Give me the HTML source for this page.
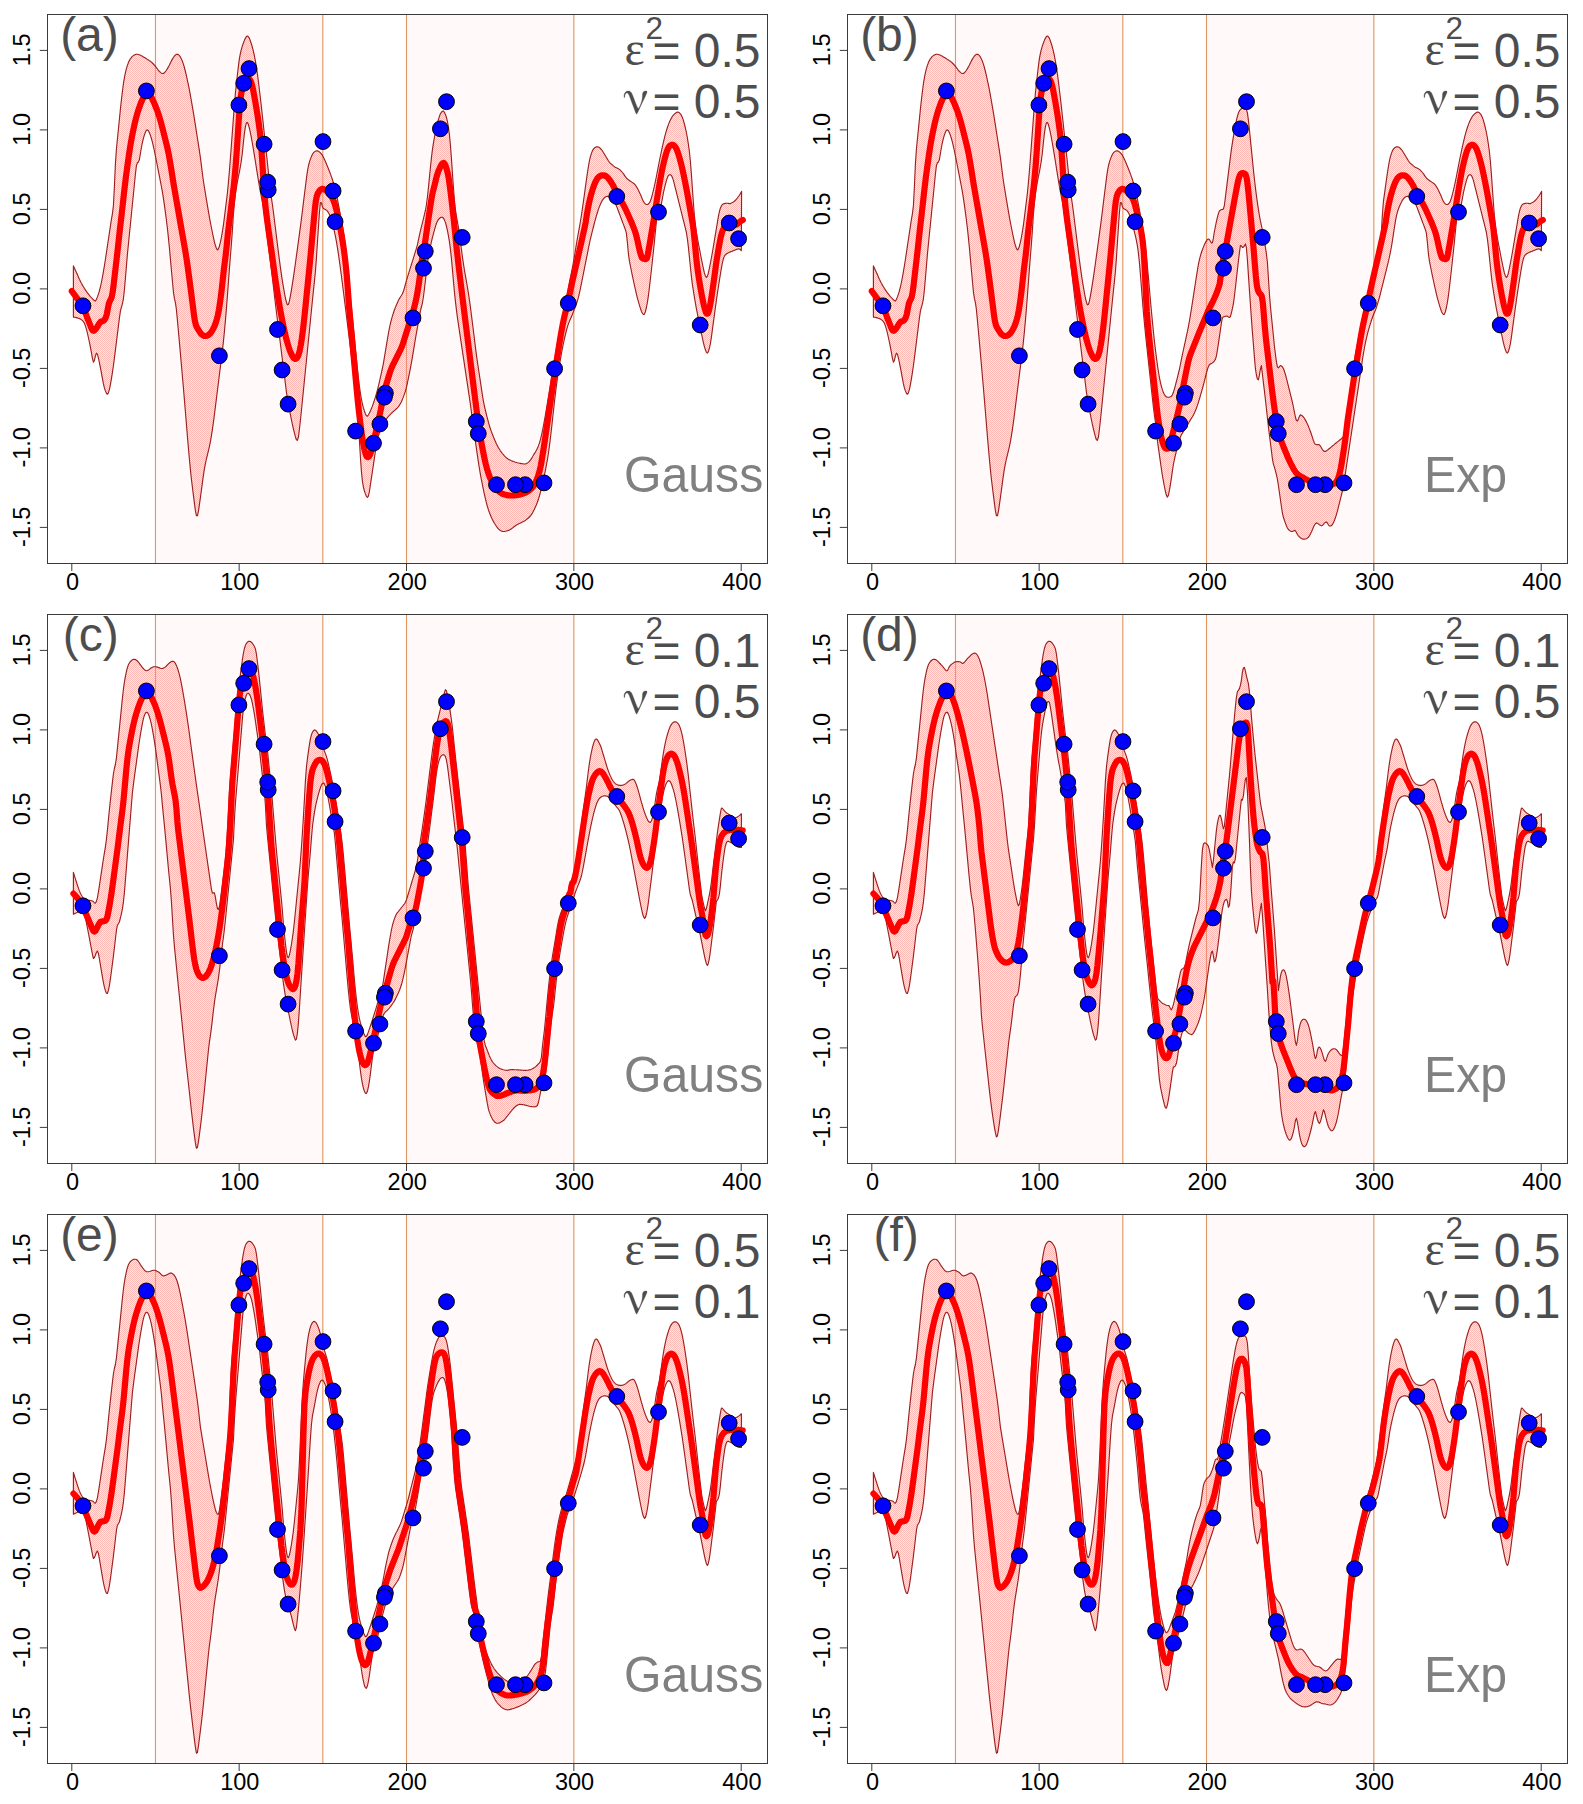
<!DOCTYPE html>
<html><head><meta charset="utf-8"><title>GP panels</title>
<style>
html,body{margin:0;padding:0;background:#fff;}
svg{display:block;}
text{font-family:"Liberation Sans",sans-serif;}
.ax{font-size:23.5px;fill:#000;}
.big{font-size:48px;}
.sup{font-size:31.5px;}
.gk{font-size:48.2px;}
.sym{font-family:"Liberation Serif",serif;font-size:48px;}
</style></head><body>
<svg width="1583" height="1804" viewBox="0 0 1583 1804">
<defs>
<path id="hl" d="M-501.75 563l549-549M-499.75 563l549-549M-497.75 563l549-549M-495.75 563l549-549M-493.75 563l549-549M-491.75 563l549-549M-489.75 563l549-549M-487.75 563l549-549M-485.75 563l549-549M-483.75 563l549-549M-481.75 563l549-549M-479.75 563l549-549M-477.75 563l549-549M-475.75 563l549-549M-473.75 563l549-549M-471.75 563l549-549M-469.75 563l549-549M-467.75 563l549-549M-465.75 563l549-549M-463.75 563l549-549M-461.75 563l549-549M-459.75 563l549-549M-457.75 563l549-549M-455.75 563l549-549M-453.75 563l549-549M-451.75 563l549-549M-449.75 563l549-549M-447.75 563l549-549M-445.75 563l549-549M-443.75 563l549-549M-441.75 563l549-549M-439.75 563l549-549M-437.75 563l549-549M-435.75 563l549-549M-433.75 563l549-549M-431.75 563l549-549M-429.75 563l549-549M-427.75 563l549-549M-425.75 563l549-549M-423.75 563l549-549M-421.75 563l549-549M-419.75 563l549-549M-417.75 563l549-549M-415.75 563l549-549M-413.75 563l549-549M-411.75 563l549-549M-409.75 563l549-549M-407.75 563l549-549M-405.75 563l549-549M-403.75 563l549-549M-401.75 563l549-549M-399.75 563l549-549M-397.75 563l549-549M-395.75 563l549-549M-393.75 563l549-549M-391.75 563l549-549M-389.75 563l549-549M-387.75 563l549-549M-385.75 563l549-549M-383.75 563l549-549M-381.75 563l549-549M-379.75 563l549-549M-377.75 563l549-549M-375.75 563l549-549M-373.75 563l549-549M-371.75 563l549-549M-369.75 563l549-549M-367.75 563l549-549M-365.75 563l549-549M-363.75 563l549-549M-361.75 563l549-549M-359.75 563l549-549M-357.75 563l549-549M-355.75 563l549-549M-353.75 563l549-549M-351.75 563l549-549M-349.75 563l549-549M-347.75 563l549-549M-345.75 563l549-549M-343.75 563l549-549M-341.75 563l549-549M-339.75 563l549-549M-337.75 563l549-549M-335.75 563l549-549M-333.75 563l549-549M-331.75 563l549-549M-329.75 563l549-549M-327.75 563l549-549M-325.75 563l549-549M-323.75 563l549-549M-321.75 563l549-549M-319.75 563l549-549M-317.75 563l549-549M-315.75 563l549-549M-313.75 563l549-549M-311.75 563l549-549M-309.75 563l549-549M-307.75 563l549-549M-305.75 563l549-549M-303.75 563l549-549M-301.75 563l549-549M-299.75 563l549-549M-297.75 563l549-549M-295.75 563l549-549M-293.75 563l549-549M-291.75 563l549-549M-289.75 563l549-549M-287.75 563l549-549M-285.75 563l549-549M-283.75 563l549-549M-281.75 563l549-549M-279.75 563l549-549M-277.75 563l549-549M-275.75 563l549-549M-273.75 563l549-549M-271.75 563l549-549M-269.75 563l549-549M-267.75 563l549-549M-265.75 563l549-549M-263.75 563l549-549M-261.75 563l549-549M-259.75 563l549-549M-257.75 563l549-549M-255.75 563l549-549M-253.75 563l549-549M-251.75 563l549-549M-249.75 563l549-549M-247.75 563l549-549M-245.75 563l549-549M-243.75 563l549-549M-241.75 563l549-549M-239.75 563l549-549M-237.75 563l549-549M-235.75 563l549-549M-233.75 563l549-549M-231.75 563l549-549M-229.75 563l549-549M-227.75 563l549-549M-225.75 563l549-549M-223.75 563l549-549M-221.75 563l549-549M-219.75 563l549-549M-217.75 563l549-549M-215.75 563l549-549M-213.75 563l549-549M-211.75 563l549-549M-209.75 563l549-549M-207.75 563l549-549M-205.75 563l549-549M-203.75 563l549-549M-201.75 563l549-549M-199.75 563l549-549M-197.75 563l549-549M-195.75 563l549-549M-193.75 563l549-549M-191.75 563l549-549M-189.75 563l549-549M-187.75 563l549-549M-185.75 563l549-549M-183.75 563l549-549M-181.75 563l549-549M-179.75 563l549-549M-177.75 563l549-549M-175.75 563l549-549M-173.75 563l549-549M-171.75 563l549-549M-169.75 563l549-549M-167.75 563l549-549M-165.75 563l549-549M-163.75 563l549-549M-161.75 563l549-549M-159.75 563l549-549M-157.75 563l549-549M-155.75 563l549-549M-153.75 563l549-549M-151.75 563l549-549M-149.75 563l549-549M-147.75 563l549-549M-145.75 563l549-549M-143.75 563l549-549M-141.75 563l549-549M-139.75 563l549-549M-137.75 563l549-549M-135.75 563l549-549M-133.75 563l549-549M-131.75 563l549-549M-129.75 563l549-549M-127.75 563l549-549M-125.75 563l549-549M-123.75 563l549-549M-121.75 563l549-549M-119.75 563l549-549M-117.75 563l549-549M-115.75 563l549-549M-113.75 563l549-549M-111.75 563l549-549M-109.75 563l549-549M-107.75 563l549-549M-105.75 563l549-549M-103.75 563l549-549M-101.75 563l549-549M-99.75 563l549-549M-97.75 563l549-549M-95.75 563l549-549M-93.75 563l549-549M-91.75 563l549-549M-89.75 563l549-549M-87.75 563l549-549M-85.75 563l549-549M-83.75 563l549-549M-81.75 563l549-549M-79.75 563l549-549M-77.75 563l549-549M-75.75 563l549-549M-73.75 563l549-549M-71.75 563l549-549M-69.75 563l549-549M-67.75 563l549-549M-65.75 563l549-549M-63.75 563l549-549M-61.75 563l549-549M-59.75 563l549-549M-57.75 563l549-549M-55.75 563l549-549M-53.75 563l549-549M-51.75 563l549-549M-49.75 563l549-549M-47.75 563l549-549M-45.75 563l549-549M-43.75 563l549-549M-41.75 563l549-549M-39.75 563l549-549M-37.75 563l549-549M-35.75 563l549-549M-33.75 563l549-549M-31.75 563l549-549M-29.75 563l549-549M-27.75 563l549-549M-25.75 563l549-549M-23.75 563l549-549M-21.75 563l549-549M-19.75 563l549-549M-17.75 563l549-549M-15.75 563l549-549M-13.75 563l549-549M-11.75 563l549-549M-9.75 563l549-549M-7.75 563l549-549M-5.75 563l549-549M-3.75 563l549-549M-1.75 563l549-549M0.25 563l549-549M2.25 563l549-549M4.25 563l549-549M6.25 563l549-549M8.25 563l549-549M10.25 563l549-549M12.25 563l549-549M14.25 563l549-549M16.25 563l549-549M18.25 563l549-549M20.25 563l549-549M22.25 563l549-549M24.25 563l549-549M26.25 563l549-549M28.25 563l549-549M30.25 563l549-549M32.25 563l549-549M34.25 563l549-549M36.25 563l549-549M38.25 563l549-549M40.25 563l549-549M42.25 563l549-549M44.25 563l549-549M46.25 563l549-549M48.25 563l549-549M50.25 563l549-549M52.25 563l549-549M54.25 563l549-549M56.25 563l549-549M58.25 563l549-549M60.25 563l549-549M62.25 563l549-549M64.25 563l549-549M66.25 563l549-549M68.25 563l549-549M70.25 563l549-549M72.25 563l549-549M74.25 563l549-549M76.25 563l549-549M78.25 563l549-549M80.25 563l549-549M82.25 563l549-549M84.25 563l549-549M86.25 563l549-549M88.25 563l549-549M90.25 563l549-549M92.25 563l549-549M94.25 563l549-549M96.25 563l549-549M98.25 563l549-549M100.25 563l549-549M102.25 563l549-549M104.25 563l549-549M106.25 563l549-549M108.25 563l549-549M110.25 563l549-549M112.25 563l549-549M114.25 563l549-549M116.25 563l549-549M118.25 563l549-549M120.25 563l549-549M122.25 563l549-549M124.25 563l549-549M126.25 563l549-549M128.25 563l549-549M130.25 563l549-549M132.25 563l549-549M134.25 563l549-549M136.25 563l549-549M138.25 563l549-549M140.25 563l549-549M142.25 563l549-549M144.25 563l549-549M146.25 563l549-549M148.25 563l549-549M150.25 563l549-549M152.25 563l549-549M154.25 563l549-549M156.25 563l549-549M158.25 563l549-549M160.25 563l549-549M162.25 563l549-549M164.25 563l549-549M166.25 563l549-549M168.25 563l549-549M170.25 563l549-549M172.25 563l549-549M174.25 563l549-549M176.25 563l549-549M178.25 563l549-549M180.25 563l549-549M182.25 563l549-549M184.25 563l549-549M186.25 563l549-549M188.25 563l549-549M190.25 563l549-549M192.25 563l549-549M194.25 563l549-549M196.25 563l549-549M198.25 563l549-549M200.25 563l549-549M202.25 563l549-549M204.25 563l549-549M206.25 563l549-549M208.25 563l549-549M210.25 563l549-549M212.25 563l549-549M214.25 563l549-549M216.25 563l549-549M218.25 563l549-549M220.25 563l549-549M222.25 563l549-549M224.25 563l549-549M226.25 563l549-549M228.25 563l549-549M230.25 563l549-549M232.25 563l549-549M234.25 563l549-549M236.25 563l549-549M238.25 563l549-549M240.25 563l549-549M242.25 563l549-549M244.25 563l549-549M246.25 563l549-549M248.25 563l549-549M250.25 563l549-549M252.25 563l549-549M254.25 563l549-549M256.25 563l549-549M258.25 563l549-549M260.25 563l549-549M262.25 563l549-549M264.25 563l549-549M266.25 563l549-549M268.25 563l549-549M270.25 563l549-549M272.25 563l549-549M274.25 563l549-549M276.25 563l549-549M278.25 563l549-549M280.25 563l549-549M282.25 563l549-549M284.25 563l549-549M286.25 563l549-549M288.25 563l549-549M290.25 563l549-549M292.25 563l549-549M294.25 563l549-549M296.25 563l549-549M298.25 563l549-549M300.25 563l549-549M302.25 563l549-549M304.25 563l549-549M306.25 563l549-549M308.25 563l549-549M310.25 563l549-549M312.25 563l549-549M314.25 563l549-549M316.25 563l549-549M318.25 563l549-549M320.25 563l549-549M322.25 563l549-549M324.25 563l549-549M326.25 563l549-549M328.25 563l549-549M330.25 563l549-549M332.25 563l549-549M334.25 563l549-549M336.25 563l549-549M338.25 563l549-549M340.25 563l549-549M342.25 563l549-549M344.25 563l549-549M346.25 563l549-549M348.25 563l549-549M350.25 563l549-549M352.25 563l549-549M354.25 563l549-549M356.25 563l549-549M358.25 563l549-549M360.25 563l549-549M362.25 563l549-549M364.25 563l549-549M366.25 563l549-549M368.25 563l549-549M370.25 563l549-549M372.25 563l549-549M374.25 563l549-549M376.25 563l549-549M378.25 563l549-549M380.25 563l549-549M382.25 563l549-549M384.25 563l549-549M386.25 563l549-549M388.25 563l549-549M390.25 563l549-549M392.25 563l549-549M394.25 563l549-549M396.25 563l549-549M398.25 563l549-549M400.25 563l549-549M402.25 563l549-549M404.25 563l549-549M406.25 563l549-549M408.25 563l549-549M410.25 563l549-549M412.25 563l549-549M414.25 563l549-549M416.25 563l549-549M418.25 563l549-549M420.25 563l549-549M422.25 563l549-549M424.25 563l549-549M426.25 563l549-549M428.25 563l549-549M430.25 563l549-549M432.25 563l549-549M434.25 563l549-549M436.25 563l549-549M438.25 563l549-549M440.25 563l549-549M442.25 563l549-549M444.25 563l549-549M446.25 563l549-549M448.25 563l549-549M450.25 563l549-549M452.25 563l549-549M454.25 563l549-549M456.25 563l549-549M458.25 563l549-549M460.25 563l549-549M462.25 563l549-549M464.25 563l549-549M466.25 563l549-549M468.25 563l549-549M470.25 563l549-549M472.25 563l549-549M474.25 563l549-549M476.25 563l549-549M478.25 563l549-549M480.25 563l549-549M482.25 563l549-549M484.25 563l549-549M486.25 563l549-549M488.25 563l549-549M490.25 563l549-549M492.25 563l549-549M494.25 563l549-549M496.25 563l549-549M498.25 563l549-549M500.25 563l549-549M502.25 563l549-549M504.25 563l549-549M506.25 563l549-549M508.25 563l549-549M510.25 563l549-549M512.25 563l549-549M514.25 563l549-549M516.25 563l549-549M518.25 563l549-549M520.25 563l549-549M522.25 563l549-549M524.25 563l549-549M526.25 563l549-549M528.25 563l549-549M530.25 563l549-549M532.25 563l549-549M534.25 563l549-549M536.25 563l549-549M538.25 563l549-549M540.25 563l549-549M542.25 563l549-549M544.25 563l549-549M546.25 563l549-549M548.25 563l549-549M550.25 563l549-549M552.25 563l549-549M554.25 563l549-549M556.25 563l549-549M558.25 563l549-549M560.25 563l549-549M562.25 563l549-549M564.25 563l549-549M566.25 563l549-549M568.25 563l549-549M570.25 563l549-549M572.25 563l549-549M574.25 563l549-549M576.25 563l549-549M578.25 563l549-549M580.25 563l549-549M582.25 563l549-549M584.25 563l549-549M586.25 563l549-549M588.25 563l549-549M590.25 563l549-549M592.25 563l549-549M594.25 563l549-549M596.25 563l549-549M598.25 563l549-549M600.25 563l549-549M602.25 563l549-549M604.25 563l549-549M606.25 563l549-549M608.25 563l549-549M610.25 563l549-549M612.25 563l549-549M614.25 563l549-549M616.25 563l549-549M618.25 563l549-549M620.25 563l549-549M622.25 563l549-549M624.25 563l549-549M626.25 563l549-549M628.25 563l549-549M630.25 563l549-549M632.25 563l549-549M634.25 563l549-549M636.25 563l549-549M638.25 563l549-549M640.25 563l549-549M642.25 563l549-549M644.25 563l549-549M646.25 563l549-549M648.25 563l549-549M650.25 563l549-549M652.25 563l549-549M654.25 563l549-549M656.25 563l549-549M658.25 563l549-549M660.25 563l549-549M662.25 563l549-549M664.25 563l549-549M666.25 563l549-549M668.25 563l549-549M670.25 563l549-549M672.25 563l549-549M674.25 563l549-549M676.25 563l549-549M678.25 563l549-549M680.25 563l549-549M682.25 563l549-549M684.25 563l549-549M686.25 563l549-549M688.25 563l549-549M690.25 563l549-549M692.25 563l549-549M694.25 563l549-549M696.25 563l549-549M698.25 563l549-549M700.25 563l549-549M702.25 563l549-549M704.25 563l549-549M706.25 563l549-549M708.25 563l549-549M710.25 563l549-549M712.25 563l549-549M714.25 563l549-549M716.25 563l549-549M718.25 563l549-549M720.25 563l549-549M722.25 563l549-549M724.25 563l549-549M726.25 563l549-549M728.25 563l549-549M730.25 563l549-549M732.25 563l549-549M734.25 563l549-549M736.25 563l549-549M738.25 563l549-549M740.25 563l549-549M742.25 563l549-549M744.25 563l549-549M746.25 563l549-549M748.25 563l549-549M750.25 563l549-549M752.25 563l549-549M754.25 563l549-549M756.25 563l549-549M758.25 563l549-549M760.25 563l549-549M762.25 563l549-549M764.25 563l549-549M766.25 563l549-549" fill="none" stroke="#ff8c85" stroke-width="0.8"/>
</defs>
<rect width="1583" height="1804" fill="#fff"/>
<g transform="translate(0,0)">
<rect x="155.47" y="14.5" width="167.35" height="549" fill="#fffaf9"/>
<rect x="406.50" y="14.5" width="167.35" height="549" fill="#fffaf9"/>
<line x1="155.47" y1="14.5" x2="155.47" y2="563.5" stroke="#e09862" stroke-width="1.15"/>
<line x1="322.82" y1="14.5" x2="322.82" y2="563.5" stroke="#e09862" stroke-width="1.15"/>
<line x1="406.50" y1="14.5" x2="406.50" y2="563.5" stroke="#e09862" stroke-width="1.15"/>
<line x1="573.85" y1="14.5" x2="573.85" y2="563.5" stroke="#e09862" stroke-width="1.15"/>
<clipPath id="cp0"><path d="M73.4 265.9L74.4 268.0L75.4 270.2L76.4 272.4L77.4 274.6L78.4 276.9L79.4 279.2L80.4 281.3L81.4 283.3L82.4 285.1L83.4 286.8L84.4 288.4L85.4 289.9L86.4 291.4L87.4 292.8L88.4 294.1L89.4 295.4L90.4 296.6L91.4 297.7L92.4 298.7L93.4 299.8L94.4 300.6L95.4 301.0L96.4 299.5L97.4 296.9L98.4 294.1L99.4 290.8L100.4 287.0L101.4 282.5L102.4 277.4L103.4 271.7L104.4 265.8L105.4 259.5L106.4 252.8L107.4 246.1L108.4 239.5L109.4 232.8L110.4 226.1L111.4 219.5L112.4 213.8L113.4 205.9L114.4 186.7L115.4 164.1L116.4 149.2L117.4 139.2L118.4 129.2L119.4 119.2L120.4 109.3L121.4 100.0L122.4 91.5L123.4 83.9L124.4 77.8L125.4 72.7L126.4 68.6L127.4 65.4L128.4 62.6L129.4 60.4L130.4 58.8L131.4 57.5L132.4 56.4L133.4 55.6L134.4 55.0L135.4 54.5L136.4 54.2L137.4 54.3L138.4 54.5L139.4 54.8L140.4 55.2L141.4 55.8L142.4 56.3L143.4 56.9L144.4 57.5L145.4 58.1L146.4 58.7L147.4 59.4L148.4 60.0L149.4 60.7L150.4 61.3L151.4 62.1L152.4 63.0L153.4 64.0L154.4 65.1L155.4 66.4L156.4 67.7L157.4 69.0L158.4 70.4L159.4 71.5L160.4 72.4L161.4 73.2L162.4 73.5L163.4 73.4L164.4 72.8L165.4 71.7L166.4 70.2L167.4 68.6L168.4 66.9L169.4 65.0L170.4 62.9L171.4 60.9L172.4 59.1L173.4 57.5L174.4 56.1L175.4 55.0L176.4 54.4L177.4 54.2L178.4 54.6L179.4 55.6L180.4 57.0L181.4 58.9L182.4 61.3L183.4 64.1L184.4 67.5L185.4 71.5L186.4 75.7L187.4 80.3L188.4 84.9L189.4 89.9L190.4 95.3L191.4 101.0L192.4 106.8L193.4 112.7L194.4 118.8L195.4 125.2L196.4 131.6L197.4 138.0L198.4 144.4L199.4 150.8L200.4 157.6L201.4 165.4L202.4 173.5L203.4 181.0L204.4 187.3L205.4 193.3L206.4 199.3L207.4 205.3L208.4 211.3L209.4 217.2L210.4 222.5L211.4 227.5L212.4 232.5L213.4 237.3L214.4 241.8L215.4 245.5L216.4 248.4L217.4 249.9L218.4 249.0L219.4 246.1L220.4 242.2L221.4 237.4L222.4 231.7L223.4 225.2L224.4 217.4L225.4 209.4L226.4 201.4L227.4 193.0L228.4 182.7L229.4 171.0L230.4 158.2L231.4 144.9L232.4 131.6L233.4 118.2L234.4 105.0L235.4 93.3L236.4 83.7L237.4 74.8L238.4 66.1L239.4 58.7L240.4 53.3L241.4 49.2L242.4 45.9L243.4 43.0L244.4 40.4L245.4 38.1L246.4 36.6L247.4 36.0L248.4 36.7L249.4 38.4L250.4 41.0L251.4 44.0L252.4 47.3L253.4 51.2L254.4 55.8L255.4 61.2L256.4 67.2L257.4 73.9L258.4 81.5L259.4 89.8L260.4 98.2L261.4 106.9L262.4 116.1L263.4 125.4L264.4 134.7L265.4 144.1L266.4 153.4L267.4 162.7L268.4 172.1L269.4 181.4L270.4 190.5L271.4 197.8L272.4 204.5L273.4 212.0L274.4 220.0L275.4 228.0L276.4 236.0L277.4 244.0L278.4 252.0L279.4 259.9L280.4 267.3L281.4 274.4L282.4 281.1L283.4 287.1L284.4 292.7L285.4 298.0L286.4 302.2L287.4 304.8L288.4 304.5L289.4 301.2L290.4 295.9L291.4 290.2L292.4 283.8L293.4 277.4L294.4 270.7L295.4 263.5L296.4 256.2L297.4 248.8L298.4 241.5L299.4 234.2L300.4 226.8L301.4 219.2L302.4 211.0L303.4 202.9L304.4 194.8L305.4 186.7L306.4 178.6L307.4 171.3L308.4 166.0L309.4 162.1L310.4 159.1L311.4 156.6L312.4 154.5L313.4 152.9L314.4 151.9L315.4 151.2L316.4 150.8L317.4 150.8L318.4 151.2L319.4 151.9L320.4 152.8L321.4 153.9L322.4 155.4L323.4 157.2L324.4 159.3L325.4 161.5L326.4 163.8L327.4 166.2L328.4 168.7L329.4 171.2L330.4 173.9L331.4 176.6L332.4 179.5L333.4 182.6L334.4 186.1L335.4 190.1L336.4 194.4L337.4 199.2L338.4 204.3L339.4 209.7L340.4 215.3L341.4 220.8L342.4 226.3L343.4 232.2L344.4 238.8L345.4 246.8L346.4 256.0L347.4 265.8L348.4 276.1L349.4 286.5L350.4 296.9L351.4 307.3L352.4 317.8L353.4 328.2L354.4 338.6L355.4 348.8L356.4 358.8L357.4 368.6L358.4 378.1L359.4 386.3L360.4 393.3L361.4 399.1L362.4 404.0L363.4 407.8L364.4 411.0L365.4 413.7L366.4 415.8L367.4 416.2L368.4 415.0L369.4 413.1L370.4 410.9L371.4 408.6L372.4 406.1L373.4 403.3L374.4 400.3L375.4 397.1L376.4 393.7L377.4 390.1L378.4 386.1L379.4 381.9L380.4 377.4L381.4 372.9L382.4 368.5L383.4 363.3L384.4 357.3L385.4 351.3L386.4 345.3L387.4 339.3L388.4 333.5L389.4 328.2L390.4 323.5L391.4 319.6L392.4 316.2L393.4 313.0L394.4 310.0L395.4 307.4L396.4 305.0L397.4 302.8L398.4 300.6L399.4 298.6L400.4 297.0L401.4 295.5L402.4 293.7L403.4 291.3L404.4 288.0L405.4 284.4L406.4 280.7L407.4 277.3L408.4 274.1L409.4 270.9L410.4 267.7L411.4 264.5L412.4 261.3L413.4 258.1L414.4 254.9L415.4 251.7L416.4 248.5L417.4 244.9L418.4 240.2L419.4 235.3L420.4 230.8L421.4 226.8L422.4 222.8L423.4 218.8L424.4 214.7L425.4 210.5L426.4 205.0L427.4 197.3L428.4 188.0L429.4 177.9L430.4 167.7L431.4 158.1L432.4 149.8L433.4 143.3L434.4 137.5L435.4 132.2L436.4 127.5L437.4 123.3L438.4 119.6L439.4 116.4L440.4 113.8L441.4 112.2L442.4 111.3L443.4 111.1L444.4 112.3L445.4 114.4L446.4 117.2L447.4 121.4L448.4 127.1L449.4 134.5L450.4 144.8L451.4 158.1L452.4 172.8L453.4 187.3L454.4 200.1L455.4 209.7L456.4 216.1L457.4 221.6L458.4 227.3L459.4 233.9L460.4 241.5L461.4 249.2L462.4 256.8L463.4 263.6L464.4 269.9L465.4 275.6L466.4 281.3L467.4 287.0L468.4 293.1L469.4 299.9L470.4 307.1L471.4 314.8L472.4 322.8L473.4 330.8L474.4 338.9L475.4 347.1L476.4 354.9L477.4 361.9L478.4 368.5L479.4 375.0L480.4 381.6L481.4 388.3L482.4 395.0L483.4 401.1L484.4 406.0L485.4 410.4L486.4 414.5L487.4 418.4L488.4 422.1L489.4 425.6L490.4 428.7L491.4 431.6L492.4 434.2L493.4 436.8L494.4 439.2L495.4 441.5L496.4 443.7L497.4 445.7L498.4 447.6L499.4 449.3L500.4 450.8L501.4 452.2L502.4 453.5L503.4 454.7L504.4 455.9L505.4 456.9L506.4 457.8L507.4 458.6L508.4 459.2L509.4 459.7L510.4 460.2L511.4 460.7L512.4 461.1L513.4 461.5L514.4 461.8L515.4 462.2L516.4 462.5L517.4 462.8L518.4 463.0L519.4 463.2L520.4 463.4L521.4 463.6L522.4 463.8L523.4 463.9L524.4 464.0L525.4 463.9L526.4 463.6L527.4 463.1L528.4 462.4L529.4 461.4L530.4 460.1L531.4 458.6L532.4 457.0L533.4 455.3L534.4 453.6L535.4 452.0L536.4 450.2L537.4 448.2L538.4 445.9L539.4 443.1L540.4 439.7L541.4 435.7L542.4 431.1L543.4 426.1L544.4 420.7L545.4 415.0L546.4 409.1L547.4 403.1L548.4 397.1L549.4 391.1L550.4 385.1L551.4 379.1L552.4 373.1L553.4 367.1L554.4 361.1L555.4 355.1L556.4 349.1L557.4 343.6L558.4 338.5L559.4 333.5L560.4 328.6L561.4 323.7L562.4 319.0L563.4 314.3L564.4 309.5L565.4 304.6L566.4 299.2L567.4 293.6L568.4 288.0L569.4 282.6L570.4 277.7L571.4 272.9L572.4 267.9L573.4 262.4L574.4 256.4L575.4 250.3L576.4 244.2L577.4 238.4L578.4 232.9L579.4 227.3L580.4 221.5L581.4 215.3L582.4 208.6L583.4 201.6L584.4 194.5L585.4 187.2L586.4 180.1L587.4 173.2L588.4 166.5L589.4 160.8L590.4 156.6L591.4 153.4L592.4 150.9L593.4 149.1L594.4 148.0L595.4 147.2L596.4 146.8L597.4 146.8L598.4 147.0L599.4 147.6L600.4 148.5L601.4 149.5L602.4 150.8L603.4 152.5L604.4 154.1L605.4 155.8L606.4 157.5L607.4 159.1L608.4 160.8L609.4 162.3L610.4 163.3L611.4 164.1L612.4 165.0L613.4 165.9L614.4 166.7L615.4 167.4L616.4 167.8L617.4 168.2L618.4 168.7L619.4 169.4L620.4 170.3L621.4 171.3L622.4 172.5L623.4 173.7L624.4 175.1L625.4 176.7L626.4 178.0L627.4 179.0L628.4 179.8L629.4 180.5L630.4 181.2L631.4 181.9L632.4 182.6L633.4 183.2L634.4 184.0L635.4 185.1L636.4 186.6L637.4 188.3L638.4 190.2L639.4 192.3L640.4 194.4L641.4 196.8L642.4 199.2L643.4 201.4L644.4 202.9L645.4 203.9L646.4 204.5L647.4 204.5L648.4 204.0L649.4 202.9L650.4 200.9L651.4 198.0L652.4 194.4L653.4 190.4L654.4 186.1L655.4 181.4L656.4 176.5L657.4 171.4L658.4 166.1L659.4 161.0L660.4 156.1L661.4 151.4L662.4 146.7L663.4 142.3L664.4 138.1L665.4 134.2L666.4 130.7L667.4 127.5L668.4 124.6L669.4 122.1L670.4 119.9L671.4 118.0L672.4 116.4L673.4 115.1L674.4 114.1L675.4 113.2L676.4 112.5L677.4 112.1L678.4 112.2L679.4 112.8L680.4 113.9L681.4 115.4L682.4 117.5L683.4 120.4L684.4 124.0L685.4 128.0L686.4 132.5L687.4 138.0L688.4 144.4L689.4 151.7L690.4 161.6L691.4 174.4L692.4 188.7L693.4 203.0L694.4 215.9L695.4 225.9L696.4 232.4L697.4 238.1L698.4 243.5L699.4 248.7L700.4 253.8L701.4 258.9L702.4 263.8L703.4 268.6L704.4 272.9L705.4 276.0L706.4 277.3L707.4 276.1L708.4 272.8L709.4 268.2L710.4 263.1L711.4 257.9L712.4 252.3L713.4 246.3L714.4 240.3L715.4 234.3L716.4 228.3L717.4 222.3L718.4 216.3L719.4 211.5L720.4 208.1L721.4 205.9L722.4 204.5L723.4 203.9L724.4 203.6L725.4 203.4L726.4 203.2L727.4 203.3L728.4 203.4L729.4 203.6L730.4 203.6L731.4 203.1L732.4 202.5L733.4 201.9L734.4 201.2L735.4 200.3L736.4 199.2L737.4 198.0L738.4 196.7L739.4 195.2L740.4 193.6L741.4 191.9L741.6 191.4L741.3 250.7L740.4 249.8L739.4 249.0L738.4 248.8L737.4 249.1L736.4 249.5L735.4 249.9L734.4 250.3L733.4 250.7L732.4 251.1L731.4 251.5L730.4 251.9L729.4 252.3L728.4 252.7L727.4 253.3L726.4 254.0L725.4 254.9L724.4 256.1L723.4 258.7L722.4 262.8L721.4 268.2L720.4 274.1L719.4 280.3L718.4 286.8L717.4 293.3L716.4 300.2L715.4 307.5L714.4 314.8L713.4 322.2L712.4 329.7L711.4 337.2L710.4 343.7L709.4 348.1L708.4 351.5L707.4 353.1L706.4 352.4L705.4 349.8L704.4 346.6L703.4 342.6L702.4 338.0L701.4 333.3L700.4 328.5L699.4 323.7L698.4 318.7L697.4 313.7L696.4 308.6L695.4 303.1L694.4 297.2L693.4 290.9L692.4 284.4L691.4 276.5L690.4 267.0L689.4 257.0L688.4 247.3L687.4 238.9L686.4 232.5L685.4 228.4L684.4 224.4L683.4 220.4L682.4 216.4L681.4 212.4L680.4 208.4L679.4 204.4L678.4 200.4L677.4 196.4L676.4 192.4L675.4 188.4L674.4 184.4L673.4 180.4L672.4 177.4L671.4 175.5L670.4 174.7L669.4 174.7L668.4 175.6L667.4 177.6L666.4 180.6L665.4 184.3L664.4 188.4L663.4 192.9L662.4 198.3L661.4 203.6L660.4 206.2L659.4 206.3L658.4 207.8L657.4 213.6L656.4 221.8L655.4 231.4L654.4 241.6L653.4 251.5L652.4 260.8L651.4 270.0L650.4 279.0L649.4 287.5L648.4 295.7L647.4 302.4L646.4 307.5L645.4 311.6L644.4 314.2L643.4 314.5L642.4 313.3L641.4 311.2L640.4 308.3L639.4 305.1L638.4 301.7L637.4 298.1L636.4 294.0L635.4 289.6L634.4 285.1L633.4 280.5L632.4 275.9L631.4 271.0L630.4 266.0L629.4 260.8L628.4 253.7L627.4 242.6L626.4 233.3L625.4 229.7L624.4 227.0L623.4 224.4L622.4 221.7L621.4 219.0L620.4 216.4L619.4 213.7L618.4 211.0L617.4 208.4L616.4 205.8L615.4 203.9L614.4 202.6L613.4 201.5L612.4 200.3L611.4 199.2L610.4 198.2L609.4 197.3L608.4 196.6L607.4 196.4L606.4 196.5L605.4 197.0L604.4 197.8L603.4 198.9L602.4 200.3L601.4 202.1L600.4 204.2L599.4 206.6L598.4 209.4L597.4 212.5L596.4 215.9L595.4 219.4L594.4 223.1L593.4 227.0L592.4 230.8L591.4 234.8L590.4 239.0L589.4 243.7L588.4 248.7L587.4 253.7L586.4 258.7L585.4 263.7L584.4 268.7L583.4 273.7L582.4 278.7L581.4 283.7L580.4 288.6L579.4 293.2L578.4 297.4L577.4 300.9L576.4 304.0L575.4 306.7L574.4 309.3L573.4 311.8L572.4 314.4L571.4 316.7L570.4 319.0L569.4 321.4L568.4 323.9L567.4 326.9L566.4 330.5L565.4 334.5L564.4 338.9L563.4 343.5L562.4 348.4L561.4 353.6L560.4 359.3L559.4 365.4L558.4 371.8L557.4 378.5L556.4 385.6L555.4 393.6L554.4 402.3L553.4 411.3L552.4 420.5L551.4 429.6L550.4 438.3L549.4 446.3L548.4 453.5L547.4 459.6L546.4 465.2L545.4 470.3L544.4 475.1L543.4 479.6L542.4 483.9L541.4 488.2L540.4 492.3L539.4 496.0L538.4 499.3L537.4 502.2L536.4 504.8L535.4 507.1L534.4 509.2L533.4 511.2L532.4 513.1L531.4 514.7L530.4 516.0L529.4 517.0L528.4 518.0L527.4 518.8L526.4 519.6L525.4 520.4L524.4 521.0L523.4 521.6L522.4 522.1L521.4 522.6L520.4 523.0L519.4 523.5L518.4 523.9L517.4 524.5L516.4 525.0L515.4 525.7L514.4 526.5L513.4 527.3L512.4 528.1L511.4 528.8L510.4 529.4L509.4 529.9L508.4 530.4L507.4 530.7L506.4 531.0L505.4 531.3L504.4 531.5L503.4 531.5L502.4 531.4L501.4 531.0L500.4 530.5L499.4 529.8L498.4 528.9L497.4 527.7L496.4 526.3L495.4 524.8L494.4 523.2L493.4 521.4L492.4 519.5L491.4 517.4L490.4 515.1L489.4 512.5L488.4 509.7L487.4 506.5L486.4 502.8L485.4 498.7L484.4 494.3L483.4 489.6L482.4 484.7L481.4 479.7L480.4 474.3L479.4 468.5L478.4 462.1L477.4 455.3L476.4 448.3L475.4 441.3L474.4 434.1L473.4 426.9L472.4 419.6L471.4 411.9L470.4 404.4L469.4 397.6L468.4 390.9L467.4 384.2L466.4 377.6L465.4 370.9L464.4 364.2L463.4 357.6L462.4 350.9L461.4 344.2L460.4 337.6L459.4 330.9L458.4 324.2L457.4 317.5L456.4 309.6L455.4 301.1L454.4 291.6L453.4 280.6L452.4 269.1L451.4 258.2L450.4 249.1L449.4 241.7L448.4 235.6L447.4 230.4L446.4 226.0L445.4 222.4L444.4 219.9L443.4 218.2L442.4 217.3L441.4 217.2L440.4 217.6L439.4 218.5L438.4 219.6L437.4 221.2L436.4 223.5L435.4 226.6L434.4 230.1L433.4 233.8L432.4 237.7L431.4 241.9L430.4 246.3L429.4 251.1L428.4 256.5L427.4 263.6L426.4 271.9L425.4 280.7L424.4 289.3L423.4 297.0L422.4 303.1L421.4 307.0L420.4 311.1L419.4 316.6L418.4 322.1L417.4 327.6L416.4 333.1L415.4 339.0L414.4 345.1L413.4 351.1L412.4 357.1L411.4 362.8L410.4 368.2L409.4 373.3L408.4 378.2L407.4 383.0L406.4 387.3L405.4 391.1L404.4 394.1L403.4 396.9L402.4 399.4L401.4 401.7L400.4 403.6L399.4 405.3L398.4 406.7L397.4 407.9L396.4 408.8L395.4 409.7L394.4 410.6L393.4 411.5L392.4 412.4L391.4 413.3L390.4 414.3L389.4 415.4L388.4 416.4L387.4 417.6L386.4 419.0L385.4 420.5L384.4 422.3L383.4 424.2L382.4 426.2L381.4 428.3L380.4 430.5L379.4 432.8L378.4 435.7L377.4 439.6L376.4 445.0L375.4 451.5L374.4 458.2L373.4 464.9L372.4 471.5L371.4 478.2L370.4 484.9L369.4 491.5L368.4 496.2L367.4 497.3L366.4 496.3L365.4 493.9L364.4 491.0L363.4 487.1L362.4 481.0L361.4 471.1L360.4 456.7L359.4 440.0L358.4 423.3L357.4 408.9L356.4 398.3L355.4 388.6L354.4 379.6L353.4 371.5L352.4 363.5L351.4 355.5L350.4 347.5L349.4 339.5L348.4 331.5L347.4 323.5L346.4 315.5L345.4 307.5L344.4 299.5L343.4 291.5L342.4 283.5L341.4 275.8L340.4 268.4L339.4 261.0L338.4 253.9L337.4 247.3L336.4 241.4L335.4 236.1L334.4 231.3L333.4 226.9L332.4 223.1L331.4 219.7L330.4 216.9L329.4 214.5L328.4 212.6L327.4 211.2L326.4 210.2L325.4 209.6L324.4 209.0L323.4 208.5L322.4 206.8L321.4 202.7L320.4 202.5L319.4 212.7L318.4 227.7L317.4 242.8L316.4 258.4L315.4 271.5L314.4 281.6L313.4 290.9L312.4 300.7L311.4 310.7L310.4 320.7L309.4 330.7L308.4 340.7L307.4 350.7L306.4 360.7L305.4 370.7L304.4 380.7L303.4 390.7L302.4 400.7L301.4 410.7L300.4 420.5L299.4 429.5L298.4 437.2L297.4 440.4L296.4 439.7L295.4 436.7L294.4 432.9L293.4 428.8L292.4 424.5L291.4 419.7L290.4 414.7L289.4 409.9L288.4 404.9L287.4 399.0L286.4 391.8L285.4 383.8L284.4 375.8L283.4 367.8L282.4 359.8L281.4 351.8L280.4 343.8L279.4 335.8L278.4 327.8L277.4 319.8L276.4 311.8L275.4 303.4L274.4 294.9L273.4 286.4L272.4 278.0L271.4 269.8L270.4 261.7L269.4 253.8L268.4 245.8L267.4 237.9L266.4 230.1L265.4 222.4L264.4 215.0L263.4 208.2L262.4 202.3L261.4 196.9L260.4 191.8L259.4 186.4L258.4 180.5L257.4 174.2L256.4 167.8L255.4 161.5L254.4 155.4L253.4 149.4L252.4 143.5L251.4 137.9L250.4 132.6L249.4 128.3L248.4 124.5L247.4 122.5L246.4 122.9L245.4 126.8L244.4 133.3L243.4 142.5L242.4 152.5L241.4 160.3L240.4 166.5L239.4 171.8L238.4 176.7L237.4 181.7L236.4 187.3L235.4 194.2L234.4 202.9L233.4 214.2L232.4 230.1L231.4 243.9L230.4 256.3L229.4 268.9L228.4 282.3L227.4 295.9L226.4 308.7L225.4 320.6L224.4 331.6L223.4 341.6L222.4 350.6L221.4 358.7L220.4 366.7L219.4 374.7L218.4 382.7L217.4 390.7L216.4 398.7L215.4 406.7L214.4 414.7L213.4 422.3L212.4 429.3L211.4 435.9L210.4 441.7L209.4 446.6L208.4 450.8L207.4 454.9L206.4 459.0L205.4 463.6L204.4 468.9L203.4 475.3L202.4 482.6L201.4 490.2L200.4 497.7L199.4 504.7L198.4 511.4L197.4 515.8L196.4 515.6L195.4 510.7L194.4 503.2L193.4 495.1L192.4 487.3L191.4 479.0L190.4 469.6L189.4 459.0L188.4 447.8L187.4 436.2L186.4 424.0L185.4 411.7L184.4 399.6L183.4 387.8L182.4 376.3L181.4 364.9L180.4 353.4L179.4 342.1L178.4 331.0L177.4 320.1L176.4 309.5L175.4 302.6L174.4 298.4L173.4 291.8L172.4 281.0L171.4 270.0L170.4 258.9L169.4 247.8L168.4 237.6L167.4 228.3L166.4 220.0L165.4 212.4L164.4 205.1L163.4 198.1L162.4 191.9L161.4 186.5L160.4 181.3L159.4 176.2L158.4 171.1L157.4 166.0L156.4 160.9L155.4 155.9L154.4 151.0L153.4 146.4L152.4 142.2L151.4 138.5L150.4 135.4L149.4 132.7L148.4 130.7L147.4 129.9L146.4 130.3L145.4 132.2L144.4 134.9L143.4 138.3L142.4 142.6L141.4 147.5L140.4 153.5L139.4 159.5L138.4 162.1L137.4 162.7L136.4 165.6L135.4 174.2L134.4 184.2L133.4 194.2L132.4 204.2L131.4 214.2L130.4 224.2L129.4 234.2L128.4 244.2L127.4 254.4L126.4 266.4L125.4 278.3L124.4 290.0L123.4 298.8L122.4 303.8L121.4 307.2L120.4 311.2L119.4 318.1L118.4 326.1L117.4 334.1L116.4 342.1L115.4 350.1L114.4 358.1L113.4 365.8L112.4 372.6L111.4 378.8L110.4 384.6L109.4 389.3L108.4 392.8L107.4 394.2L106.4 393.3L105.4 390.9L104.4 387.9L103.4 383.7L102.4 378.3L101.4 372.8L100.4 367.7L99.4 362.7L98.4 357.8L97.4 354.1L96.4 353.2L95.4 355.9L94.4 360.5L93.4 362.2L92.4 358.1L91.4 352.6L90.4 347.1L89.4 342.2L88.4 337.5L87.4 333.1L86.4 329.1L85.4 325.8L84.4 323.3L83.4 321.6L82.4 320.4L81.4 319.7L80.4 319.1L79.4 318.6L78.4 318.2L77.4 317.9L76.4 317.6L75.4 317.4L74.4 317.2L73.4 317.1Z"/></clipPath>
<use href="#hl" clip-path="url(#cp0)"/>
<path d="M73.4 265.9L74.4 268.0L75.4 270.2L76.4 272.4L77.4 274.6L78.4 276.9L79.4 279.2L80.4 281.3L81.4 283.3L82.4 285.1L83.4 286.8L84.4 288.4L85.4 289.9L86.4 291.4L87.4 292.8L88.4 294.1L89.4 295.4L90.4 296.6L91.4 297.7L92.4 298.7L93.4 299.8L94.4 300.6L95.4 301.0L96.4 299.5L97.4 296.9L98.4 294.1L99.4 290.8L100.4 287.0L101.4 282.5L102.4 277.4L103.4 271.7L104.4 265.8L105.4 259.5L106.4 252.8L107.4 246.1L108.4 239.5L109.4 232.8L110.4 226.1L111.4 219.5L112.4 213.8L113.4 205.9L114.4 186.7L115.4 164.1L116.4 149.2L117.4 139.2L118.4 129.2L119.4 119.2L120.4 109.3L121.4 100.0L122.4 91.5L123.4 83.9L124.4 77.8L125.4 72.7L126.4 68.6L127.4 65.4L128.4 62.6L129.4 60.4L130.4 58.8L131.4 57.5L132.4 56.4L133.4 55.6L134.4 55.0L135.4 54.5L136.4 54.2L137.4 54.3L138.4 54.5L139.4 54.8L140.4 55.2L141.4 55.8L142.4 56.3L143.4 56.9L144.4 57.5L145.4 58.1L146.4 58.7L147.4 59.4L148.4 60.0L149.4 60.7L150.4 61.3L151.4 62.1L152.4 63.0L153.4 64.0L154.4 65.1L155.4 66.4L156.4 67.7L157.4 69.0L158.4 70.4L159.4 71.5L160.4 72.4L161.4 73.2L162.4 73.5L163.4 73.4L164.4 72.8L165.4 71.7L166.4 70.2L167.4 68.6L168.4 66.9L169.4 65.0L170.4 62.9L171.4 60.9L172.4 59.1L173.4 57.5L174.4 56.1L175.4 55.0L176.4 54.4L177.4 54.2L178.4 54.6L179.4 55.6L180.4 57.0L181.4 58.9L182.4 61.3L183.4 64.1L184.4 67.5L185.4 71.5L186.4 75.7L187.4 80.3L188.4 84.9L189.4 89.9L190.4 95.3L191.4 101.0L192.4 106.8L193.4 112.7L194.4 118.8L195.4 125.2L196.4 131.6L197.4 138.0L198.4 144.4L199.4 150.8L200.4 157.6L201.4 165.4L202.4 173.5L203.4 181.0L204.4 187.3L205.4 193.3L206.4 199.3L207.4 205.3L208.4 211.3L209.4 217.2L210.4 222.5L211.4 227.5L212.4 232.5L213.4 237.3L214.4 241.8L215.4 245.5L216.4 248.4L217.4 249.9L218.4 249.0L219.4 246.1L220.4 242.2L221.4 237.4L222.4 231.7L223.4 225.2L224.4 217.4L225.4 209.4L226.4 201.4L227.4 193.0L228.4 182.7L229.4 171.0L230.4 158.2L231.4 144.9L232.4 131.6L233.4 118.2L234.4 105.0L235.4 93.3L236.4 83.7L237.4 74.8L238.4 66.1L239.4 58.7L240.4 53.3L241.4 49.2L242.4 45.9L243.4 43.0L244.4 40.4L245.4 38.1L246.4 36.6L247.4 36.0L248.4 36.7L249.4 38.4L250.4 41.0L251.4 44.0L252.4 47.3L253.4 51.2L254.4 55.8L255.4 61.2L256.4 67.2L257.4 73.9L258.4 81.5L259.4 89.8L260.4 98.2L261.4 106.9L262.4 116.1L263.4 125.4L264.4 134.7L265.4 144.1L266.4 153.4L267.4 162.7L268.4 172.1L269.4 181.4L270.4 190.5L271.4 197.8L272.4 204.5L273.4 212.0L274.4 220.0L275.4 228.0L276.4 236.0L277.4 244.0L278.4 252.0L279.4 259.9L280.4 267.3L281.4 274.4L282.4 281.1L283.4 287.1L284.4 292.7L285.4 298.0L286.4 302.2L287.4 304.8L288.4 304.5L289.4 301.2L290.4 295.9L291.4 290.2L292.4 283.8L293.4 277.4L294.4 270.7L295.4 263.5L296.4 256.2L297.4 248.8L298.4 241.5L299.4 234.2L300.4 226.8L301.4 219.2L302.4 211.0L303.4 202.9L304.4 194.8L305.4 186.7L306.4 178.6L307.4 171.3L308.4 166.0L309.4 162.1L310.4 159.1L311.4 156.6L312.4 154.5L313.4 152.9L314.4 151.9L315.4 151.2L316.4 150.8L317.4 150.8L318.4 151.2L319.4 151.9L320.4 152.8L321.4 153.9L322.4 155.4L323.4 157.2L324.4 159.3L325.4 161.5L326.4 163.8L327.4 166.2L328.4 168.7L329.4 171.2L330.4 173.9L331.4 176.6L332.4 179.5L333.4 182.6L334.4 186.1L335.4 190.1L336.4 194.4L337.4 199.2L338.4 204.3L339.4 209.7L340.4 215.3L341.4 220.8L342.4 226.3L343.4 232.2L344.4 238.8L345.4 246.8L346.4 256.0L347.4 265.8L348.4 276.1L349.4 286.5L350.4 296.9L351.4 307.3L352.4 317.8L353.4 328.2L354.4 338.6L355.4 348.8L356.4 358.8L357.4 368.6L358.4 378.1L359.4 386.3L360.4 393.3L361.4 399.1L362.4 404.0L363.4 407.8L364.4 411.0L365.4 413.7L366.4 415.8L367.4 416.2L368.4 415.0L369.4 413.1L370.4 410.9L371.4 408.6L372.4 406.1L373.4 403.3L374.4 400.3L375.4 397.1L376.4 393.7L377.4 390.1L378.4 386.1L379.4 381.9L380.4 377.4L381.4 372.9L382.4 368.5L383.4 363.3L384.4 357.3L385.4 351.3L386.4 345.3L387.4 339.3L388.4 333.5L389.4 328.2L390.4 323.5L391.4 319.6L392.4 316.2L393.4 313.0L394.4 310.0L395.4 307.4L396.4 305.0L397.4 302.8L398.4 300.6L399.4 298.6L400.4 297.0L401.4 295.5L402.4 293.7L403.4 291.3L404.4 288.0L405.4 284.4L406.4 280.7L407.4 277.3L408.4 274.1L409.4 270.9L410.4 267.7L411.4 264.5L412.4 261.3L413.4 258.1L414.4 254.9L415.4 251.7L416.4 248.5L417.4 244.9L418.4 240.2L419.4 235.3L420.4 230.8L421.4 226.8L422.4 222.8L423.4 218.8L424.4 214.7L425.4 210.5L426.4 205.0L427.4 197.3L428.4 188.0L429.4 177.9L430.4 167.7L431.4 158.1L432.4 149.8L433.4 143.3L434.4 137.5L435.4 132.2L436.4 127.5L437.4 123.3L438.4 119.6L439.4 116.4L440.4 113.8L441.4 112.2L442.4 111.3L443.4 111.1L444.4 112.3L445.4 114.4L446.4 117.2L447.4 121.4L448.4 127.1L449.4 134.5L450.4 144.8L451.4 158.1L452.4 172.8L453.4 187.3L454.4 200.1L455.4 209.7L456.4 216.1L457.4 221.6L458.4 227.3L459.4 233.9L460.4 241.5L461.4 249.2L462.4 256.8L463.4 263.6L464.4 269.9L465.4 275.6L466.4 281.3L467.4 287.0L468.4 293.1L469.4 299.9L470.4 307.1L471.4 314.8L472.4 322.8L473.4 330.8L474.4 338.9L475.4 347.1L476.4 354.9L477.4 361.9L478.4 368.5L479.4 375.0L480.4 381.6L481.4 388.3L482.4 395.0L483.4 401.1L484.4 406.0L485.4 410.4L486.4 414.5L487.4 418.4L488.4 422.1L489.4 425.6L490.4 428.7L491.4 431.6L492.4 434.2L493.4 436.8L494.4 439.2L495.4 441.5L496.4 443.7L497.4 445.7L498.4 447.6L499.4 449.3L500.4 450.8L501.4 452.2L502.4 453.5L503.4 454.7L504.4 455.9L505.4 456.9L506.4 457.8L507.4 458.6L508.4 459.2L509.4 459.7L510.4 460.2L511.4 460.7L512.4 461.1L513.4 461.5L514.4 461.8L515.4 462.2L516.4 462.5L517.4 462.8L518.4 463.0L519.4 463.2L520.4 463.4L521.4 463.6L522.4 463.8L523.4 463.9L524.4 464.0L525.4 463.9L526.4 463.6L527.4 463.1L528.4 462.4L529.4 461.4L530.4 460.1L531.4 458.6L532.4 457.0L533.4 455.3L534.4 453.6L535.4 452.0L536.4 450.2L537.4 448.2L538.4 445.9L539.4 443.1L540.4 439.7L541.4 435.7L542.4 431.1L543.4 426.1L544.4 420.7L545.4 415.0L546.4 409.1L547.4 403.1L548.4 397.1L549.4 391.1L550.4 385.1L551.4 379.1L552.4 373.1L553.4 367.1L554.4 361.1L555.4 355.1L556.4 349.1L557.4 343.6L558.4 338.5L559.4 333.5L560.4 328.6L561.4 323.7L562.4 319.0L563.4 314.3L564.4 309.5L565.4 304.6L566.4 299.2L567.4 293.6L568.4 288.0L569.4 282.6L570.4 277.7L571.4 272.9L572.4 267.9L573.4 262.4L574.4 256.4L575.4 250.3L576.4 244.2L577.4 238.4L578.4 232.9L579.4 227.3L580.4 221.5L581.4 215.3L582.4 208.6L583.4 201.6L584.4 194.5L585.4 187.2L586.4 180.1L587.4 173.2L588.4 166.5L589.4 160.8L590.4 156.6L591.4 153.4L592.4 150.9L593.4 149.1L594.4 148.0L595.4 147.2L596.4 146.8L597.4 146.8L598.4 147.0L599.4 147.6L600.4 148.5L601.4 149.5L602.4 150.8L603.4 152.5L604.4 154.1L605.4 155.8L606.4 157.5L607.4 159.1L608.4 160.8L609.4 162.3L610.4 163.3L611.4 164.1L612.4 165.0L613.4 165.9L614.4 166.7L615.4 167.4L616.4 167.8L617.4 168.2L618.4 168.7L619.4 169.4L620.4 170.3L621.4 171.3L622.4 172.5L623.4 173.7L624.4 175.1L625.4 176.7L626.4 178.0L627.4 179.0L628.4 179.8L629.4 180.5L630.4 181.2L631.4 181.9L632.4 182.6L633.4 183.2L634.4 184.0L635.4 185.1L636.4 186.6L637.4 188.3L638.4 190.2L639.4 192.3L640.4 194.4L641.4 196.8L642.4 199.2L643.4 201.4L644.4 202.9L645.4 203.9L646.4 204.5L647.4 204.5L648.4 204.0L649.4 202.9L650.4 200.9L651.4 198.0L652.4 194.4L653.4 190.4L654.4 186.1L655.4 181.4L656.4 176.5L657.4 171.4L658.4 166.1L659.4 161.0L660.4 156.1L661.4 151.4L662.4 146.7L663.4 142.3L664.4 138.1L665.4 134.2L666.4 130.7L667.4 127.5L668.4 124.6L669.4 122.1L670.4 119.9L671.4 118.0L672.4 116.4L673.4 115.1L674.4 114.1L675.4 113.2L676.4 112.5L677.4 112.1L678.4 112.2L679.4 112.8L680.4 113.9L681.4 115.4L682.4 117.5L683.4 120.4L684.4 124.0L685.4 128.0L686.4 132.5L687.4 138.0L688.4 144.4L689.4 151.7L690.4 161.6L691.4 174.4L692.4 188.7L693.4 203.0L694.4 215.9L695.4 225.9L696.4 232.4L697.4 238.1L698.4 243.5L699.4 248.7L700.4 253.8L701.4 258.9L702.4 263.8L703.4 268.6L704.4 272.9L705.4 276.0L706.4 277.3L707.4 276.1L708.4 272.8L709.4 268.2L710.4 263.1L711.4 257.9L712.4 252.3L713.4 246.3L714.4 240.3L715.4 234.3L716.4 228.3L717.4 222.3L718.4 216.3L719.4 211.5L720.4 208.1L721.4 205.9L722.4 204.5L723.4 203.9L724.4 203.6L725.4 203.4L726.4 203.2L727.4 203.3L728.4 203.4L729.4 203.6L730.4 203.6L731.4 203.1L732.4 202.5L733.4 201.9L734.4 201.2L735.4 200.3L736.4 199.2L737.4 198.0L738.4 196.7L739.4 195.2L740.4 193.6L741.4 191.9L741.6 191.4L741.3 250.7L740.4 249.8L739.4 249.0L738.4 248.8L737.4 249.1L736.4 249.5L735.4 249.9L734.4 250.3L733.4 250.7L732.4 251.1L731.4 251.5L730.4 251.9L729.4 252.3L728.4 252.7L727.4 253.3L726.4 254.0L725.4 254.9L724.4 256.1L723.4 258.7L722.4 262.8L721.4 268.2L720.4 274.1L719.4 280.3L718.4 286.8L717.4 293.3L716.4 300.2L715.4 307.5L714.4 314.8L713.4 322.2L712.4 329.7L711.4 337.2L710.4 343.7L709.4 348.1L708.4 351.5L707.4 353.1L706.4 352.4L705.4 349.8L704.4 346.6L703.4 342.6L702.4 338.0L701.4 333.3L700.4 328.5L699.4 323.7L698.4 318.7L697.4 313.7L696.4 308.6L695.4 303.1L694.4 297.2L693.4 290.9L692.4 284.4L691.4 276.5L690.4 267.0L689.4 257.0L688.4 247.3L687.4 238.9L686.4 232.5L685.4 228.4L684.4 224.4L683.4 220.4L682.4 216.4L681.4 212.4L680.4 208.4L679.4 204.4L678.4 200.4L677.4 196.4L676.4 192.4L675.4 188.4L674.4 184.4L673.4 180.4L672.4 177.4L671.4 175.5L670.4 174.7L669.4 174.7L668.4 175.6L667.4 177.6L666.4 180.6L665.4 184.3L664.4 188.4L663.4 192.9L662.4 198.3L661.4 203.6L660.4 206.2L659.4 206.3L658.4 207.8L657.4 213.6L656.4 221.8L655.4 231.4L654.4 241.6L653.4 251.5L652.4 260.8L651.4 270.0L650.4 279.0L649.4 287.5L648.4 295.7L647.4 302.4L646.4 307.5L645.4 311.6L644.4 314.2L643.4 314.5L642.4 313.3L641.4 311.2L640.4 308.3L639.4 305.1L638.4 301.7L637.4 298.1L636.4 294.0L635.4 289.6L634.4 285.1L633.4 280.5L632.4 275.9L631.4 271.0L630.4 266.0L629.4 260.8L628.4 253.7L627.4 242.6L626.4 233.3L625.4 229.7L624.4 227.0L623.4 224.4L622.4 221.7L621.4 219.0L620.4 216.4L619.4 213.7L618.4 211.0L617.4 208.4L616.4 205.8L615.4 203.9L614.4 202.6L613.4 201.5L612.4 200.3L611.4 199.2L610.4 198.2L609.4 197.3L608.4 196.6L607.4 196.4L606.4 196.5L605.4 197.0L604.4 197.8L603.4 198.9L602.4 200.3L601.4 202.1L600.4 204.2L599.4 206.6L598.4 209.4L597.4 212.5L596.4 215.9L595.4 219.4L594.4 223.1L593.4 227.0L592.4 230.8L591.4 234.8L590.4 239.0L589.4 243.7L588.4 248.7L587.4 253.7L586.4 258.7L585.4 263.7L584.4 268.7L583.4 273.7L582.4 278.7L581.4 283.7L580.4 288.6L579.4 293.2L578.4 297.4L577.4 300.9L576.4 304.0L575.4 306.7L574.4 309.3L573.4 311.8L572.4 314.4L571.4 316.7L570.4 319.0L569.4 321.4L568.4 323.9L567.4 326.9L566.4 330.5L565.4 334.5L564.4 338.9L563.4 343.5L562.4 348.4L561.4 353.6L560.4 359.3L559.4 365.4L558.4 371.8L557.4 378.5L556.4 385.6L555.4 393.6L554.4 402.3L553.4 411.3L552.4 420.5L551.4 429.6L550.4 438.3L549.4 446.3L548.4 453.5L547.4 459.6L546.4 465.2L545.4 470.3L544.4 475.1L543.4 479.6L542.4 483.9L541.4 488.2L540.4 492.3L539.4 496.0L538.4 499.3L537.4 502.2L536.4 504.8L535.4 507.1L534.4 509.2L533.4 511.2L532.4 513.1L531.4 514.7L530.4 516.0L529.4 517.0L528.4 518.0L527.4 518.8L526.4 519.6L525.4 520.4L524.4 521.0L523.4 521.6L522.4 522.1L521.4 522.6L520.4 523.0L519.4 523.5L518.4 523.9L517.4 524.5L516.4 525.0L515.4 525.7L514.4 526.5L513.4 527.3L512.4 528.1L511.4 528.8L510.4 529.4L509.4 529.9L508.4 530.4L507.4 530.7L506.4 531.0L505.4 531.3L504.4 531.5L503.4 531.5L502.4 531.4L501.4 531.0L500.4 530.5L499.4 529.8L498.4 528.9L497.4 527.7L496.4 526.3L495.4 524.8L494.4 523.2L493.4 521.4L492.4 519.5L491.4 517.4L490.4 515.1L489.4 512.5L488.4 509.7L487.4 506.5L486.4 502.8L485.4 498.7L484.4 494.3L483.4 489.6L482.4 484.7L481.4 479.7L480.4 474.3L479.4 468.5L478.4 462.1L477.4 455.3L476.4 448.3L475.4 441.3L474.4 434.1L473.4 426.9L472.4 419.6L471.4 411.9L470.4 404.4L469.4 397.6L468.4 390.9L467.4 384.2L466.4 377.6L465.4 370.9L464.4 364.2L463.4 357.6L462.4 350.9L461.4 344.2L460.4 337.6L459.4 330.9L458.4 324.2L457.4 317.5L456.4 309.6L455.4 301.1L454.4 291.6L453.4 280.6L452.4 269.1L451.4 258.2L450.4 249.1L449.4 241.7L448.4 235.6L447.4 230.4L446.4 226.0L445.4 222.4L444.4 219.9L443.4 218.2L442.4 217.3L441.4 217.2L440.4 217.6L439.4 218.5L438.4 219.6L437.4 221.2L436.4 223.5L435.4 226.6L434.4 230.1L433.4 233.8L432.4 237.7L431.4 241.9L430.4 246.3L429.4 251.1L428.4 256.5L427.4 263.6L426.4 271.9L425.4 280.7L424.4 289.3L423.4 297.0L422.4 303.1L421.4 307.0L420.4 311.1L419.4 316.6L418.4 322.1L417.4 327.6L416.4 333.1L415.4 339.0L414.4 345.1L413.4 351.1L412.4 357.1L411.4 362.8L410.4 368.2L409.4 373.3L408.4 378.2L407.4 383.0L406.4 387.3L405.4 391.1L404.4 394.1L403.4 396.9L402.4 399.4L401.4 401.7L400.4 403.6L399.4 405.3L398.4 406.7L397.4 407.9L396.4 408.8L395.4 409.7L394.4 410.6L393.4 411.5L392.4 412.4L391.4 413.3L390.4 414.3L389.4 415.4L388.4 416.4L387.4 417.6L386.4 419.0L385.4 420.5L384.4 422.3L383.4 424.2L382.4 426.2L381.4 428.3L380.4 430.5L379.4 432.8L378.4 435.7L377.4 439.6L376.4 445.0L375.4 451.5L374.4 458.2L373.4 464.9L372.4 471.5L371.4 478.2L370.4 484.9L369.4 491.5L368.4 496.2L367.4 497.3L366.4 496.3L365.4 493.9L364.4 491.0L363.4 487.1L362.4 481.0L361.4 471.1L360.4 456.7L359.4 440.0L358.4 423.3L357.4 408.9L356.4 398.3L355.4 388.6L354.4 379.6L353.4 371.5L352.4 363.5L351.4 355.5L350.4 347.5L349.4 339.5L348.4 331.5L347.4 323.5L346.4 315.5L345.4 307.5L344.4 299.5L343.4 291.5L342.4 283.5L341.4 275.8L340.4 268.4L339.4 261.0L338.4 253.9L337.4 247.3L336.4 241.4L335.4 236.1L334.4 231.3L333.4 226.9L332.4 223.1L331.4 219.7L330.4 216.9L329.4 214.5L328.4 212.6L327.4 211.2L326.4 210.2L325.4 209.6L324.4 209.0L323.4 208.5L322.4 206.8L321.4 202.7L320.4 202.5L319.4 212.7L318.4 227.7L317.4 242.8L316.4 258.4L315.4 271.5L314.4 281.6L313.4 290.9L312.4 300.7L311.4 310.7L310.4 320.7L309.4 330.7L308.4 340.7L307.4 350.7L306.4 360.7L305.4 370.7L304.4 380.7L303.4 390.7L302.4 400.7L301.4 410.7L300.4 420.5L299.4 429.5L298.4 437.2L297.4 440.4L296.4 439.7L295.4 436.7L294.4 432.9L293.4 428.8L292.4 424.5L291.4 419.7L290.4 414.7L289.4 409.9L288.4 404.9L287.4 399.0L286.4 391.8L285.4 383.8L284.4 375.8L283.4 367.8L282.4 359.8L281.4 351.8L280.4 343.8L279.4 335.8L278.4 327.8L277.4 319.8L276.4 311.8L275.4 303.4L274.4 294.9L273.4 286.4L272.4 278.0L271.4 269.8L270.4 261.7L269.4 253.8L268.4 245.8L267.4 237.9L266.4 230.1L265.4 222.4L264.4 215.0L263.4 208.2L262.4 202.3L261.4 196.9L260.4 191.8L259.4 186.4L258.4 180.5L257.4 174.2L256.4 167.8L255.4 161.5L254.4 155.4L253.4 149.4L252.4 143.5L251.4 137.9L250.4 132.6L249.4 128.3L248.4 124.5L247.4 122.5L246.4 122.9L245.4 126.8L244.4 133.3L243.4 142.5L242.4 152.5L241.4 160.3L240.4 166.5L239.4 171.8L238.4 176.7L237.4 181.7L236.4 187.3L235.4 194.2L234.4 202.9L233.4 214.2L232.4 230.1L231.4 243.9L230.4 256.3L229.4 268.9L228.4 282.3L227.4 295.9L226.4 308.7L225.4 320.6L224.4 331.6L223.4 341.6L222.4 350.6L221.4 358.7L220.4 366.7L219.4 374.7L218.4 382.7L217.4 390.7L216.4 398.7L215.4 406.7L214.4 414.7L213.4 422.3L212.4 429.3L211.4 435.9L210.4 441.7L209.4 446.6L208.4 450.8L207.4 454.9L206.4 459.0L205.4 463.6L204.4 468.9L203.4 475.3L202.4 482.6L201.4 490.2L200.4 497.7L199.4 504.7L198.4 511.4L197.4 515.8L196.4 515.6L195.4 510.7L194.4 503.2L193.4 495.1L192.4 487.3L191.4 479.0L190.4 469.6L189.4 459.0L188.4 447.8L187.4 436.2L186.4 424.0L185.4 411.7L184.4 399.6L183.4 387.8L182.4 376.3L181.4 364.9L180.4 353.4L179.4 342.1L178.4 331.0L177.4 320.1L176.4 309.5L175.4 302.6L174.4 298.4L173.4 291.8L172.4 281.0L171.4 270.0L170.4 258.9L169.4 247.8L168.4 237.6L167.4 228.3L166.4 220.0L165.4 212.4L164.4 205.1L163.4 198.1L162.4 191.9L161.4 186.5L160.4 181.3L159.4 176.2L158.4 171.1L157.4 166.0L156.4 160.9L155.4 155.9L154.4 151.0L153.4 146.4L152.4 142.2L151.4 138.5L150.4 135.4L149.4 132.7L148.4 130.7L147.4 129.9L146.4 130.3L145.4 132.2L144.4 134.9L143.4 138.3L142.4 142.6L141.4 147.5L140.4 153.5L139.4 159.5L138.4 162.1L137.4 162.7L136.4 165.6L135.4 174.2L134.4 184.2L133.4 194.2L132.4 204.2L131.4 214.2L130.4 224.2L129.4 234.2L128.4 244.2L127.4 254.4L126.4 266.4L125.4 278.3L124.4 290.0L123.4 298.8L122.4 303.8L121.4 307.2L120.4 311.2L119.4 318.1L118.4 326.1L117.4 334.1L116.4 342.1L115.4 350.1L114.4 358.1L113.4 365.8L112.4 372.6L111.4 378.8L110.4 384.6L109.4 389.3L108.4 392.8L107.4 394.2L106.4 393.3L105.4 390.9L104.4 387.9L103.4 383.7L102.4 378.3L101.4 372.8L100.4 367.7L99.4 362.7L98.4 357.8L97.4 354.1L96.4 353.2L95.4 355.9L94.4 360.5L93.4 362.2L92.4 358.1L91.4 352.6L90.4 347.1L89.4 342.2L88.4 337.5L87.4 333.1L86.4 329.1L85.4 325.8L84.4 323.3L83.4 321.6L82.4 320.4L81.4 319.7L80.4 319.1L79.4 318.6L78.4 318.2L77.4 317.9L76.4 317.6L75.4 317.4L74.4 317.2L73.4 317.1Z" fill="none" stroke="#9c2020" stroke-width="1.15" stroke-linejoin="round"/>
<path d="M71.8 291.1L72.8 292.5L73.8 293.9L74.8 295.2L75.8 296.6L76.8 298.0L77.8 299.3L78.8 300.5L79.8 301.7L80.8 303.0L81.8 304.4L82.8 306.1L83.8 308.2L84.8 310.9L85.8 313.7L86.8 316.6L87.8 319.2L88.8 321.7L89.8 324.2L90.8 326.7L91.8 329.0L92.8 330.5L93.8 330.8L94.8 330.1L95.8 328.9L96.8 327.5L97.8 326.0L98.8 324.3L99.8 322.8L100.8 321.7L101.8 321.3L102.8 321.2L103.8 320.6L104.8 319.4L105.8 317.5L106.8 314.1L107.8 308.7L108.8 303.8L109.8 301.1L110.8 299.3L111.8 296.7L112.8 291.4L113.8 283.3L114.8 274.7L115.8 266.0L116.8 257.4L117.8 248.6L118.8 239.4L119.8 230.3L120.8 221.6L121.8 213.0L122.8 204.0L123.8 194.8L124.8 186.1L125.8 177.9L126.8 170.3L127.8 163.0L128.8 155.9L129.8 149.1L130.8 142.9L131.8 137.4L132.8 132.3L133.8 127.6L134.8 123.0L135.8 118.9L136.8 115.2L137.8 111.9L138.8 108.8L139.8 105.9L140.8 103.2L141.8 100.8L142.8 98.7L143.8 96.9L144.8 95.2L145.8 93.7L146.8 92.7L147.8 92.7L148.8 93.6L149.8 94.9L150.8 96.4L151.8 98.1L152.8 100.1L153.8 102.3L154.8 104.5L155.8 107.0L156.8 109.5L157.8 112.2L158.8 115.2L159.8 118.4L160.8 121.9L161.8 125.7L162.8 129.5L163.8 133.5L164.8 137.5L165.8 141.5L166.8 145.6L167.8 149.8L168.8 154.7L169.8 160.2L170.8 166.3L171.8 172.6L172.8 179.0L173.8 185.2L174.8 191.1L175.8 196.8L176.8 202.5L177.8 208.2L178.8 213.9L179.8 219.6L180.8 225.4L181.8 231.1L182.8 236.8L183.8 242.5L184.8 248.2L185.8 254.1L186.8 260.5L187.8 267.5L188.8 274.8L189.8 282.3L190.8 289.8L191.8 297.6L192.8 305.7L193.8 313.5L194.8 320.5L195.8 324.8L196.8 327.2L197.8 328.8L198.8 330.4L199.8 332.0L200.8 333.5L201.8 334.5L202.8 335.2L203.8 335.7L204.8 336.0L205.8 336.0L206.8 335.8L207.8 335.4L208.8 334.8L209.8 333.9L210.8 332.7L211.8 331.2L212.8 329.5L213.8 327.6L214.8 325.4L215.8 322.6L216.8 319.3L217.8 315.4L218.8 310.3L219.8 304.1L220.8 296.8L221.8 288.7L222.8 279.2L223.8 270.0L224.8 262.1L225.8 254.2L226.8 244.9L227.8 234.4L228.8 226.0L229.8 218.0L230.8 210.0L231.8 202.0L232.8 194.0L233.8 185.6L234.8 175.3L235.8 164.1L236.8 150.2L237.8 134.7L238.8 119.4L239.8 106.0L240.8 96.2L241.8 90.5L242.8 87.0L243.8 84.8L244.8 83.0L245.8 81.2L246.8 79.7L247.8 78.8L248.8 78.7L249.8 79.5L250.8 81.2L251.8 84.2L252.8 88.4L253.8 93.5L254.8 99.0L255.8 104.8L256.8 110.7L257.8 117.0L258.8 123.8L259.8 131.3L260.8 141.4L261.8 154.9L262.8 170.0L263.8 185.2L264.8 198.9L265.8 209.5L266.8 217.5L267.8 225.2L268.8 232.3L269.8 239.3L270.8 246.4L271.8 253.5L272.8 260.7L273.8 268.0L274.8 275.2L275.8 282.2L276.8 288.8L277.8 295.1L278.8 301.3L279.8 307.2L280.8 312.7L281.8 318.0L282.8 323.1L283.8 328.0L284.8 332.5L285.8 336.7L286.8 340.7L287.8 344.2L288.8 347.4L289.8 350.3L290.8 352.9L291.8 355.0L292.8 356.8L293.8 358.1L294.8 358.8L295.8 358.8L296.8 358.1L297.8 356.5L298.8 354.0L299.8 350.2L300.8 345.0L301.8 338.7L302.8 331.2L303.8 322.4L304.8 313.2L305.8 303.4L306.8 293.4L307.8 283.4L308.8 273.4L309.8 263.4L310.8 253.0L311.8 242.1L312.8 231.2L313.8 220.3L314.8 209.5L315.8 201.1L316.8 196.1L317.8 193.4L318.8 191.7L319.8 190.4L320.8 189.4L321.8 188.9L322.8 188.8L323.8 189.2L324.8 189.7L325.8 190.2L326.8 190.9L327.8 191.7L328.8 192.7L329.8 194.0L330.8 195.4L331.8 197.0L332.8 198.9L333.8 201.2L334.8 204.2L335.8 207.7L336.8 211.6L337.8 215.8L338.8 220.2L339.8 225.1L340.8 230.6L341.8 236.4L342.8 242.6L343.8 249.1L344.8 256.8L345.8 265.7L346.8 275.9L347.8 289.1L348.8 303.7L349.8 314.9L350.8 325.5L351.8 336.3L352.8 347.2L353.8 358.1L354.8 369.0L355.8 379.9L356.8 390.7L357.8 401.1L358.8 410.3L359.8 418.9L360.8 427.0L361.8 434.3L362.8 440.7L363.8 446.5L364.8 451.1L365.8 454.5L366.8 456.5L367.8 457.1L368.8 456.7L369.8 455.3L370.8 452.5L371.8 448.7L372.8 444.8L373.8 440.8L374.8 436.5L375.8 432.2L376.8 427.8L377.8 423.3L378.8 418.8L379.8 414.3L380.8 409.6L381.8 404.1L382.8 398.1L383.8 393.5L384.8 389.7L385.8 386.1L386.8 382.7L387.8 379.3L388.8 376.0L389.8 372.8L390.8 370.0L391.8 367.4L392.8 365.1L393.8 363.1L394.8 361.1L395.8 359.1L396.8 357.1L397.8 355.1L398.8 353.1L399.8 351.1L400.8 349.1L401.8 346.8L402.8 344.0L403.8 340.9L404.8 337.7L405.8 334.5L406.8 331.3L407.8 328.1L408.8 324.9L409.8 321.7L410.8 318.5L411.8 315.3L412.8 312.1L413.8 308.9L414.8 305.1L415.8 300.8L416.8 296.0L417.8 290.4L418.8 284.1L419.8 276.5L420.8 267.5L421.8 260.5L422.8 255.1L423.8 249.9L424.8 243.9L425.8 237.1L426.8 230.2L427.8 223.2L428.8 216.4L429.8 209.8L430.8 203.2L431.8 197.1L432.8 192.0L433.8 188.2L434.8 184.2L435.8 180.0L436.8 176.0L437.8 172.8L438.8 170.2L439.8 168.0L440.8 165.8L441.8 164.2L442.8 163.2L443.8 162.9L444.8 164.0L445.8 166.3L446.8 169.5L447.8 173.5L448.8 178.9L449.8 186.0L450.8 193.9L451.8 202.4L452.8 211.2L453.8 220.2L454.8 229.8L455.8 240.2L456.8 249.9L457.8 258.7L458.8 267.3L459.8 275.7L460.8 284.0L461.8 292.2L462.8 300.3L463.8 308.3L464.8 316.3L465.8 324.3L466.8 332.3L467.8 340.3L468.8 348.3L469.8 356.3L470.8 364.3L471.8 372.3L472.8 380.3L473.8 388.3L474.8 396.3L475.8 404.2L476.8 411.8L477.8 419.1L478.8 426.1L479.8 432.7L480.8 438.9L481.8 444.7L482.8 450.1L483.8 455.2L484.8 459.8L485.8 464.2L486.8 468.1L487.8 471.5L488.8 474.6L489.8 477.2L490.8 479.4L491.8 481.3L492.8 483.2L493.8 485.0L494.8 486.6L495.8 488.0L496.8 489.3L497.8 490.3L498.8 491.2L499.8 492.1L500.8 492.8L501.8 493.5L502.8 494.0L503.8 494.3L504.8 494.6L505.8 494.9L506.8 495.1L507.8 495.3L508.8 495.4L509.8 495.5L510.8 495.5L511.8 495.5L512.8 495.5L513.8 495.4L514.8 495.3L515.8 495.2L516.8 495.1L517.8 494.9L518.8 494.8L519.8 494.6L520.8 494.3L521.8 494.0L522.8 493.6L523.8 493.3L524.8 492.9L525.8 492.5L526.8 492.0L527.8 491.5L528.8 490.8L529.8 489.9L530.8 489.0L531.8 488.0L532.8 487.0L533.8 485.7L534.8 483.9L535.8 481.8L536.8 479.4L537.8 476.8L538.8 473.8L539.8 470.2L540.8 465.6L541.8 459.9L542.8 453.7L543.8 447.3L544.8 440.7L545.8 433.9L546.8 427.1L547.8 420.2L548.8 413.3L549.8 406.5L550.8 399.7L551.8 392.9L552.8 386.1L553.8 379.3L554.8 372.6L555.8 366.0L556.8 359.7L557.8 353.4L558.8 347.2L559.8 341.0L560.8 335.0L561.8 329.4L562.8 324.1L563.8 319.2L564.8 314.8L565.8 310.7L566.8 306.7L567.8 302.5L568.8 298.0L569.8 293.3L570.8 288.6L571.8 284.1L572.8 279.6L573.8 275.3L574.8 271.0L575.8 266.6L576.8 262.2L577.8 257.8L578.8 253.3L579.8 248.9L580.8 244.5L581.8 240.1L582.8 235.7L583.8 231.2L584.8 226.8L585.8 221.5L586.8 214.9L587.8 209.2L588.8 204.2L589.8 199.6L590.8 195.7L591.8 192.1L592.8 188.9L593.8 185.9L594.8 183.3L595.8 181.2L596.8 179.3L597.8 177.9L598.8 176.9L599.8 176.2L600.8 175.6L601.8 175.4L602.8 175.3L603.8 175.4L604.8 175.6L605.8 176.1L606.8 176.8L607.8 177.7L608.8 178.9L609.8 180.3L610.8 181.8L611.8 183.3L612.8 185.0L613.8 186.8L614.8 188.8L615.8 190.8L616.8 192.8L617.8 194.8L618.8 196.8L619.8 198.8L620.8 200.6L621.8 202.1L622.8 203.8L623.8 205.7L624.8 207.7L625.8 209.7L626.8 211.8L627.8 214.0L628.8 216.2L629.8 218.5L630.8 220.8L631.8 223.1L632.8 225.6L633.8 228.1L634.8 230.7L635.8 233.7L636.8 237.7L637.8 242.2L638.8 246.8L639.8 251.1L640.8 254.8L641.8 257.4L642.8 258.6L643.8 258.9L644.8 258.9L645.8 259.2L646.8 258.4L647.8 254.4L648.8 248.9L649.8 243.2L650.8 237.3L651.8 231.3L652.8 225.3L653.8 219.3L654.8 213.1L655.8 206.6L656.8 200.3L657.8 194.2L658.8 188.2L659.8 182.4L660.8 176.7L661.8 171.3L662.8 166.6L663.8 162.4L664.8 158.4L665.8 154.6L666.8 151.4L667.8 148.8L668.8 147.0L669.8 145.8L670.8 145.1L671.8 144.8L672.8 144.8L673.8 145.3L674.8 146.2L675.8 147.6L676.8 149.7L677.8 152.4L678.8 155.5L679.8 158.9L680.8 162.6L681.8 166.6L682.8 171.0L683.8 175.7L684.8 180.6L685.8 185.7L686.8 190.8L687.8 196.3L688.8 201.9L689.8 207.5L690.8 213.1L691.8 218.7L692.8 224.4L693.8 232.4L694.8 242.6L695.8 253.4L696.8 263.2L697.8 270.8L698.8 277.7L699.8 284.0L700.8 289.7L701.8 295.2L702.8 300.3L703.8 304.9L704.8 308.9L705.8 312.2L706.8 313.7L707.8 313.5L708.8 311.1L709.8 306.7L710.8 301.4L711.8 295.0L712.8 288.1L713.8 281.1L714.8 273.6L715.8 266.0L716.8 259.1L717.8 253.0L718.8 247.4L719.8 241.9L720.8 237.0L721.8 233.1L722.8 230.2L723.8 228.2L724.8 226.9L725.8 226.0L726.8 225.4L727.8 224.8L728.8 224.3L729.8 224.0L730.8 223.7L731.8 223.7L732.8 224.0L733.8 224.5L734.8 224.9L735.8 224.9L736.8 224.3L737.8 223.5L738.8 222.7L739.8 221.9L740.8 221.1L741.8 220.4L742.8 219.9" fill="none" stroke="#ff0000" stroke-width="6.2" stroke-linecap="round" stroke-linejoin="round"/>
<circle cx="146.4" cy="90.9" r="7.9" fill="#0000ff" stroke="#000" stroke-width="1"/>
<circle cx="238.9" cy="105.0" r="7.9" fill="#0000ff" stroke="#000" stroke-width="1"/>
<circle cx="249.0" cy="68.6" r="7.9" fill="#0000ff" stroke="#000" stroke-width="1"/>
<circle cx="243.7" cy="83.3" r="7.9" fill="#0000ff" stroke="#000" stroke-width="1"/>
<circle cx="264.1" cy="144.2" r="7.9" fill="#0000ff" stroke="#000" stroke-width="1"/>
<circle cx="268.2" cy="189.9" r="7.9" fill="#0000ff" stroke="#000" stroke-width="1"/>
<circle cx="267.7" cy="182.1" r="7.9" fill="#0000ff" stroke="#000" stroke-width="1"/>
<circle cx="323.0" cy="141.6" r="7.9" fill="#0000ff" stroke="#000" stroke-width="1"/>
<circle cx="333.1" cy="190.9" r="7.9" fill="#0000ff" stroke="#000" stroke-width="1"/>
<circle cx="335.1" cy="221.7" r="7.9" fill="#0000ff" stroke="#000" stroke-width="1"/>
<circle cx="83.0" cy="305.8" r="7.9" fill="#0000ff" stroke="#000" stroke-width="1"/>
<circle cx="219.4" cy="355.8" r="7.9" fill="#0000ff" stroke="#000" stroke-width="1"/>
<circle cx="277.5" cy="329.5" r="7.9" fill="#0000ff" stroke="#000" stroke-width="1"/>
<circle cx="282.1" cy="370.0" r="7.9" fill="#0000ff" stroke="#000" stroke-width="1"/>
<circle cx="288.1" cy="404.1" r="7.9" fill="#0000ff" stroke="#000" stroke-width="1"/>
<circle cx="355.6" cy="431.1" r="7.9" fill="#0000ff" stroke="#000" stroke-width="1"/>
<circle cx="373.5" cy="443.2" r="7.9" fill="#0000ff" stroke="#000" stroke-width="1"/>
<circle cx="379.9" cy="424.0" r="7.9" fill="#0000ff" stroke="#000" stroke-width="1"/>
<circle cx="385.4" cy="393.2" r="7.9" fill="#0000ff" stroke="#000" stroke-width="1"/>
<circle cx="384.4" cy="397.2" r="7.9" fill="#0000ff" stroke="#000" stroke-width="1"/>
<circle cx="413.0" cy="317.9" r="7.9" fill="#0000ff" stroke="#000" stroke-width="1"/>
<circle cx="423.5" cy="268.2" r="7.9" fill="#0000ff" stroke="#000" stroke-width="1"/>
<circle cx="425.3" cy="251.3" r="7.9" fill="#0000ff" stroke="#000" stroke-width="1"/>
<circle cx="440.4" cy="128.8" r="7.9" fill="#0000ff" stroke="#000" stroke-width="1"/>
<circle cx="446.5" cy="101.7" r="7.9" fill="#0000ff" stroke="#000" stroke-width="1"/>
<circle cx="462.2" cy="237.4" r="7.9" fill="#0000ff" stroke="#000" stroke-width="1"/>
<circle cx="616.8" cy="196.5" r="7.9" fill="#0000ff" stroke="#000" stroke-width="1"/>
<circle cx="658.5" cy="212.1" r="7.9" fill="#0000ff" stroke="#000" stroke-width="1"/>
<circle cx="738.6" cy="238.7" r="7.9" fill="#0000ff" stroke="#000" stroke-width="1"/>
<circle cx="729.2" cy="223.0" r="7.9" fill="#0000ff" stroke="#000" stroke-width="1"/>
<circle cx="476.3" cy="421.5" r="7.9" fill="#0000ff" stroke="#000" stroke-width="1"/>
<circle cx="478.3" cy="433.6" r="7.9" fill="#0000ff" stroke="#000" stroke-width="1"/>
<circle cx="496.5" cy="484.7" r="7.9" fill="#0000ff" stroke="#000" stroke-width="1"/>
<circle cx="525.1" cy="484.7" r="7.9" fill="#0000ff" stroke="#000" stroke-width="1"/>
<circle cx="515.5" cy="484.7" r="7.9" fill="#0000ff" stroke="#000" stroke-width="1"/>
<circle cx="544.0" cy="482.9" r="7.9" fill="#0000ff" stroke="#000" stroke-width="1"/>
<circle cx="554.6" cy="368.7" r="7.9" fill="#0000ff" stroke="#000" stroke-width="1"/>
<circle cx="568.3" cy="303.2" r="7.9" fill="#0000ff" stroke="#000" stroke-width="1"/>
<circle cx="700.2" cy="325.0" r="7.9" fill="#0000ff" stroke="#000" stroke-width="1"/>
<rect x="47.5" y="14.5" width="720" height="549" fill="none" stroke="#3a3a3a" stroke-width="1"/>
<line x1="71.80" y1="563.5" x2="71.80" y2="571" stroke="#3a3a3a" stroke-width="1"/>
<text x="72.50" y="590.1" class="ax" text-anchor="middle">0</text>
<line x1="239.15" y1="563.5" x2="239.15" y2="571" stroke="#3a3a3a" stroke-width="1"/>
<text x="239.85" y="590.1" class="ax" text-anchor="middle">100</text>
<line x1="406.50" y1="563.5" x2="406.50" y2="571" stroke="#3a3a3a" stroke-width="1"/>
<text x="407.20" y="590.1" class="ax" text-anchor="middle">200</text>
<line x1="573.85" y1="563.5" x2="573.85" y2="571" stroke="#3a3a3a" stroke-width="1"/>
<text x="574.55" y="590.1" class="ax" text-anchor="middle">300</text>
<line x1="741.20" y1="563.5" x2="741.20" y2="571" stroke="#3a3a3a" stroke-width="1"/>
<text x="741.90" y="590.1" class="ax" text-anchor="middle">400</text>
<line x1="39.8" y1="527.40" x2="47.5" y2="527.40" stroke="#3a3a3a" stroke-width="1"/>
<text transform="translate(30.3,526.80) rotate(-90)" class="ax" text-anchor="middle">-1.5</text>
<line x1="39.8" y1="447.90" x2="47.5" y2="447.90" stroke="#3a3a3a" stroke-width="1"/>
<text transform="translate(30.3,447.30) rotate(-90)" class="ax" text-anchor="middle">-1.0</text>
<line x1="39.8" y1="368.40" x2="47.5" y2="368.40" stroke="#3a3a3a" stroke-width="1"/>
<text transform="translate(30.3,367.80) rotate(-90)" class="ax" text-anchor="middle">-0.5</text>
<line x1="39.8" y1="288.90" x2="47.5" y2="288.90" stroke="#3a3a3a" stroke-width="1"/>
<text transform="translate(30.3,288.30) rotate(-90)" class="ax" text-anchor="middle">0.0</text>
<line x1="39.8" y1="209.40" x2="47.5" y2="209.40" stroke="#3a3a3a" stroke-width="1"/>
<text transform="translate(30.3,208.80) rotate(-90)" class="ax" text-anchor="middle">0.5</text>
<line x1="39.8" y1="129.90" x2="47.5" y2="129.90" stroke="#3a3a3a" stroke-width="1"/>
<text transform="translate(30.3,129.30) rotate(-90)" class="ax" text-anchor="middle">1.0</text>
<line x1="39.8" y1="50.40" x2="47.5" y2="50.40" stroke="#3a3a3a" stroke-width="1"/>
<text transform="translate(30.3,49.80) rotate(-90)" class="ax" text-anchor="middle">1.5</text>
<text x="118.8" y="50.5" class="big" text-anchor="end" fill="#4d4d4d">(a)</text>
<text x="760.5" y="67.3" class="big" text-anchor="end" fill="#4d4d4d">= 0.5</text>
<text x="760.5" y="118.3" class="big" text-anchor="end" fill="#4d4d4d">= 0.5</text>
<text x="624.5" y="64.6" class="sym" fill="#4d4d4d">ε</text>
<path d="M624.22 97.85 L623.94 95.79 L624.48 93.42 L625.74 91.75 L627.63 90.99 L629.37 91.12 L630.79 92.00 L631.90 93.58 L632.85 95.79 L634.27 99.58 L635.85 103.69 L637.43 107.48 L638.37 108.43 L639.32 107.16 L640.74 104.01 L641.85 100.53 L642.32 97.69 L642.42 95.16 L642.64 93.27 L643.43 91.84 L644.69 91.05 L646.11 90.90 L646.90 91.37 L647.06 92.32 L646.27 94.21 L644.69 97.69 L642.80 101.48 L640.90 105.58 L639.01 109.69 L637.58 112.85 L636.48 114.27 L635.53 112.53 L634.27 109.06 L632.85 105.27 L631.42 101.48 L630.16 98.00 L629.21 95.48 L628.42 93.90 L627.63 93.11 L626.53 93.01 L625.42 93.90 L624.85 95.48 L624.79 97.06Z" fill="#4d4d4d" stroke="#4d4d4d" stroke-width="0.3" stroke-linejoin="round"/>
<text x="645.6" y="39.4" class="sup" fill="#4d4d4d">2</text>
<text transform="translate(624,491.9) scale(1,1.045)" class="gk" fill="#808080">Gauss</text>
</g>
<g transform="translate(800,0)">
<rect x="155.47" y="14.5" width="167.35" height="549" fill="#fffaf9"/>
<rect x="406.50" y="14.5" width="167.35" height="549" fill="#fffaf9"/>
<line x1="155.47" y1="14.5" x2="155.47" y2="563.5" stroke="#e09862" stroke-width="1.15"/>
<line x1="322.82" y1="14.5" x2="322.82" y2="563.5" stroke="#e09862" stroke-width="1.15"/>
<line x1="406.50" y1="14.5" x2="406.50" y2="563.5" stroke="#e09862" stroke-width="1.15"/>
<line x1="573.85" y1="14.5" x2="573.85" y2="563.5" stroke="#e09862" stroke-width="1.15"/>
<clipPath id="cp1"><path d="M73.4 265.9L74.4 268.0L75.4 270.2L76.4 272.4L77.4 274.6L78.4 276.9L79.4 279.2L80.4 281.3L81.4 283.3L82.4 285.1L83.4 286.8L84.4 288.4L85.4 289.9L86.4 291.4L87.4 292.8L88.4 294.1L89.4 295.4L90.4 296.6L91.4 297.7L92.4 298.7L93.4 299.8L94.4 300.6L95.4 301.0L96.4 299.5L97.4 296.9L98.4 294.1L99.4 290.8L100.4 287.0L101.4 282.5L102.4 277.4L103.4 271.7L104.4 265.8L105.4 259.5L106.4 252.8L107.4 246.1L108.4 239.5L109.4 232.8L110.4 226.1L111.4 219.5L112.4 213.8L113.4 205.9L114.4 186.7L115.4 164.1L116.4 149.2L117.4 139.2L118.4 129.2L119.4 119.2L120.4 109.3L121.4 100.0L122.4 91.5L123.4 83.9L124.4 77.8L125.4 72.7L126.4 68.6L127.4 65.4L128.4 62.6L129.4 60.4L130.4 58.8L131.4 57.5L132.4 56.4L133.4 55.6L134.4 55.0L135.4 54.5L136.4 54.2L137.4 54.3L138.4 54.5L139.4 54.8L140.4 55.2L141.4 55.8L142.4 56.3L143.4 56.9L144.4 57.5L145.4 58.1L146.4 58.7L147.4 59.4L148.4 60.0L149.4 60.7L150.4 61.3L151.4 62.1L152.4 63.0L153.4 64.0L154.4 65.1L155.4 66.4L156.4 67.7L157.4 69.0L158.4 70.4L159.4 71.5L160.4 72.4L161.4 73.2L162.4 73.5L163.4 73.4L164.4 72.8L165.4 71.7L166.4 70.2L167.4 68.6L168.4 66.9L169.4 65.0L170.4 62.9L171.4 60.9L172.4 59.1L173.4 57.5L174.4 56.1L175.4 55.0L176.4 54.4L177.4 54.2L178.4 54.6L179.4 55.6L180.4 57.0L181.4 58.9L182.4 61.3L183.4 64.1L184.4 67.5L185.4 71.5L186.4 75.7L187.4 80.3L188.4 84.9L189.4 89.9L190.4 95.3L191.4 101.0L192.4 106.8L193.4 112.7L194.4 118.8L195.4 125.2L196.4 131.6L197.4 138.0L198.4 144.4L199.4 150.8L200.4 157.6L201.4 165.4L202.4 173.5L203.4 181.0L204.4 187.3L205.4 193.3L206.4 199.3L207.4 205.3L208.4 211.3L209.4 217.2L210.4 222.5L211.4 227.5L212.4 232.5L213.4 237.3L214.4 241.8L215.4 245.5L216.4 248.4L217.4 249.9L218.4 249.0L219.4 246.1L220.4 242.2L221.4 237.4L222.4 231.7L223.4 225.2L224.4 217.4L225.4 209.4L226.4 201.4L227.4 193.0L228.4 182.7L229.4 171.0L230.4 158.2L231.4 144.9L232.4 131.6L233.4 118.2L234.4 105.0L235.4 93.3L236.4 83.7L237.4 74.8L238.4 66.1L239.4 58.7L240.4 53.3L241.4 49.2L242.4 45.9L243.4 43.0L244.4 40.4L245.4 38.1L246.4 36.6L247.4 36.0L248.4 36.7L249.4 38.4L250.4 41.0L251.4 44.0L252.4 47.3L253.4 51.2L254.4 55.8L255.4 61.2L256.4 67.2L257.4 73.9L258.4 81.5L259.4 89.8L260.4 98.2L261.4 106.9L262.4 116.1L263.4 125.4L264.4 134.7L265.4 144.1L266.4 153.4L267.4 162.7L268.4 172.1L269.4 181.4L270.4 190.5L271.4 197.8L272.4 204.5L273.4 212.0L274.4 220.0L275.4 228.0L276.4 236.0L277.4 244.0L278.4 252.0L279.4 259.9L280.4 267.3L281.4 274.4L282.4 281.1L283.4 287.1L284.4 292.7L285.4 298.0L286.4 302.2L287.4 304.8L288.4 304.5L289.4 301.2L290.4 295.9L291.4 290.2L292.4 283.8L293.4 277.4L294.4 270.7L295.4 263.5L296.4 256.2L297.4 248.8L298.4 241.5L299.4 234.2L300.4 226.8L301.4 219.2L302.4 211.0L303.4 202.9L304.4 194.8L305.4 186.7L306.4 178.6L307.4 171.3L308.4 166.0L309.4 162.1L310.4 159.1L311.4 156.6L312.4 154.5L313.4 152.9L314.4 151.9L315.4 151.2L316.4 150.8L317.4 150.8L318.4 151.2L319.4 151.9L320.4 152.8L321.4 153.9L322.4 155.4L323.4 157.2L324.4 159.3L325.4 161.5L326.4 163.8L327.4 166.2L328.4 168.7L329.4 171.2L330.4 173.9L331.4 176.6L332.4 179.5L333.4 182.6L334.4 186.1L335.4 190.1L336.4 194.4L337.4 199.2L338.4 204.3L339.4 209.7L340.4 215.3L341.4 220.8L342.4 226.3L343.4 232.1L344.4 238.8L345.4 246.8L346.4 256.2L347.4 266.5L348.4 277.4L349.4 288.7L350.4 300.0L351.4 311.0L352.4 321.4L353.4 331.5L354.4 341.1L355.4 349.5L356.4 357.4L357.4 364.8L358.4 371.5L359.4 377.3L360.4 382.3L361.4 386.3L362.4 389.7L363.4 392.6L364.4 394.6L365.4 396.0L366.4 396.9L367.4 397.2L368.4 397.3L369.4 397.1L370.4 396.8L371.4 396.2L372.4 394.8L373.4 392.3L374.4 389.0L375.4 385.3L376.4 381.5L377.4 377.6L378.4 373.5L379.4 369.3L380.4 364.5L381.4 359.4L382.4 354.6L383.4 350.0L384.4 345.4L385.4 340.8L386.4 336.2L387.4 331.5L388.4 326.6L389.4 321.1L390.4 315.1L391.4 309.0L392.4 302.7L393.4 296.2L394.4 289.6L395.4 283.0L396.4 276.6L397.4 270.4L398.4 264.6L399.4 259.7L400.4 255.8L401.4 252.5L402.4 249.7L403.4 247.1L404.4 244.7L405.4 242.6L406.4 240.9L407.4 239.6L408.4 239.0L409.4 239.5L410.4 241.3L411.4 242.9L412.4 242.8L413.4 238.0L414.4 231.5L415.4 226.5L416.4 221.7L417.4 217.4L418.4 213.6L419.4 211.0L420.4 210.2L421.4 209.6L422.4 209.5L423.4 209.0L424.4 205.3L425.4 197.3L426.4 189.1L427.4 181.1L428.4 173.1L429.4 165.1L430.4 157.1L431.4 149.4L432.4 142.8L433.4 136.6L434.4 130.7L435.4 125.4L436.4 120.5L437.4 116.3L438.4 113.0L439.4 110.9L440.4 109.5L441.4 108.7L442.4 108.2L443.4 108.0L444.4 108.2L445.4 108.5L446.4 109.4L447.4 112.8L448.4 120.1L449.4 129.6L450.4 139.6L451.4 149.6L452.4 159.6L453.4 169.6L454.4 179.0L455.4 187.6L456.4 195.5L457.4 202.7L458.4 209.3L459.4 215.5L460.4 220.9L461.4 225.5L462.4 230.0L463.4 235.1L464.4 241.1L465.4 247.3L466.4 253.8L467.4 262.2L468.4 277.7L469.4 293.7L470.4 306.0L471.4 316.0L472.4 326.0L473.4 336.0L474.4 346.0L475.4 354.3L476.4 361.5L477.4 366.8L478.4 367.8L479.4 366.7L480.4 365.5L481.4 366.0L482.4 366.9L483.4 368.5L484.4 371.3L485.4 374.5L486.4 378.1L487.4 382.1L488.4 386.1L489.4 390.1L490.4 394.1L491.4 398.1L492.4 402.1L493.4 407.0L494.4 412.2L495.4 417.0L496.4 420.5L497.4 420.9L498.4 419.0L499.4 416.4L500.4 414.9L501.4 415.3L502.4 416.0L503.4 417.0L504.4 418.3L505.4 420.1L506.4 421.9L507.4 423.9L508.4 426.3L509.4 428.9L510.4 431.5L511.4 434.3L512.4 437.4L513.4 440.5L514.4 443.0L515.4 444.3L516.4 444.7L517.4 444.6L518.4 444.5L519.4 444.9L520.4 446.1L521.4 447.7L522.4 449.5L523.4 450.8L524.4 451.4L525.4 451.5L526.4 450.8L527.4 450.1L528.4 449.3L529.4 448.5L530.4 447.7L531.4 446.9L532.4 446.0L533.4 445.2L534.4 444.4L535.4 443.5L536.4 442.7L537.4 441.9L538.4 441.1L539.4 440.3L540.4 439.5L541.4 438.7L542.4 437.8L543.4 436.7L544.4 433.8L545.4 427.9L546.4 420.5L547.4 413.0L548.4 406.0L549.4 399.3L550.4 392.6L551.4 385.9L552.4 379.1L553.4 372.0L554.4 361.6L555.4 354.9L556.4 349.6L557.4 344.3L558.4 338.9L559.4 333.6L560.4 328.3L561.4 323.1L562.4 318.4L563.4 314.2L564.4 310.2L565.4 306.2L566.4 302.2L567.4 298.2L568.4 294.2L569.4 290.2L570.4 286.2L571.4 282.2L572.4 278.2L573.4 274.2L574.4 270.2L575.4 266.2L576.4 262.2L577.4 258.2L578.4 254.8L579.4 251.7L580.4 245.7L581.4 231.5L582.4 214.6L583.4 201.7L584.4 194.3L585.4 187.1L586.4 180.1L587.4 173.2L588.4 166.5L589.4 160.8L590.4 156.6L591.4 153.4L592.4 150.9L593.4 149.1L594.4 148.0L595.4 147.2L596.4 146.8L597.4 146.8L598.4 147.0L599.4 147.6L600.4 148.5L601.4 149.5L602.4 150.8L603.4 152.5L604.4 154.1L605.4 155.8L606.4 157.5L607.4 159.1L608.4 160.8L609.4 162.3L610.4 163.3L611.4 164.1L612.4 165.0L613.4 165.9L614.4 166.7L615.4 167.4L616.4 167.8L617.4 168.2L618.4 168.7L619.4 169.4L620.4 170.3L621.4 171.3L622.4 172.5L623.4 173.7L624.4 175.1L625.4 176.7L626.4 178.0L627.4 179.0L628.4 179.8L629.4 180.5L630.4 181.2L631.4 181.9L632.4 182.6L633.4 183.2L634.4 184.0L635.4 185.1L636.4 186.6L637.4 188.3L638.4 190.2L639.4 192.3L640.4 194.4L641.4 196.8L642.4 199.2L643.4 201.4L644.4 202.9L645.4 203.9L646.4 204.5L647.4 204.5L648.4 204.0L649.4 202.9L650.4 200.9L651.4 198.0L652.4 194.4L653.4 190.4L654.4 186.1L655.4 181.4L656.4 176.5L657.4 171.4L658.4 166.1L659.4 161.0L660.4 156.1L661.4 151.4L662.4 146.7L663.4 142.3L664.4 138.1L665.4 134.2L666.4 130.7L667.4 127.5L668.4 124.6L669.4 122.1L670.4 119.9L671.4 118.0L672.4 116.4L673.4 115.1L674.4 114.1L675.4 113.2L676.4 112.5L677.4 112.1L678.4 112.2L679.4 112.8L680.4 113.9L681.4 115.4L682.4 117.5L683.4 120.4L684.4 124.0L685.4 128.0L686.4 132.5L687.4 138.0L688.4 144.4L689.4 151.7L690.4 161.6L691.4 174.4L692.4 188.7L693.4 203.0L694.4 215.9L695.4 225.9L696.4 232.4L697.4 238.1L698.4 243.5L699.4 248.7L700.4 253.8L701.4 258.9L702.4 263.8L703.4 268.6L704.4 272.9L705.4 276.0L706.4 277.3L707.4 276.1L708.4 272.8L709.4 268.2L710.4 263.1L711.4 257.9L712.4 252.3L713.4 246.3L714.4 240.3L715.4 234.3L716.4 228.3L717.4 222.3L718.4 216.3L719.4 211.5L720.4 208.1L721.4 205.9L722.4 204.5L723.4 203.9L724.4 203.6L725.4 203.4L726.4 203.2L727.4 203.3L728.4 203.4L729.4 203.6L730.4 203.6L731.4 203.1L732.4 202.5L733.4 201.9L734.4 201.2L735.4 200.3L736.4 199.2L737.4 198.0L738.4 196.7L739.4 195.2L740.4 193.6L741.4 191.9L741.6 191.4L741.3 250.7L740.4 249.8L739.4 249.0L738.4 248.8L737.4 249.1L736.4 249.5L735.4 249.9L734.4 250.3L733.4 250.7L732.4 251.1L731.4 251.5L730.4 251.9L729.4 252.3L728.4 252.7L727.4 253.3L726.4 254.0L725.4 254.9L724.4 256.1L723.4 258.7L722.4 262.8L721.4 268.2L720.4 274.1L719.4 280.3L718.4 286.8L717.4 293.3L716.4 300.2L715.4 307.5L714.4 314.8L713.4 322.2L712.4 329.7L711.4 337.2L710.4 343.7L709.4 348.1L708.4 351.5L707.4 353.1L706.4 352.4L705.4 349.8L704.4 346.6L703.4 342.6L702.4 338.0L701.4 333.3L700.4 328.5L699.4 323.7L698.4 318.7L697.4 313.7L696.4 308.6L695.4 303.1L694.4 297.2L693.4 290.9L692.4 284.4L691.4 276.5L690.4 267.0L689.4 257.0L688.4 247.3L687.4 238.9L686.4 232.5L685.4 228.4L684.4 224.4L683.4 220.4L682.4 216.4L681.4 212.4L680.4 208.4L679.4 204.4L678.4 200.4L677.4 196.4L676.4 192.4L675.4 188.4L674.4 184.4L673.4 180.4L672.4 177.4L671.4 175.5L670.4 174.7L669.4 174.7L668.4 175.6L667.4 177.6L666.4 180.6L665.4 184.3L664.4 188.4L663.4 192.9L662.4 198.3L661.4 203.6L660.4 206.2L659.4 206.3L658.4 207.8L657.4 213.6L656.4 221.8L655.4 231.4L654.4 241.6L653.4 251.5L652.4 260.8L651.4 270.0L650.4 279.0L649.4 287.5L648.4 295.7L647.4 302.4L646.4 307.5L645.4 311.6L644.4 314.2L643.4 314.5L642.4 313.3L641.4 311.2L640.4 308.3L639.4 305.1L638.4 301.7L637.4 298.1L636.4 294.0L635.4 289.6L634.4 285.1L633.4 280.5L632.4 275.9L631.4 271.0L630.4 266.0L629.4 260.8L628.4 253.7L627.4 242.6L626.4 233.3L625.4 229.7L624.4 227.0L623.4 224.4L622.4 221.7L621.4 219.0L620.4 216.4L619.4 213.7L618.4 211.0L617.4 208.4L616.4 205.8L615.4 203.9L614.4 202.6L613.4 201.5L612.4 200.3L611.4 199.2L610.4 198.2L609.4 197.3L608.4 196.6L607.4 196.4L606.4 196.5L605.4 197.0L604.4 197.8L603.4 198.9L602.4 200.3L601.4 202.2L600.4 204.3L599.4 206.5L598.4 209.0L597.4 212.1L596.4 216.1L595.4 221.4L594.4 227.6L593.4 234.3L592.4 240.9L591.4 247.0L590.4 252.1L589.4 257.0L588.4 261.5L587.4 265.6L586.4 269.6L585.4 273.6L584.4 277.6L583.4 281.6L582.4 285.6L581.4 289.6L580.4 293.6L579.4 297.5L578.4 301.0L577.4 304.4L576.4 307.5L575.4 310.2L574.4 312.5L573.4 314.8L572.4 317.5L571.4 320.5L570.4 323.6L569.4 326.9L568.4 330.4L567.4 334.2L566.4 338.4L565.4 342.9L564.4 348.0L563.4 353.7L562.4 360.0L561.4 366.7L560.4 373.3L559.4 380.0L558.4 386.7L557.4 393.3L556.4 400.0L555.4 406.7L554.4 413.3L553.4 420.0L552.4 426.7L551.4 433.3L550.4 440.0L549.4 446.7L548.4 453.3L547.4 460.0L546.4 466.7L545.4 473.3L544.4 480.0L543.4 486.2L542.4 491.0L541.4 495.2L540.4 499.2L539.4 503.2L538.4 507.2L537.4 511.1L536.4 514.6L535.4 517.8L534.4 520.6L533.4 522.8L532.4 524.5L531.4 525.6L530.4 526.0L529.4 525.9L528.4 524.8L527.4 523.0L526.4 522.0L525.4 522.4L524.4 523.1L523.4 524.3L522.4 525.5L521.4 525.8L520.4 525.3L519.4 524.7L518.4 523.9L517.4 523.2L516.4 522.9L515.4 523.7L514.4 525.2L513.4 527.3L512.4 529.8L511.4 532.1L510.4 534.1L509.4 535.8L508.4 537.2L507.4 538.1L506.4 538.7L505.4 539.0L504.4 539.1L503.4 539.1L502.4 538.9L501.4 538.5L500.4 537.8L499.4 536.9L498.4 535.8L497.4 534.5L496.4 532.5L495.4 530.8L494.4 530.4L493.4 531.0L492.4 531.5L491.4 531.4L490.4 531.0L489.4 530.4L488.4 529.5L487.4 528.0L486.4 525.7L485.4 523.1L484.4 520.2L483.4 517.3L482.4 513.0L481.4 506.5L480.4 499.5L479.4 492.5L478.4 485.5L477.4 479.1L476.4 474.6L475.4 470.7L474.4 467.1L473.4 464.2L472.4 458.7L471.4 450.7L470.4 442.7L469.4 434.8L468.4 426.6L467.4 417.6L466.4 408.5L465.4 399.5L464.4 390.6L463.4 382.8L462.4 374.1L461.4 365.6L460.4 369.1L459.4 375.2L458.4 379.9L457.4 379.1L456.4 375.0L455.4 368.5L454.4 356.9L453.4 344.4L452.4 332.1L451.4 318.6L450.4 304.2L449.4 289.9L448.4 275.0L447.4 259.7L446.4 247.7L445.4 243.9L444.4 245.9L443.4 247.1L442.4 247.5L441.4 245.8L440.4 245.5L439.4 252.7L438.4 261.2L437.4 269.9L436.4 278.9L435.4 287.8L434.4 296.2L433.4 303.6L432.4 308.7L431.4 312.9L430.4 316.6L429.4 317.5L428.4 316.9L427.4 316.2L426.4 316.1L425.4 316.3L424.4 316.6L423.4 316.8L422.4 318.0L421.4 322.8L420.4 330.0L419.4 336.9L418.4 343.6L417.4 350.2L416.4 356.0L415.4 359.3L414.4 360.9L413.4 362.0L412.4 362.9L411.4 363.4L410.4 364.0L409.4 364.8L408.4 366.6L407.4 369.5L406.4 373.0L405.4 377.0L404.4 381.1L403.4 385.0L402.4 388.7L401.4 392.2L400.4 395.6L399.4 399.0L398.4 402.3L397.4 405.4L396.4 408.2L395.4 410.8L394.4 413.0L393.4 415.0L392.4 416.8L391.4 418.4L390.4 420.0L389.4 421.6L388.4 423.2L387.4 424.8L386.4 426.4L385.4 428.0L384.4 429.7L383.4 431.4L382.4 433.1L381.4 434.8L380.4 437.1L379.4 440.2L378.4 443.6L377.4 447.2L376.4 451.0L375.4 455.2L374.4 459.5L373.4 464.5L372.4 470.8L371.4 478.1L370.4 484.6L369.4 490.4L368.4 495.3L367.4 497.1L366.4 495.3L365.4 491.3L364.4 486.5L363.4 481.2L362.4 475.5L361.4 468.9L360.4 461.9L359.4 454.9L358.4 447.9L357.4 440.5L356.4 430.8L355.4 421.8L354.4 415.0L353.4 407.2L352.4 398.1L351.4 388.9L350.4 379.7L349.4 370.4L348.4 361.2L347.4 352.0L346.4 342.7L345.4 333.1L344.4 322.9L343.4 312.3L342.4 300.0L341.4 287.0L340.4 274.1L339.4 262.5L338.4 253.0L337.4 245.8L336.4 240.3L335.4 235.8L334.4 231.8L333.4 227.8L332.4 224.0L331.4 220.5L330.4 217.3L329.4 214.7L328.4 212.6L327.4 211.2L326.4 210.2L325.4 209.6L324.4 209.0L323.4 208.5L322.4 206.8L321.4 202.7L320.4 202.5L319.4 212.7L318.4 227.7L317.4 242.8L316.4 258.4L315.4 271.5L314.4 281.6L313.4 290.9L312.4 300.7L311.4 310.7L310.4 320.7L309.4 330.7L308.4 340.7L307.4 350.7L306.4 360.7L305.4 370.7L304.4 380.7L303.4 390.7L302.4 400.7L301.4 410.7L300.4 420.5L299.4 429.5L298.4 437.2L297.4 440.4L296.4 439.7L295.4 436.7L294.4 432.9L293.4 428.8L292.4 424.5L291.4 419.7L290.4 414.7L289.4 409.9L288.4 404.9L287.4 399.0L286.4 391.8L285.4 383.8L284.4 375.8L283.4 367.8L282.4 359.8L281.4 351.8L280.4 343.8L279.4 335.8L278.4 327.8L277.4 319.8L276.4 311.8L275.4 303.4L274.4 294.9L273.4 286.4L272.4 278.0L271.4 269.8L270.4 261.7L269.4 253.8L268.4 245.8L267.4 237.9L266.4 230.1L265.4 222.4L264.4 215.0L263.4 208.2L262.4 202.3L261.4 196.9L260.4 191.8L259.4 186.4L258.4 180.5L257.4 174.2L256.4 167.8L255.4 161.5L254.4 155.4L253.4 149.4L252.4 143.5L251.4 137.9L250.4 132.6L249.4 128.3L248.4 124.5L247.4 122.5L246.4 122.9L245.4 126.8L244.4 133.3L243.4 142.5L242.4 152.5L241.4 160.3L240.4 166.5L239.4 171.8L238.4 176.7L237.4 181.7L236.4 187.3L235.4 194.2L234.4 202.9L233.4 214.2L232.4 230.1L231.4 243.9L230.4 256.3L229.4 268.9L228.4 282.3L227.4 295.9L226.4 308.7L225.4 320.6L224.4 331.6L223.4 341.6L222.4 350.6L221.4 358.7L220.4 366.7L219.4 374.7L218.4 382.7L217.4 390.7L216.4 398.7L215.4 406.7L214.4 414.7L213.4 422.3L212.4 429.3L211.4 435.9L210.4 441.7L209.4 446.6L208.4 450.8L207.4 454.9L206.4 459.0L205.4 463.6L204.4 468.9L203.4 475.3L202.4 482.6L201.4 490.2L200.4 497.7L199.4 504.7L198.4 511.4L197.4 515.8L196.4 515.6L195.4 510.7L194.4 503.2L193.4 495.1L192.4 487.3L191.4 479.0L190.4 469.6L189.4 459.0L188.4 447.8L187.4 436.2L186.4 424.0L185.4 411.7L184.4 399.6L183.4 387.8L182.4 376.3L181.4 364.9L180.4 353.4L179.4 342.1L178.4 331.0L177.4 320.1L176.4 309.5L175.4 302.6L174.4 298.4L173.4 291.8L172.4 281.0L171.4 270.0L170.4 258.9L169.4 247.8L168.4 237.6L167.4 228.3L166.4 220.0L165.4 212.4L164.4 205.1L163.4 198.1L162.4 191.9L161.4 186.5L160.4 181.3L159.4 176.2L158.4 171.1L157.4 166.0L156.4 160.9L155.4 155.9L154.4 151.0L153.4 146.4L152.4 142.2L151.4 138.5L150.4 135.4L149.4 132.7L148.4 130.7L147.4 129.9L146.4 130.3L145.4 132.2L144.4 134.9L143.4 138.3L142.4 142.6L141.4 147.5L140.4 153.5L139.4 159.5L138.4 162.1L137.4 162.7L136.4 165.6L135.4 174.2L134.4 184.2L133.4 194.2L132.4 204.2L131.4 214.2L130.4 224.2L129.4 234.2L128.4 244.2L127.4 254.4L126.4 266.4L125.4 278.3L124.4 290.0L123.4 298.8L122.4 303.8L121.4 307.2L120.4 311.2L119.4 318.1L118.4 326.1L117.4 334.1L116.4 342.1L115.4 350.1L114.4 358.1L113.4 365.8L112.4 372.6L111.4 378.8L110.4 384.6L109.4 389.3L108.4 392.8L107.4 394.2L106.4 393.3L105.4 390.9L104.4 387.9L103.4 383.7L102.4 378.3L101.4 372.8L100.4 367.7L99.4 362.7L98.4 357.8L97.4 354.1L96.4 353.2L95.4 355.9L94.4 360.5L93.4 362.2L92.4 358.1L91.4 352.6L90.4 347.1L89.4 342.2L88.4 337.5L87.4 333.1L86.4 329.1L85.4 325.8L84.4 323.3L83.4 321.6L82.4 320.4L81.4 319.7L80.4 319.1L79.4 318.6L78.4 318.2L77.4 317.9L76.4 317.6L75.4 317.4L74.4 317.2L73.4 317.1Z"/></clipPath>
<use href="#hl" clip-path="url(#cp1)"/>
<path d="M73.4 265.9L74.4 268.0L75.4 270.2L76.4 272.4L77.4 274.6L78.4 276.9L79.4 279.2L80.4 281.3L81.4 283.3L82.4 285.1L83.4 286.8L84.4 288.4L85.4 289.9L86.4 291.4L87.4 292.8L88.4 294.1L89.4 295.4L90.4 296.6L91.4 297.7L92.4 298.7L93.4 299.8L94.4 300.6L95.4 301.0L96.4 299.5L97.4 296.9L98.4 294.1L99.4 290.8L100.4 287.0L101.4 282.5L102.4 277.4L103.4 271.7L104.4 265.8L105.4 259.5L106.4 252.8L107.4 246.1L108.4 239.5L109.4 232.8L110.4 226.1L111.4 219.5L112.4 213.8L113.4 205.9L114.4 186.7L115.4 164.1L116.4 149.2L117.4 139.2L118.4 129.2L119.4 119.2L120.4 109.3L121.4 100.0L122.4 91.5L123.4 83.9L124.4 77.8L125.4 72.7L126.4 68.6L127.4 65.4L128.4 62.6L129.4 60.4L130.4 58.8L131.4 57.5L132.4 56.4L133.4 55.6L134.4 55.0L135.4 54.5L136.4 54.2L137.4 54.3L138.4 54.5L139.4 54.8L140.4 55.2L141.4 55.8L142.4 56.3L143.4 56.9L144.4 57.5L145.4 58.1L146.4 58.7L147.4 59.4L148.4 60.0L149.4 60.7L150.4 61.3L151.4 62.1L152.4 63.0L153.4 64.0L154.4 65.1L155.4 66.4L156.4 67.7L157.4 69.0L158.4 70.4L159.4 71.5L160.4 72.4L161.4 73.2L162.4 73.5L163.4 73.4L164.4 72.8L165.4 71.7L166.4 70.2L167.4 68.6L168.4 66.9L169.4 65.0L170.4 62.9L171.4 60.9L172.4 59.1L173.4 57.5L174.4 56.1L175.4 55.0L176.4 54.4L177.4 54.2L178.4 54.6L179.4 55.6L180.4 57.0L181.4 58.9L182.4 61.3L183.4 64.1L184.4 67.5L185.4 71.5L186.4 75.7L187.4 80.3L188.4 84.9L189.4 89.9L190.4 95.3L191.4 101.0L192.4 106.8L193.4 112.7L194.4 118.8L195.4 125.2L196.4 131.6L197.4 138.0L198.4 144.4L199.4 150.8L200.4 157.6L201.4 165.4L202.4 173.5L203.4 181.0L204.4 187.3L205.4 193.3L206.4 199.3L207.4 205.3L208.4 211.3L209.4 217.2L210.4 222.5L211.4 227.5L212.4 232.5L213.4 237.3L214.4 241.8L215.4 245.5L216.4 248.4L217.4 249.9L218.4 249.0L219.4 246.1L220.4 242.2L221.4 237.4L222.4 231.7L223.4 225.2L224.4 217.4L225.4 209.4L226.4 201.4L227.4 193.0L228.4 182.7L229.4 171.0L230.4 158.2L231.4 144.9L232.4 131.6L233.4 118.2L234.4 105.0L235.4 93.3L236.4 83.7L237.4 74.8L238.4 66.1L239.4 58.7L240.4 53.3L241.4 49.2L242.4 45.9L243.4 43.0L244.4 40.4L245.4 38.1L246.4 36.6L247.4 36.0L248.4 36.7L249.4 38.4L250.4 41.0L251.4 44.0L252.4 47.3L253.4 51.2L254.4 55.8L255.4 61.2L256.4 67.2L257.4 73.9L258.4 81.5L259.4 89.8L260.4 98.2L261.4 106.9L262.4 116.1L263.4 125.4L264.4 134.7L265.4 144.1L266.4 153.4L267.4 162.7L268.4 172.1L269.4 181.4L270.4 190.5L271.4 197.8L272.4 204.5L273.4 212.0L274.4 220.0L275.4 228.0L276.4 236.0L277.4 244.0L278.4 252.0L279.4 259.9L280.4 267.3L281.4 274.4L282.4 281.1L283.4 287.1L284.4 292.7L285.4 298.0L286.4 302.2L287.4 304.8L288.4 304.5L289.4 301.2L290.4 295.9L291.4 290.2L292.4 283.8L293.4 277.4L294.4 270.7L295.4 263.5L296.4 256.2L297.4 248.8L298.4 241.5L299.4 234.2L300.4 226.8L301.4 219.2L302.4 211.0L303.4 202.9L304.4 194.8L305.4 186.7L306.4 178.6L307.4 171.3L308.4 166.0L309.4 162.1L310.4 159.1L311.4 156.6L312.4 154.5L313.4 152.9L314.4 151.9L315.4 151.2L316.4 150.8L317.4 150.8L318.4 151.2L319.4 151.9L320.4 152.8L321.4 153.9L322.4 155.4L323.4 157.2L324.4 159.3L325.4 161.5L326.4 163.8L327.4 166.2L328.4 168.7L329.4 171.2L330.4 173.9L331.4 176.6L332.4 179.5L333.4 182.6L334.4 186.1L335.4 190.1L336.4 194.4L337.4 199.2L338.4 204.3L339.4 209.7L340.4 215.3L341.4 220.8L342.4 226.3L343.4 232.1L344.4 238.8L345.4 246.8L346.4 256.2L347.4 266.5L348.4 277.4L349.4 288.7L350.4 300.0L351.4 311.0L352.4 321.4L353.4 331.5L354.4 341.1L355.4 349.5L356.4 357.4L357.4 364.8L358.4 371.5L359.4 377.3L360.4 382.3L361.4 386.3L362.4 389.7L363.4 392.6L364.4 394.6L365.4 396.0L366.4 396.9L367.4 397.2L368.4 397.3L369.4 397.1L370.4 396.8L371.4 396.2L372.4 394.8L373.4 392.3L374.4 389.0L375.4 385.3L376.4 381.5L377.4 377.6L378.4 373.5L379.4 369.3L380.4 364.5L381.4 359.4L382.4 354.6L383.4 350.0L384.4 345.4L385.4 340.8L386.4 336.2L387.4 331.5L388.4 326.6L389.4 321.1L390.4 315.1L391.4 309.0L392.4 302.7L393.4 296.2L394.4 289.6L395.4 283.0L396.4 276.6L397.4 270.4L398.4 264.6L399.4 259.7L400.4 255.8L401.4 252.5L402.4 249.7L403.4 247.1L404.4 244.7L405.4 242.6L406.4 240.9L407.4 239.6L408.4 239.0L409.4 239.5L410.4 241.3L411.4 242.9L412.4 242.8L413.4 238.0L414.4 231.5L415.4 226.5L416.4 221.7L417.4 217.4L418.4 213.6L419.4 211.0L420.4 210.2L421.4 209.6L422.4 209.5L423.4 209.0L424.4 205.3L425.4 197.3L426.4 189.1L427.4 181.1L428.4 173.1L429.4 165.1L430.4 157.1L431.4 149.4L432.4 142.8L433.4 136.6L434.4 130.7L435.4 125.4L436.4 120.5L437.4 116.3L438.4 113.0L439.4 110.9L440.4 109.5L441.4 108.7L442.4 108.2L443.4 108.0L444.4 108.2L445.4 108.5L446.4 109.4L447.4 112.8L448.4 120.1L449.4 129.6L450.4 139.6L451.4 149.6L452.4 159.6L453.4 169.6L454.4 179.0L455.4 187.6L456.4 195.5L457.4 202.7L458.4 209.3L459.4 215.5L460.4 220.9L461.4 225.5L462.4 230.0L463.4 235.1L464.4 241.1L465.4 247.3L466.4 253.8L467.4 262.2L468.4 277.7L469.4 293.7L470.4 306.0L471.4 316.0L472.4 326.0L473.4 336.0L474.4 346.0L475.4 354.3L476.4 361.5L477.4 366.8L478.4 367.8L479.4 366.7L480.4 365.5L481.4 366.0L482.4 366.9L483.4 368.5L484.4 371.3L485.4 374.5L486.4 378.1L487.4 382.1L488.4 386.1L489.4 390.1L490.4 394.1L491.4 398.1L492.4 402.1L493.4 407.0L494.4 412.2L495.4 417.0L496.4 420.5L497.4 420.9L498.4 419.0L499.4 416.4L500.4 414.9L501.4 415.3L502.4 416.0L503.4 417.0L504.4 418.3L505.4 420.1L506.4 421.9L507.4 423.9L508.4 426.3L509.4 428.9L510.4 431.5L511.4 434.3L512.4 437.4L513.4 440.5L514.4 443.0L515.4 444.3L516.4 444.7L517.4 444.6L518.4 444.5L519.4 444.9L520.4 446.1L521.4 447.7L522.4 449.5L523.4 450.8L524.4 451.4L525.4 451.5L526.4 450.8L527.4 450.1L528.4 449.3L529.4 448.5L530.4 447.7L531.4 446.9L532.4 446.0L533.4 445.2L534.4 444.4L535.4 443.5L536.4 442.7L537.4 441.9L538.4 441.1L539.4 440.3L540.4 439.5L541.4 438.7L542.4 437.8L543.4 436.7L544.4 433.8L545.4 427.9L546.4 420.5L547.4 413.0L548.4 406.0L549.4 399.3L550.4 392.6L551.4 385.9L552.4 379.1L553.4 372.0L554.4 361.6L555.4 354.9L556.4 349.6L557.4 344.3L558.4 338.9L559.4 333.6L560.4 328.3L561.4 323.1L562.4 318.4L563.4 314.2L564.4 310.2L565.4 306.2L566.4 302.2L567.4 298.2L568.4 294.2L569.4 290.2L570.4 286.2L571.4 282.2L572.4 278.2L573.4 274.2L574.4 270.2L575.4 266.2L576.4 262.2L577.4 258.2L578.4 254.8L579.4 251.7L580.4 245.7L581.4 231.5L582.4 214.6L583.4 201.7L584.4 194.3L585.4 187.1L586.4 180.1L587.4 173.2L588.4 166.5L589.4 160.8L590.4 156.6L591.4 153.4L592.4 150.9L593.4 149.1L594.4 148.0L595.4 147.2L596.4 146.8L597.4 146.8L598.4 147.0L599.4 147.6L600.4 148.5L601.4 149.5L602.4 150.8L603.4 152.5L604.4 154.1L605.4 155.8L606.4 157.5L607.4 159.1L608.4 160.8L609.4 162.3L610.4 163.3L611.4 164.1L612.4 165.0L613.4 165.9L614.4 166.7L615.4 167.4L616.4 167.8L617.4 168.2L618.4 168.7L619.4 169.4L620.4 170.3L621.4 171.3L622.4 172.5L623.4 173.7L624.4 175.1L625.4 176.7L626.4 178.0L627.4 179.0L628.4 179.8L629.4 180.5L630.4 181.2L631.4 181.9L632.4 182.6L633.4 183.2L634.4 184.0L635.4 185.1L636.4 186.6L637.4 188.3L638.4 190.2L639.4 192.3L640.4 194.4L641.4 196.8L642.4 199.2L643.4 201.4L644.4 202.9L645.4 203.9L646.4 204.5L647.4 204.5L648.4 204.0L649.4 202.9L650.4 200.9L651.4 198.0L652.4 194.4L653.4 190.4L654.4 186.1L655.4 181.4L656.4 176.5L657.4 171.4L658.4 166.1L659.4 161.0L660.4 156.1L661.4 151.4L662.4 146.7L663.4 142.3L664.4 138.1L665.4 134.2L666.4 130.7L667.4 127.5L668.4 124.6L669.4 122.1L670.4 119.9L671.4 118.0L672.4 116.4L673.4 115.1L674.4 114.1L675.4 113.2L676.4 112.5L677.4 112.1L678.4 112.2L679.4 112.8L680.4 113.9L681.4 115.4L682.4 117.5L683.4 120.4L684.4 124.0L685.4 128.0L686.4 132.5L687.4 138.0L688.4 144.4L689.4 151.7L690.4 161.6L691.4 174.4L692.4 188.7L693.4 203.0L694.4 215.9L695.4 225.9L696.4 232.4L697.4 238.1L698.4 243.5L699.4 248.7L700.4 253.8L701.4 258.9L702.4 263.8L703.4 268.6L704.4 272.9L705.4 276.0L706.4 277.3L707.4 276.1L708.4 272.8L709.4 268.2L710.4 263.1L711.4 257.9L712.4 252.3L713.4 246.3L714.4 240.3L715.4 234.3L716.4 228.3L717.4 222.3L718.4 216.3L719.4 211.5L720.4 208.1L721.4 205.9L722.4 204.5L723.4 203.9L724.4 203.6L725.4 203.4L726.4 203.2L727.4 203.3L728.4 203.4L729.4 203.6L730.4 203.6L731.4 203.1L732.4 202.5L733.4 201.9L734.4 201.2L735.4 200.3L736.4 199.2L737.4 198.0L738.4 196.7L739.4 195.2L740.4 193.6L741.4 191.9L741.6 191.4L741.3 250.7L740.4 249.8L739.4 249.0L738.4 248.8L737.4 249.1L736.4 249.5L735.4 249.9L734.4 250.3L733.4 250.7L732.4 251.1L731.4 251.5L730.4 251.9L729.4 252.3L728.4 252.7L727.4 253.3L726.4 254.0L725.4 254.9L724.4 256.1L723.4 258.7L722.4 262.8L721.4 268.2L720.4 274.1L719.4 280.3L718.4 286.8L717.4 293.3L716.4 300.2L715.4 307.5L714.4 314.8L713.4 322.2L712.4 329.7L711.4 337.2L710.4 343.7L709.4 348.1L708.4 351.5L707.4 353.1L706.4 352.4L705.4 349.8L704.4 346.6L703.4 342.6L702.4 338.0L701.4 333.3L700.4 328.5L699.4 323.7L698.4 318.7L697.4 313.7L696.4 308.6L695.4 303.1L694.4 297.2L693.4 290.9L692.4 284.4L691.4 276.5L690.4 267.0L689.4 257.0L688.4 247.3L687.4 238.9L686.4 232.5L685.4 228.4L684.4 224.4L683.4 220.4L682.4 216.4L681.4 212.4L680.4 208.4L679.4 204.4L678.4 200.4L677.4 196.4L676.4 192.4L675.4 188.4L674.4 184.4L673.4 180.4L672.4 177.4L671.4 175.5L670.4 174.7L669.4 174.7L668.4 175.6L667.4 177.6L666.4 180.6L665.4 184.3L664.4 188.4L663.4 192.9L662.4 198.3L661.4 203.6L660.4 206.2L659.4 206.3L658.4 207.8L657.4 213.6L656.4 221.8L655.4 231.4L654.4 241.6L653.4 251.5L652.4 260.8L651.4 270.0L650.4 279.0L649.4 287.5L648.4 295.7L647.4 302.4L646.4 307.5L645.4 311.6L644.4 314.2L643.4 314.5L642.4 313.3L641.4 311.2L640.4 308.3L639.4 305.1L638.4 301.7L637.4 298.1L636.4 294.0L635.4 289.6L634.4 285.1L633.4 280.5L632.4 275.9L631.4 271.0L630.4 266.0L629.4 260.8L628.4 253.7L627.4 242.6L626.4 233.3L625.4 229.7L624.4 227.0L623.4 224.4L622.4 221.7L621.4 219.0L620.4 216.4L619.4 213.7L618.4 211.0L617.4 208.4L616.4 205.8L615.4 203.9L614.4 202.6L613.4 201.5L612.4 200.3L611.4 199.2L610.4 198.2L609.4 197.3L608.4 196.6L607.4 196.4L606.4 196.5L605.4 197.0L604.4 197.8L603.4 198.9L602.4 200.3L601.4 202.2L600.4 204.3L599.4 206.5L598.4 209.0L597.4 212.1L596.4 216.1L595.4 221.4L594.4 227.6L593.4 234.3L592.4 240.9L591.4 247.0L590.4 252.1L589.4 257.0L588.4 261.5L587.4 265.6L586.4 269.6L585.4 273.6L584.4 277.6L583.4 281.6L582.4 285.6L581.4 289.6L580.4 293.6L579.4 297.5L578.4 301.0L577.4 304.4L576.4 307.5L575.4 310.2L574.4 312.5L573.4 314.8L572.4 317.5L571.4 320.5L570.4 323.6L569.4 326.9L568.4 330.4L567.4 334.2L566.4 338.4L565.4 342.9L564.4 348.0L563.4 353.7L562.4 360.0L561.4 366.7L560.4 373.3L559.4 380.0L558.4 386.7L557.4 393.3L556.4 400.0L555.4 406.7L554.4 413.3L553.4 420.0L552.4 426.7L551.4 433.3L550.4 440.0L549.4 446.7L548.4 453.3L547.4 460.0L546.4 466.7L545.4 473.3L544.4 480.0L543.4 486.2L542.4 491.0L541.4 495.2L540.4 499.2L539.4 503.2L538.4 507.2L537.4 511.1L536.4 514.6L535.4 517.8L534.4 520.6L533.4 522.8L532.4 524.5L531.4 525.6L530.4 526.0L529.4 525.9L528.4 524.8L527.4 523.0L526.4 522.0L525.4 522.4L524.4 523.1L523.4 524.3L522.4 525.5L521.4 525.8L520.4 525.3L519.4 524.7L518.4 523.9L517.4 523.2L516.4 522.9L515.4 523.7L514.4 525.2L513.4 527.3L512.4 529.8L511.4 532.1L510.4 534.1L509.4 535.8L508.4 537.2L507.4 538.1L506.4 538.7L505.4 539.0L504.4 539.1L503.4 539.1L502.4 538.9L501.4 538.5L500.4 537.8L499.4 536.9L498.4 535.8L497.4 534.5L496.4 532.5L495.4 530.8L494.4 530.4L493.4 531.0L492.4 531.5L491.4 531.4L490.4 531.0L489.4 530.4L488.4 529.5L487.4 528.0L486.4 525.7L485.4 523.1L484.4 520.2L483.4 517.3L482.4 513.0L481.4 506.5L480.4 499.5L479.4 492.5L478.4 485.5L477.4 479.1L476.4 474.6L475.4 470.7L474.4 467.1L473.4 464.2L472.4 458.7L471.4 450.7L470.4 442.7L469.4 434.8L468.4 426.6L467.4 417.6L466.4 408.5L465.4 399.5L464.4 390.6L463.4 382.8L462.4 374.1L461.4 365.6L460.4 369.1L459.4 375.2L458.4 379.9L457.4 379.1L456.4 375.0L455.4 368.5L454.4 356.9L453.4 344.4L452.4 332.1L451.4 318.6L450.4 304.2L449.4 289.9L448.4 275.0L447.4 259.7L446.4 247.7L445.4 243.9L444.4 245.9L443.4 247.1L442.4 247.5L441.4 245.8L440.4 245.5L439.4 252.7L438.4 261.2L437.4 269.9L436.4 278.9L435.4 287.8L434.4 296.2L433.4 303.6L432.4 308.7L431.4 312.9L430.4 316.6L429.4 317.5L428.4 316.9L427.4 316.2L426.4 316.1L425.4 316.3L424.4 316.6L423.4 316.8L422.4 318.0L421.4 322.8L420.4 330.0L419.4 336.9L418.4 343.6L417.4 350.2L416.4 356.0L415.4 359.3L414.4 360.9L413.4 362.0L412.4 362.9L411.4 363.4L410.4 364.0L409.4 364.8L408.4 366.6L407.4 369.5L406.4 373.0L405.4 377.0L404.4 381.1L403.4 385.0L402.4 388.7L401.4 392.2L400.4 395.6L399.4 399.0L398.4 402.3L397.4 405.4L396.4 408.2L395.4 410.8L394.4 413.0L393.4 415.0L392.4 416.8L391.4 418.4L390.4 420.0L389.4 421.6L388.4 423.2L387.4 424.8L386.4 426.4L385.4 428.0L384.4 429.7L383.4 431.4L382.4 433.1L381.4 434.8L380.4 437.1L379.4 440.2L378.4 443.6L377.4 447.2L376.4 451.0L375.4 455.2L374.4 459.5L373.4 464.5L372.4 470.8L371.4 478.1L370.4 484.6L369.4 490.4L368.4 495.3L367.4 497.1L366.4 495.3L365.4 491.3L364.4 486.5L363.4 481.2L362.4 475.5L361.4 468.9L360.4 461.9L359.4 454.9L358.4 447.9L357.4 440.5L356.4 430.8L355.4 421.8L354.4 415.0L353.4 407.2L352.4 398.1L351.4 388.9L350.4 379.7L349.4 370.4L348.4 361.2L347.4 352.0L346.4 342.7L345.4 333.1L344.4 322.9L343.4 312.3L342.4 300.0L341.4 287.0L340.4 274.1L339.4 262.5L338.4 253.0L337.4 245.8L336.4 240.3L335.4 235.8L334.4 231.8L333.4 227.8L332.4 224.0L331.4 220.5L330.4 217.3L329.4 214.7L328.4 212.6L327.4 211.2L326.4 210.2L325.4 209.6L324.4 209.0L323.4 208.5L322.4 206.8L321.4 202.7L320.4 202.5L319.4 212.7L318.4 227.7L317.4 242.8L316.4 258.4L315.4 271.5L314.4 281.6L313.4 290.9L312.4 300.7L311.4 310.7L310.4 320.7L309.4 330.7L308.4 340.7L307.4 350.7L306.4 360.7L305.4 370.7L304.4 380.7L303.4 390.7L302.4 400.7L301.4 410.7L300.4 420.5L299.4 429.5L298.4 437.2L297.4 440.4L296.4 439.7L295.4 436.7L294.4 432.9L293.4 428.8L292.4 424.5L291.4 419.7L290.4 414.7L289.4 409.9L288.4 404.9L287.4 399.0L286.4 391.8L285.4 383.8L284.4 375.8L283.4 367.8L282.4 359.8L281.4 351.8L280.4 343.8L279.4 335.8L278.4 327.8L277.4 319.8L276.4 311.8L275.4 303.4L274.4 294.9L273.4 286.4L272.4 278.0L271.4 269.8L270.4 261.7L269.4 253.8L268.4 245.8L267.4 237.9L266.4 230.1L265.4 222.4L264.4 215.0L263.4 208.2L262.4 202.3L261.4 196.9L260.4 191.8L259.4 186.4L258.4 180.5L257.4 174.2L256.4 167.8L255.4 161.5L254.4 155.4L253.4 149.4L252.4 143.5L251.4 137.9L250.4 132.6L249.4 128.3L248.4 124.5L247.4 122.5L246.4 122.9L245.4 126.8L244.4 133.3L243.4 142.5L242.4 152.5L241.4 160.3L240.4 166.5L239.4 171.8L238.4 176.7L237.4 181.7L236.4 187.3L235.4 194.2L234.4 202.9L233.4 214.2L232.4 230.1L231.4 243.9L230.4 256.3L229.4 268.9L228.4 282.3L227.4 295.9L226.4 308.7L225.4 320.6L224.4 331.6L223.4 341.6L222.4 350.6L221.4 358.7L220.4 366.7L219.4 374.7L218.4 382.7L217.4 390.7L216.4 398.7L215.4 406.7L214.4 414.7L213.4 422.3L212.4 429.3L211.4 435.9L210.4 441.7L209.4 446.6L208.4 450.8L207.4 454.9L206.4 459.0L205.4 463.6L204.4 468.9L203.4 475.3L202.4 482.6L201.4 490.2L200.4 497.7L199.4 504.7L198.4 511.4L197.4 515.8L196.4 515.6L195.4 510.7L194.4 503.2L193.4 495.1L192.4 487.3L191.4 479.0L190.4 469.6L189.4 459.0L188.4 447.8L187.4 436.2L186.4 424.0L185.4 411.7L184.4 399.6L183.4 387.8L182.4 376.3L181.4 364.9L180.4 353.4L179.4 342.1L178.4 331.0L177.4 320.1L176.4 309.5L175.4 302.6L174.4 298.4L173.4 291.8L172.4 281.0L171.4 270.0L170.4 258.9L169.4 247.8L168.4 237.6L167.4 228.3L166.4 220.0L165.4 212.4L164.4 205.1L163.4 198.1L162.4 191.9L161.4 186.5L160.4 181.3L159.4 176.2L158.4 171.1L157.4 166.0L156.4 160.9L155.4 155.9L154.4 151.0L153.4 146.4L152.4 142.2L151.4 138.5L150.4 135.4L149.4 132.7L148.4 130.7L147.4 129.9L146.4 130.3L145.4 132.2L144.4 134.9L143.4 138.3L142.4 142.6L141.4 147.5L140.4 153.5L139.4 159.5L138.4 162.1L137.4 162.7L136.4 165.6L135.4 174.2L134.4 184.2L133.4 194.2L132.4 204.2L131.4 214.2L130.4 224.2L129.4 234.2L128.4 244.2L127.4 254.4L126.4 266.4L125.4 278.3L124.4 290.0L123.4 298.8L122.4 303.8L121.4 307.2L120.4 311.2L119.4 318.1L118.4 326.1L117.4 334.1L116.4 342.1L115.4 350.1L114.4 358.1L113.4 365.8L112.4 372.6L111.4 378.8L110.4 384.6L109.4 389.3L108.4 392.8L107.4 394.2L106.4 393.3L105.4 390.9L104.4 387.9L103.4 383.7L102.4 378.3L101.4 372.8L100.4 367.7L99.4 362.7L98.4 357.8L97.4 354.1L96.4 353.2L95.4 355.9L94.4 360.5L93.4 362.2L92.4 358.1L91.4 352.6L90.4 347.1L89.4 342.2L88.4 337.5L87.4 333.1L86.4 329.1L85.4 325.8L84.4 323.3L83.4 321.6L82.4 320.4L81.4 319.7L80.4 319.1L79.4 318.6L78.4 318.2L77.4 317.9L76.4 317.6L75.4 317.4L74.4 317.2L73.4 317.1Z" fill="none" stroke="#9c2020" stroke-width="1.15" stroke-linejoin="round"/>
<path d="M71.8 291.1L72.8 292.5L73.8 293.9L74.8 295.2L75.8 296.6L76.8 298.0L77.8 299.3L78.8 300.5L79.8 301.7L80.8 303.0L81.8 304.4L82.8 306.1L83.8 308.2L84.8 310.9L85.8 313.7L86.8 316.6L87.8 319.2L88.8 321.7L89.8 324.2L90.8 326.7L91.8 329.0L92.8 330.5L93.8 330.8L94.8 330.1L95.8 328.9L96.8 327.5L97.8 326.0L98.8 324.3L99.8 322.8L100.8 321.7L101.8 321.3L102.8 321.2L103.8 320.6L104.8 319.4L105.8 317.5L106.8 314.1L107.8 308.7L108.8 303.8L109.8 301.1L110.8 299.3L111.8 296.7L112.8 291.4L113.8 283.3L114.8 274.7L115.8 266.0L116.8 257.4L117.8 248.6L118.8 239.4L119.8 230.3L120.8 221.6L121.8 213.0L122.8 204.0L123.8 194.8L124.8 186.1L125.8 177.9L126.8 170.3L127.8 163.0L128.8 155.9L129.8 149.1L130.8 142.9L131.8 137.4L132.8 132.3L133.8 127.6L134.8 123.0L135.8 118.9L136.8 115.2L137.8 111.9L138.8 108.8L139.8 105.9L140.8 103.2L141.8 100.8L142.8 98.7L143.8 96.9L144.8 95.2L145.8 93.7L146.8 92.7L147.8 92.7L148.8 93.6L149.8 94.9L150.8 96.4L151.8 98.1L152.8 100.1L153.8 102.3L154.8 104.5L155.8 107.0L156.8 109.5L157.8 112.2L158.8 115.2L159.8 118.4L160.8 121.9L161.8 125.7L162.8 129.5L163.8 133.5L164.8 137.5L165.8 141.5L166.8 145.6L167.8 149.8L168.8 154.7L169.8 160.2L170.8 166.3L171.8 172.6L172.8 179.0L173.8 185.2L174.8 191.1L175.8 196.8L176.8 202.5L177.8 208.2L178.8 213.9L179.8 219.6L180.8 225.4L181.8 231.1L182.8 236.8L183.8 242.5L184.8 248.2L185.8 254.1L186.8 260.5L187.8 267.5L188.8 274.8L189.8 282.3L190.8 289.8L191.8 297.6L192.8 305.7L193.8 313.5L194.8 320.5L195.8 324.8L196.8 327.2L197.8 328.8L198.8 330.4L199.8 332.0L200.8 333.5L201.8 334.5L202.8 335.2L203.8 335.7L204.8 336.0L205.8 336.0L206.8 335.8L207.8 335.4L208.8 334.8L209.8 333.9L210.8 332.7L211.8 331.2L212.8 329.5L213.8 327.6L214.8 325.4L215.8 322.6L216.8 319.3L217.8 315.4L218.8 310.3L219.8 304.1L220.8 296.8L221.8 288.7L222.8 279.2L223.8 270.0L224.8 262.1L225.8 254.2L226.8 244.9L227.8 234.4L228.8 226.0L229.8 218.0L230.8 210.0L231.8 202.0L232.8 194.0L233.8 185.6L234.8 175.3L235.8 164.1L236.8 150.2L237.8 134.7L238.8 119.4L239.8 106.0L240.8 96.2L241.8 90.5L242.8 87.0L243.8 84.8L244.8 83.0L245.8 81.2L246.8 79.7L247.8 78.8L248.8 78.7L249.8 79.5L250.8 81.2L251.8 84.2L252.8 88.4L253.8 93.5L254.8 99.0L255.8 104.8L256.8 110.7L257.8 117.0L258.8 123.8L259.8 131.3L260.8 141.4L261.8 154.9L262.8 170.0L263.8 185.2L264.8 198.9L265.8 209.5L266.8 217.5L267.8 225.2L268.8 232.3L269.8 239.3L270.8 246.4L271.8 253.5L272.8 260.7L273.8 268.0L274.8 275.2L275.8 282.2L276.8 288.8L277.8 295.1L278.8 301.3L279.8 307.2L280.8 312.7L281.8 318.0L282.8 323.1L283.8 328.0L284.8 332.5L285.8 336.7L286.8 340.7L287.8 344.2L288.8 347.4L289.8 350.3L290.8 352.9L291.8 355.0L292.8 356.8L293.8 358.1L294.8 358.8L295.8 358.8L296.8 358.1L297.8 356.5L298.8 354.0L299.8 350.2L300.8 345.0L301.8 338.7L302.8 331.2L303.8 322.4L304.8 313.2L305.8 303.4L306.8 293.4L307.8 283.4L308.8 273.4L309.8 263.4L310.8 253.0L311.8 242.1L312.8 231.2L313.8 220.3L314.8 209.5L315.8 201.1L316.8 196.1L317.8 193.4L318.8 191.7L319.8 190.4L320.8 189.4L321.8 188.9L322.8 188.8L323.8 189.2L324.8 189.7L325.8 190.2L326.8 190.9L327.8 191.7L328.8 192.7L329.8 194.0L330.8 195.4L331.8 197.0L332.8 198.9L333.8 201.3L334.8 204.4L335.8 208.1L336.8 212.0L337.8 215.9L338.8 219.8L339.8 224.2L340.8 229.2L341.8 235.1L342.8 242.0L343.8 252.2L344.8 270.7L345.8 292.5L346.8 311.7L347.8 323.7L348.8 333.9L349.8 343.4L350.8 352.6L351.8 361.9L352.8 371.1L353.8 380.3L354.8 389.6L355.8 398.7L356.8 407.9L357.8 416.1L358.8 423.1L359.8 429.5L360.8 434.9L361.8 439.4L362.8 442.9L363.8 445.6L364.8 447.6L365.8 448.6L366.8 448.7L367.8 448.5L368.8 447.5L369.8 445.1L370.8 441.2L371.8 437.2L372.8 433.2L373.8 429.2L374.8 425.2L375.8 421.2L376.8 417.2L377.8 413.2L378.8 409.2L379.8 405.1L380.8 400.0L381.8 394.2L382.8 388.9L383.8 383.7L384.8 378.5L385.8 373.5L386.8 368.6L387.8 363.8L388.8 359.6L389.8 356.2L390.8 353.4L391.8 350.9L392.8 348.4L393.8 345.9L394.8 343.4L395.8 340.9L396.8 338.4L397.8 335.9L398.8 333.4L399.8 331.0L400.8 328.6L401.8 326.2L402.8 323.8L403.8 321.4L404.8 319.0L405.8 316.6L406.8 314.2L407.8 311.8L408.8 309.5L409.8 307.4L410.8 305.5L411.8 303.5L412.8 301.6L413.8 299.5L414.8 297.3L415.8 295.0L416.8 292.5L417.8 289.7L418.8 286.8L419.8 283.3L420.8 275.4L421.8 266.4L422.8 261.1L423.8 256.4L424.8 251.9L425.8 247.2L426.8 242.0L427.8 236.5L428.8 231.0L429.8 225.5L430.8 220.0L431.8 214.5L432.8 209.0L433.8 203.5L434.8 198.0L435.8 192.7L436.8 187.4L437.8 182.3L438.8 178.3L439.8 175.4L440.8 173.8L441.8 173.3L442.8 173.1L443.8 173.3L444.8 173.7L445.8 175.0L446.8 178.6L447.8 186.4L448.8 196.1L449.8 206.7L450.8 217.7L451.8 228.7L452.8 239.7L453.8 251.1L454.8 263.9L455.8 275.8L456.8 285.2L457.8 289.9L458.8 292.1L459.8 293.8L460.8 294.4L461.8 296.2L462.8 302.7L463.8 314.3L464.8 326.7L465.8 337.2L466.8 346.3L467.8 354.6L468.8 363.0L469.8 371.4L470.8 379.8L471.8 388.2L472.8 396.2L473.8 403.6L474.8 410.7L475.8 417.5L476.8 423.8L477.8 429.3L478.8 433.5L479.8 436.7L480.8 439.6L481.8 442.4L482.8 445.0L483.8 447.5L484.8 450.0L485.8 452.4L486.8 454.8L487.8 457.2L488.8 459.4L489.8 461.5L490.8 463.6L491.8 465.5L492.8 467.4L493.8 469.2L494.8 470.9L495.8 472.4L496.8 473.6L497.8 474.4L498.8 475.2L499.8 475.9L500.8 476.5L501.8 477.1L502.8 477.6L503.8 478.1L504.8 478.7L505.8 479.2L506.8 479.7L507.8 480.2L508.8 480.7L509.8 481.1L510.8 481.5L511.8 481.9L512.8 482.3L513.8 482.6L514.8 482.9L515.8 483.2L516.8 483.4L517.8 483.7L518.8 483.9L519.8 484.2L520.8 484.4L521.8 484.5L522.8 484.7L523.8 484.8L524.8 484.9L525.8 484.9L526.8 485.0L527.8 485.0L528.8 485.1L529.8 485.1L530.8 484.9L531.8 484.6L532.8 484.2L533.8 483.7L534.8 483.2L535.8 482.4L536.8 481.1L537.8 479.2L538.8 476.4L539.8 472.8L540.8 468.1L541.8 462.4L542.8 456.1L543.8 449.7L544.8 442.9L545.8 435.4L546.8 427.0L547.8 419.0L548.8 412.2L549.8 405.6L550.8 398.9L551.8 392.2L552.8 385.6L553.8 378.9L554.8 372.9L555.8 367.0L556.8 360.9L557.8 354.8L558.8 348.8L559.8 342.8L560.8 336.9L561.8 331.3L562.8 326.1L563.8 321.4L564.8 316.8L565.8 312.3L566.8 307.5L567.8 302.7L568.8 297.9L569.8 293.2L570.8 288.6L571.8 284.1L572.8 279.6L573.8 275.3L574.8 270.9L575.8 266.6L576.8 262.2L577.8 257.8L578.8 253.3L579.8 248.9L580.8 244.5L581.8 240.1L582.8 235.7L583.8 231.2L584.8 226.8L585.8 221.5L586.8 214.9L587.8 209.2L588.8 204.2L589.8 199.6L590.8 195.7L591.8 192.1L592.8 188.9L593.8 185.9L594.8 183.3L595.8 181.2L596.8 179.3L597.8 177.9L598.8 176.9L599.8 176.2L600.8 175.6L601.8 175.4L602.8 175.3L603.8 175.4L604.8 175.6L605.8 176.1L606.8 176.8L607.8 177.7L608.8 178.9L609.8 180.3L610.8 181.8L611.8 183.3L612.8 185.0L613.8 186.8L614.8 188.8L615.8 190.8L616.8 192.8L617.8 194.8L618.8 196.8L619.8 198.8L620.8 200.6L621.8 202.1L622.8 203.8L623.8 205.7L624.8 207.7L625.8 209.7L626.8 211.8L627.8 214.0L628.8 216.2L629.8 218.5L630.8 220.8L631.8 223.1L632.8 225.6L633.8 228.1L634.8 230.7L635.8 233.7L636.8 237.7L637.8 242.2L638.8 246.8L639.8 251.1L640.8 254.8L641.8 257.4L642.8 258.6L643.8 258.9L644.8 258.9L645.8 259.2L646.8 258.4L647.8 254.4L648.8 248.9L649.8 243.2L650.8 237.3L651.8 231.3L652.8 225.3L653.8 219.3L654.8 213.1L655.8 206.6L656.8 200.3L657.8 194.2L658.8 188.2L659.8 182.4L660.8 176.7L661.8 171.3L662.8 166.6L663.8 162.4L664.8 158.4L665.8 154.6L666.8 151.4L667.8 148.8L668.8 147.0L669.8 145.8L670.8 145.1L671.8 144.8L672.8 144.8L673.8 145.3L674.8 146.2L675.8 147.6L676.8 149.7L677.8 152.4L678.8 155.5L679.8 158.9L680.8 162.6L681.8 166.6L682.8 171.0L683.8 175.7L684.8 180.6L685.8 185.7L686.8 190.8L687.8 196.3L688.8 201.9L689.8 207.5L690.8 213.1L691.8 218.7L692.8 224.4L693.8 232.4L694.8 242.6L695.8 253.4L696.8 263.2L697.8 270.8L698.8 277.7L699.8 284.0L700.8 289.7L701.8 295.2L702.8 300.3L703.8 304.9L704.8 308.9L705.8 312.2L706.8 313.7L707.8 313.5L708.8 311.1L709.8 306.7L710.8 301.4L711.8 295.0L712.8 288.1L713.8 281.1L714.8 273.6L715.8 266.0L716.8 259.1L717.8 253.0L718.8 247.4L719.8 241.9L720.8 237.0L721.8 233.1L722.8 230.2L723.8 228.2L724.8 226.9L725.8 226.0L726.8 225.4L727.8 224.8L728.8 224.3L729.8 224.0L730.8 223.7L731.8 223.7L732.8 224.0L733.8 224.5L734.8 224.9L735.8 224.9L736.8 224.3L737.8 223.5L738.8 222.7L739.8 221.9L740.8 221.1L741.8 220.4L742.8 219.9" fill="none" stroke="#ff0000" stroke-width="6.2" stroke-linecap="round" stroke-linejoin="round"/>
<circle cx="146.4" cy="90.9" r="7.9" fill="#0000ff" stroke="#000" stroke-width="1"/>
<circle cx="238.9" cy="105.0" r="7.9" fill="#0000ff" stroke="#000" stroke-width="1"/>
<circle cx="249.0" cy="68.6" r="7.9" fill="#0000ff" stroke="#000" stroke-width="1"/>
<circle cx="243.7" cy="83.3" r="7.9" fill="#0000ff" stroke="#000" stroke-width="1"/>
<circle cx="264.1" cy="144.2" r="7.9" fill="#0000ff" stroke="#000" stroke-width="1"/>
<circle cx="268.2" cy="189.9" r="7.9" fill="#0000ff" stroke="#000" stroke-width="1"/>
<circle cx="267.7" cy="182.1" r="7.9" fill="#0000ff" stroke="#000" stroke-width="1"/>
<circle cx="323.0" cy="141.6" r="7.9" fill="#0000ff" stroke="#000" stroke-width="1"/>
<circle cx="333.1" cy="190.9" r="7.9" fill="#0000ff" stroke="#000" stroke-width="1"/>
<circle cx="335.1" cy="221.7" r="7.9" fill="#0000ff" stroke="#000" stroke-width="1"/>
<circle cx="83.0" cy="305.8" r="7.9" fill="#0000ff" stroke="#000" stroke-width="1"/>
<circle cx="219.4" cy="355.8" r="7.9" fill="#0000ff" stroke="#000" stroke-width="1"/>
<circle cx="277.5" cy="329.5" r="7.9" fill="#0000ff" stroke="#000" stroke-width="1"/>
<circle cx="282.1" cy="370.0" r="7.9" fill="#0000ff" stroke="#000" stroke-width="1"/>
<circle cx="288.1" cy="404.1" r="7.9" fill="#0000ff" stroke="#000" stroke-width="1"/>
<circle cx="355.6" cy="431.1" r="7.9" fill="#0000ff" stroke="#000" stroke-width="1"/>
<circle cx="373.5" cy="443.2" r="7.9" fill="#0000ff" stroke="#000" stroke-width="1"/>
<circle cx="379.9" cy="424.0" r="7.9" fill="#0000ff" stroke="#000" stroke-width="1"/>
<circle cx="385.4" cy="393.2" r="7.9" fill="#0000ff" stroke="#000" stroke-width="1"/>
<circle cx="384.4" cy="397.2" r="7.9" fill="#0000ff" stroke="#000" stroke-width="1"/>
<circle cx="413.0" cy="317.9" r="7.9" fill="#0000ff" stroke="#000" stroke-width="1"/>
<circle cx="423.5" cy="268.2" r="7.9" fill="#0000ff" stroke="#000" stroke-width="1"/>
<circle cx="425.3" cy="251.3" r="7.9" fill="#0000ff" stroke="#000" stroke-width="1"/>
<circle cx="440.4" cy="128.8" r="7.9" fill="#0000ff" stroke="#000" stroke-width="1"/>
<circle cx="446.5" cy="101.7" r="7.9" fill="#0000ff" stroke="#000" stroke-width="1"/>
<circle cx="462.2" cy="237.4" r="7.9" fill="#0000ff" stroke="#000" stroke-width="1"/>
<circle cx="616.8" cy="196.5" r="7.9" fill="#0000ff" stroke="#000" stroke-width="1"/>
<circle cx="658.5" cy="212.1" r="7.9" fill="#0000ff" stroke="#000" stroke-width="1"/>
<circle cx="738.6" cy="238.7" r="7.9" fill="#0000ff" stroke="#000" stroke-width="1"/>
<circle cx="729.2" cy="223.0" r="7.9" fill="#0000ff" stroke="#000" stroke-width="1"/>
<circle cx="476.3" cy="421.5" r="7.9" fill="#0000ff" stroke="#000" stroke-width="1"/>
<circle cx="478.3" cy="433.6" r="7.9" fill="#0000ff" stroke="#000" stroke-width="1"/>
<circle cx="496.5" cy="484.7" r="7.9" fill="#0000ff" stroke="#000" stroke-width="1"/>
<circle cx="525.1" cy="484.7" r="7.9" fill="#0000ff" stroke="#000" stroke-width="1"/>
<circle cx="515.5" cy="484.7" r="7.9" fill="#0000ff" stroke="#000" stroke-width="1"/>
<circle cx="544.0" cy="482.9" r="7.9" fill="#0000ff" stroke="#000" stroke-width="1"/>
<circle cx="554.6" cy="368.7" r="7.9" fill="#0000ff" stroke="#000" stroke-width="1"/>
<circle cx="568.3" cy="303.2" r="7.9" fill="#0000ff" stroke="#000" stroke-width="1"/>
<circle cx="700.2" cy="325.0" r="7.9" fill="#0000ff" stroke="#000" stroke-width="1"/>
<rect x="47.5" y="14.5" width="720" height="549" fill="none" stroke="#3a3a3a" stroke-width="1"/>
<line x1="71.80" y1="563.5" x2="71.80" y2="571" stroke="#3a3a3a" stroke-width="1"/>
<text x="72.50" y="590.1" class="ax" text-anchor="middle">0</text>
<line x1="239.15" y1="563.5" x2="239.15" y2="571" stroke="#3a3a3a" stroke-width="1"/>
<text x="239.85" y="590.1" class="ax" text-anchor="middle">100</text>
<line x1="406.50" y1="563.5" x2="406.50" y2="571" stroke="#3a3a3a" stroke-width="1"/>
<text x="407.20" y="590.1" class="ax" text-anchor="middle">200</text>
<line x1="573.85" y1="563.5" x2="573.85" y2="571" stroke="#3a3a3a" stroke-width="1"/>
<text x="574.55" y="590.1" class="ax" text-anchor="middle">300</text>
<line x1="741.20" y1="563.5" x2="741.20" y2="571" stroke="#3a3a3a" stroke-width="1"/>
<text x="741.90" y="590.1" class="ax" text-anchor="middle">400</text>
<line x1="39.8" y1="527.40" x2="47.5" y2="527.40" stroke="#3a3a3a" stroke-width="1"/>
<text transform="translate(30.3,526.80) rotate(-90)" class="ax" text-anchor="middle">-1.5</text>
<line x1="39.8" y1="447.90" x2="47.5" y2="447.90" stroke="#3a3a3a" stroke-width="1"/>
<text transform="translate(30.3,447.30) rotate(-90)" class="ax" text-anchor="middle">-1.0</text>
<line x1="39.8" y1="368.40" x2="47.5" y2="368.40" stroke="#3a3a3a" stroke-width="1"/>
<text transform="translate(30.3,367.80) rotate(-90)" class="ax" text-anchor="middle">-0.5</text>
<line x1="39.8" y1="288.90" x2="47.5" y2="288.90" stroke="#3a3a3a" stroke-width="1"/>
<text transform="translate(30.3,288.30) rotate(-90)" class="ax" text-anchor="middle">0.0</text>
<line x1="39.8" y1="209.40" x2="47.5" y2="209.40" stroke="#3a3a3a" stroke-width="1"/>
<text transform="translate(30.3,208.80) rotate(-90)" class="ax" text-anchor="middle">0.5</text>
<line x1="39.8" y1="129.90" x2="47.5" y2="129.90" stroke="#3a3a3a" stroke-width="1"/>
<text transform="translate(30.3,129.30) rotate(-90)" class="ax" text-anchor="middle">1.0</text>
<line x1="39.8" y1="50.40" x2="47.5" y2="50.40" stroke="#3a3a3a" stroke-width="1"/>
<text transform="translate(30.3,49.80) rotate(-90)" class="ax" text-anchor="middle">1.5</text>
<text x="118.8" y="50.5" class="big" text-anchor="end" fill="#4d4d4d">(b)</text>
<text x="760.5" y="67.3" class="big" text-anchor="end" fill="#4d4d4d">= 0.5</text>
<text x="760.5" y="118.3" class="big" text-anchor="end" fill="#4d4d4d">= 0.5</text>
<text x="624.5" y="64.6" class="sym" fill="#4d4d4d">ε</text>
<path d="M624.22 97.85 L623.94 95.79 L624.48 93.42 L625.74 91.75 L627.63 90.99 L629.37 91.12 L630.79 92.00 L631.90 93.58 L632.85 95.79 L634.27 99.58 L635.85 103.69 L637.43 107.48 L638.37 108.43 L639.32 107.16 L640.74 104.01 L641.85 100.53 L642.32 97.69 L642.42 95.16 L642.64 93.27 L643.43 91.84 L644.69 91.05 L646.11 90.90 L646.90 91.37 L647.06 92.32 L646.27 94.21 L644.69 97.69 L642.80 101.48 L640.90 105.58 L639.01 109.69 L637.58 112.85 L636.48 114.27 L635.53 112.53 L634.27 109.06 L632.85 105.27 L631.42 101.48 L630.16 98.00 L629.21 95.48 L628.42 93.90 L627.63 93.11 L626.53 93.01 L625.42 93.90 L624.85 95.48 L624.79 97.06Z" fill="#4d4d4d" stroke="#4d4d4d" stroke-width="0.3" stroke-linejoin="round"/>
<text x="645.6" y="39.4" class="sup" fill="#4d4d4d">2</text>
<text transform="translate(624,491.9) scale(1,1.045)" class="gk" fill="#808080">Exp</text>
</g>
<g transform="translate(0,600)">
<rect x="155.47" y="14.5" width="167.35" height="549" fill="#fffaf9"/>
<rect x="406.50" y="14.5" width="167.35" height="549" fill="#fffaf9"/>
<line x1="155.47" y1="14.5" x2="155.47" y2="563.5" stroke="#e09862" stroke-width="1.15"/>
<line x1="322.82" y1="14.5" x2="322.82" y2="563.5" stroke="#e09862" stroke-width="1.15"/>
<line x1="406.50" y1="14.5" x2="406.50" y2="563.5" stroke="#e09862" stroke-width="1.15"/>
<line x1="573.85" y1="14.5" x2="573.85" y2="563.5" stroke="#e09862" stroke-width="1.15"/>
<clipPath id="cp2"><path d="M73.4 272.3L74.4 275.6L75.4 278.8L76.4 282.0L77.4 285.1L78.4 288.1L79.4 290.9L80.4 293.3L81.4 295.2L82.4 296.8L83.4 298.1L84.4 299.2L85.4 299.6L86.4 299.8L87.4 300.0L88.4 300.2L89.4 300.4L90.4 300.6L91.4 300.8L92.4 301.0L93.4 301.5L94.4 303.0L95.4 303.2L96.4 301.3L97.4 297.9L98.4 292.2L99.4 285.7L100.4 279.0L101.4 272.3L102.4 265.7L103.4 259.0L104.4 252.8L105.4 246.8L106.4 239.6L107.4 230.2L108.4 219.8L109.4 209.8L110.4 200.4L111.4 191.2L112.4 182.4L113.4 174.0L114.4 168.5L115.4 164.5L116.4 158.2L117.4 148.4L118.4 138.4L119.4 128.4L120.4 118.4L121.4 108.4L122.4 98.4L123.4 89.2L124.4 82.1L125.4 76.3L126.4 71.6L127.4 67.6L128.4 64.8L129.4 62.9L130.4 61.5L131.4 60.6L132.4 59.8L133.4 59.4L134.4 59.3L135.4 59.6L136.4 60.2L137.4 61.0L138.4 62.1L139.4 63.4L140.4 64.8L141.4 66.2L142.4 67.5L143.4 68.6L144.4 69.7L145.4 70.4L146.4 70.7L147.4 70.5L148.4 70.1L149.4 69.4L150.4 68.5L151.4 67.7L152.4 67.2L153.4 66.8L154.4 66.7L155.4 66.7L156.4 66.9L157.4 67.1L158.4 67.5L159.4 67.9L160.4 68.3L161.4 68.5L162.4 68.4L163.4 68.1L164.4 67.6L165.4 66.9L166.4 66.0L167.4 64.9L168.4 63.9L169.4 63.0L170.4 62.2L171.4 61.5L172.4 61.2L173.4 61.4L174.4 62.0L175.4 63.4L176.4 65.4L177.4 68.0L178.4 71.1L179.4 74.7L180.4 78.9L181.4 83.8L182.4 89.2L183.4 94.8L184.4 100.7L185.4 106.9L186.4 113.2L187.4 119.9L188.4 126.7L189.4 133.9L190.4 141.4L191.4 148.9L192.4 156.1L193.4 163.4L194.4 170.5L195.4 177.7L196.4 184.8L197.4 191.8L198.4 198.7L199.4 205.5L200.4 212.5L201.4 219.7L202.4 226.9L203.4 233.8L204.4 240.7L205.4 247.6L206.4 254.5L207.4 261.4L208.4 268.3L209.4 275.2L210.4 282.2L211.4 289.1L212.4 293.2L213.4 292.9L214.4 292.9L215.4 297.1L216.4 303.6L217.4 308.4L218.4 309.5L219.4 306.8L220.4 299.8L221.4 292.1L222.4 284.1L223.4 276.1L224.4 267.9L225.4 259.4L226.4 247.6L227.4 231.9L228.4 213.6L229.4 192.3L230.4 179.2L231.4 167.2L232.4 155.2L233.4 143.2L234.4 130.8L235.4 118.4L236.4 107.3L237.4 97.2L238.4 88.4L239.4 81.2L240.4 74.3L241.4 66.8L242.4 59.5L243.4 53.3L244.4 48.5L245.4 45.3L246.4 43.5L247.4 42.2L248.4 41.4L249.4 41.3L250.4 41.6L251.4 42.2L252.4 43.3L253.4 44.8L254.4 46.5L255.4 48.9L256.4 53.8L257.4 61.7L258.4 70.1L259.4 79.4L260.4 89.4L261.4 99.4L262.4 109.4L263.4 118.2L264.4 126.9L265.4 135.6L266.4 142.9L267.4 150.1L268.4 160.0L269.4 170.0L270.4 179.7L271.4 189.9L272.4 201.6L273.4 214.0L274.4 226.2L275.4 238.6L276.4 250.1L277.4 260.1L278.4 269.9L279.4 279.9L280.4 289.9L281.4 299.9L282.4 310.8L283.4 323.7L284.4 334.3L285.4 343.6L286.4 351.6L287.4 356.8L288.4 357.7L289.4 355.1L290.4 350.3L291.4 344.7L292.4 338.2L293.4 330.8L294.4 321.7L295.4 311.7L296.4 301.7L297.4 291.7L298.4 281.7L299.4 271.7L300.4 261.2L301.4 248.0L302.4 233.1L303.4 217.1L304.4 199.7L305.4 181.1L306.4 167.6L307.4 158.9L308.4 151.6L309.4 144.9L310.4 138.9L311.4 134.8L312.4 132.4L313.4 130.7L314.4 129.9L315.4 130.2L316.4 131.1L317.4 132.6L318.4 134.3L319.4 136.5L320.4 139.3L321.4 142.3L322.4 145.4L323.4 148.4L324.4 151.1L325.4 153.6L326.4 156.4L327.4 159.9L328.4 164.0L329.4 168.4L330.4 172.9L331.4 177.6L332.4 182.6L333.4 187.8L334.4 193.2L335.4 198.9L336.4 204.8L337.4 210.9L338.4 217.0L339.4 223.3L340.4 229.9L341.4 237.1L342.4 245.4L343.4 255.4L344.4 266.6L345.4 278.1L346.4 289.7L347.4 301.2L348.4 312.7L349.4 324.3L350.4 335.2L351.4 345.7L352.4 356.6L353.4 368.3L354.4 379.8L355.4 390.1L356.4 399.1L357.4 406.8L358.4 413.3L359.4 418.6L360.4 422.7L361.4 426.2L362.4 429.2L363.4 432.1L364.4 434.9L365.4 436.6L366.4 436.4L367.4 434.6L368.4 431.9L369.4 428.9L370.4 426.0L371.4 423.0L372.4 419.8L373.4 416.7L374.4 413.5L375.4 410.3L376.4 407.1L377.4 403.7L378.4 400.3L379.4 396.7L380.4 393.2L381.4 389.9L382.4 386.7L383.4 381.1L384.4 374.4L385.4 367.7L386.4 361.1L387.4 354.4L388.4 347.7L389.4 341.4L390.4 335.5L391.4 330.0L392.4 325.5L393.4 321.9L394.4 318.9L395.4 316.2L396.4 314.1L397.4 312.7L398.4 311.5L399.4 310.2L400.4 309.0L401.4 307.7L402.4 306.5L403.4 305.2L404.4 304.0L405.4 302.3L406.4 299.9L407.4 296.8L408.4 293.5L409.4 290.1L410.4 286.8L411.4 283.5L412.4 280.1L413.4 276.8L414.4 273.5L415.4 270.1L416.4 266.4L417.4 261.0L418.4 254.5L419.4 247.5L420.4 240.7L421.4 234.1L422.4 227.5L423.4 220.6L424.4 213.6L425.4 206.3L426.4 198.5L427.4 190.5L428.4 182.5L429.4 174.5L430.4 166.5L431.4 158.5L432.4 150.7L433.4 143.8L434.4 137.7L435.4 131.7L436.4 126.1L437.4 121.3L438.4 117.2L439.4 113.2L440.4 109.2L441.4 105.2L442.4 101.2L443.4 97.2L444.4 92.8L445.4 89.7L446.4 90.8L447.4 95.0L448.4 100.3L449.4 106.2L450.4 112.8L451.4 119.8L452.4 127.8L453.4 137.0L454.4 147.2L455.4 156.4L456.4 165.4L457.4 174.4L458.4 183.4L459.4 192.4L460.4 201.4L461.4 210.4L462.4 219.4L463.4 228.4L464.4 237.7L465.4 248.3L466.4 261.2L467.4 274.8L468.4 287.5L469.4 297.5L470.4 307.5L471.4 317.5L472.4 327.5L473.4 337.5L474.4 347.5L475.4 357.5L476.4 367.5L477.4 377.5L478.4 387.5L479.4 397.5L480.4 407.6L481.4 417.7L482.4 427.3L483.4 435.6L484.4 441.9L485.4 445.6L486.4 448.0L487.4 450.6L488.4 453.3L489.4 455.9L490.4 458.1L491.4 460.0L492.4 461.6L493.4 463.0L494.4 464.2L495.4 465.2L496.4 466.1L497.4 466.9L498.4 467.6L499.4 468.2L500.4 468.7L501.4 469.1L502.4 469.5L503.4 469.8L504.4 470.0L505.4 470.2L506.4 470.3L507.4 470.3L508.4 470.1L509.4 469.9L510.4 469.7L511.4 469.6L512.4 469.5L513.4 469.6L514.4 469.7L515.4 469.7L516.4 469.8L517.4 469.9L518.4 469.9L519.4 470.0L520.4 470.1L521.4 470.1L522.4 470.2L523.4 470.3L524.4 470.3L525.4 470.3L526.4 470.3L527.4 470.2L528.4 470.1L529.4 469.9L530.4 469.7L531.4 469.3L532.4 468.8L533.4 468.2L534.4 467.6L535.4 466.9L536.4 466.0L537.4 465.0L538.4 463.9L539.4 462.8L540.4 461.4L541.4 457.4L542.4 446.7L543.4 438.2L544.4 430.4L545.4 420.1L546.4 409.0L547.4 398.4L548.4 388.2L549.4 379.0L550.4 371.1L551.4 363.7L552.4 356.6L553.4 350.5L554.4 344.8L555.4 338.8L556.4 332.6L557.4 326.5L558.4 321.3L559.4 317.5L560.4 314.3L561.4 311.6L562.4 309.3L563.4 307.0L564.4 304.4L565.4 301.0L566.4 297.0L567.4 293.5L568.4 291.2L569.4 289.8L570.4 287.8L571.4 284.3L572.4 280.1L573.4 275.4L574.4 270.6L575.4 265.6L576.4 260.5L577.4 254.9L578.4 248.3L579.4 241.0L580.4 233.3L581.4 225.4L582.4 217.3L583.4 209.4L584.4 201.9L585.4 194.7L586.4 187.3L587.4 178.9L588.4 170.5L589.4 163.4L590.4 157.4L591.4 152.2L592.4 147.7L593.4 144.0L594.4 141.1L595.4 139.3L596.4 139.0L597.4 139.8L598.4 141.4L599.4 143.4L600.4 145.5L601.4 148.3L602.4 151.6L603.4 155.0L604.4 158.3L605.4 161.6L606.4 165.0L607.4 168.3L608.4 171.1L609.4 173.6L610.4 176.0L611.4 178.1L612.4 180.0L613.4 181.5L614.4 182.7L615.4 183.7L616.4 184.3L617.4 184.8L618.4 185.1L619.4 185.4L620.4 185.4L621.4 185.4L622.4 185.2L623.4 184.9L624.4 184.5L625.4 183.9L626.4 183.1L627.4 182.3L628.4 181.4L629.4 180.7L630.4 180.1L631.4 179.7L632.4 179.4L633.4 179.4L634.4 180.3L635.4 182.2L636.4 184.7L637.4 187.7L638.4 191.1L639.4 194.7L640.4 198.5L641.4 202.1L642.4 205.5L643.4 208.8L644.4 212.0L645.4 214.8L646.4 217.3L647.4 219.6L648.4 221.2L649.4 222.1L650.4 222.4L651.4 221.0L652.4 217.9L653.4 213.2L654.4 207.4L655.4 200.5L656.4 193.9L657.4 189.0L658.4 185.2L659.4 181.1L660.4 175.4L661.4 167.1L662.4 159.6L663.4 153.1L664.4 147.3L665.4 142.4L666.4 138.2L667.4 134.5L668.4 131.3L669.4 128.4L670.4 126.1L671.4 124.4L672.4 123.1L673.4 122.3L674.4 121.9L675.4 121.8L676.4 122.1L677.4 122.9L678.4 124.1L679.4 125.8L680.4 128.4L681.4 131.8L682.4 136.1L683.4 141.3L684.4 147.1L685.4 153.5L686.4 160.4L687.4 167.8L688.4 176.4L689.4 185.6L690.4 194.8L691.4 203.9L692.4 213.1L693.4 222.0L694.4 230.2L695.4 238.8L696.4 248.1L697.4 257.4L698.4 266.5L699.4 275.4L700.4 284.3L701.4 292.8L702.4 299.0L703.4 303.5L704.4 308.0L705.4 310.7L706.4 308.6L707.4 304.2L708.4 299.6L709.4 294.6L710.4 289.1L711.4 282.0L712.4 273.2L713.4 264.8L714.4 256.8L715.4 248.8L716.4 240.8L717.4 232.9L718.4 225.9L719.4 219.3L720.4 213.2L721.4 208.0L722.4 208.2L723.4 209.7L724.4 210.8L725.4 211.9L726.4 212.8L727.4 213.5L728.4 214.1L729.4 214.8L730.4 215.4L731.4 216.1L732.4 216.7L733.4 217.2L734.4 217.7L735.4 217.8L736.4 217.5L737.4 216.9L738.4 216.3L739.4 215.6L740.4 214.7L741.4 213.8L741.4 247.4L740.4 247.5L739.4 247.4L738.4 247.2L737.4 246.7L736.4 246.1L735.4 245.4L734.4 244.7L733.4 244.0L732.4 243.3L731.4 242.7L730.4 242.2L729.4 241.7L728.4 241.3L727.4 241.4L726.4 242.7L725.4 245.7L724.4 251.3L723.4 258.5L722.4 266.4L721.4 275.2L720.4 285.9L719.4 293.9L718.4 298.1L717.4 300.2L716.4 301.2L715.4 309.7L714.4 318.4L713.4 327.1L712.4 335.2L711.4 343.2L710.4 351.2L709.4 358.1L708.4 363.2L707.4 365.4L706.4 363.7L705.4 360.1L704.4 355.6L703.4 350.6L702.4 345.6L701.4 340.6L700.4 335.6L699.4 331.1L698.4 327.0L697.4 322.7L696.4 318.3L695.4 313.9L694.4 309.5L693.4 305.1L692.4 300.8L691.4 297.8L690.4 295.0L689.4 289.3L688.4 282.0L687.4 274.7L686.4 267.3L685.4 260.0L684.4 252.7L683.4 245.4L682.4 238.6L681.4 232.2L680.4 225.9L679.4 219.9L678.4 214.1L677.4 208.4L676.4 203.0L675.4 198.0L674.4 193.7L673.4 189.9L672.4 186.7L671.4 184.0L670.4 182.0L669.4 180.9L668.4 180.7L667.4 181.5L666.4 183.2L665.4 185.5L664.4 188.5L663.4 192.7L662.4 197.6L661.4 203.3L660.4 209.3L659.4 215.6L658.4 222.1L657.4 228.9L656.4 236.9L655.4 245.2L654.4 253.5L653.4 261.9L652.4 270.2L651.4 278.3L650.4 286.3L649.4 294.3L648.4 302.3L647.4 308.9L646.4 314.0L645.4 317.5L644.4 318.3L643.4 316.3L642.4 313.0L641.4 308.4L640.4 303.5L639.4 298.4L638.4 293.1L637.4 287.8L636.4 282.4L635.4 277.1L634.4 271.8L633.4 266.4L632.4 261.1L631.4 255.8L630.4 250.5L629.4 245.7L628.4 241.2L627.4 236.9L626.4 232.9L625.4 229.0L624.4 225.4L623.4 222.0L622.4 218.9L621.4 215.8L620.4 213.0L619.4 210.6L618.4 209.0L617.4 207.8L616.4 206.6L615.4 205.4L614.4 204.2L613.4 203.0L612.4 201.8L611.4 200.6L610.4 199.4L609.4 198.2L608.4 197.1L607.4 196.4L606.4 196.0L605.4 195.8L604.4 195.8L603.4 196.0L602.4 196.3L601.4 196.8L600.4 197.5L599.4 198.5L598.4 199.9L597.4 201.8L596.4 204.3L595.4 207.4L594.4 210.8L593.4 214.6L592.4 218.9L591.4 223.4L590.4 228.2L589.4 233.4L588.4 238.7L587.4 244.1L586.4 249.7L585.4 255.3L584.4 260.8L583.4 266.3L582.4 271.5L581.4 276.0L580.4 279.3L579.4 282.0L578.4 284.6L577.4 287.1L576.4 289.6L575.4 292.3L574.4 295.2L573.4 298.2L572.4 301.2L571.4 304.2L570.4 307.2L569.4 310.2L568.4 313.2L567.4 316.2L566.4 319.6L565.4 323.6L564.4 328.3L563.4 333.5L562.4 339.1L561.4 344.7L560.4 350.5L559.4 356.7L558.4 363.8L557.4 371.2L556.4 379.3L555.4 388.4L554.4 398.8L553.4 407.0L552.4 413.2L551.4 419.3L550.4 427.4L549.4 437.3L548.4 447.3L547.4 457.3L546.4 467.3L545.4 474.3L544.4 478.1L543.4 480.8L542.4 484.6L541.4 488.7L540.4 492.9L539.4 498.0L538.4 502.5L537.4 505.5L536.4 506.4L535.4 506.8L534.4 506.9L533.4 506.8L532.4 506.7L531.4 506.6L530.4 506.5L529.4 506.3L528.4 506.0L527.4 505.7L526.4 505.4L525.4 505.2L524.4 504.9L523.4 504.7L522.4 504.6L521.4 504.5L520.4 504.4L519.4 504.4L518.4 504.7L517.4 505.1L516.4 505.8L515.4 506.6L514.4 507.5L513.4 508.6L512.4 509.7L511.4 511.0L510.4 512.2L509.4 513.5L508.4 514.7L507.4 516.0L506.4 517.2L505.4 518.5L504.4 519.7L503.4 520.6L502.4 521.2L501.4 521.8L500.4 522.4L499.4 522.9L498.4 523.2L497.4 523.3L496.4 523.2L495.4 522.6L494.4 521.7L493.4 520.6L492.4 519.0L491.4 517.1L490.4 514.9L489.4 512.4L488.4 508.9L487.4 503.9L486.4 498.1L485.4 492.1L484.4 486.0L483.4 479.8L482.4 472.7L481.4 464.3L480.4 457.5L479.4 451.8L478.4 447.3L477.4 443.9L476.4 439.6L475.4 433.3L474.4 425.2L473.4 415.5L472.4 403.8L471.4 390.5L470.4 379.5L469.4 369.5L468.4 359.5L467.4 349.5L466.4 339.5L465.4 329.5L464.4 319.5L463.4 309.5L462.4 299.5L461.4 289.5L460.4 279.5L459.4 269.5L458.4 259.2L457.4 249.2L456.4 240.3L455.4 231.8L454.4 223.5L453.4 215.0L452.4 205.7L451.4 197.3L450.4 189.3L449.4 181.3L448.4 173.3L447.4 165.7L446.4 159.9L445.4 156.5L444.4 155.0L443.4 154.7L442.4 154.9L441.4 155.6L440.4 157.1L439.4 159.4L438.4 162.7L437.4 167.2L436.4 173.3L435.4 181.2L434.4 190.0L433.4 198.6L432.4 206.5L431.4 214.3L430.4 222.2L429.4 229.9L428.4 237.6L427.4 244.6L426.4 250.0L425.4 254.2L424.4 258.0L423.4 262.1L422.4 267.2L421.4 273.9L420.4 281.7L419.4 288.9L418.4 295.5L417.4 302.2L416.4 308.9L415.4 315.5L414.4 322.2L413.4 328.4L412.4 332.1L411.4 335.4L410.4 340.5L409.4 345.8L408.4 351.1L407.4 356.5L406.4 361.8L405.4 367.1L404.4 372.3L403.4 376.9L402.4 381.1L401.4 384.8L400.4 387.8L399.4 390.5L398.4 392.8L397.4 395.0L396.4 397.1L395.4 399.1L394.4 400.9L393.4 402.5L392.4 404.0L391.4 405.4L390.4 406.7L389.4 408.0L388.4 409.2L387.4 410.2L386.4 411.1L385.4 412.0L384.4 413.2L383.4 414.9L382.4 417.2L381.4 420.2L380.4 423.7L379.4 428.3L378.4 433.4L377.4 437.4L376.4 440.0L375.4 442.3L374.4 445.6L373.4 450.9L372.4 457.8L371.4 465.4L370.4 473.6L369.4 481.0L368.4 486.9L367.4 491.3L366.4 493.4L365.4 493.3L364.4 491.2L363.4 488.1L362.4 483.6L361.4 477.9L360.4 470.7L359.4 462.7L358.4 454.1L357.4 444.9L356.4 436.9L355.4 431.0L354.4 426.5L353.4 422.8L352.4 419.0L351.4 414.5L350.4 408.5L349.4 400.4L348.4 390.8L347.4 379.9L346.4 368.4L345.4 356.8L344.4 345.3L343.4 333.8L342.4 322.2L341.4 311.5L340.4 301.1L339.4 289.8L338.4 278.3L337.4 266.7L336.4 255.2L335.4 243.6L334.4 233.4L333.4 228.2L332.4 223.0L331.4 216.8L330.4 210.7L329.4 204.8L328.4 199.5L327.4 194.5L326.4 190.1L325.4 186.5L324.4 184.0L323.4 183.0L322.4 183.5L321.4 185.1L320.4 187.8L319.4 190.9L318.4 194.4L317.4 198.1L316.4 202.2L315.4 206.8L314.4 212.7L313.4 219.2L312.4 227.0L311.4 238.6L310.4 251.6L309.4 263.3L308.4 273.9L307.4 286.8L306.4 301.8L305.4 316.8L304.4 331.8L303.4 346.8L302.4 361.8L301.4 376.9L300.4 392.9L299.4 408.8L298.4 422.9L297.4 433.1L296.4 439.1L295.4 440.1L294.4 437.5L293.4 434.4L292.4 430.5L291.4 426.0L290.4 421.3L289.4 416.5L288.4 411.6L287.4 406.6L286.4 401.3L285.4 395.8L284.4 389.9L283.4 383.1L282.4 375.3L281.4 367.0L280.4 358.2L279.4 349.5L278.4 341.4L277.4 334.0L276.4 325.7L275.4 315.7L274.4 305.7L273.4 295.7L272.4 285.7L271.4 275.7L270.4 265.7L269.4 255.7L268.4 245.7L267.4 235.7L266.4 224.4L265.4 204.6L264.4 193.2L263.4 183.7L262.4 175.4L261.4 167.1L260.4 158.1L259.4 148.9L258.4 141.8L257.4 134.8L256.4 127.8L255.4 120.8L254.4 114.4L253.4 108.7L252.4 103.4L251.4 99.0L250.4 96.2L249.4 94.4L248.4 93.2L247.4 93.2L246.4 95.0L245.4 98.0L244.4 102.1L243.4 108.8L242.4 118.6L241.4 131.0L240.4 143.3L239.4 155.3L238.4 167.3L237.4 179.3L236.4 191.3L235.4 203.3L234.4 219.5L233.4 240.0L232.4 250.0L231.4 260.0L230.4 270.0L229.4 280.0L228.4 290.0L227.4 300.0L226.4 310.0L225.4 320.0L224.4 329.5L223.4 337.2L222.4 344.7L221.4 353.2L220.4 362.1L219.4 370.6L218.4 378.1L217.4 384.4L216.4 390.1L215.4 396.0L214.4 402.7L213.4 410.8L212.4 419.5L211.4 428.1L210.4 435.3L209.4 442.1L208.4 450.5L207.4 460.5L206.4 470.5L205.4 480.5L204.4 490.5L203.4 500.4L202.4 509.8L201.4 518.7L200.4 526.9L199.4 534.7L198.4 541.8L197.4 547.5L196.4 548.2L195.4 542.9L194.4 535.7L193.4 527.6L192.4 519.3L191.4 510.7L190.4 501.5L189.4 492.3L188.4 483.2L187.4 474.3L186.4 465.3L185.4 456.1L184.4 446.4L183.4 436.4L182.4 426.4L181.4 416.4L180.4 406.4L179.4 396.4L178.4 386.4L177.4 376.4L176.4 366.4L175.4 356.4L174.4 346.4L173.4 334.1L172.4 317.8L171.4 301.3L170.4 288.4L169.4 278.5L168.4 268.5L167.4 257.6L166.4 246.6L165.4 235.9L164.4 225.4L163.4 215.5L162.4 205.1L161.4 194.2L160.4 185.5L159.4 177.7L158.4 170.2L157.4 162.7L156.4 155.2L155.4 147.9L154.4 141.1L153.4 135.1L152.4 129.4L151.4 124.3L150.4 120.2L149.4 116.8L148.4 114.0L147.4 112.5L146.4 112.3L145.4 113.2L144.4 115.3L143.4 118.6L142.4 123.3L141.4 128.8L140.4 134.7L139.4 141.0L138.4 147.7L137.4 155.1L136.4 162.4L135.4 169.6L134.4 177.0L133.4 184.6L132.4 192.9L131.4 205.0L130.4 217.6L129.4 230.1L128.4 242.6L127.4 255.1L126.4 267.6L125.4 280.1L124.4 292.4L123.4 302.2L122.4 308.9L121.4 313.8L120.4 317.9L119.4 322.0L118.4 323.7L117.4 325.2L116.4 330.5L115.4 339.2L114.4 347.8L113.4 356.1L112.4 363.9L111.4 371.5L110.4 378.9L109.4 385.5L108.4 390.4L107.4 393.5L106.4 393.3L105.4 390.7L104.4 387.2L103.4 382.5L102.4 376.8L101.4 370.8L100.4 364.8L99.4 358.9L98.4 353.4L97.4 351.0L96.4 352.3L95.4 355.2L94.4 357.5L93.4 358.5L92.4 354.2L91.4 348.9L90.4 343.6L89.4 338.2L88.4 333.0L87.4 327.8L86.4 322.7L85.4 317.9L84.4 314.9L83.4 313.7L82.4 313.0L81.4 312.6L80.4 312.2L79.4 311.9L78.4 311.9L77.4 312.3L76.4 312.7L75.4 313.2L74.4 313.7L73.4 314.3Z"/></clipPath>
<use href="#hl" clip-path="url(#cp2)"/>
<path d="M73.4 272.3L74.4 275.6L75.4 278.8L76.4 282.0L77.4 285.1L78.4 288.1L79.4 290.9L80.4 293.3L81.4 295.2L82.4 296.8L83.4 298.1L84.4 299.2L85.4 299.6L86.4 299.8L87.4 300.0L88.4 300.2L89.4 300.4L90.4 300.6L91.4 300.8L92.4 301.0L93.4 301.5L94.4 303.0L95.4 303.2L96.4 301.3L97.4 297.9L98.4 292.2L99.4 285.7L100.4 279.0L101.4 272.3L102.4 265.7L103.4 259.0L104.4 252.8L105.4 246.8L106.4 239.6L107.4 230.2L108.4 219.8L109.4 209.8L110.4 200.4L111.4 191.2L112.4 182.4L113.4 174.0L114.4 168.5L115.4 164.5L116.4 158.2L117.4 148.4L118.4 138.4L119.4 128.4L120.4 118.4L121.4 108.4L122.4 98.4L123.4 89.2L124.4 82.1L125.4 76.3L126.4 71.6L127.4 67.6L128.4 64.8L129.4 62.9L130.4 61.5L131.4 60.6L132.4 59.8L133.4 59.4L134.4 59.3L135.4 59.6L136.4 60.2L137.4 61.0L138.4 62.1L139.4 63.4L140.4 64.8L141.4 66.2L142.4 67.5L143.4 68.6L144.4 69.7L145.4 70.4L146.4 70.7L147.4 70.5L148.4 70.1L149.4 69.4L150.4 68.5L151.4 67.7L152.4 67.2L153.4 66.8L154.4 66.7L155.4 66.7L156.4 66.9L157.4 67.1L158.4 67.5L159.4 67.9L160.4 68.3L161.4 68.5L162.4 68.4L163.4 68.1L164.4 67.6L165.4 66.9L166.4 66.0L167.4 64.9L168.4 63.9L169.4 63.0L170.4 62.2L171.4 61.5L172.4 61.2L173.4 61.4L174.4 62.0L175.4 63.4L176.4 65.4L177.4 68.0L178.4 71.1L179.4 74.7L180.4 78.9L181.4 83.8L182.4 89.2L183.4 94.8L184.4 100.7L185.4 106.9L186.4 113.2L187.4 119.9L188.4 126.7L189.4 133.9L190.4 141.4L191.4 148.9L192.4 156.1L193.4 163.4L194.4 170.5L195.4 177.7L196.4 184.8L197.4 191.8L198.4 198.7L199.4 205.5L200.4 212.5L201.4 219.7L202.4 226.9L203.4 233.8L204.4 240.7L205.4 247.6L206.4 254.5L207.4 261.4L208.4 268.3L209.4 275.2L210.4 282.2L211.4 289.1L212.4 293.2L213.4 292.9L214.4 292.9L215.4 297.1L216.4 303.6L217.4 308.4L218.4 309.5L219.4 306.8L220.4 299.8L221.4 292.1L222.4 284.1L223.4 276.1L224.4 267.9L225.4 259.4L226.4 247.6L227.4 231.9L228.4 213.6L229.4 192.3L230.4 179.2L231.4 167.2L232.4 155.2L233.4 143.2L234.4 130.8L235.4 118.4L236.4 107.3L237.4 97.2L238.4 88.4L239.4 81.2L240.4 74.3L241.4 66.8L242.4 59.5L243.4 53.3L244.4 48.5L245.4 45.3L246.4 43.5L247.4 42.2L248.4 41.4L249.4 41.3L250.4 41.6L251.4 42.2L252.4 43.3L253.4 44.8L254.4 46.5L255.4 48.9L256.4 53.8L257.4 61.7L258.4 70.1L259.4 79.4L260.4 89.4L261.4 99.4L262.4 109.4L263.4 118.2L264.4 126.9L265.4 135.6L266.4 142.9L267.4 150.1L268.4 160.0L269.4 170.0L270.4 179.7L271.4 189.9L272.4 201.6L273.4 214.0L274.4 226.2L275.4 238.6L276.4 250.1L277.4 260.1L278.4 269.9L279.4 279.9L280.4 289.9L281.4 299.9L282.4 310.8L283.4 323.7L284.4 334.3L285.4 343.6L286.4 351.6L287.4 356.8L288.4 357.7L289.4 355.1L290.4 350.3L291.4 344.7L292.4 338.2L293.4 330.8L294.4 321.7L295.4 311.7L296.4 301.7L297.4 291.7L298.4 281.7L299.4 271.7L300.4 261.2L301.4 248.0L302.4 233.1L303.4 217.1L304.4 199.7L305.4 181.1L306.4 167.6L307.4 158.9L308.4 151.6L309.4 144.9L310.4 138.9L311.4 134.8L312.4 132.4L313.4 130.7L314.4 129.9L315.4 130.2L316.4 131.1L317.4 132.6L318.4 134.3L319.4 136.5L320.4 139.3L321.4 142.3L322.4 145.4L323.4 148.4L324.4 151.1L325.4 153.6L326.4 156.4L327.4 159.9L328.4 164.0L329.4 168.4L330.4 172.9L331.4 177.6L332.4 182.6L333.4 187.8L334.4 193.2L335.4 198.9L336.4 204.8L337.4 210.9L338.4 217.0L339.4 223.3L340.4 229.9L341.4 237.1L342.4 245.4L343.4 255.4L344.4 266.6L345.4 278.1L346.4 289.7L347.4 301.2L348.4 312.7L349.4 324.3L350.4 335.2L351.4 345.7L352.4 356.6L353.4 368.3L354.4 379.8L355.4 390.1L356.4 399.1L357.4 406.8L358.4 413.3L359.4 418.6L360.4 422.7L361.4 426.2L362.4 429.2L363.4 432.1L364.4 434.9L365.4 436.6L366.4 436.4L367.4 434.6L368.4 431.9L369.4 428.9L370.4 426.0L371.4 423.0L372.4 419.8L373.4 416.7L374.4 413.5L375.4 410.3L376.4 407.1L377.4 403.7L378.4 400.3L379.4 396.7L380.4 393.2L381.4 389.9L382.4 386.7L383.4 381.1L384.4 374.4L385.4 367.7L386.4 361.1L387.4 354.4L388.4 347.7L389.4 341.4L390.4 335.5L391.4 330.0L392.4 325.5L393.4 321.9L394.4 318.9L395.4 316.2L396.4 314.1L397.4 312.7L398.4 311.5L399.4 310.2L400.4 309.0L401.4 307.7L402.4 306.5L403.4 305.2L404.4 304.0L405.4 302.3L406.4 299.9L407.4 296.8L408.4 293.5L409.4 290.1L410.4 286.8L411.4 283.5L412.4 280.1L413.4 276.8L414.4 273.5L415.4 270.1L416.4 266.4L417.4 261.0L418.4 254.5L419.4 247.5L420.4 240.7L421.4 234.1L422.4 227.5L423.4 220.6L424.4 213.6L425.4 206.3L426.4 198.5L427.4 190.5L428.4 182.5L429.4 174.5L430.4 166.5L431.4 158.5L432.4 150.7L433.4 143.8L434.4 137.7L435.4 131.7L436.4 126.1L437.4 121.3L438.4 117.2L439.4 113.2L440.4 109.2L441.4 105.2L442.4 101.2L443.4 97.2L444.4 92.8L445.4 89.7L446.4 90.8L447.4 95.0L448.4 100.3L449.4 106.2L450.4 112.8L451.4 119.8L452.4 127.8L453.4 137.0L454.4 147.2L455.4 156.4L456.4 165.4L457.4 174.4L458.4 183.4L459.4 192.4L460.4 201.4L461.4 210.4L462.4 219.4L463.4 228.4L464.4 237.7L465.4 248.3L466.4 261.2L467.4 274.8L468.4 287.5L469.4 297.5L470.4 307.5L471.4 317.5L472.4 327.5L473.4 337.5L474.4 347.5L475.4 357.5L476.4 367.5L477.4 377.5L478.4 387.5L479.4 397.5L480.4 407.6L481.4 417.7L482.4 427.3L483.4 435.6L484.4 441.9L485.4 445.6L486.4 448.0L487.4 450.6L488.4 453.3L489.4 455.9L490.4 458.1L491.4 460.0L492.4 461.6L493.4 463.0L494.4 464.2L495.4 465.2L496.4 466.1L497.4 466.9L498.4 467.6L499.4 468.2L500.4 468.7L501.4 469.1L502.4 469.5L503.4 469.8L504.4 470.0L505.4 470.2L506.4 470.3L507.4 470.3L508.4 470.1L509.4 469.9L510.4 469.7L511.4 469.6L512.4 469.5L513.4 469.6L514.4 469.7L515.4 469.7L516.4 469.8L517.4 469.9L518.4 469.9L519.4 470.0L520.4 470.1L521.4 470.1L522.4 470.2L523.4 470.3L524.4 470.3L525.4 470.3L526.4 470.3L527.4 470.2L528.4 470.1L529.4 469.9L530.4 469.7L531.4 469.3L532.4 468.8L533.4 468.2L534.4 467.6L535.4 466.9L536.4 466.0L537.4 465.0L538.4 463.9L539.4 462.8L540.4 461.4L541.4 457.4L542.4 446.7L543.4 438.2L544.4 430.4L545.4 420.1L546.4 409.0L547.4 398.4L548.4 388.2L549.4 379.0L550.4 371.1L551.4 363.7L552.4 356.6L553.4 350.5L554.4 344.8L555.4 338.8L556.4 332.6L557.4 326.5L558.4 321.3L559.4 317.5L560.4 314.3L561.4 311.6L562.4 309.3L563.4 307.0L564.4 304.4L565.4 301.0L566.4 297.0L567.4 293.5L568.4 291.2L569.4 289.8L570.4 287.8L571.4 284.3L572.4 280.1L573.4 275.4L574.4 270.6L575.4 265.6L576.4 260.5L577.4 254.9L578.4 248.3L579.4 241.0L580.4 233.3L581.4 225.4L582.4 217.3L583.4 209.4L584.4 201.9L585.4 194.7L586.4 187.3L587.4 178.9L588.4 170.5L589.4 163.4L590.4 157.4L591.4 152.2L592.4 147.7L593.4 144.0L594.4 141.1L595.4 139.3L596.4 139.0L597.4 139.8L598.4 141.4L599.4 143.4L600.4 145.5L601.4 148.3L602.4 151.6L603.4 155.0L604.4 158.3L605.4 161.6L606.4 165.0L607.4 168.3L608.4 171.1L609.4 173.6L610.4 176.0L611.4 178.1L612.4 180.0L613.4 181.5L614.4 182.7L615.4 183.7L616.4 184.3L617.4 184.8L618.4 185.1L619.4 185.4L620.4 185.4L621.4 185.4L622.4 185.2L623.4 184.9L624.4 184.5L625.4 183.9L626.4 183.1L627.4 182.3L628.4 181.4L629.4 180.7L630.4 180.1L631.4 179.7L632.4 179.4L633.4 179.4L634.4 180.3L635.4 182.2L636.4 184.7L637.4 187.7L638.4 191.1L639.4 194.7L640.4 198.5L641.4 202.1L642.4 205.5L643.4 208.8L644.4 212.0L645.4 214.8L646.4 217.3L647.4 219.6L648.4 221.2L649.4 222.1L650.4 222.4L651.4 221.0L652.4 217.9L653.4 213.2L654.4 207.4L655.4 200.5L656.4 193.9L657.4 189.0L658.4 185.2L659.4 181.1L660.4 175.4L661.4 167.1L662.4 159.6L663.4 153.1L664.4 147.3L665.4 142.4L666.4 138.2L667.4 134.5L668.4 131.3L669.4 128.4L670.4 126.1L671.4 124.4L672.4 123.1L673.4 122.3L674.4 121.9L675.4 121.8L676.4 122.1L677.4 122.9L678.4 124.1L679.4 125.8L680.4 128.4L681.4 131.8L682.4 136.1L683.4 141.3L684.4 147.1L685.4 153.5L686.4 160.4L687.4 167.8L688.4 176.4L689.4 185.6L690.4 194.8L691.4 203.9L692.4 213.1L693.4 222.0L694.4 230.2L695.4 238.8L696.4 248.1L697.4 257.4L698.4 266.5L699.4 275.4L700.4 284.3L701.4 292.8L702.4 299.0L703.4 303.5L704.4 308.0L705.4 310.7L706.4 308.6L707.4 304.2L708.4 299.6L709.4 294.6L710.4 289.1L711.4 282.0L712.4 273.2L713.4 264.8L714.4 256.8L715.4 248.8L716.4 240.8L717.4 232.9L718.4 225.9L719.4 219.3L720.4 213.2L721.4 208.0L722.4 208.2L723.4 209.7L724.4 210.8L725.4 211.9L726.4 212.8L727.4 213.5L728.4 214.1L729.4 214.8L730.4 215.4L731.4 216.1L732.4 216.7L733.4 217.2L734.4 217.7L735.4 217.8L736.4 217.5L737.4 216.9L738.4 216.3L739.4 215.6L740.4 214.7L741.4 213.8L741.4 247.4L740.4 247.5L739.4 247.4L738.4 247.2L737.4 246.7L736.4 246.1L735.4 245.4L734.4 244.7L733.4 244.0L732.4 243.3L731.4 242.7L730.4 242.2L729.4 241.7L728.4 241.3L727.4 241.4L726.4 242.7L725.4 245.7L724.4 251.3L723.4 258.5L722.4 266.4L721.4 275.2L720.4 285.9L719.4 293.9L718.4 298.1L717.4 300.2L716.4 301.2L715.4 309.7L714.4 318.4L713.4 327.1L712.4 335.2L711.4 343.2L710.4 351.2L709.4 358.1L708.4 363.2L707.4 365.4L706.4 363.7L705.4 360.1L704.4 355.6L703.4 350.6L702.4 345.6L701.4 340.6L700.4 335.6L699.4 331.1L698.4 327.0L697.4 322.7L696.4 318.3L695.4 313.9L694.4 309.5L693.4 305.1L692.4 300.8L691.4 297.8L690.4 295.0L689.4 289.3L688.4 282.0L687.4 274.7L686.4 267.3L685.4 260.0L684.4 252.7L683.4 245.4L682.4 238.6L681.4 232.2L680.4 225.9L679.4 219.9L678.4 214.1L677.4 208.4L676.4 203.0L675.4 198.0L674.4 193.7L673.4 189.9L672.4 186.7L671.4 184.0L670.4 182.0L669.4 180.9L668.4 180.7L667.4 181.5L666.4 183.2L665.4 185.5L664.4 188.5L663.4 192.7L662.4 197.6L661.4 203.3L660.4 209.3L659.4 215.6L658.4 222.1L657.4 228.9L656.4 236.9L655.4 245.2L654.4 253.5L653.4 261.9L652.4 270.2L651.4 278.3L650.4 286.3L649.4 294.3L648.4 302.3L647.4 308.9L646.4 314.0L645.4 317.5L644.4 318.3L643.4 316.3L642.4 313.0L641.4 308.4L640.4 303.5L639.4 298.4L638.4 293.1L637.4 287.8L636.4 282.4L635.4 277.1L634.4 271.8L633.4 266.4L632.4 261.1L631.4 255.8L630.4 250.5L629.4 245.7L628.4 241.2L627.4 236.9L626.4 232.9L625.4 229.0L624.4 225.4L623.4 222.0L622.4 218.9L621.4 215.8L620.4 213.0L619.4 210.6L618.4 209.0L617.4 207.8L616.4 206.6L615.4 205.4L614.4 204.2L613.4 203.0L612.4 201.8L611.4 200.6L610.4 199.4L609.4 198.2L608.4 197.1L607.4 196.4L606.4 196.0L605.4 195.8L604.4 195.8L603.4 196.0L602.4 196.3L601.4 196.8L600.4 197.5L599.4 198.5L598.4 199.9L597.4 201.8L596.4 204.3L595.4 207.4L594.4 210.8L593.4 214.6L592.4 218.9L591.4 223.4L590.4 228.2L589.4 233.4L588.4 238.7L587.4 244.1L586.4 249.7L585.4 255.3L584.4 260.8L583.4 266.3L582.4 271.5L581.4 276.0L580.4 279.3L579.4 282.0L578.4 284.6L577.4 287.1L576.4 289.6L575.4 292.3L574.4 295.2L573.4 298.2L572.4 301.2L571.4 304.2L570.4 307.2L569.4 310.2L568.4 313.2L567.4 316.2L566.4 319.6L565.4 323.6L564.4 328.3L563.4 333.5L562.4 339.1L561.4 344.7L560.4 350.5L559.4 356.7L558.4 363.8L557.4 371.2L556.4 379.3L555.4 388.4L554.4 398.8L553.4 407.0L552.4 413.2L551.4 419.3L550.4 427.4L549.4 437.3L548.4 447.3L547.4 457.3L546.4 467.3L545.4 474.3L544.4 478.1L543.4 480.8L542.4 484.6L541.4 488.7L540.4 492.9L539.4 498.0L538.4 502.5L537.4 505.5L536.4 506.4L535.4 506.8L534.4 506.9L533.4 506.8L532.4 506.7L531.4 506.6L530.4 506.5L529.4 506.3L528.4 506.0L527.4 505.7L526.4 505.4L525.4 505.2L524.4 504.9L523.4 504.7L522.4 504.6L521.4 504.5L520.4 504.4L519.4 504.4L518.4 504.7L517.4 505.1L516.4 505.8L515.4 506.6L514.4 507.5L513.4 508.6L512.4 509.7L511.4 511.0L510.4 512.2L509.4 513.5L508.4 514.7L507.4 516.0L506.4 517.2L505.4 518.5L504.4 519.7L503.4 520.6L502.4 521.2L501.4 521.8L500.4 522.4L499.4 522.9L498.4 523.2L497.4 523.3L496.4 523.2L495.4 522.6L494.4 521.7L493.4 520.6L492.4 519.0L491.4 517.1L490.4 514.9L489.4 512.4L488.4 508.9L487.4 503.9L486.4 498.1L485.4 492.1L484.4 486.0L483.4 479.8L482.4 472.7L481.4 464.3L480.4 457.5L479.4 451.8L478.4 447.3L477.4 443.9L476.4 439.6L475.4 433.3L474.4 425.2L473.4 415.5L472.4 403.8L471.4 390.5L470.4 379.5L469.4 369.5L468.4 359.5L467.4 349.5L466.4 339.5L465.4 329.5L464.4 319.5L463.4 309.5L462.4 299.5L461.4 289.5L460.4 279.5L459.4 269.5L458.4 259.2L457.4 249.2L456.4 240.3L455.4 231.8L454.4 223.5L453.4 215.0L452.4 205.7L451.4 197.3L450.4 189.3L449.4 181.3L448.4 173.3L447.4 165.7L446.4 159.9L445.4 156.5L444.4 155.0L443.4 154.7L442.4 154.9L441.4 155.6L440.4 157.1L439.4 159.4L438.4 162.7L437.4 167.2L436.4 173.3L435.4 181.2L434.4 190.0L433.4 198.6L432.4 206.5L431.4 214.3L430.4 222.2L429.4 229.9L428.4 237.6L427.4 244.6L426.4 250.0L425.4 254.2L424.4 258.0L423.4 262.1L422.4 267.2L421.4 273.9L420.4 281.7L419.4 288.9L418.4 295.5L417.4 302.2L416.4 308.9L415.4 315.5L414.4 322.2L413.4 328.4L412.4 332.1L411.4 335.4L410.4 340.5L409.4 345.8L408.4 351.1L407.4 356.5L406.4 361.8L405.4 367.1L404.4 372.3L403.4 376.9L402.4 381.1L401.4 384.8L400.4 387.8L399.4 390.5L398.4 392.8L397.4 395.0L396.4 397.1L395.4 399.1L394.4 400.9L393.4 402.5L392.4 404.0L391.4 405.4L390.4 406.7L389.4 408.0L388.4 409.2L387.4 410.2L386.4 411.1L385.4 412.0L384.4 413.2L383.4 414.9L382.4 417.2L381.4 420.2L380.4 423.7L379.4 428.3L378.4 433.4L377.4 437.4L376.4 440.0L375.4 442.3L374.4 445.6L373.4 450.9L372.4 457.8L371.4 465.4L370.4 473.6L369.4 481.0L368.4 486.9L367.4 491.3L366.4 493.4L365.4 493.3L364.4 491.2L363.4 488.1L362.4 483.6L361.4 477.9L360.4 470.7L359.4 462.7L358.4 454.1L357.4 444.9L356.4 436.9L355.4 431.0L354.4 426.5L353.4 422.8L352.4 419.0L351.4 414.5L350.4 408.5L349.4 400.4L348.4 390.8L347.4 379.9L346.4 368.4L345.4 356.8L344.4 345.3L343.4 333.8L342.4 322.2L341.4 311.5L340.4 301.1L339.4 289.8L338.4 278.3L337.4 266.7L336.4 255.2L335.4 243.6L334.4 233.4L333.4 228.2L332.4 223.0L331.4 216.8L330.4 210.7L329.4 204.8L328.4 199.5L327.4 194.5L326.4 190.1L325.4 186.5L324.4 184.0L323.4 183.0L322.4 183.5L321.4 185.1L320.4 187.8L319.4 190.9L318.4 194.4L317.4 198.1L316.4 202.2L315.4 206.8L314.4 212.7L313.4 219.2L312.4 227.0L311.4 238.6L310.4 251.6L309.4 263.3L308.4 273.9L307.4 286.8L306.4 301.8L305.4 316.8L304.4 331.8L303.4 346.8L302.4 361.8L301.4 376.9L300.4 392.9L299.4 408.8L298.4 422.9L297.4 433.1L296.4 439.1L295.4 440.1L294.4 437.5L293.4 434.4L292.4 430.5L291.4 426.0L290.4 421.3L289.4 416.5L288.4 411.6L287.4 406.6L286.4 401.3L285.4 395.8L284.4 389.9L283.4 383.1L282.4 375.3L281.4 367.0L280.4 358.2L279.4 349.5L278.4 341.4L277.4 334.0L276.4 325.7L275.4 315.7L274.4 305.7L273.4 295.7L272.4 285.7L271.4 275.7L270.4 265.7L269.4 255.7L268.4 245.7L267.4 235.7L266.4 224.4L265.4 204.6L264.4 193.2L263.4 183.7L262.4 175.4L261.4 167.1L260.4 158.1L259.4 148.9L258.4 141.8L257.4 134.8L256.4 127.8L255.4 120.8L254.4 114.4L253.4 108.7L252.4 103.4L251.4 99.0L250.4 96.2L249.4 94.4L248.4 93.2L247.4 93.2L246.4 95.0L245.4 98.0L244.4 102.1L243.4 108.8L242.4 118.6L241.4 131.0L240.4 143.3L239.4 155.3L238.4 167.3L237.4 179.3L236.4 191.3L235.4 203.3L234.4 219.5L233.4 240.0L232.4 250.0L231.4 260.0L230.4 270.0L229.4 280.0L228.4 290.0L227.4 300.0L226.4 310.0L225.4 320.0L224.4 329.5L223.4 337.2L222.4 344.7L221.4 353.2L220.4 362.1L219.4 370.6L218.4 378.1L217.4 384.4L216.4 390.1L215.4 396.0L214.4 402.7L213.4 410.8L212.4 419.5L211.4 428.1L210.4 435.3L209.4 442.1L208.4 450.5L207.4 460.5L206.4 470.5L205.4 480.5L204.4 490.5L203.4 500.4L202.4 509.8L201.4 518.7L200.4 526.9L199.4 534.7L198.4 541.8L197.4 547.5L196.4 548.2L195.4 542.9L194.4 535.7L193.4 527.6L192.4 519.3L191.4 510.7L190.4 501.5L189.4 492.3L188.4 483.2L187.4 474.3L186.4 465.3L185.4 456.1L184.4 446.4L183.4 436.4L182.4 426.4L181.4 416.4L180.4 406.4L179.4 396.4L178.4 386.4L177.4 376.4L176.4 366.4L175.4 356.4L174.4 346.4L173.4 334.1L172.4 317.8L171.4 301.3L170.4 288.4L169.4 278.5L168.4 268.5L167.4 257.6L166.4 246.6L165.4 235.9L164.4 225.4L163.4 215.5L162.4 205.1L161.4 194.2L160.4 185.5L159.4 177.7L158.4 170.2L157.4 162.7L156.4 155.2L155.4 147.9L154.4 141.1L153.4 135.1L152.4 129.4L151.4 124.3L150.4 120.2L149.4 116.8L148.4 114.0L147.4 112.5L146.4 112.3L145.4 113.2L144.4 115.3L143.4 118.6L142.4 123.3L141.4 128.8L140.4 134.7L139.4 141.0L138.4 147.7L137.4 155.1L136.4 162.4L135.4 169.6L134.4 177.0L133.4 184.6L132.4 192.9L131.4 205.0L130.4 217.6L129.4 230.1L128.4 242.6L127.4 255.1L126.4 267.6L125.4 280.1L124.4 292.4L123.4 302.2L122.4 308.9L121.4 313.8L120.4 317.9L119.4 322.0L118.4 323.7L117.4 325.2L116.4 330.5L115.4 339.2L114.4 347.8L113.4 356.1L112.4 363.9L111.4 371.5L110.4 378.9L109.4 385.5L108.4 390.4L107.4 393.5L106.4 393.3L105.4 390.7L104.4 387.2L103.4 382.5L102.4 376.8L101.4 370.8L100.4 364.8L99.4 358.9L98.4 353.4L97.4 351.0L96.4 352.3L95.4 355.2L94.4 357.5L93.4 358.5L92.4 354.2L91.4 348.9L90.4 343.6L89.4 338.2L88.4 333.0L87.4 327.8L86.4 322.7L85.4 317.9L84.4 314.9L83.4 313.7L82.4 313.0L81.4 312.6L80.4 312.2L79.4 311.9L78.4 311.9L77.4 312.3L76.4 312.7L75.4 313.2L74.4 313.7L73.4 314.3Z" fill="none" stroke="#9c2020" stroke-width="1.15" stroke-linejoin="round"/>
<path d="M73.4 293.6L74.4 294.6L75.4 295.7L76.4 296.9L77.4 298.1L78.4 299.4L79.4 300.9L80.4 302.5L81.4 304.4L82.4 306.4L83.4 308.5L84.4 310.5L85.4 312.7L86.4 314.9L87.4 317.3L88.4 319.6L89.4 321.9L90.4 324.3L91.4 326.7L92.4 329.1L93.4 330.9L94.4 331.7L95.4 330.9L96.4 329.1L97.4 327.0L98.4 325.1L99.4 323.2L100.4 322.0L101.4 321.6L102.4 321.4L103.4 321.2L104.4 321.0L105.4 320.7L106.4 319.4L107.4 316.6L108.4 311.7L109.4 306.1L110.4 300.3L111.4 294.0L112.4 286.8L113.4 279.3L114.4 271.8L115.4 264.4L116.4 257.0L117.4 249.6L118.4 241.6L119.4 233.5L120.4 225.6L121.4 218.0L122.4 210.3L123.4 201.3L124.4 190.6L125.4 179.4L126.4 168.5L127.4 159.0L128.4 151.3L129.4 145.0L130.4 139.6L131.4 134.3L132.4 129.3L133.4 124.7L134.4 120.4L135.4 116.6L136.4 113.1L137.4 110.0L138.4 107.0L139.4 104.2L140.4 101.7L141.4 99.4L142.4 97.5L143.4 95.8L144.4 94.3L145.4 93.1L146.4 92.5L147.4 92.5L148.4 93.2L149.4 94.4L150.4 95.8L151.4 97.4L152.4 99.3L153.4 101.4L154.4 103.7L155.4 106.2L156.4 109.0L157.4 111.9L158.4 115.1L159.4 118.6L160.4 122.2L161.4 126.0L162.4 129.9L163.4 133.9L164.4 138.0L165.4 142.0L166.4 146.3L167.4 150.8L168.4 156.1L169.4 162.7L170.4 170.0L171.4 177.3L172.4 183.7L173.4 189.0L174.4 193.9L175.4 199.5L176.4 208.5L177.4 222.1L178.4 231.9L179.4 239.9L180.4 247.9L181.4 255.9L182.4 263.9L183.4 271.9L184.4 279.9L185.4 287.9L186.4 295.9L187.4 303.9L188.4 311.9L189.4 319.9L190.4 328.3L191.4 337.0L192.4 345.5L193.4 353.3L194.4 360.2L195.4 365.6L196.4 369.5L197.4 372.1L198.4 374.2L199.4 375.8L200.4 376.8L201.4 377.4L202.4 377.8L203.4 377.8L204.4 377.4L205.4 376.7L206.4 375.7L207.4 374.3L208.4 372.7L209.4 370.7L210.4 368.4L211.4 365.7L212.4 362.5L213.4 358.9L214.4 354.9L215.4 350.6L216.4 345.9L217.4 340.7L218.4 335.1L219.4 328.9L220.4 322.2L221.4 314.9L222.4 307.3L223.4 299.2L224.4 290.6L225.4 281.4L226.4 272.0L227.4 262.7L228.4 252.7L229.4 239.5L230.4 221.3L231.4 201.5L232.4 182.1L233.4 169.7L234.4 157.7L235.4 145.7L236.4 133.7L237.4 121.2L238.4 109.0L239.4 98.0L240.4 89.9L241.4 85.5L242.4 82.5L243.4 80.0L244.4 77.8L245.4 76.0L246.4 74.3L247.4 72.8L248.4 71.5L249.4 70.7L250.4 70.9L251.4 71.9L252.4 73.8L253.4 76.9L254.4 81.4L255.4 86.6L256.4 92.7L257.4 99.4L258.4 106.9L259.4 114.9L260.4 122.9L261.4 130.9L262.4 138.9L263.4 146.9L264.4 155.1L265.4 164.2L266.4 174.1L267.4 185.6L268.4 198.8L269.4 214.5L270.4 230.5L271.4 245.1L272.4 255.4L273.4 265.4L274.4 275.4L275.4 285.4L276.4 295.4L277.4 305.4L278.4 315.4L279.4 325.4L280.4 335.4L281.4 345.3L282.4 353.1L283.4 359.7L284.4 366.0L285.4 371.6L286.4 376.3L287.4 380.2L288.4 383.1L289.4 385.3L290.4 386.9L291.4 388.2L292.4 388.9L293.4 389.1L294.4 387.9L295.4 385.5L296.4 381.0L297.4 374.1L298.4 363.8L299.4 349.6L300.4 335.2L301.4 321.3L302.4 308.8L303.4 296.4L304.4 283.6L305.4 261.6L306.4 238.9L307.4 222.1L308.4 207.3L309.4 193.6L310.4 182.0L311.4 174.7L312.4 170.3L313.4 167.4L314.4 165.4L315.4 163.4L316.4 161.8L317.4 160.8L318.4 160.2L319.4 159.9L320.4 159.9L321.4 160.2L322.4 161.0L323.4 162.2L324.4 164.1L325.4 166.7L326.4 169.9L327.4 173.5L328.4 177.7L329.4 182.2L330.4 186.9L331.4 191.8L332.4 196.8L333.4 202.3L334.4 208.2L335.4 215.2L336.4 222.4L337.4 227.7L338.4 234.9L339.4 245.3L340.4 256.9L341.4 268.4L342.4 280.0L343.4 291.5L344.4 303.0L345.4 314.6L346.4 324.8L347.4 334.1L348.4 344.8L349.4 357.4L350.4 370.0L351.4 381.8L352.4 393.3L353.4 404.4L354.4 414.7L355.4 424.2L356.4 432.9L357.4 440.2L358.4 446.3L359.4 451.5L360.4 455.9L361.4 459.4L362.4 462.0L363.4 463.8L364.4 464.9L365.4 465.1L366.4 464.6L367.4 463.1L368.4 460.3L369.4 456.5L370.4 452.5L371.4 448.2L372.4 443.7L373.4 439.3L374.4 434.7L375.4 430.1L376.4 425.5L377.4 420.8L378.4 416.1L379.4 411.5L380.4 406.9L381.4 402.6L382.4 398.8L383.4 395.5L384.4 392.5L385.4 389.6L386.4 386.4L387.4 382.9L388.4 379.4L389.4 375.8L390.4 372.4L391.4 369.0L392.4 365.8L393.4 363.1L394.4 360.9L395.4 358.9L396.4 356.9L397.4 354.9L398.4 352.9L399.4 350.9L400.4 348.9L401.4 346.9L402.4 344.9L403.4 342.9L404.4 340.9L405.4 338.9L406.4 336.4L407.4 333.2L408.4 329.9L409.4 326.9L410.4 324.3L411.4 321.8L412.4 319.4L413.4 316.8L414.4 313.9L415.4 310.3L416.4 305.7L417.4 300.6L418.4 295.4L419.4 290.0L420.4 284.6L421.4 278.7L422.4 271.8L423.4 257.5L424.4 239.2L425.4 232.5L426.4 226.1L427.4 219.1L428.4 212.0L429.4 204.7L430.4 196.8L431.4 188.8L432.4 180.8L433.4 172.8L434.4 164.8L435.4 156.8L436.4 149.0L437.4 142.2L438.4 136.3L439.4 131.7L440.4 128.5L441.4 126.1L442.4 124.2L443.4 122.8L444.4 121.8L445.4 121.2L446.4 121.3L447.4 122.7L448.4 126.3L449.4 132.4L450.4 139.9L451.4 147.8L452.4 156.7L453.4 165.7L454.4 174.7L455.4 183.7L456.4 192.7L457.4 201.7L458.4 210.7L459.4 219.7L460.4 228.7L461.4 238.0L462.4 248.7L463.4 262.4L464.4 277.2L465.4 289.7L466.4 299.7L467.4 309.7L468.4 319.7L469.4 330.0L470.4 341.4L471.4 351.6L472.4 361.6L473.4 371.6L474.4 381.6L475.4 394.4L476.4 409.2L477.4 422.3L478.4 433.5L479.4 440.9L480.4 446.9L481.4 452.4L482.4 457.8L483.4 463.1L484.4 468.2L485.4 473.0L486.4 477.5L487.4 481.8L488.4 485.5L489.4 488.3L490.4 490.2L491.4 491.6L492.4 492.7L493.4 493.6L494.4 494.3L495.4 495.0L496.4 495.7L497.4 496.0L498.4 496.0L499.4 495.9L500.4 495.7L501.4 495.5L502.4 495.1L503.4 494.8L504.4 494.4L505.4 493.9L506.4 493.5L507.4 493.1L508.4 492.7L509.4 492.4L510.4 492.0L511.4 491.6L512.4 491.3L513.4 491.0L514.4 490.7L515.4 490.6L516.4 490.5L517.4 490.4L518.4 490.4L519.4 490.5L520.4 490.6L521.4 490.6L522.4 490.7L523.4 490.8L524.4 490.8L525.4 490.8L526.4 490.7L527.4 490.6L528.4 490.5L529.4 490.4L530.4 490.3L531.4 490.1L532.4 490.0L533.4 489.8L534.4 489.5L535.4 489.0L536.4 488.3L537.4 487.5L538.4 486.5L539.4 484.7L540.4 482.4L541.4 479.7L542.4 476.3L543.4 471.5L544.4 465.0L545.4 456.5L546.4 446.5L547.4 436.5L548.4 426.5L549.4 416.5L550.4 401.5L551.4 390.8L552.4 382.6L553.4 375.7L554.4 368.6L555.4 360.6L556.4 353.3L557.4 346.6L558.4 340.1L559.4 333.7L560.4 327.7L561.4 322.5L562.4 318.5L563.4 315.1L564.4 311.9L565.4 309.3L566.4 306.9L567.4 303.9L568.4 297.0L569.4 293.7L570.4 292.8L571.4 286.3L572.4 282.6L573.4 282.3L574.4 279.0L575.4 275.0L576.4 270.0L577.4 264.4L578.4 258.4L579.4 251.8L580.4 245.1L581.4 238.5L582.4 231.8L583.4 225.1L584.4 218.5L585.4 212.1L586.4 206.2L587.4 200.5L588.4 195.5L589.4 191.0L590.4 186.9L591.4 183.2L592.4 180.1L593.4 177.7L594.4 175.9L595.4 174.4L596.4 173.3L597.4 172.3L598.4 171.5L599.4 171.2L600.4 171.3L601.4 171.8L602.4 172.7L603.4 174.1L604.4 175.8L605.4 177.5L606.4 179.3L607.4 181.2L608.4 183.2L609.4 185.3L610.4 187.3L611.4 189.1L612.4 190.7L613.4 192.3L614.4 193.8L615.4 195.2L616.4 196.5L617.4 197.7L618.4 198.9L619.4 200.0L620.4 201.2L621.4 202.3L622.4 203.5L623.4 204.8L624.4 206.2L625.4 207.6L626.4 209.1L627.4 210.6L628.4 212.5L629.4 214.8L630.4 217.4L631.4 220.3L632.4 223.5L633.4 227.1L634.4 230.9L635.4 234.8L636.4 239.0L637.4 243.5L638.4 248.3L639.4 252.9L640.4 256.8L641.4 260.0L642.4 262.6L643.4 264.6L644.4 266.1L645.4 267.2L646.4 267.8L647.4 267.7L648.4 266.8L649.4 264.9L650.4 262.1L651.4 257.8L652.4 252.3L653.4 246.1L654.4 239.5L655.4 232.2L656.4 224.2L657.4 216.2L658.4 208.2L659.4 200.2L660.4 192.2L661.4 184.3L662.4 177.1L663.4 170.9L664.4 165.9L665.4 162.2L666.4 159.3L667.4 157.0L668.4 155.4L669.4 154.5L670.4 153.9L671.4 153.7L672.4 154.0L673.4 154.7L674.4 156.0L675.4 157.8L676.4 160.2L677.4 163.1L678.4 166.5L679.4 170.3L680.4 174.4L681.4 178.7L682.4 183.5L683.4 188.9L684.4 194.7L685.4 200.9L686.4 207.6L687.4 214.2L688.4 220.9L689.4 227.5L690.4 234.1L691.4 240.9L692.4 248.0L693.4 255.4L694.4 262.8L695.4 270.2L696.4 277.5L697.4 284.8L698.4 292.3L699.4 299.7L700.4 306.4L701.4 310.8L702.4 316.2L703.4 323.4L704.4 330.2L705.4 334.9L706.4 336.2L707.4 335.4L708.4 332.8L709.4 328.1L710.4 322.0L711.4 315.0L712.4 306.9L713.4 297.6L714.4 285.5L715.4 272.9L716.4 263.3L717.4 255.2L718.4 248.2L719.4 242.8L720.4 239.0L721.4 236.3L722.4 234.7L723.4 233.3L724.4 232.3L725.4 231.7L726.4 231.1L727.4 230.6L728.4 230.3L729.4 230.2L730.4 230.1L731.4 230.0L732.4 229.9L733.4 229.9L734.4 229.9L735.4 229.9L736.4 229.9L737.4 229.9L738.4 229.9L739.4 230.0L740.4 230.1L741.4 230.2L742.4 230.3L742.7 230.3" fill="none" stroke="#ff0000" stroke-width="6.2" stroke-linecap="round" stroke-linejoin="round"/>
<circle cx="146.4" cy="90.9" r="7.9" fill="#0000ff" stroke="#000" stroke-width="1"/>
<circle cx="238.9" cy="105.0" r="7.9" fill="#0000ff" stroke="#000" stroke-width="1"/>
<circle cx="249.0" cy="68.6" r="7.9" fill="#0000ff" stroke="#000" stroke-width="1"/>
<circle cx="243.7" cy="83.3" r="7.9" fill="#0000ff" stroke="#000" stroke-width="1"/>
<circle cx="264.1" cy="144.2" r="7.9" fill="#0000ff" stroke="#000" stroke-width="1"/>
<circle cx="268.2" cy="189.9" r="7.9" fill="#0000ff" stroke="#000" stroke-width="1"/>
<circle cx="267.7" cy="182.1" r="7.9" fill="#0000ff" stroke="#000" stroke-width="1"/>
<circle cx="323.0" cy="141.6" r="7.9" fill="#0000ff" stroke="#000" stroke-width="1"/>
<circle cx="333.1" cy="190.9" r="7.9" fill="#0000ff" stroke="#000" stroke-width="1"/>
<circle cx="335.1" cy="221.7" r="7.9" fill="#0000ff" stroke="#000" stroke-width="1"/>
<circle cx="83.0" cy="305.8" r="7.9" fill="#0000ff" stroke="#000" stroke-width="1"/>
<circle cx="219.4" cy="355.8" r="7.9" fill="#0000ff" stroke="#000" stroke-width="1"/>
<circle cx="277.5" cy="329.5" r="7.9" fill="#0000ff" stroke="#000" stroke-width="1"/>
<circle cx="282.1" cy="370.0" r="7.9" fill="#0000ff" stroke="#000" stroke-width="1"/>
<circle cx="288.1" cy="404.1" r="7.9" fill="#0000ff" stroke="#000" stroke-width="1"/>
<circle cx="355.6" cy="431.1" r="7.9" fill="#0000ff" stroke="#000" stroke-width="1"/>
<circle cx="373.5" cy="443.2" r="7.9" fill="#0000ff" stroke="#000" stroke-width="1"/>
<circle cx="379.9" cy="424.0" r="7.9" fill="#0000ff" stroke="#000" stroke-width="1"/>
<circle cx="385.4" cy="393.2" r="7.9" fill="#0000ff" stroke="#000" stroke-width="1"/>
<circle cx="384.4" cy="397.2" r="7.9" fill="#0000ff" stroke="#000" stroke-width="1"/>
<circle cx="413.0" cy="317.9" r="7.9" fill="#0000ff" stroke="#000" stroke-width="1"/>
<circle cx="423.5" cy="268.2" r="7.9" fill="#0000ff" stroke="#000" stroke-width="1"/>
<circle cx="425.3" cy="251.3" r="7.9" fill="#0000ff" stroke="#000" stroke-width="1"/>
<circle cx="440.4" cy="128.8" r="7.9" fill="#0000ff" stroke="#000" stroke-width="1"/>
<circle cx="446.5" cy="101.7" r="7.9" fill="#0000ff" stroke="#000" stroke-width="1"/>
<circle cx="462.2" cy="237.4" r="7.9" fill="#0000ff" stroke="#000" stroke-width="1"/>
<circle cx="616.8" cy="196.5" r="7.9" fill="#0000ff" stroke="#000" stroke-width="1"/>
<circle cx="658.5" cy="212.1" r="7.9" fill="#0000ff" stroke="#000" stroke-width="1"/>
<circle cx="738.6" cy="238.7" r="7.9" fill="#0000ff" stroke="#000" stroke-width="1"/>
<circle cx="729.2" cy="223.0" r="7.9" fill="#0000ff" stroke="#000" stroke-width="1"/>
<circle cx="476.3" cy="421.5" r="7.9" fill="#0000ff" stroke="#000" stroke-width="1"/>
<circle cx="478.3" cy="433.6" r="7.9" fill="#0000ff" stroke="#000" stroke-width="1"/>
<circle cx="496.5" cy="484.7" r="7.9" fill="#0000ff" stroke="#000" stroke-width="1"/>
<circle cx="525.1" cy="484.7" r="7.9" fill="#0000ff" stroke="#000" stroke-width="1"/>
<circle cx="515.5" cy="484.7" r="7.9" fill="#0000ff" stroke="#000" stroke-width="1"/>
<circle cx="544.0" cy="482.9" r="7.9" fill="#0000ff" stroke="#000" stroke-width="1"/>
<circle cx="554.6" cy="368.7" r="7.9" fill="#0000ff" stroke="#000" stroke-width="1"/>
<circle cx="568.3" cy="303.2" r="7.9" fill="#0000ff" stroke="#000" stroke-width="1"/>
<circle cx="700.2" cy="325.0" r="7.9" fill="#0000ff" stroke="#000" stroke-width="1"/>
<rect x="47.5" y="14.5" width="720" height="549" fill="none" stroke="#3a3a3a" stroke-width="1"/>
<line x1="71.80" y1="563.5" x2="71.80" y2="571" stroke="#3a3a3a" stroke-width="1"/>
<text x="72.50" y="590.1" class="ax" text-anchor="middle">0</text>
<line x1="239.15" y1="563.5" x2="239.15" y2="571" stroke="#3a3a3a" stroke-width="1"/>
<text x="239.85" y="590.1" class="ax" text-anchor="middle">100</text>
<line x1="406.50" y1="563.5" x2="406.50" y2="571" stroke="#3a3a3a" stroke-width="1"/>
<text x="407.20" y="590.1" class="ax" text-anchor="middle">200</text>
<line x1="573.85" y1="563.5" x2="573.85" y2="571" stroke="#3a3a3a" stroke-width="1"/>
<text x="574.55" y="590.1" class="ax" text-anchor="middle">300</text>
<line x1="741.20" y1="563.5" x2="741.20" y2="571" stroke="#3a3a3a" stroke-width="1"/>
<text x="741.90" y="590.1" class="ax" text-anchor="middle">400</text>
<line x1="39.8" y1="527.40" x2="47.5" y2="527.40" stroke="#3a3a3a" stroke-width="1"/>
<text transform="translate(30.3,526.80) rotate(-90)" class="ax" text-anchor="middle">-1.5</text>
<line x1="39.8" y1="447.90" x2="47.5" y2="447.90" stroke="#3a3a3a" stroke-width="1"/>
<text transform="translate(30.3,447.30) rotate(-90)" class="ax" text-anchor="middle">-1.0</text>
<line x1="39.8" y1="368.40" x2="47.5" y2="368.40" stroke="#3a3a3a" stroke-width="1"/>
<text transform="translate(30.3,367.80) rotate(-90)" class="ax" text-anchor="middle">-0.5</text>
<line x1="39.8" y1="288.90" x2="47.5" y2="288.90" stroke="#3a3a3a" stroke-width="1"/>
<text transform="translate(30.3,288.30) rotate(-90)" class="ax" text-anchor="middle">0.0</text>
<line x1="39.8" y1="209.40" x2="47.5" y2="209.40" stroke="#3a3a3a" stroke-width="1"/>
<text transform="translate(30.3,208.80) rotate(-90)" class="ax" text-anchor="middle">0.5</text>
<line x1="39.8" y1="129.90" x2="47.5" y2="129.90" stroke="#3a3a3a" stroke-width="1"/>
<text transform="translate(30.3,129.30) rotate(-90)" class="ax" text-anchor="middle">1.0</text>
<line x1="39.8" y1="50.40" x2="47.5" y2="50.40" stroke="#3a3a3a" stroke-width="1"/>
<text transform="translate(30.3,49.80) rotate(-90)" class="ax" text-anchor="middle">1.5</text>
<text x="118.8" y="50.5" class="big" text-anchor="end" fill="#4d4d4d">(c)</text>
<text x="760.5" y="67.3" class="big" text-anchor="end" fill="#4d4d4d">= 0.1</text>
<text x="760.5" y="118.3" class="big" text-anchor="end" fill="#4d4d4d">= 0.5</text>
<text x="624.5" y="64.6" class="sym" fill="#4d4d4d">ε</text>
<path d="M624.22 97.85 L623.94 95.79 L624.48 93.42 L625.74 91.75 L627.63 90.99 L629.37 91.12 L630.79 92.00 L631.90 93.58 L632.85 95.79 L634.27 99.58 L635.85 103.69 L637.43 107.48 L638.37 108.43 L639.32 107.16 L640.74 104.01 L641.85 100.53 L642.32 97.69 L642.42 95.16 L642.64 93.27 L643.43 91.84 L644.69 91.05 L646.11 90.90 L646.90 91.37 L647.06 92.32 L646.27 94.21 L644.69 97.69 L642.80 101.48 L640.90 105.58 L639.01 109.69 L637.58 112.85 L636.48 114.27 L635.53 112.53 L634.27 109.06 L632.85 105.27 L631.42 101.48 L630.16 98.00 L629.21 95.48 L628.42 93.90 L627.63 93.11 L626.53 93.01 L625.42 93.90 L624.85 95.48 L624.79 97.06Z" fill="#4d4d4d" stroke="#4d4d4d" stroke-width="0.3" stroke-linejoin="round"/>
<text x="645.6" y="39.4" class="sup" fill="#4d4d4d">2</text>
<text transform="translate(624,491.9) scale(1,1.045)" class="gk" fill="#808080">Gauss</text>
</g>
<g transform="translate(800,600)">
<rect x="155.47" y="14.5" width="167.35" height="549" fill="#fffaf9"/>
<rect x="406.50" y="14.5" width="167.35" height="549" fill="#fffaf9"/>
<line x1="155.47" y1="14.5" x2="155.47" y2="563.5" stroke="#e09862" stroke-width="1.15"/>
<line x1="322.82" y1="14.5" x2="322.82" y2="563.5" stroke="#e09862" stroke-width="1.15"/>
<line x1="406.50" y1="14.5" x2="406.50" y2="563.5" stroke="#e09862" stroke-width="1.15"/>
<line x1="573.85" y1="14.5" x2="573.85" y2="563.5" stroke="#e09862" stroke-width="1.15"/>
<clipPath id="cp3"><path d="M73.4 272.3L74.4 275.6L75.4 278.8L76.4 282.0L77.4 285.1L78.4 288.1L79.4 290.9L80.4 293.3L81.4 295.2L82.4 296.8L83.4 298.1L84.4 299.2L85.4 299.6L86.4 299.8L87.4 300.0L88.4 300.2L89.4 300.4L90.4 300.6L91.4 300.8L92.4 301.0L93.4 301.5L94.4 303.0L95.4 303.2L96.4 301.3L97.4 297.9L98.4 292.2L99.4 285.7L100.4 279.0L101.4 272.3L102.4 265.7L103.4 259.0L104.4 252.8L105.4 246.8L106.4 239.6L107.4 230.2L108.4 219.8L109.4 209.8L110.4 200.4L111.4 191.2L112.4 182.4L113.4 174.0L114.4 168.5L115.4 164.5L116.4 158.2L117.4 148.4L118.4 138.4L119.4 128.4L120.4 118.4L121.4 108.4L122.4 98.4L123.4 89.2L124.4 82.1L125.4 76.3L126.4 71.6L127.4 67.6L128.4 64.8L129.4 62.9L130.4 61.5L131.4 60.5L132.4 59.7L133.4 59.3L134.4 59.4L135.4 59.6L136.4 60.1L137.4 60.9L138.4 61.9L139.4 63.0L140.4 64.0L141.4 65.1L142.4 66.2L143.4 67.4L144.4 68.6L145.4 69.8L146.4 70.8L147.4 70.5L148.4 68.7L149.4 66.6L150.4 65.3L151.4 64.4L152.4 63.6L153.4 62.9L154.4 62.3L155.4 61.9L156.4 61.7L157.4 61.6L158.4 61.6L159.4 61.7L160.4 62.0L161.4 62.7L162.4 63.4L163.4 63.2L164.4 62.3L165.4 61.1L166.4 59.8L167.4 58.7L168.4 57.6L169.4 56.6L170.4 55.7L171.4 54.7L172.4 54.0L173.4 53.5L174.4 53.1L175.4 53.3L176.4 54.0L177.4 55.2L178.4 57.0L179.4 59.4L180.4 62.3L181.4 65.6L182.4 69.3L183.4 73.5L184.4 78.2L185.4 83.5L186.4 89.2L187.4 95.2L188.4 101.8L189.4 108.4L190.4 115.1L191.4 121.8L192.4 128.4L193.4 135.1L194.4 141.8L195.4 148.4L196.4 155.1L197.4 161.8L198.4 168.4L199.4 175.1L200.4 181.5L201.4 187.9L202.4 195.2L203.4 204.0L204.4 213.4L205.4 222.7L206.4 232.1L207.4 241.2L208.4 249.2L209.4 255.9L210.4 262.2L211.4 268.9L212.4 275.5L213.4 282.2L214.4 288.4L215.4 293.7L216.4 298.6L217.4 303.1L218.4 305.7L219.4 303.9L220.4 298.4L221.4 291.9L222.4 284.0L223.4 275.2L224.4 265.6L225.4 255.6L226.4 245.8L227.4 237.0L228.4 227.3L229.4 209.8L230.4 187.3L231.4 167.7L232.4 155.2L233.4 143.2L234.4 130.7L235.4 118.4L236.4 107.3L237.4 97.2L238.4 88.4L239.4 81.2L240.4 74.3L241.4 66.8L242.4 59.5L243.4 53.3L244.4 48.5L245.4 45.3L246.4 43.5L247.4 42.2L248.4 41.4L249.4 41.3L250.4 41.6L251.4 42.2L252.4 43.3L253.4 44.8L254.4 46.5L255.4 48.9L256.4 53.8L257.4 61.7L258.4 70.1L259.4 79.4L260.4 89.4L261.4 99.4L262.4 109.4L263.4 118.2L264.4 126.9L265.4 135.6L266.4 142.9L267.4 150.1L268.4 160.0L269.4 170.0L270.4 179.7L271.4 189.9L272.4 201.6L273.4 214.0L274.4 226.2L275.4 238.6L276.4 250.1L277.4 260.1L278.4 269.9L279.4 279.9L280.4 289.9L281.4 299.9L282.4 310.8L283.4 323.7L284.4 334.3L285.4 343.6L286.4 351.6L287.4 356.8L288.4 357.7L289.4 355.1L290.4 350.3L291.4 344.7L292.4 338.2L293.4 330.8L294.4 321.7L295.4 311.7L296.4 301.7L297.4 291.7L298.4 281.7L299.4 271.7L300.4 261.2L301.4 248.0L302.4 233.1L303.4 217.1L304.4 199.7L305.4 181.1L306.4 167.6L307.4 158.9L308.4 151.6L309.4 144.9L310.4 138.9L311.4 134.8L312.4 132.4L313.4 130.7L314.4 129.9L315.4 130.2L316.4 131.1L317.4 132.6L318.4 134.3L319.4 136.5L320.4 139.3L321.4 142.3L322.4 145.4L323.4 148.4L324.4 151.1L325.4 153.6L326.4 156.4L327.4 159.9L328.4 164.0L329.4 168.4L330.4 172.9L331.4 177.6L332.4 182.6L333.4 187.8L334.4 193.2L335.4 198.9L336.4 204.8L337.4 210.9L338.4 217.0L339.4 223.3L340.4 230.0L341.4 237.1L342.4 245.4L343.4 255.5L344.4 266.6L345.4 278.2L346.4 290.4L347.4 302.5L348.4 314.1L349.4 324.7L350.4 334.8L351.4 344.3L352.4 353.5L353.4 362.7L354.4 371.9L355.4 381.1L356.4 390.4L357.4 397.7L358.4 399.3L359.4 400.3L360.4 401.4L361.4 402.4L362.4 403.2L363.4 403.8L364.4 404.3L365.4 404.8L366.4 405.2L367.4 405.5L368.4 405.6L369.4 406.1L370.4 408.9L371.4 409.8L372.4 407.8L373.4 404.3L374.4 400.4L375.4 395.8L376.4 391.1L377.4 386.5L378.4 381.8L379.4 377.1L380.4 372.5L381.4 369.6L382.4 369.1L383.4 368.2L384.4 367.3L385.4 364.3L386.4 358.9L387.4 353.7L388.4 348.8L389.4 344.1L390.4 340.0L391.4 336.0L392.4 332.0L393.4 328.0L394.4 324.0L395.4 320.0L396.4 316.3L397.4 313.2L398.4 309.8L399.4 301.2L400.4 284.2L401.4 265.1L402.4 249.9L403.4 244.1L404.4 242.9L405.4 243.0L406.4 243.8L407.4 244.7L408.4 246.4L409.4 250.2L410.4 256.0L411.4 261.7L412.4 267.5L413.4 260.5L414.4 250.4L415.4 240.3L416.4 230.4L417.4 223.2L418.4 218.7L419.4 215.4L420.4 215.4L421.4 218.8L422.4 224.4L423.4 228.8L424.4 226.1L425.4 216.2L426.4 206.2L427.4 196.2L428.4 186.3L429.4 176.4L430.4 165.0L431.4 152.7L432.4 140.7L433.4 128.7L434.4 117.3L435.4 106.7L436.4 97.3L437.4 91.6L438.4 90.4L439.4 88.6L440.4 85.3L441.4 80.3L442.4 72.1L443.4 68.0L444.4 67.4L445.4 71.1L446.4 75.8L447.4 79.8L448.4 83.7L449.4 91.6L450.4 103.8L451.4 116.4L452.4 127.6L453.4 138.4L454.4 148.7L455.4 158.2L456.4 167.2L457.4 176.2L458.4 185.2L459.4 194.2L460.4 202.7L461.4 208.3L462.4 213.3L463.4 218.3L464.4 223.3L465.4 228.9L466.4 236.4L467.4 246.0L468.4 255.8L469.4 264.7L470.4 278.9L471.4 292.0L472.4 304.5L473.4 317.0L474.4 330.1L475.4 345.0L476.4 360.0L477.4 375.4L478.4 390.7L479.4 383.6L480.4 376.4L481.4 372.3L482.4 370.2L483.4 369.8L484.4 370.5L485.4 372.7L486.4 376.8L487.4 382.4L488.4 388.7L489.4 395.4L490.4 402.9L491.4 410.7L492.4 418.4L493.4 426.5L494.4 434.6L495.4 441.8L496.4 445.3L497.4 440.5L498.4 432.2L499.4 427.4L500.4 423.4L501.4 421.1L502.4 419.8L503.4 419.2L504.4 419.2L505.4 419.7L506.4 420.8L507.4 422.7L508.4 425.3L509.4 428.7L510.4 433.0L511.4 437.8L512.4 443.0L513.4 448.9L514.4 455.0L515.4 458.5L516.4 456.7L517.4 450.5L518.4 447.8L519.4 447.0L520.4 448.3L521.4 450.5L522.4 453.7L523.4 457.2L524.4 460.2L525.4 461.4L526.4 459.2L527.4 455.8L528.4 453.5L529.4 452.0L530.4 450.6L531.4 449.7L532.4 449.1L533.4 448.7L534.4 448.7L535.4 449.0L536.4 449.7L537.4 450.8L538.4 452.2L539.4 453.6L540.4 454.8L541.4 455.6L542.4 455.0L543.4 448.2L544.4 438.9L545.4 428.9L546.4 417.5L547.4 405.0L548.4 395.2L549.4 387.0L550.4 379.7L551.4 372.9L552.4 366.7L553.4 361.0L554.4 355.8L555.4 351.1L556.4 346.4L557.4 341.8L558.4 337.1L559.4 332.4L560.4 327.8L561.4 323.1L562.4 318.4L563.4 313.8L564.4 309.5L565.4 305.7L566.4 302.0L567.4 298.4L568.4 295.0L569.4 291.6L570.4 287.9L571.4 283.9L572.4 279.9L573.4 275.8L574.4 271.7L575.4 267.4L576.4 262.4L577.4 256.2L578.4 249.0L579.4 241.3L580.4 233.4L581.4 225.4L582.4 217.3L583.4 209.4L584.4 201.9L585.4 194.7L586.4 187.3L587.4 178.9L588.4 170.5L589.4 163.4L590.4 157.4L591.4 152.2L592.4 147.7L593.4 144.0L594.4 141.1L595.4 139.3L596.4 139.0L597.4 139.8L598.4 141.4L599.4 143.4L600.4 145.5L601.4 148.3L602.4 151.6L603.4 155.0L604.4 158.3L605.4 161.6L606.4 165.0L607.4 168.3L608.4 171.1L609.4 173.6L610.4 176.0L611.4 178.1L612.4 180.0L613.4 181.5L614.4 182.7L615.4 183.7L616.4 184.3L617.4 184.8L618.4 185.1L619.4 185.4L620.4 185.4L621.4 185.4L622.4 185.2L623.4 184.9L624.4 184.5L625.4 183.9L626.4 183.1L627.4 182.3L628.4 181.4L629.4 180.7L630.4 180.1L631.4 179.7L632.4 179.4L633.4 179.4L634.4 180.3L635.4 182.2L636.4 184.7L637.4 187.7L638.4 191.1L639.4 194.7L640.4 198.5L641.4 202.1L642.4 205.5L643.4 208.8L644.4 212.0L645.4 214.8L646.4 217.3L647.4 219.6L648.4 221.2L649.4 222.1L650.4 222.4L651.4 221.0L652.4 217.9L653.4 213.2L654.4 207.4L655.4 200.5L656.4 193.9L657.4 189.0L658.4 185.2L659.4 181.1L660.4 175.4L661.4 167.1L662.4 159.6L663.4 153.1L664.4 147.3L665.4 142.4L666.4 138.2L667.4 134.5L668.4 131.3L669.4 128.4L670.4 126.1L671.4 124.4L672.4 123.1L673.4 122.3L674.4 121.9L675.4 121.8L676.4 122.1L677.4 122.9L678.4 124.1L679.4 125.8L680.4 128.4L681.4 131.8L682.4 136.1L683.4 141.3L684.4 147.1L685.4 153.5L686.4 160.4L687.4 167.8L688.4 176.4L689.4 185.6L690.4 194.8L691.4 203.9L692.4 213.1L693.4 222.0L694.4 230.2L695.4 238.8L696.4 248.1L697.4 257.4L698.4 266.5L699.4 275.4L700.4 284.3L701.4 292.8L702.4 299.0L703.4 303.5L704.4 308.0L705.4 310.7L706.4 308.6L707.4 304.2L708.4 299.6L709.4 294.6L710.4 289.1L711.4 282.0L712.4 273.2L713.4 264.8L714.4 256.8L715.4 248.8L716.4 240.8L717.4 232.9L718.4 225.9L719.4 219.3L720.4 213.2L721.4 208.0L722.4 208.2L723.4 209.7L724.4 210.8L725.4 211.9L726.4 212.8L727.4 213.5L728.4 214.1L729.4 214.8L730.4 215.4L731.4 216.1L732.4 216.7L733.4 217.2L734.4 217.7L735.4 217.8L736.4 217.5L737.4 216.9L738.4 216.3L739.4 215.6L740.4 214.7L741.4 213.8L741.4 247.4L740.4 247.5L739.4 247.4L738.4 247.2L737.4 246.7L736.4 246.1L735.4 245.4L734.4 244.7L733.4 244.0L732.4 243.3L731.4 242.7L730.4 242.2L729.4 241.7L728.4 241.3L727.4 241.4L726.4 242.7L725.4 245.7L724.4 251.3L723.4 258.5L722.4 266.4L721.4 275.2L720.4 285.9L719.4 293.9L718.4 298.1L717.4 300.2L716.4 301.2L715.4 309.7L714.4 318.4L713.4 327.1L712.4 335.2L711.4 343.2L710.4 351.2L709.4 358.1L708.4 363.2L707.4 365.4L706.4 363.7L705.4 360.1L704.4 355.6L703.4 350.6L702.4 345.6L701.4 340.6L700.4 335.6L699.4 331.1L698.4 327.0L697.4 322.7L696.4 318.3L695.4 313.9L694.4 309.5L693.4 305.1L692.4 300.8L691.4 297.8L690.4 295.0L689.4 289.3L688.4 282.0L687.4 274.7L686.4 267.3L685.4 260.0L684.4 252.7L683.4 245.4L682.4 238.6L681.4 232.2L680.4 225.9L679.4 219.9L678.4 214.1L677.4 208.4L676.4 203.0L675.4 198.0L674.4 193.7L673.4 189.9L672.4 186.7L671.4 184.0L670.4 182.0L669.4 180.9L668.4 180.7L667.4 181.5L666.4 183.2L665.4 185.5L664.4 188.5L663.4 192.7L662.4 197.6L661.4 203.3L660.4 209.3L659.4 215.6L658.4 222.1L657.4 228.9L656.4 236.9L655.4 245.2L654.4 253.5L653.4 261.9L652.4 270.2L651.4 278.3L650.4 286.3L649.4 294.3L648.4 302.3L647.4 308.9L646.4 314.0L645.4 317.5L644.4 318.3L643.4 316.3L642.4 313.0L641.4 308.4L640.4 303.5L639.4 298.4L638.4 293.1L637.4 287.8L636.4 282.4L635.4 277.1L634.4 271.8L633.4 266.4L632.4 261.1L631.4 255.8L630.4 250.5L629.4 245.7L628.4 241.2L627.4 236.9L626.4 232.9L625.4 229.0L624.4 225.4L623.4 222.0L622.4 218.9L621.4 215.8L620.4 213.0L619.4 210.6L618.4 209.0L617.4 207.8L616.4 206.6L615.4 205.4L614.4 204.2L613.4 203.0L612.4 201.8L611.4 200.6L610.4 199.4L609.4 198.2L608.4 197.1L607.4 196.4L606.4 196.0L605.4 195.8L604.4 195.8L603.4 196.0L602.4 196.3L601.4 196.8L600.4 197.5L599.4 198.5L598.4 199.9L597.4 201.8L596.4 204.3L595.4 207.4L594.4 210.8L593.4 214.7L592.4 218.8L591.4 223.3L590.4 228.2L589.4 233.9L588.4 240.8L587.4 247.4L586.4 252.7L585.4 257.1L584.4 261.7L583.4 267.0L582.4 272.3L581.4 277.7L580.4 283.0L579.4 288.3L578.4 293.7L577.4 297.3L576.4 298.9L575.4 299.8L574.4 301.7L573.4 304.2L572.4 306.7L571.4 309.2L570.4 311.8L569.4 314.4L568.4 317.2L567.4 320.2L566.4 323.7L565.4 327.9L564.4 332.3L563.4 336.9L562.4 341.6L561.4 346.4L560.4 351.4L559.4 356.4L558.4 361.6L557.4 367.0L556.4 372.5L555.4 378.5L554.4 384.9L553.4 391.4L552.4 398.9L551.4 408.5L550.4 419.5L549.4 430.5L548.4 441.4L547.4 452.3L546.4 462.9L545.4 472.4L544.4 479.9L543.4 485.7L542.4 490.8L541.4 495.7L540.4 501.2L539.4 507.4L538.4 513.0L537.4 517.9L536.4 522.0L535.4 525.2L534.4 527.8L533.4 529.6L532.4 530.7L531.4 530.8L530.4 530.0L529.4 528.5L528.4 526.5L527.4 523.5L526.4 519.6L525.4 515.6L524.4 511.5L523.4 509.8L522.4 513.9L521.4 518.1L520.4 521.8L519.4 523.4L518.4 522.3L517.4 519.3L516.4 515.4L515.4 511.5L514.4 513.5L513.4 518.3L512.4 523.5L511.4 528.0L510.4 532.0L509.4 535.7L508.4 539.1L507.4 542.1L506.4 544.7L505.4 546.1L504.4 546.7L503.4 546.4L502.4 545.1L501.4 542.7L500.4 539.1L499.4 534.3L498.4 528.0L497.4 522.2L496.4 518.1L495.4 520.6L494.4 527.0L493.4 531.6L492.4 535.5L491.4 538.4L490.4 540.0L489.4 540.1L488.4 539.1L487.4 537.2L486.4 534.8L485.4 532.0L484.4 528.5L483.4 524.3L482.4 519.5L481.4 513.0L480.4 503.3L479.4 490.8L478.4 479.1L477.4 468.7L476.4 463.7L475.4 461.3L474.4 457.8L473.4 454.0L472.4 449.6L471.4 442.6L470.4 432.1L469.4 420.0L468.4 405.9L467.4 389.3L466.4 374.4L465.4 359.9L464.4 344.9L463.4 329.9L462.4 314.9L461.4 303.2L460.4 309.0L459.4 316.5L458.4 323.7L457.4 329.8L456.4 333.3L455.4 330.8L454.4 323.0L453.4 313.7L452.4 303.2L451.4 290.2L450.4 267.7L449.4 239.4L448.4 214.0L447.4 191.4L446.4 177.7L445.4 179.1L444.4 186.5L443.4 195.9L442.4 200.2L441.4 199.3L440.4 208.0L439.4 218.3L438.4 228.3L437.4 238.3L436.4 248.3L435.4 258.3L434.4 263.0L433.4 262.0L432.4 266.0L431.4 281.9L430.4 296.6L429.4 305.4L428.4 307.3L427.4 301.3L426.4 299.3L425.4 299.9L424.4 301.4L423.4 304.5L422.4 309.3L421.4 315.7L420.4 324.6L419.4 333.6L418.4 341.8L417.4 349.6L416.4 356.2L415.4 360.9L414.4 361.8L413.4 356.1L412.4 351.1L411.4 352.4L410.4 357.3L409.4 363.2L408.4 370.0L407.4 377.0L406.4 384.0L405.4 391.0L404.4 397.5L403.4 402.8L402.4 407.5L401.4 412.0L400.4 416.1L399.4 419.5L398.4 422.5L397.4 425.0L396.4 427.3L395.4 429.4L394.4 431.4L393.4 433.1L392.4 434.3L391.4 434.6L390.4 434.3L389.4 433.8L388.4 433.2L387.4 432.4L386.4 431.4L385.4 430.5L384.4 429.9L383.4 430.0L382.4 431.8L381.4 435.0L380.4 439.6L379.4 445.1L378.4 450.9L377.4 457.9L376.4 463.3L375.4 465.8L374.4 467.0L373.4 466.8L372.4 472.2L371.4 479.4L370.4 486.4L369.4 493.3L368.4 499.6L367.4 504.8L366.4 508.2L365.4 507.7L364.4 504.7L363.4 500.7L362.4 496.4L361.4 491.7L360.4 486.5L359.4 479.6L358.4 468.5L357.4 457.1L356.4 445.6L355.4 436.1L354.4 428.5L353.4 420.6L352.4 412.7L351.4 404.1L350.4 394.8L349.4 385.2L348.4 375.1L347.4 365.1L346.4 355.9L345.4 346.8L344.4 337.1L343.4 327.1L342.4 317.0L341.4 307.0L340.4 296.9L339.4 286.9L338.4 276.8L337.4 266.7L336.4 254.4L335.4 242.2L334.4 235.0L333.4 229.0L332.4 223.0L331.4 216.8L330.4 210.7L329.4 204.8L328.4 199.5L327.4 194.5L326.4 190.1L325.4 186.5L324.4 184.0L323.4 183.0L322.4 183.5L321.4 185.1L320.4 187.8L319.4 190.9L318.4 194.4L317.4 198.1L316.4 202.2L315.4 206.8L314.4 212.7L313.4 219.2L312.4 227.0L311.4 238.6L310.4 251.6L309.4 263.3L308.4 273.9L307.4 286.8L306.4 301.8L305.4 316.8L304.4 331.8L303.4 346.8L302.4 361.8L301.4 376.9L300.4 392.9L299.4 408.8L298.4 422.9L297.4 433.1L296.4 439.1L295.4 440.1L294.4 437.5L293.4 434.4L292.4 430.5L291.4 426.0L290.4 421.3L289.4 416.5L288.4 411.6L287.4 406.6L286.4 401.3L285.4 395.8L284.4 389.9L283.4 383.1L282.4 375.3L281.4 367.0L280.4 358.2L279.4 349.5L278.4 341.4L277.4 334.0L276.4 325.7L275.4 315.7L274.4 305.7L273.4 295.7L272.4 285.7L271.4 275.7L270.4 265.7L269.4 255.7L268.4 245.7L267.4 235.7L266.4 224.2L265.4 204.0L264.4 196.4L263.4 189.8L262.4 183.6L261.4 177.5L260.4 171.5L259.4 166.0L258.4 160.8L257.4 155.0L256.4 148.5L255.4 141.6L254.4 134.6L253.4 127.6L252.4 120.6L251.4 113.6L250.4 107.3L249.4 102.4L248.4 101.5L247.4 102.0L246.4 105.0L245.4 109.5L244.4 114.4L243.4 119.6L242.4 125.3L241.4 132.7L240.4 143.3L239.4 155.3L238.4 167.3L237.4 179.3L236.4 191.9L235.4 209.1L234.4 227.0L233.4 240.0L232.4 250.0L231.4 260.0L230.4 270.0L229.4 280.0L228.4 290.0L227.4 300.0L226.4 310.0L225.4 320.0L224.4 330.0L223.4 340.0L222.4 350.4L221.4 363.4L220.4 374.8L219.4 384.5L218.4 391.7L217.4 394.9L216.4 395.9L215.4 396.6L214.4 399.2L213.4 405.6L212.4 414.3L211.4 422.8L210.4 430.1L209.4 436.9L208.4 444.8L207.4 454.0L206.4 463.2L205.4 472.3L204.4 481.5L203.4 490.6L202.4 499.1L201.4 507.3L200.4 515.4L199.4 523.3L198.4 530.4L197.4 536.0L196.4 536.9L195.4 532.7L194.4 527.1L193.4 520.6L192.4 513.9L191.4 506.7L190.4 498.8L189.4 490.4L188.4 481.3L187.4 472.1L186.4 462.9L185.4 453.7L184.4 444.5L183.4 435.2L182.4 426.0L181.4 415.2L180.4 396.6L179.4 381.7L178.4 367.8L177.4 354.8L176.4 342.2L175.4 329.8L174.4 318.2L173.4 308.1L172.4 301.8L171.4 296.4L170.4 288.6L169.4 278.9L168.4 268.5L167.4 257.6L166.4 246.6L165.4 235.9L164.4 225.4L163.4 215.5L162.4 205.3L161.4 194.7L160.4 184.6L159.4 175.7L158.4 168.3L157.4 161.8L156.4 155.3L155.4 148.0L154.4 141.0L153.4 134.9L152.4 129.4L151.4 124.6L150.4 120.4L149.4 116.8L148.4 114.1L147.4 112.4L146.4 112.3L145.4 113.2L144.4 115.2L143.4 118.6L142.4 123.3L141.4 128.8L140.4 134.7L139.4 141.0L138.4 147.7L137.4 155.1L136.4 162.4L135.4 169.6L134.4 177.0L133.4 184.6L132.4 192.9L131.4 205.0L130.4 217.6L129.4 230.1L128.4 242.6L127.4 255.1L126.4 267.6L125.4 280.1L124.4 292.4L123.4 302.2L122.4 308.9L121.4 313.8L120.4 317.9L119.4 322.0L118.4 323.7L117.4 325.2L116.4 330.5L115.4 339.2L114.4 347.8L113.4 356.1L112.4 363.9L111.4 371.5L110.4 378.9L109.4 385.5L108.4 390.4L107.4 393.5L106.4 393.3L105.4 390.7L104.4 387.2L103.4 382.5L102.4 376.8L101.4 370.8L100.4 364.8L99.4 358.9L98.4 353.4L97.4 351.0L96.4 352.3L95.4 355.2L94.4 357.5L93.4 358.5L92.4 354.2L91.4 348.9L90.4 343.6L89.4 338.2L88.4 333.0L87.4 327.8L86.4 322.7L85.4 317.9L84.4 314.9L83.4 313.7L82.4 313.0L81.4 312.6L80.4 312.2L79.4 311.9L78.4 311.9L77.4 312.3L76.4 312.7L75.4 313.2L74.4 313.7L73.4 314.3Z"/></clipPath>
<use href="#hl" clip-path="url(#cp3)"/>
<path d="M73.4 272.3L74.4 275.6L75.4 278.8L76.4 282.0L77.4 285.1L78.4 288.1L79.4 290.9L80.4 293.3L81.4 295.2L82.4 296.8L83.4 298.1L84.4 299.2L85.4 299.6L86.4 299.8L87.4 300.0L88.4 300.2L89.4 300.4L90.4 300.6L91.4 300.8L92.4 301.0L93.4 301.5L94.4 303.0L95.4 303.2L96.4 301.3L97.4 297.9L98.4 292.2L99.4 285.7L100.4 279.0L101.4 272.3L102.4 265.7L103.4 259.0L104.4 252.8L105.4 246.8L106.4 239.6L107.4 230.2L108.4 219.8L109.4 209.8L110.4 200.4L111.4 191.2L112.4 182.4L113.4 174.0L114.4 168.5L115.4 164.5L116.4 158.2L117.4 148.4L118.4 138.4L119.4 128.4L120.4 118.4L121.4 108.4L122.4 98.4L123.4 89.2L124.4 82.1L125.4 76.3L126.4 71.6L127.4 67.6L128.4 64.8L129.4 62.9L130.4 61.5L131.4 60.5L132.4 59.7L133.4 59.3L134.4 59.4L135.4 59.6L136.4 60.1L137.4 60.9L138.4 61.9L139.4 63.0L140.4 64.0L141.4 65.1L142.4 66.2L143.4 67.4L144.4 68.6L145.4 69.8L146.4 70.8L147.4 70.5L148.4 68.7L149.4 66.6L150.4 65.3L151.4 64.4L152.4 63.6L153.4 62.9L154.4 62.3L155.4 61.9L156.4 61.7L157.4 61.6L158.4 61.6L159.4 61.7L160.4 62.0L161.4 62.7L162.4 63.4L163.4 63.2L164.4 62.3L165.4 61.1L166.4 59.8L167.4 58.7L168.4 57.6L169.4 56.6L170.4 55.7L171.4 54.7L172.4 54.0L173.4 53.5L174.4 53.1L175.4 53.3L176.4 54.0L177.4 55.2L178.4 57.0L179.4 59.4L180.4 62.3L181.4 65.6L182.4 69.3L183.4 73.5L184.4 78.2L185.4 83.5L186.4 89.2L187.4 95.2L188.4 101.8L189.4 108.4L190.4 115.1L191.4 121.8L192.4 128.4L193.4 135.1L194.4 141.8L195.4 148.4L196.4 155.1L197.4 161.8L198.4 168.4L199.4 175.1L200.4 181.5L201.4 187.9L202.4 195.2L203.4 204.0L204.4 213.4L205.4 222.7L206.4 232.1L207.4 241.2L208.4 249.2L209.4 255.9L210.4 262.2L211.4 268.9L212.4 275.5L213.4 282.2L214.4 288.4L215.4 293.7L216.4 298.6L217.4 303.1L218.4 305.7L219.4 303.9L220.4 298.4L221.4 291.9L222.4 284.0L223.4 275.2L224.4 265.6L225.4 255.6L226.4 245.8L227.4 237.0L228.4 227.3L229.4 209.8L230.4 187.3L231.4 167.7L232.4 155.2L233.4 143.2L234.4 130.7L235.4 118.4L236.4 107.3L237.4 97.2L238.4 88.4L239.4 81.2L240.4 74.3L241.4 66.8L242.4 59.5L243.4 53.3L244.4 48.5L245.4 45.3L246.4 43.5L247.4 42.2L248.4 41.4L249.4 41.3L250.4 41.6L251.4 42.2L252.4 43.3L253.4 44.8L254.4 46.5L255.4 48.9L256.4 53.8L257.4 61.7L258.4 70.1L259.4 79.4L260.4 89.4L261.4 99.4L262.4 109.4L263.4 118.2L264.4 126.9L265.4 135.6L266.4 142.9L267.4 150.1L268.4 160.0L269.4 170.0L270.4 179.7L271.4 189.9L272.4 201.6L273.4 214.0L274.4 226.2L275.4 238.6L276.4 250.1L277.4 260.1L278.4 269.9L279.4 279.9L280.4 289.9L281.4 299.9L282.4 310.8L283.4 323.7L284.4 334.3L285.4 343.6L286.4 351.6L287.4 356.8L288.4 357.7L289.4 355.1L290.4 350.3L291.4 344.7L292.4 338.2L293.4 330.8L294.4 321.7L295.4 311.7L296.4 301.7L297.4 291.7L298.4 281.7L299.4 271.7L300.4 261.2L301.4 248.0L302.4 233.1L303.4 217.1L304.4 199.7L305.4 181.1L306.4 167.6L307.4 158.9L308.4 151.6L309.4 144.9L310.4 138.9L311.4 134.8L312.4 132.4L313.4 130.7L314.4 129.9L315.4 130.2L316.4 131.1L317.4 132.6L318.4 134.3L319.4 136.5L320.4 139.3L321.4 142.3L322.4 145.4L323.4 148.4L324.4 151.1L325.4 153.6L326.4 156.4L327.4 159.9L328.4 164.0L329.4 168.4L330.4 172.9L331.4 177.6L332.4 182.6L333.4 187.8L334.4 193.2L335.4 198.9L336.4 204.8L337.4 210.9L338.4 217.0L339.4 223.3L340.4 230.0L341.4 237.1L342.4 245.4L343.4 255.5L344.4 266.6L345.4 278.2L346.4 290.4L347.4 302.5L348.4 314.1L349.4 324.7L350.4 334.8L351.4 344.3L352.4 353.5L353.4 362.7L354.4 371.9L355.4 381.1L356.4 390.4L357.4 397.7L358.4 399.3L359.4 400.3L360.4 401.4L361.4 402.4L362.4 403.2L363.4 403.8L364.4 404.3L365.4 404.8L366.4 405.2L367.4 405.5L368.4 405.6L369.4 406.1L370.4 408.9L371.4 409.8L372.4 407.8L373.4 404.3L374.4 400.4L375.4 395.8L376.4 391.1L377.4 386.5L378.4 381.8L379.4 377.1L380.4 372.5L381.4 369.6L382.4 369.1L383.4 368.2L384.4 367.3L385.4 364.3L386.4 358.9L387.4 353.7L388.4 348.8L389.4 344.1L390.4 340.0L391.4 336.0L392.4 332.0L393.4 328.0L394.4 324.0L395.4 320.0L396.4 316.3L397.4 313.2L398.4 309.8L399.4 301.2L400.4 284.2L401.4 265.1L402.4 249.9L403.4 244.1L404.4 242.9L405.4 243.0L406.4 243.8L407.4 244.7L408.4 246.4L409.4 250.2L410.4 256.0L411.4 261.7L412.4 267.5L413.4 260.5L414.4 250.4L415.4 240.3L416.4 230.4L417.4 223.2L418.4 218.7L419.4 215.4L420.4 215.4L421.4 218.8L422.4 224.4L423.4 228.8L424.4 226.1L425.4 216.2L426.4 206.2L427.4 196.2L428.4 186.3L429.4 176.4L430.4 165.0L431.4 152.7L432.4 140.7L433.4 128.7L434.4 117.3L435.4 106.7L436.4 97.3L437.4 91.6L438.4 90.4L439.4 88.6L440.4 85.3L441.4 80.3L442.4 72.1L443.4 68.0L444.4 67.4L445.4 71.1L446.4 75.8L447.4 79.8L448.4 83.7L449.4 91.6L450.4 103.8L451.4 116.4L452.4 127.6L453.4 138.4L454.4 148.7L455.4 158.2L456.4 167.2L457.4 176.2L458.4 185.2L459.4 194.2L460.4 202.7L461.4 208.3L462.4 213.3L463.4 218.3L464.4 223.3L465.4 228.9L466.4 236.4L467.4 246.0L468.4 255.8L469.4 264.7L470.4 278.9L471.4 292.0L472.4 304.5L473.4 317.0L474.4 330.1L475.4 345.0L476.4 360.0L477.4 375.4L478.4 390.7L479.4 383.6L480.4 376.4L481.4 372.3L482.4 370.2L483.4 369.8L484.4 370.5L485.4 372.7L486.4 376.8L487.4 382.4L488.4 388.7L489.4 395.4L490.4 402.9L491.4 410.7L492.4 418.4L493.4 426.5L494.4 434.6L495.4 441.8L496.4 445.3L497.4 440.5L498.4 432.2L499.4 427.4L500.4 423.4L501.4 421.1L502.4 419.8L503.4 419.2L504.4 419.2L505.4 419.7L506.4 420.8L507.4 422.7L508.4 425.3L509.4 428.7L510.4 433.0L511.4 437.8L512.4 443.0L513.4 448.9L514.4 455.0L515.4 458.5L516.4 456.7L517.4 450.5L518.4 447.8L519.4 447.0L520.4 448.3L521.4 450.5L522.4 453.7L523.4 457.2L524.4 460.2L525.4 461.4L526.4 459.2L527.4 455.8L528.4 453.5L529.4 452.0L530.4 450.6L531.4 449.7L532.4 449.1L533.4 448.7L534.4 448.7L535.4 449.0L536.4 449.7L537.4 450.8L538.4 452.2L539.4 453.6L540.4 454.8L541.4 455.6L542.4 455.0L543.4 448.2L544.4 438.9L545.4 428.9L546.4 417.5L547.4 405.0L548.4 395.2L549.4 387.0L550.4 379.7L551.4 372.9L552.4 366.7L553.4 361.0L554.4 355.8L555.4 351.1L556.4 346.4L557.4 341.8L558.4 337.1L559.4 332.4L560.4 327.8L561.4 323.1L562.4 318.4L563.4 313.8L564.4 309.5L565.4 305.7L566.4 302.0L567.4 298.4L568.4 295.0L569.4 291.6L570.4 287.9L571.4 283.9L572.4 279.9L573.4 275.8L574.4 271.7L575.4 267.4L576.4 262.4L577.4 256.2L578.4 249.0L579.4 241.3L580.4 233.4L581.4 225.4L582.4 217.3L583.4 209.4L584.4 201.9L585.4 194.7L586.4 187.3L587.4 178.9L588.4 170.5L589.4 163.4L590.4 157.4L591.4 152.2L592.4 147.7L593.4 144.0L594.4 141.1L595.4 139.3L596.4 139.0L597.4 139.8L598.4 141.4L599.4 143.4L600.4 145.5L601.4 148.3L602.4 151.6L603.4 155.0L604.4 158.3L605.4 161.6L606.4 165.0L607.4 168.3L608.4 171.1L609.4 173.6L610.4 176.0L611.4 178.1L612.4 180.0L613.4 181.5L614.4 182.7L615.4 183.7L616.4 184.3L617.4 184.8L618.4 185.1L619.4 185.4L620.4 185.4L621.4 185.4L622.4 185.2L623.4 184.9L624.4 184.5L625.4 183.9L626.4 183.1L627.4 182.3L628.4 181.4L629.4 180.7L630.4 180.1L631.4 179.7L632.4 179.4L633.4 179.4L634.4 180.3L635.4 182.2L636.4 184.7L637.4 187.7L638.4 191.1L639.4 194.7L640.4 198.5L641.4 202.1L642.4 205.5L643.4 208.8L644.4 212.0L645.4 214.8L646.4 217.3L647.4 219.6L648.4 221.2L649.4 222.1L650.4 222.4L651.4 221.0L652.4 217.9L653.4 213.2L654.4 207.4L655.4 200.5L656.4 193.9L657.4 189.0L658.4 185.2L659.4 181.1L660.4 175.4L661.4 167.1L662.4 159.6L663.4 153.1L664.4 147.3L665.4 142.4L666.4 138.2L667.4 134.5L668.4 131.3L669.4 128.4L670.4 126.1L671.4 124.4L672.4 123.1L673.4 122.3L674.4 121.9L675.4 121.8L676.4 122.1L677.4 122.9L678.4 124.1L679.4 125.8L680.4 128.4L681.4 131.8L682.4 136.1L683.4 141.3L684.4 147.1L685.4 153.5L686.4 160.4L687.4 167.8L688.4 176.4L689.4 185.6L690.4 194.8L691.4 203.9L692.4 213.1L693.4 222.0L694.4 230.2L695.4 238.8L696.4 248.1L697.4 257.4L698.4 266.5L699.4 275.4L700.4 284.3L701.4 292.8L702.4 299.0L703.4 303.5L704.4 308.0L705.4 310.7L706.4 308.6L707.4 304.2L708.4 299.6L709.4 294.6L710.4 289.1L711.4 282.0L712.4 273.2L713.4 264.8L714.4 256.8L715.4 248.8L716.4 240.8L717.4 232.9L718.4 225.9L719.4 219.3L720.4 213.2L721.4 208.0L722.4 208.2L723.4 209.7L724.4 210.8L725.4 211.9L726.4 212.8L727.4 213.5L728.4 214.1L729.4 214.8L730.4 215.4L731.4 216.1L732.4 216.7L733.4 217.2L734.4 217.7L735.4 217.8L736.4 217.5L737.4 216.9L738.4 216.3L739.4 215.6L740.4 214.7L741.4 213.8L741.4 247.4L740.4 247.5L739.4 247.4L738.4 247.2L737.4 246.7L736.4 246.1L735.4 245.4L734.4 244.7L733.4 244.0L732.4 243.3L731.4 242.7L730.4 242.2L729.4 241.7L728.4 241.3L727.4 241.4L726.4 242.7L725.4 245.7L724.4 251.3L723.4 258.5L722.4 266.4L721.4 275.2L720.4 285.9L719.4 293.9L718.4 298.1L717.4 300.2L716.4 301.2L715.4 309.7L714.4 318.4L713.4 327.1L712.4 335.2L711.4 343.2L710.4 351.2L709.4 358.1L708.4 363.2L707.4 365.4L706.4 363.7L705.4 360.1L704.4 355.6L703.4 350.6L702.4 345.6L701.4 340.6L700.4 335.6L699.4 331.1L698.4 327.0L697.4 322.7L696.4 318.3L695.4 313.9L694.4 309.5L693.4 305.1L692.4 300.8L691.4 297.8L690.4 295.0L689.4 289.3L688.4 282.0L687.4 274.7L686.4 267.3L685.4 260.0L684.4 252.7L683.4 245.4L682.4 238.6L681.4 232.2L680.4 225.9L679.4 219.9L678.4 214.1L677.4 208.4L676.4 203.0L675.4 198.0L674.4 193.7L673.4 189.9L672.4 186.7L671.4 184.0L670.4 182.0L669.4 180.9L668.4 180.7L667.4 181.5L666.4 183.2L665.4 185.5L664.4 188.5L663.4 192.7L662.4 197.6L661.4 203.3L660.4 209.3L659.4 215.6L658.4 222.1L657.4 228.9L656.4 236.9L655.4 245.2L654.4 253.5L653.4 261.9L652.4 270.2L651.4 278.3L650.4 286.3L649.4 294.3L648.4 302.3L647.4 308.9L646.4 314.0L645.4 317.5L644.4 318.3L643.4 316.3L642.4 313.0L641.4 308.4L640.4 303.5L639.4 298.4L638.4 293.1L637.4 287.8L636.4 282.4L635.4 277.1L634.4 271.8L633.4 266.4L632.4 261.1L631.4 255.8L630.4 250.5L629.4 245.7L628.4 241.2L627.4 236.9L626.4 232.9L625.4 229.0L624.4 225.4L623.4 222.0L622.4 218.9L621.4 215.8L620.4 213.0L619.4 210.6L618.4 209.0L617.4 207.8L616.4 206.6L615.4 205.4L614.4 204.2L613.4 203.0L612.4 201.8L611.4 200.6L610.4 199.4L609.4 198.2L608.4 197.1L607.4 196.4L606.4 196.0L605.4 195.8L604.4 195.8L603.4 196.0L602.4 196.3L601.4 196.8L600.4 197.5L599.4 198.5L598.4 199.9L597.4 201.8L596.4 204.3L595.4 207.4L594.4 210.8L593.4 214.7L592.4 218.8L591.4 223.3L590.4 228.2L589.4 233.9L588.4 240.8L587.4 247.4L586.4 252.7L585.4 257.1L584.4 261.7L583.4 267.0L582.4 272.3L581.4 277.7L580.4 283.0L579.4 288.3L578.4 293.7L577.4 297.3L576.4 298.9L575.4 299.8L574.4 301.7L573.4 304.2L572.4 306.7L571.4 309.2L570.4 311.8L569.4 314.4L568.4 317.2L567.4 320.2L566.4 323.7L565.4 327.9L564.4 332.3L563.4 336.9L562.4 341.6L561.4 346.4L560.4 351.4L559.4 356.4L558.4 361.6L557.4 367.0L556.4 372.5L555.4 378.5L554.4 384.9L553.4 391.4L552.4 398.9L551.4 408.5L550.4 419.5L549.4 430.5L548.4 441.4L547.4 452.3L546.4 462.9L545.4 472.4L544.4 479.9L543.4 485.7L542.4 490.8L541.4 495.7L540.4 501.2L539.4 507.4L538.4 513.0L537.4 517.9L536.4 522.0L535.4 525.2L534.4 527.8L533.4 529.6L532.4 530.7L531.4 530.8L530.4 530.0L529.4 528.5L528.4 526.5L527.4 523.5L526.4 519.6L525.4 515.6L524.4 511.5L523.4 509.8L522.4 513.9L521.4 518.1L520.4 521.8L519.4 523.4L518.4 522.3L517.4 519.3L516.4 515.4L515.4 511.5L514.4 513.5L513.4 518.3L512.4 523.5L511.4 528.0L510.4 532.0L509.4 535.7L508.4 539.1L507.4 542.1L506.4 544.7L505.4 546.1L504.4 546.7L503.4 546.4L502.4 545.1L501.4 542.7L500.4 539.1L499.4 534.3L498.4 528.0L497.4 522.2L496.4 518.1L495.4 520.6L494.4 527.0L493.4 531.6L492.4 535.5L491.4 538.4L490.4 540.0L489.4 540.1L488.4 539.1L487.4 537.2L486.4 534.8L485.4 532.0L484.4 528.5L483.4 524.3L482.4 519.5L481.4 513.0L480.4 503.3L479.4 490.8L478.4 479.1L477.4 468.7L476.4 463.7L475.4 461.3L474.4 457.8L473.4 454.0L472.4 449.6L471.4 442.6L470.4 432.1L469.4 420.0L468.4 405.9L467.4 389.3L466.4 374.4L465.4 359.9L464.4 344.9L463.4 329.9L462.4 314.9L461.4 303.2L460.4 309.0L459.4 316.5L458.4 323.7L457.4 329.8L456.4 333.3L455.4 330.8L454.4 323.0L453.4 313.7L452.4 303.2L451.4 290.2L450.4 267.7L449.4 239.4L448.4 214.0L447.4 191.4L446.4 177.7L445.4 179.1L444.4 186.5L443.4 195.9L442.4 200.2L441.4 199.3L440.4 208.0L439.4 218.3L438.4 228.3L437.4 238.3L436.4 248.3L435.4 258.3L434.4 263.0L433.4 262.0L432.4 266.0L431.4 281.9L430.4 296.6L429.4 305.4L428.4 307.3L427.4 301.3L426.4 299.3L425.4 299.9L424.4 301.4L423.4 304.5L422.4 309.3L421.4 315.7L420.4 324.6L419.4 333.6L418.4 341.8L417.4 349.6L416.4 356.2L415.4 360.9L414.4 361.8L413.4 356.1L412.4 351.1L411.4 352.4L410.4 357.3L409.4 363.2L408.4 370.0L407.4 377.0L406.4 384.0L405.4 391.0L404.4 397.5L403.4 402.8L402.4 407.5L401.4 412.0L400.4 416.1L399.4 419.5L398.4 422.5L397.4 425.0L396.4 427.3L395.4 429.4L394.4 431.4L393.4 433.1L392.4 434.3L391.4 434.6L390.4 434.3L389.4 433.8L388.4 433.2L387.4 432.4L386.4 431.4L385.4 430.5L384.4 429.9L383.4 430.0L382.4 431.8L381.4 435.0L380.4 439.6L379.4 445.1L378.4 450.9L377.4 457.9L376.4 463.3L375.4 465.8L374.4 467.0L373.4 466.8L372.4 472.2L371.4 479.4L370.4 486.4L369.4 493.3L368.4 499.6L367.4 504.8L366.4 508.2L365.4 507.7L364.4 504.7L363.4 500.7L362.4 496.4L361.4 491.7L360.4 486.5L359.4 479.6L358.4 468.5L357.4 457.1L356.4 445.6L355.4 436.1L354.4 428.5L353.4 420.6L352.4 412.7L351.4 404.1L350.4 394.8L349.4 385.2L348.4 375.1L347.4 365.1L346.4 355.9L345.4 346.8L344.4 337.1L343.4 327.1L342.4 317.0L341.4 307.0L340.4 296.9L339.4 286.9L338.4 276.8L337.4 266.7L336.4 254.4L335.4 242.2L334.4 235.0L333.4 229.0L332.4 223.0L331.4 216.8L330.4 210.7L329.4 204.8L328.4 199.5L327.4 194.5L326.4 190.1L325.4 186.5L324.4 184.0L323.4 183.0L322.4 183.5L321.4 185.1L320.4 187.8L319.4 190.9L318.4 194.4L317.4 198.1L316.4 202.2L315.4 206.8L314.4 212.7L313.4 219.2L312.4 227.0L311.4 238.6L310.4 251.6L309.4 263.3L308.4 273.9L307.4 286.8L306.4 301.8L305.4 316.8L304.4 331.8L303.4 346.8L302.4 361.8L301.4 376.9L300.4 392.9L299.4 408.8L298.4 422.9L297.4 433.1L296.4 439.1L295.4 440.1L294.4 437.5L293.4 434.4L292.4 430.5L291.4 426.0L290.4 421.3L289.4 416.5L288.4 411.6L287.4 406.6L286.4 401.3L285.4 395.8L284.4 389.9L283.4 383.1L282.4 375.3L281.4 367.0L280.4 358.2L279.4 349.5L278.4 341.4L277.4 334.0L276.4 325.7L275.4 315.7L274.4 305.7L273.4 295.7L272.4 285.7L271.4 275.7L270.4 265.7L269.4 255.7L268.4 245.7L267.4 235.7L266.4 224.2L265.4 204.0L264.4 196.4L263.4 189.8L262.4 183.6L261.4 177.5L260.4 171.5L259.4 166.0L258.4 160.8L257.4 155.0L256.4 148.5L255.4 141.6L254.4 134.6L253.4 127.6L252.4 120.6L251.4 113.6L250.4 107.3L249.4 102.4L248.4 101.5L247.4 102.0L246.4 105.0L245.4 109.5L244.4 114.4L243.4 119.6L242.4 125.3L241.4 132.7L240.4 143.3L239.4 155.3L238.4 167.3L237.4 179.3L236.4 191.9L235.4 209.1L234.4 227.0L233.4 240.0L232.4 250.0L231.4 260.0L230.4 270.0L229.4 280.0L228.4 290.0L227.4 300.0L226.4 310.0L225.4 320.0L224.4 330.0L223.4 340.0L222.4 350.4L221.4 363.4L220.4 374.8L219.4 384.5L218.4 391.7L217.4 394.9L216.4 395.9L215.4 396.6L214.4 399.2L213.4 405.6L212.4 414.3L211.4 422.8L210.4 430.1L209.4 436.9L208.4 444.8L207.4 454.0L206.4 463.2L205.4 472.3L204.4 481.5L203.4 490.6L202.4 499.1L201.4 507.3L200.4 515.4L199.4 523.3L198.4 530.4L197.4 536.0L196.4 536.9L195.4 532.7L194.4 527.1L193.4 520.6L192.4 513.9L191.4 506.7L190.4 498.8L189.4 490.4L188.4 481.3L187.4 472.1L186.4 462.9L185.4 453.7L184.4 444.5L183.4 435.2L182.4 426.0L181.4 415.2L180.4 396.6L179.4 381.7L178.4 367.8L177.4 354.8L176.4 342.2L175.4 329.8L174.4 318.2L173.4 308.1L172.4 301.8L171.4 296.4L170.4 288.6L169.4 278.9L168.4 268.5L167.4 257.6L166.4 246.6L165.4 235.9L164.4 225.4L163.4 215.5L162.4 205.3L161.4 194.7L160.4 184.6L159.4 175.7L158.4 168.3L157.4 161.8L156.4 155.3L155.4 148.0L154.4 141.0L153.4 134.9L152.4 129.4L151.4 124.6L150.4 120.4L149.4 116.8L148.4 114.1L147.4 112.4L146.4 112.3L145.4 113.2L144.4 115.2L143.4 118.6L142.4 123.3L141.4 128.8L140.4 134.7L139.4 141.0L138.4 147.7L137.4 155.1L136.4 162.4L135.4 169.6L134.4 177.0L133.4 184.6L132.4 192.9L131.4 205.0L130.4 217.6L129.4 230.1L128.4 242.6L127.4 255.1L126.4 267.6L125.4 280.1L124.4 292.4L123.4 302.2L122.4 308.9L121.4 313.8L120.4 317.9L119.4 322.0L118.4 323.7L117.4 325.2L116.4 330.5L115.4 339.2L114.4 347.8L113.4 356.1L112.4 363.9L111.4 371.5L110.4 378.9L109.4 385.5L108.4 390.4L107.4 393.5L106.4 393.3L105.4 390.7L104.4 387.2L103.4 382.5L102.4 376.8L101.4 370.8L100.4 364.8L99.4 358.9L98.4 353.4L97.4 351.0L96.4 352.3L95.4 355.2L94.4 357.5L93.4 358.5L92.4 354.2L91.4 348.9L90.4 343.6L89.4 338.2L88.4 333.0L87.4 327.8L86.4 322.7L85.4 317.9L84.4 314.9L83.4 313.7L82.4 313.0L81.4 312.6L80.4 312.2L79.4 311.9L78.4 311.9L77.4 312.3L76.4 312.7L75.4 313.2L74.4 313.7L73.4 314.3Z" fill="none" stroke="#9c2020" stroke-width="1.15" stroke-linejoin="round"/>
<path d="M73.4 293.6L74.4 294.6L75.4 295.7L76.4 296.9L77.4 298.1L78.4 299.4L79.4 300.9L80.4 302.5L81.4 304.4L82.4 306.4L83.4 308.5L84.4 310.5L85.4 312.7L86.4 314.9L87.4 317.3L88.4 319.6L89.4 321.9L90.4 324.3L91.4 326.7L92.4 329.1L93.4 330.9L94.4 331.7L95.4 330.9L96.4 329.1L97.4 327.0L98.4 325.1L99.4 323.2L100.4 322.0L101.4 321.6L102.4 321.4L103.4 321.2L104.4 321.0L105.4 320.7L106.4 319.4L107.4 316.6L108.4 311.7L109.4 306.1L110.4 300.3L111.4 294.0L112.4 286.8L113.4 279.3L114.4 271.8L115.4 264.4L116.4 257.0L117.4 249.6L118.4 241.6L119.4 233.5L120.4 225.6L121.4 218.0L122.4 210.3L123.4 201.3L124.4 190.6L125.4 179.4L126.4 168.5L127.4 159.0L128.4 151.3L129.4 145.0L130.4 139.6L131.4 134.3L132.4 129.3L133.4 124.7L134.4 120.4L135.4 116.6L136.4 113.1L137.4 110.0L138.4 107.0L139.4 104.3L140.4 101.7L141.4 99.4L142.4 97.4L143.4 95.7L144.4 94.3L145.4 93.3L146.4 92.6L147.4 92.3L148.4 92.5L149.4 93.1L150.4 94.2L151.4 95.9L152.4 98.0L153.4 100.6L154.4 103.4L155.4 106.3L156.4 109.6L157.4 113.1L158.4 116.7L159.4 120.5L160.4 124.4L161.4 128.5L162.4 132.6L163.4 136.9L164.4 141.4L165.4 146.0L166.4 150.7L167.4 155.5L168.4 160.4L169.4 165.4L170.4 170.4L171.4 175.4L172.4 180.4L173.4 185.6L174.4 190.9L175.4 196.2L176.4 202.0L177.4 209.3L178.4 217.7L179.4 227.5L180.4 240.2L181.4 251.4L182.4 259.4L183.4 267.4L184.4 275.4L185.4 283.4L186.4 291.4L187.4 299.4L188.4 307.4L189.4 315.4L190.4 323.3L191.4 330.3L192.4 336.5L193.4 342.0L194.4 346.3L195.4 349.6L196.4 352.1L197.4 354.3L198.4 356.2L199.4 357.8L200.4 359.0L201.4 360.1L202.4 361.0L203.4 361.7L204.4 362.2L205.4 362.5L206.4 362.6L207.4 362.5L208.4 362.1L209.4 361.6L210.4 360.9L211.4 360.2L212.4 359.2L213.4 357.8L214.4 356.3L215.4 354.3L216.4 351.4L217.4 347.5L218.4 342.6L219.4 336.8L220.4 330.0L221.4 322.5L222.4 314.7L223.4 305.9L224.4 295.9L225.4 285.9L226.4 275.9L227.4 265.9L228.4 255.9L229.4 245.9L230.4 234.9L231.4 221.5L232.4 200.1L233.4 176.5L234.4 157.8L235.4 145.7L236.4 133.7L237.4 121.2L238.4 109.0L239.4 98.0L240.4 89.9L241.4 85.5L242.4 82.5L243.4 80.0L244.4 77.8L245.4 76.0L246.4 74.3L247.4 72.8L248.4 71.5L249.4 70.7L250.4 70.9L251.4 71.9L252.4 73.8L253.4 76.9L254.4 81.4L255.4 86.6L256.4 92.7L257.4 99.4L258.4 106.9L259.4 114.9L260.4 122.9L261.4 130.9L262.4 138.9L263.4 146.9L264.4 155.1L265.4 164.2L266.4 174.1L267.4 185.6L268.4 198.8L269.4 214.5L270.4 230.5L271.4 245.1L272.4 255.4L273.4 265.4L274.4 275.4L275.4 285.4L276.4 295.4L277.4 305.4L278.4 315.4L279.4 325.4L280.4 335.4L281.4 345.3L282.4 354.0L283.4 361.1L284.4 367.0L285.4 371.8L286.4 375.8L287.4 378.9L288.4 381.3L289.4 383.1L290.4 384.5L291.4 385.3L292.4 385.2L293.4 383.9L294.4 382.0L295.4 378.8L296.4 373.5L297.4 365.6L298.4 355.5L299.4 344.7L300.4 333.5L301.4 321.4L302.4 308.9L303.4 296.4L304.4 283.6L305.4 261.6L306.4 238.9L307.4 222.1L308.4 207.3L309.4 193.6L310.4 182.0L311.4 174.7L312.4 170.3L313.4 167.4L314.4 165.4L315.4 163.4L316.4 161.8L317.4 160.8L318.4 160.2L319.4 159.9L320.4 159.9L321.4 160.2L322.4 161.0L323.4 162.2L324.4 164.1L325.4 166.7L326.4 169.9L327.4 173.5L328.4 177.7L329.4 182.2L330.4 186.9L331.4 191.8L332.4 196.8L333.4 202.3L334.4 208.2L335.4 215.2L336.4 222.4L337.4 227.7L338.4 234.9L339.4 245.4L340.4 256.9L341.4 268.6L342.4 280.3L343.4 290.8L344.4 300.3L345.4 309.6L346.4 319.1L347.4 329.2L348.4 339.2L349.4 348.7L350.4 357.7L351.4 367.2L352.4 377.3L353.4 387.2L354.4 396.7L355.4 405.8L356.4 414.7L357.4 423.2L358.4 431.4L359.4 438.8L360.4 444.9L361.4 449.6L362.4 453.0L363.4 455.3L364.4 457.0L365.4 458.0L366.4 458.2L367.4 457.8L368.4 456.5L369.4 453.5L370.4 449.8L371.4 446.1L372.4 442.5L373.4 439.1L374.4 435.6L375.4 432.1L376.4 428.1L377.4 423.3L378.4 418.0L379.4 412.4L380.4 406.8L381.4 401.0L382.4 395.0L383.4 388.8L384.4 382.7L385.4 376.9L386.4 371.7L387.4 367.0L388.4 363.0L389.4 359.5L390.4 356.4L391.4 353.6L392.4 351.0L393.4 348.4L394.4 346.1L395.4 344.1L396.4 342.1L397.4 340.1L398.4 338.1L399.4 336.1L400.4 334.1L401.4 332.1L402.4 330.1L403.4 328.1L404.4 326.1L405.4 324.1L406.4 322.1L407.4 320.1L408.4 318.1L409.4 316.1L410.4 313.8L411.4 311.4L412.4 308.9L413.4 306.3L414.4 303.7L415.4 300.9L416.4 297.7L417.4 294.1L418.4 290.2L419.4 285.8L420.4 281.0L421.4 273.6L422.4 265.2L423.4 258.8L424.4 254.5L425.4 248.7L426.4 241.1L427.4 233.4L428.4 225.4L429.4 217.4L430.4 209.4L431.4 201.4L432.4 193.4L433.4 185.4L434.4 177.4L435.4 169.4L436.4 161.4L437.4 153.0L438.4 144.6L439.4 138.1L440.4 134.1L441.4 130.8L442.4 127.9L443.4 125.5L444.4 123.5L445.4 122.6L446.4 122.6L447.4 125.4L448.4 137.4L449.4 156.6L450.4 174.2L451.4 190.2L452.4 204.3L453.4 216.1L454.4 225.7L455.4 233.7L456.4 240.4L457.4 245.3L458.4 248.3L459.4 250.5L460.4 252.3L461.4 252.8L462.4 253.7L463.4 258.9L464.4 270.3L465.4 286.2L466.4 299.5L467.4 312.1L468.4 324.6L469.4 337.1L470.4 350.1L471.4 366.6L472.4 382.1L473.4 380.9L474.4 398.1L475.4 419.0L476.4 426.1L477.4 431.9L478.4 436.0L479.4 439.1L480.4 442.4L481.4 445.4L482.4 448.3L483.4 450.8L484.4 453.3L485.4 455.8L486.4 458.3L487.4 460.8L488.4 463.3L489.4 465.8L490.4 468.3L491.4 470.7L492.4 473.0L493.4 475.1L494.4 477.2L495.4 478.9L496.4 480.2L497.4 481.0L498.4 481.5L499.4 481.9L500.4 482.3L501.4 482.7L502.4 483.0L503.4 483.4L504.4 483.6L505.4 483.9L506.4 484.1L507.4 484.3L508.4 484.5L509.4 484.7L510.4 484.9L511.4 485.0L512.4 485.2L513.4 485.4L514.4 485.6L515.4 485.9L516.4 486.2L517.4 486.5L518.4 486.8L519.4 487.1L520.4 487.4L521.4 487.7L522.4 488.0L523.4 488.3L524.4 488.6L525.4 488.9L526.4 489.2L527.4 489.4L528.4 489.7L529.4 490.0L530.4 490.2L531.4 490.5L532.4 490.4L533.4 490.1L534.4 489.6L535.4 489.1L536.4 488.4L537.4 487.3L538.4 485.9L539.4 484.4L540.4 482.5L541.4 479.6L542.4 475.6L543.4 470.0L544.4 461.4L545.4 451.4L546.4 441.4L547.4 431.4L548.4 421.2L549.4 408.8L550.4 396.6L551.4 386.8L552.4 378.4L553.4 371.3L554.4 365.0L555.4 359.4L556.4 354.6L557.4 350.0L558.4 345.3L559.4 340.6L560.4 336.0L561.4 331.3L562.4 326.6L563.4 322.0L564.4 317.3L565.4 313.1L566.4 309.2L567.4 305.6L568.4 302.1L569.4 298.7L570.4 295.2L571.4 291.4L572.4 287.5L573.4 283.4L574.4 279.3L575.4 275.3L576.4 271.1L577.4 266.6L578.4 261.5L579.4 254.6L580.4 246.4L581.4 238.5L582.4 231.7L583.4 225.0L584.4 218.5L585.4 212.2L586.4 206.2L587.4 200.5L588.4 195.5L589.4 191.0L590.4 186.9L591.4 183.2L592.4 180.1L593.4 177.7L594.4 175.9L595.4 174.4L596.4 173.3L597.4 172.3L598.4 171.5L599.4 171.2L600.4 171.3L601.4 171.8L602.4 172.7L603.4 174.1L604.4 175.8L605.4 177.5L606.4 179.3L607.4 181.2L608.4 183.2L609.4 185.3L610.4 187.3L611.4 189.1L612.4 190.7L613.4 192.3L614.4 193.8L615.4 195.2L616.4 196.5L617.4 197.7L618.4 198.9L619.4 200.0L620.4 201.2L621.4 202.3L622.4 203.5L623.4 204.8L624.4 206.2L625.4 207.6L626.4 209.1L627.4 210.6L628.4 212.5L629.4 214.8L630.4 217.4L631.4 220.3L632.4 223.5L633.4 227.1L634.4 230.9L635.4 234.8L636.4 239.0L637.4 243.5L638.4 248.3L639.4 252.9L640.4 256.8L641.4 260.0L642.4 262.6L643.4 264.6L644.4 266.1L645.4 267.2L646.4 267.8L647.4 267.7L648.4 266.8L649.4 264.9L650.4 262.1L651.4 257.8L652.4 252.3L653.4 246.1L654.4 239.5L655.4 232.2L656.4 224.2L657.4 216.2L658.4 208.2L659.4 200.2L660.4 192.2L661.4 184.3L662.4 177.1L663.4 170.9L664.4 165.9L665.4 162.2L666.4 159.3L667.4 157.0L668.4 155.4L669.4 154.5L670.4 153.9L671.4 153.7L672.4 154.0L673.4 154.7L674.4 156.0L675.4 157.8L676.4 160.2L677.4 163.1L678.4 166.5L679.4 170.3L680.4 174.4L681.4 178.7L682.4 183.5L683.4 188.9L684.4 194.7L685.4 200.9L686.4 207.6L687.4 214.2L688.4 220.9L689.4 227.5L690.4 234.1L691.4 240.9L692.4 248.0L693.4 255.4L694.4 262.8L695.4 270.2L696.4 277.5L697.4 284.8L698.4 292.3L699.4 299.7L700.4 306.4L701.4 310.8L702.4 316.2L703.4 323.4L704.4 330.2L705.4 334.9L706.4 336.2L707.4 335.4L708.4 332.8L709.4 328.1L710.4 322.0L711.4 315.0L712.4 306.9L713.4 297.6L714.4 285.5L715.4 272.9L716.4 263.3L717.4 255.2L718.4 248.2L719.4 242.8L720.4 239.0L721.4 236.3L722.4 234.7L723.4 233.3L724.4 232.3L725.4 231.7L726.4 231.1L727.4 230.6L728.4 230.3L729.4 230.2L730.4 230.1L731.4 230.0L732.4 229.9L733.4 229.9L734.4 229.9L735.4 229.9L736.4 229.9L737.4 229.9L738.4 229.9L739.4 230.0L740.4 230.1L741.4 230.2L742.4 230.3L742.7 230.3" fill="none" stroke="#ff0000" stroke-width="6.2" stroke-linecap="round" stroke-linejoin="round"/>
<circle cx="146.4" cy="90.9" r="7.9" fill="#0000ff" stroke="#000" stroke-width="1"/>
<circle cx="238.9" cy="105.0" r="7.9" fill="#0000ff" stroke="#000" stroke-width="1"/>
<circle cx="249.0" cy="68.6" r="7.9" fill="#0000ff" stroke="#000" stroke-width="1"/>
<circle cx="243.7" cy="83.3" r="7.9" fill="#0000ff" stroke="#000" stroke-width="1"/>
<circle cx="264.1" cy="144.2" r="7.9" fill="#0000ff" stroke="#000" stroke-width="1"/>
<circle cx="268.2" cy="189.9" r="7.9" fill="#0000ff" stroke="#000" stroke-width="1"/>
<circle cx="267.7" cy="182.1" r="7.9" fill="#0000ff" stroke="#000" stroke-width="1"/>
<circle cx="323.0" cy="141.6" r="7.9" fill="#0000ff" stroke="#000" stroke-width="1"/>
<circle cx="333.1" cy="190.9" r="7.9" fill="#0000ff" stroke="#000" stroke-width="1"/>
<circle cx="335.1" cy="221.7" r="7.9" fill="#0000ff" stroke="#000" stroke-width="1"/>
<circle cx="83.0" cy="305.8" r="7.9" fill="#0000ff" stroke="#000" stroke-width="1"/>
<circle cx="219.4" cy="355.8" r="7.9" fill="#0000ff" stroke="#000" stroke-width="1"/>
<circle cx="277.5" cy="329.5" r="7.9" fill="#0000ff" stroke="#000" stroke-width="1"/>
<circle cx="282.1" cy="370.0" r="7.9" fill="#0000ff" stroke="#000" stroke-width="1"/>
<circle cx="288.1" cy="404.1" r="7.9" fill="#0000ff" stroke="#000" stroke-width="1"/>
<circle cx="355.6" cy="431.1" r="7.9" fill="#0000ff" stroke="#000" stroke-width="1"/>
<circle cx="373.5" cy="443.2" r="7.9" fill="#0000ff" stroke="#000" stroke-width="1"/>
<circle cx="379.9" cy="424.0" r="7.9" fill="#0000ff" stroke="#000" stroke-width="1"/>
<circle cx="385.4" cy="393.2" r="7.9" fill="#0000ff" stroke="#000" stroke-width="1"/>
<circle cx="384.4" cy="397.2" r="7.9" fill="#0000ff" stroke="#000" stroke-width="1"/>
<circle cx="413.0" cy="317.9" r="7.9" fill="#0000ff" stroke="#000" stroke-width="1"/>
<circle cx="423.5" cy="268.2" r="7.9" fill="#0000ff" stroke="#000" stroke-width="1"/>
<circle cx="425.3" cy="251.3" r="7.9" fill="#0000ff" stroke="#000" stroke-width="1"/>
<circle cx="440.4" cy="128.8" r="7.9" fill="#0000ff" stroke="#000" stroke-width="1"/>
<circle cx="446.5" cy="101.7" r="7.9" fill="#0000ff" stroke="#000" stroke-width="1"/>
<circle cx="462.2" cy="237.4" r="7.9" fill="#0000ff" stroke="#000" stroke-width="1"/>
<circle cx="616.8" cy="196.5" r="7.9" fill="#0000ff" stroke="#000" stroke-width="1"/>
<circle cx="658.5" cy="212.1" r="7.9" fill="#0000ff" stroke="#000" stroke-width="1"/>
<circle cx="738.6" cy="238.7" r="7.9" fill="#0000ff" stroke="#000" stroke-width="1"/>
<circle cx="729.2" cy="223.0" r="7.9" fill="#0000ff" stroke="#000" stroke-width="1"/>
<circle cx="476.3" cy="421.5" r="7.9" fill="#0000ff" stroke="#000" stroke-width="1"/>
<circle cx="478.3" cy="433.6" r="7.9" fill="#0000ff" stroke="#000" stroke-width="1"/>
<circle cx="496.5" cy="484.7" r="7.9" fill="#0000ff" stroke="#000" stroke-width="1"/>
<circle cx="525.1" cy="484.7" r="7.9" fill="#0000ff" stroke="#000" stroke-width="1"/>
<circle cx="515.5" cy="484.7" r="7.9" fill="#0000ff" stroke="#000" stroke-width="1"/>
<circle cx="544.0" cy="482.9" r="7.9" fill="#0000ff" stroke="#000" stroke-width="1"/>
<circle cx="554.6" cy="368.7" r="7.9" fill="#0000ff" stroke="#000" stroke-width="1"/>
<circle cx="568.3" cy="303.2" r="7.9" fill="#0000ff" stroke="#000" stroke-width="1"/>
<circle cx="700.2" cy="325.0" r="7.9" fill="#0000ff" stroke="#000" stroke-width="1"/>
<rect x="47.5" y="14.5" width="720" height="549" fill="none" stroke="#3a3a3a" stroke-width="1"/>
<line x1="71.80" y1="563.5" x2="71.80" y2="571" stroke="#3a3a3a" stroke-width="1"/>
<text x="72.50" y="590.1" class="ax" text-anchor="middle">0</text>
<line x1="239.15" y1="563.5" x2="239.15" y2="571" stroke="#3a3a3a" stroke-width="1"/>
<text x="239.85" y="590.1" class="ax" text-anchor="middle">100</text>
<line x1="406.50" y1="563.5" x2="406.50" y2="571" stroke="#3a3a3a" stroke-width="1"/>
<text x="407.20" y="590.1" class="ax" text-anchor="middle">200</text>
<line x1="573.85" y1="563.5" x2="573.85" y2="571" stroke="#3a3a3a" stroke-width="1"/>
<text x="574.55" y="590.1" class="ax" text-anchor="middle">300</text>
<line x1="741.20" y1="563.5" x2="741.20" y2="571" stroke="#3a3a3a" stroke-width="1"/>
<text x="741.90" y="590.1" class="ax" text-anchor="middle">400</text>
<line x1="39.8" y1="527.40" x2="47.5" y2="527.40" stroke="#3a3a3a" stroke-width="1"/>
<text transform="translate(30.3,526.80) rotate(-90)" class="ax" text-anchor="middle">-1.5</text>
<line x1="39.8" y1="447.90" x2="47.5" y2="447.90" stroke="#3a3a3a" stroke-width="1"/>
<text transform="translate(30.3,447.30) rotate(-90)" class="ax" text-anchor="middle">-1.0</text>
<line x1="39.8" y1="368.40" x2="47.5" y2="368.40" stroke="#3a3a3a" stroke-width="1"/>
<text transform="translate(30.3,367.80) rotate(-90)" class="ax" text-anchor="middle">-0.5</text>
<line x1="39.8" y1="288.90" x2="47.5" y2="288.90" stroke="#3a3a3a" stroke-width="1"/>
<text transform="translate(30.3,288.30) rotate(-90)" class="ax" text-anchor="middle">0.0</text>
<line x1="39.8" y1="209.40" x2="47.5" y2="209.40" stroke="#3a3a3a" stroke-width="1"/>
<text transform="translate(30.3,208.80) rotate(-90)" class="ax" text-anchor="middle">0.5</text>
<line x1="39.8" y1="129.90" x2="47.5" y2="129.90" stroke="#3a3a3a" stroke-width="1"/>
<text transform="translate(30.3,129.30) rotate(-90)" class="ax" text-anchor="middle">1.0</text>
<line x1="39.8" y1="50.40" x2="47.5" y2="50.40" stroke="#3a3a3a" stroke-width="1"/>
<text transform="translate(30.3,49.80) rotate(-90)" class="ax" text-anchor="middle">1.5</text>
<text x="118.8" y="50.5" class="big" text-anchor="end" fill="#4d4d4d">(d)</text>
<text x="760.5" y="67.3" class="big" text-anchor="end" fill="#4d4d4d">= 0.1</text>
<text x="760.5" y="118.3" class="big" text-anchor="end" fill="#4d4d4d">= 0.5</text>
<text x="624.5" y="64.6" class="sym" fill="#4d4d4d">ε</text>
<path d="M624.22 97.85 L623.94 95.79 L624.48 93.42 L625.74 91.75 L627.63 90.99 L629.37 91.12 L630.79 92.00 L631.90 93.58 L632.85 95.79 L634.27 99.58 L635.85 103.69 L637.43 107.48 L638.37 108.43 L639.32 107.16 L640.74 104.01 L641.85 100.53 L642.32 97.69 L642.42 95.16 L642.64 93.27 L643.43 91.84 L644.69 91.05 L646.11 90.90 L646.90 91.37 L647.06 92.32 L646.27 94.21 L644.69 97.69 L642.80 101.48 L640.90 105.58 L639.01 109.69 L637.58 112.85 L636.48 114.27 L635.53 112.53 L634.27 109.06 L632.85 105.27 L631.42 101.48 L630.16 98.00 L629.21 95.48 L628.42 93.90 L627.63 93.11 L626.53 93.01 L625.42 93.90 L624.85 95.48 L624.79 97.06Z" fill="#4d4d4d" stroke="#4d4d4d" stroke-width="0.3" stroke-linejoin="round"/>
<text x="645.6" y="39.4" class="sup" fill="#4d4d4d">2</text>
<text transform="translate(624,491.9) scale(1,1.045)" class="gk" fill="#808080">Exp</text>
</g>
<g transform="translate(0,1200)">
<rect x="155.47" y="14.5" width="167.35" height="549" fill="#fffaf9"/>
<rect x="406.50" y="14.5" width="167.35" height="549" fill="#fffaf9"/>
<line x1="155.47" y1="14.5" x2="155.47" y2="563.5" stroke="#e09862" stroke-width="1.15"/>
<line x1="322.82" y1="14.5" x2="322.82" y2="563.5" stroke="#e09862" stroke-width="1.15"/>
<line x1="406.50" y1="14.5" x2="406.50" y2="563.5" stroke="#e09862" stroke-width="1.15"/>
<line x1="573.85" y1="14.5" x2="573.85" y2="563.5" stroke="#e09862" stroke-width="1.15"/>
<clipPath id="cp4"><path d="M73.4 272.3L74.4 275.6L75.4 278.8L76.4 282.0L77.4 285.1L78.4 288.1L79.4 290.9L80.4 293.3L81.4 295.2L82.4 296.8L83.4 298.1L84.4 299.2L85.4 299.6L86.4 299.8L87.4 300.0L88.4 300.2L89.4 300.4L90.4 300.6L91.4 300.8L92.4 301.0L93.4 301.5L94.4 303.0L95.4 303.2L96.4 301.3L97.4 297.9L98.4 292.2L99.4 285.7L100.4 279.0L101.4 272.3L102.4 265.7L103.4 259.0L104.4 252.8L105.4 246.8L106.4 239.6L107.4 230.2L108.4 219.8L109.4 209.8L110.4 200.4L111.4 191.2L112.4 182.4L113.4 174.0L114.4 168.5L115.4 164.5L116.4 158.2L117.4 148.4L118.4 138.4L119.4 128.4L120.4 118.4L121.4 108.4L122.4 98.4L123.4 89.2L124.4 82.1L125.4 76.3L126.4 71.6L127.4 67.6L128.4 64.8L129.4 62.9L130.4 61.5L131.4 60.6L132.4 59.9L133.4 59.4L134.4 59.2L135.4 59.2L136.4 59.5L137.4 60.2L138.4 61.5L139.4 63.0L140.4 64.6L141.4 66.1L142.4 67.5L143.4 68.9L144.4 70.2L145.4 71.1L146.4 71.7L147.4 71.8L148.4 71.7L149.4 71.5L150.4 71.2L151.4 70.8L152.4 70.5L153.4 70.2L154.4 70.3L155.4 70.5L156.4 70.9L157.4 71.4L158.4 72.0L159.4 72.6L160.4 73.6L161.4 74.7L162.4 75.5L163.4 75.9L164.4 75.7L165.4 75.4L166.4 74.9L167.4 74.4L168.4 73.9L169.4 73.4L170.4 73.0L171.4 73.1L172.4 73.7L173.4 74.4L174.4 75.5L175.4 77.1L176.4 79.2L177.4 82.0L178.4 85.5L179.4 89.8L180.4 94.4L181.4 99.4L182.4 104.6L183.4 109.9L184.4 115.4L185.4 121.1L186.4 127.1L187.4 133.6L188.4 140.3L189.4 147.0L190.4 153.6L191.4 160.3L192.4 167.0L193.4 173.6L194.4 180.3L195.4 187.0L196.4 193.8L197.4 201.2L198.4 208.8L199.4 218.2L200.4 227.1L201.4 233.1L202.4 239.1L203.4 245.1L204.4 251.1L205.4 257.1L206.4 263.1L207.4 269.1L208.4 275.1L209.4 281.0L210.4 286.4L211.4 291.5L212.4 296.6L213.4 301.3L214.4 305.7L215.4 309.7L216.4 312.5L217.4 314.2L218.4 314.1L219.4 310.6L220.4 303.6L221.4 295.9L222.4 288.0L223.4 279.7L224.4 270.6L225.4 261.2L226.4 252.8L227.4 244.6L228.4 233.4L229.4 212.6L230.4 188.1L231.4 167.7L232.4 155.2L233.4 143.2L234.4 130.7L235.4 118.4L236.4 107.3L237.4 97.2L238.4 88.4L239.4 81.2L240.4 74.3L241.4 66.8L242.4 59.5L243.4 53.3L244.4 48.5L245.4 45.3L246.4 43.5L247.4 42.2L248.4 41.4L249.4 41.3L250.4 41.6L251.4 42.2L252.4 43.3L253.4 44.8L254.4 46.5L255.4 48.9L256.4 53.8L257.4 61.7L258.4 70.1L259.4 79.4L260.4 89.4L261.4 99.4L262.4 109.4L263.4 118.2L264.4 126.9L265.4 135.6L266.4 142.9L267.4 150.1L268.4 160.0L269.4 170.0L270.4 179.7L271.4 189.9L272.4 201.6L273.4 214.0L274.4 226.2L275.4 238.6L276.4 250.1L277.4 260.1L278.4 269.9L279.4 279.9L280.4 289.9L281.4 299.9L282.4 310.8L283.4 323.7L284.4 334.3L285.4 343.6L286.4 351.6L287.4 356.8L288.4 357.7L289.4 355.1L290.4 350.3L291.4 344.7L292.4 338.2L293.4 330.8L294.4 321.7L295.4 311.7L296.4 301.7L297.4 291.7L298.4 280.8L299.4 262.5L300.4 239.2L301.4 215.4L302.4 195.5L303.4 181.9L304.4 170.2L305.4 159.7L306.4 149.9L307.4 141.9L308.4 135.7L309.4 130.7L310.4 127.0L311.4 124.4L312.4 122.6L313.4 121.6L314.4 121.4L315.4 122.0L316.4 123.2L317.4 125.2L318.4 127.6L319.4 130.5L320.4 134.1L321.4 138.1L322.4 142.3L323.4 146.4L324.4 150.3L325.4 153.6L326.4 156.7L327.4 160.4L328.4 165.3L329.4 170.4L330.4 175.1L331.4 179.7L332.4 184.4L333.4 189.5L334.4 195.0L335.4 200.8L336.4 206.8L337.4 212.8L338.4 218.9L339.4 224.9L340.4 231.0L341.4 237.3L342.4 244.9L343.4 255.1L344.4 266.6L345.4 278.1L346.4 289.7L347.4 301.2L348.4 312.7L349.4 324.3L350.4 335.2L351.4 345.7L352.4 356.6L353.4 368.3L354.4 379.8L355.4 390.1L356.4 399.1L357.4 406.8L358.4 413.3L359.4 418.6L360.4 422.7L361.4 426.2L362.4 429.2L363.4 432.1L364.4 434.9L365.4 436.6L366.4 436.4L367.4 434.6L368.4 431.9L369.4 428.9L370.4 426.0L371.4 422.9L372.4 419.8L373.4 416.7L374.4 413.5L375.4 410.3L376.4 407.1L377.4 403.7L378.4 400.2L379.4 396.4L380.4 392.4L381.4 388.1L382.4 383.6L383.4 378.5L384.4 373.0L385.4 367.7L386.4 362.7L387.4 358.0L388.4 353.7L389.4 350.0L390.4 346.8L391.4 344.0L392.4 341.3L393.4 338.8L394.4 336.4L395.4 334.2L396.4 332.3L397.4 330.4L398.4 328.3L399.4 326.2L400.4 324.0L401.4 321.5L402.4 318.5L403.4 315.2L404.4 311.9L405.4 308.5L406.4 305.3L407.4 302.0L408.4 298.4L409.4 294.5L410.4 290.4L411.4 286.4L412.4 282.4L413.4 278.4L414.4 274.4L415.4 270.4L416.4 266.4L417.4 261.7L418.4 255.0L419.4 247.9L420.4 240.9L421.4 233.7L422.4 226.1L423.4 218.4L424.4 210.7L425.4 203.0L426.4 195.3L427.4 187.9L428.4 181.4L429.4 175.1L430.4 169.0L431.4 163.1L432.4 157.5L433.4 152.5L434.4 148.3L435.4 144.9L436.4 142.1L437.4 139.9L438.4 138.0L439.4 136.4L440.4 135.5L441.4 135.2L442.4 135.4L443.4 135.8L444.4 136.7L445.4 138.2L446.4 140.9L447.4 145.2L448.4 151.1L449.4 158.2L450.4 166.0L451.4 175.8L452.4 185.8L453.4 195.8L454.4 205.8L455.4 215.8L456.4 225.8L457.4 237.7L458.4 251.8L459.4 264.6L460.4 276.6L461.4 286.3L462.4 293.1L463.4 299.8L464.4 306.4L465.4 313.1L466.4 319.8L467.4 326.5L468.4 333.7L469.4 341.7L470.4 350.0L471.4 358.4L472.4 366.7L473.4 375.0L474.4 383.4L475.4 391.2L476.4 398.7L477.4 407.0L478.4 417.3L479.4 427.6L480.4 435.9L481.4 440.4L482.4 443.1L483.4 445.5L484.4 447.8L485.4 450.2L486.4 452.6L487.4 455.1L488.4 457.5L489.4 459.8L490.4 462.1L491.4 464.1L492.4 465.9L493.4 467.5L494.4 469.0L495.4 470.3L496.4 471.6L497.4 472.8L498.4 473.9L499.4 474.9L500.4 475.9L501.4 476.9L502.4 477.8L503.4 478.6L504.4 479.4L505.4 480.1L506.4 480.7L507.4 481.3L508.4 481.7L509.4 482.0L510.4 482.2L511.4 482.2L512.4 482.2L513.4 482.1L514.4 481.9L515.4 481.7L516.4 481.5L517.4 481.2L518.4 481.0L519.4 480.7L520.4 480.3L521.4 480.0L522.4 479.6L523.4 479.1L524.4 478.6L525.4 477.9L526.4 477.0L527.4 475.8L528.4 474.5L529.4 473.0L530.4 471.4L531.4 469.9L532.4 468.2L533.4 466.5L534.4 464.9L535.4 463.7L536.4 462.9L537.4 462.1L538.4 461.8L539.4 461.6L540.4 461.2L541.4 457.1L542.4 446.6L543.4 437.5L544.4 428.7L545.4 419.8L546.4 410.7L547.4 401.7L548.4 393.3L549.4 385.8L550.4 378.2L551.4 370.2L552.4 362.2L553.4 354.4L554.4 346.8L555.4 339.5L556.4 333.1L557.4 327.3L558.4 322.1L559.4 317.4L560.4 313.3L561.4 309.6L562.4 306.0L563.4 302.7L564.4 299.6L565.4 296.8L566.4 293.9L567.4 290.6L568.4 287.1L569.4 283.6L570.4 280.1L571.4 276.5L572.4 272.8L573.4 269.2L574.4 265.6L575.4 262.1L576.4 258.4L577.4 254.3L578.4 249.0L579.4 241.6L580.4 233.4L581.4 225.4L582.4 217.3L583.4 209.4L584.4 201.9L585.4 194.7L586.4 187.3L587.4 178.9L588.4 170.5L589.4 163.4L590.4 157.4L591.4 152.2L592.4 147.7L593.4 144.0L594.4 141.1L595.4 139.3L596.4 139.0L597.4 139.8L598.4 141.4L599.4 143.4L600.4 145.5L601.4 148.3L602.4 151.6L603.4 155.0L604.4 158.3L605.4 161.6L606.4 165.0L607.4 168.3L608.4 171.1L609.4 173.6L610.4 176.0L611.4 178.1L612.4 180.0L613.4 181.5L614.4 182.7L615.4 183.7L616.4 184.3L617.4 184.8L618.4 185.1L619.4 185.4L620.4 185.4L621.4 185.4L622.4 185.2L623.4 184.9L624.4 184.5L625.4 183.9L626.4 183.1L627.4 182.3L628.4 181.4L629.4 180.7L630.4 180.1L631.4 179.7L632.4 179.4L633.4 179.4L634.4 180.3L635.4 182.2L636.4 184.7L637.4 187.7L638.4 191.1L639.4 194.7L640.4 198.5L641.4 202.1L642.4 205.5L643.4 208.8L644.4 212.0L645.4 214.8L646.4 217.3L647.4 219.6L648.4 221.2L649.4 222.1L650.4 222.4L651.4 221.0L652.4 217.9L653.4 213.2L654.4 207.4L655.4 200.5L656.4 193.9L657.4 189.0L658.4 185.2L659.4 181.1L660.4 175.4L661.4 167.1L662.4 159.6L663.4 153.1L664.4 147.3L665.4 142.4L666.4 138.2L667.4 134.5L668.4 131.3L669.4 128.4L670.4 126.1L671.4 124.4L672.4 123.1L673.4 122.3L674.4 121.9L675.4 121.8L676.4 122.1L677.4 122.9L678.4 124.1L679.4 125.8L680.4 128.4L681.4 131.8L682.4 136.1L683.4 141.3L684.4 147.1L685.4 153.5L686.4 160.4L687.4 167.8L688.4 176.4L689.4 185.6L690.4 194.8L691.4 203.9L692.4 213.1L693.4 222.0L694.4 230.2L695.4 238.8L696.4 248.1L697.4 257.4L698.4 266.5L699.4 275.4L700.4 284.3L701.4 292.8L702.4 299.0L703.4 303.5L704.4 308.0L705.4 310.7L706.4 308.6L707.4 304.2L708.4 299.6L709.4 294.6L710.4 289.1L711.4 282.0L712.4 273.2L713.4 264.8L714.4 256.8L715.4 248.8L716.4 240.8L717.4 232.9L718.4 225.9L719.4 219.3L720.4 213.2L721.4 208.0L722.4 208.2L723.4 209.7L724.4 210.8L725.4 211.9L726.4 212.8L727.4 213.5L728.4 214.1L729.4 214.8L730.4 215.4L731.4 216.1L732.4 216.7L733.4 217.2L734.4 217.7L735.4 217.8L736.4 217.5L737.4 216.9L738.4 216.3L739.4 215.6L740.4 214.7L741.4 213.8L741.4 247.4L740.4 247.5L739.4 247.4L738.4 247.2L737.4 246.7L736.4 246.1L735.4 245.4L734.4 244.7L733.4 244.0L732.4 243.3L731.4 242.7L730.4 242.2L729.4 241.7L728.4 241.3L727.4 241.4L726.4 242.7L725.4 245.7L724.4 251.3L723.4 258.5L722.4 266.4L721.4 275.2L720.4 285.9L719.4 293.9L718.4 298.1L717.4 300.2L716.4 301.2L715.4 309.7L714.4 318.4L713.4 327.1L712.4 335.2L711.4 343.2L710.4 351.2L709.4 358.1L708.4 363.2L707.4 365.4L706.4 363.7L705.4 360.1L704.4 355.6L703.4 350.6L702.4 345.6L701.4 340.6L700.4 335.6L699.4 331.1L698.4 327.0L697.4 322.7L696.4 318.3L695.4 313.9L694.4 309.5L693.4 305.1L692.4 300.8L691.4 297.8L690.4 295.0L689.4 289.3L688.4 282.0L687.4 274.7L686.4 267.3L685.4 260.0L684.4 252.7L683.4 245.4L682.4 238.6L681.4 232.2L680.4 225.9L679.4 219.9L678.4 214.1L677.4 208.4L676.4 203.0L675.4 198.0L674.4 193.7L673.4 189.9L672.4 186.7L671.4 184.0L670.4 182.0L669.4 180.9L668.4 180.7L667.4 181.5L666.4 183.2L665.4 185.5L664.4 188.5L663.4 192.7L662.4 197.6L661.4 203.3L660.4 209.3L659.4 215.6L658.4 222.1L657.4 228.9L656.4 236.9L655.4 245.2L654.4 253.5L653.4 261.9L652.4 270.2L651.4 278.3L650.4 286.3L649.4 294.3L648.4 302.3L647.4 308.9L646.4 314.0L645.4 317.5L644.4 318.3L643.4 316.3L642.4 313.0L641.4 308.4L640.4 303.5L639.4 298.4L638.4 293.1L637.4 287.8L636.4 282.4L635.4 277.1L634.4 271.8L633.4 266.4L632.4 261.1L631.4 255.8L630.4 250.5L629.4 245.7L628.4 241.2L627.4 236.9L626.4 232.9L625.4 229.0L624.4 225.4L623.4 222.0L622.4 218.9L621.4 215.8L620.4 213.0L619.4 210.6L618.4 209.0L617.4 207.8L616.4 206.6L615.4 205.4L614.4 204.2L613.4 203.0L612.4 201.8L611.4 200.6L610.4 199.4L609.4 198.2L608.4 197.1L607.4 196.4L606.4 196.0L605.4 195.8L604.4 195.8L603.4 196.0L602.4 196.3L601.4 196.8L600.4 197.5L599.4 198.5L598.4 199.9L597.4 201.8L596.4 204.3L595.4 207.4L594.4 210.8L593.4 214.6L592.4 218.9L591.4 223.5L590.4 228.3L589.4 233.4L588.4 239.2L587.4 245.3L586.4 251.2L585.4 256.8L584.4 261.5L583.4 265.5L582.4 269.2L581.4 272.7L580.4 276.1L579.4 279.4L578.4 282.7L577.4 286.0L576.4 289.2L575.4 292.3L574.4 295.2L573.4 298.0L572.4 300.7L571.4 303.4L570.4 306.1L569.4 308.6L568.4 311.3L567.4 314.2L566.4 317.8L565.4 321.9L564.4 325.9L563.4 330.0L562.4 335.0L561.4 341.6L560.4 348.2L559.4 354.9L558.4 361.6L557.4 368.3L556.4 376.0L555.4 384.6L554.4 395.0L553.4 404.3L552.4 411.0L551.4 416.9L550.4 424.0L549.4 433.5L548.4 443.5L547.4 453.5L546.4 463.5L545.4 472.2L544.4 477.0L543.4 479.7L542.4 482.1L541.4 484.7L540.4 487.1L539.4 489.1L538.4 490.5L537.4 491.9L536.4 493.1L535.4 494.3L534.4 495.3L533.4 496.4L532.4 497.4L531.4 498.4L530.4 499.3L529.4 500.2L528.4 501.1L527.4 501.9L526.4 502.6L525.4 503.2L524.4 503.8L523.4 504.3L522.4 504.8L521.4 505.3L520.4 505.7L519.4 506.2L518.4 506.6L517.4 507.0L516.4 507.4L515.4 507.8L514.4 508.2L513.4 508.5L512.4 508.8L511.4 509.1L510.4 509.4L509.4 509.6L508.4 509.8L507.4 509.8L506.4 509.7L505.4 509.4L504.4 509.0L503.4 508.5L502.4 507.9L501.4 507.1L500.4 506.2L499.4 505.2L498.4 504.2L497.4 503.0L496.4 501.6L495.4 500.1L494.4 498.3L493.4 496.3L492.4 494.0L491.4 491.3L490.4 488.2L489.4 484.9L488.4 481.4L487.4 477.8L486.4 474.0L485.4 470.1L484.4 466.2L483.4 462.0L482.4 457.6L481.4 453.1L480.4 448.6L479.4 444.1L478.4 439.5L477.4 434.9L476.4 430.0L475.4 422.9L474.4 416.3L473.4 412.1L472.4 409.2L471.4 405.6L470.4 399.4L469.4 391.9L468.4 383.9L467.4 375.6L466.4 367.2L465.4 358.9L464.4 350.6L463.4 342.2L462.4 334.2L461.4 326.9L460.4 320.2L459.4 313.5L458.4 306.9L457.4 300.2L456.4 293.5L455.4 286.8L454.4 276.7L453.4 263.2L452.4 246.9L451.4 228.9L450.4 217.0L449.4 207.2L448.4 198.7L447.4 192.1L446.4 186.7L445.4 182.3L444.4 179.4L443.4 177.9L442.4 177.5L441.4 177.8L440.4 178.5L439.4 179.9L438.4 181.6L437.4 183.5L436.4 185.7L435.4 188.1L434.4 190.7L433.4 194.0L432.4 198.6L431.4 205.0L430.4 212.7L429.4 221.1L428.4 229.5L427.4 237.2L426.4 244.3L425.4 250.8L424.4 256.1L423.4 260.7L422.4 265.6L421.4 271.7L420.4 278.5L419.4 285.0L418.4 291.1L417.4 297.1L416.4 302.9L415.4 308.5L414.4 313.7L413.4 318.3L412.4 321.6L411.4 324.3L410.4 328.0L409.4 333.2L408.4 338.5L407.4 343.8L406.4 349.2L405.4 354.5L404.4 359.8L403.4 364.6L402.4 368.5L401.4 371.7L400.4 374.7L399.4 377.4L398.4 379.6L397.4 381.3L396.4 382.8L395.4 384.3L394.4 385.8L393.4 387.3L392.4 388.8L391.4 390.3L390.4 391.8L389.4 393.5L388.4 395.8L387.4 398.5L386.4 401.6L385.4 404.8L384.4 408.2L383.4 411.9L382.4 415.7L381.4 419.7L380.4 423.8L379.4 428.5L378.4 433.3L377.4 437.5L376.4 439.6L375.4 441.0L374.4 443.0L373.4 447.2L372.4 454.1L371.4 461.1L370.4 468.1L369.4 475.1L368.4 481.3L367.4 486.0L366.4 488.3L365.4 487.8L364.4 485.3L363.4 481.1L362.4 475.8L361.4 469.5L360.4 462.5L359.4 455.1L358.4 446.9L357.4 439.5L356.4 434.0L355.4 429.6L354.4 426.1L353.4 422.7L352.4 419.0L351.4 414.4L350.4 408.4L349.4 400.5L348.4 390.9L347.4 379.9L346.4 368.4L345.4 356.8L344.4 345.3L343.4 333.8L342.4 322.2L341.4 311.4L340.4 300.9L339.4 290.0L338.4 278.2L337.4 266.7L336.4 256.1L335.4 246.2L334.4 237.0L333.4 228.6L332.4 221.1L331.4 214.3L330.4 208.3L329.4 202.7L328.4 197.4L327.4 192.4L326.4 188.2L325.4 185.1L324.4 182.7L323.4 181.0L322.4 180.2L321.4 180.4L320.4 181.7L319.4 183.9L318.4 186.8L317.4 190.5L316.4 195.1L315.4 200.3L314.4 205.9L313.4 211.1L312.4 216.2L311.4 224.8L310.4 238.6L309.4 254.5L308.4 271.1L307.4 286.8L306.4 301.8L305.4 316.8L304.4 331.8L303.4 346.8L302.4 360.9L301.4 374.0L300.4 386.5L299.4 398.5L298.4 409.4L297.4 418.7L296.4 427.5L295.4 430.7L294.4 428.5L293.4 424.7L292.4 420.5L291.4 416.3L290.4 412.8L289.4 409.8L288.4 406.7L287.4 403.3L286.4 399.6L285.4 395.3L284.4 390.1L283.4 383.3L282.4 375.4L281.4 366.9L280.4 358.2L279.4 349.5L278.4 341.4L277.4 334.0L276.4 325.7L275.4 315.7L274.4 305.7L273.4 295.7L272.4 285.7L271.4 275.7L270.4 265.7L269.4 255.7L268.4 245.7L267.4 235.7L266.4 224.4L265.4 204.6L264.4 193.2L263.4 183.7L262.4 175.4L261.4 167.1L260.4 158.1L259.4 148.9L258.4 141.8L257.4 134.8L256.4 127.8L255.4 120.8L254.4 114.4L253.4 108.7L252.4 103.4L251.4 99.0L250.4 96.2L249.4 94.4L248.4 93.2L247.4 93.2L246.4 95.0L245.4 98.0L244.4 102.1L243.4 108.8L242.4 118.6L241.4 131.0L240.4 143.3L239.4 155.3L238.4 167.3L237.4 179.3L236.4 191.3L235.4 203.3L234.4 219.5L233.4 240.0L232.4 250.0L231.4 260.0L230.4 270.0L229.4 280.0L228.4 290.0L227.4 300.0L226.4 310.0L225.4 320.0L224.4 329.5L223.4 337.2L222.4 344.7L221.4 353.2L220.4 362.0L219.4 370.6L218.4 378.2L217.4 384.8L216.4 390.8L215.4 396.9L214.4 403.6L213.4 411.5L212.4 420.8L211.4 430.2L210.4 438.3L209.4 445.7L208.4 454.3L207.4 464.3L206.4 474.3L205.4 484.3L204.4 494.3L203.4 504.2L202.4 513.7L201.4 522.5L200.4 530.6L199.4 538.5L198.4 546.1L197.4 552.6L196.4 553.2L195.4 547.1L194.4 539.6L193.4 531.3L192.4 523.0L191.4 514.4L190.4 505.6L189.4 496.4L188.4 486.4L187.4 476.4L186.4 466.4L185.4 456.4L184.4 446.4L183.4 436.4L182.4 426.4L181.4 416.4L180.4 406.4L179.4 396.4L178.4 386.4L177.4 376.4L176.4 366.4L175.4 356.4L174.4 346.4L173.4 334.1L172.4 317.8L171.4 301.3L170.4 288.4L169.4 278.5L168.4 268.5L167.4 257.6L166.4 246.6L165.4 235.9L164.4 225.4L163.4 215.5L162.4 205.1L161.4 194.2L160.4 185.5L159.4 177.7L158.4 170.2L157.4 162.7L156.4 155.2L155.4 147.9L154.4 141.1L153.4 135.1L152.4 129.4L151.4 124.3L150.4 120.2L149.4 116.8L148.4 114.0L147.4 112.5L146.4 112.3L145.4 113.2L144.4 115.3L143.4 118.6L142.4 123.3L141.4 128.8L140.4 134.7L139.4 141.0L138.4 147.7L137.4 155.1L136.4 162.4L135.4 169.6L134.4 177.0L133.4 184.6L132.4 192.9L131.4 205.0L130.4 217.6L129.4 230.1L128.4 242.6L127.4 255.1L126.4 267.6L125.4 280.1L124.4 292.4L123.4 302.2L122.4 308.9L121.4 313.8L120.4 317.9L119.4 322.0L118.4 323.7L117.4 325.2L116.4 330.5L115.4 339.2L114.4 347.8L113.4 356.1L112.4 363.9L111.4 371.5L110.4 378.9L109.4 385.5L108.4 390.4L107.4 393.5L106.4 393.3L105.4 390.7L104.4 387.2L103.4 382.5L102.4 376.8L101.4 370.8L100.4 364.8L99.4 358.9L98.4 353.4L97.4 351.0L96.4 352.3L95.4 355.2L94.4 357.5L93.4 358.5L92.4 354.2L91.4 348.9L90.4 343.6L89.4 338.2L88.4 333.0L87.4 327.8L86.4 322.7L85.4 317.9L84.4 314.9L83.4 313.7L82.4 313.0L81.4 312.6L80.4 312.2L79.4 311.9L78.4 311.9L77.4 312.3L76.4 312.7L75.4 313.2L74.4 313.7L73.4 314.3Z"/></clipPath>
<use href="#hl" clip-path="url(#cp4)"/>
<path d="M73.4 272.3L74.4 275.6L75.4 278.8L76.4 282.0L77.4 285.1L78.4 288.1L79.4 290.9L80.4 293.3L81.4 295.2L82.4 296.8L83.4 298.1L84.4 299.2L85.4 299.6L86.4 299.8L87.4 300.0L88.4 300.2L89.4 300.4L90.4 300.6L91.4 300.8L92.4 301.0L93.4 301.5L94.4 303.0L95.4 303.2L96.4 301.3L97.4 297.9L98.4 292.2L99.4 285.7L100.4 279.0L101.4 272.3L102.4 265.7L103.4 259.0L104.4 252.8L105.4 246.8L106.4 239.6L107.4 230.2L108.4 219.8L109.4 209.8L110.4 200.4L111.4 191.2L112.4 182.4L113.4 174.0L114.4 168.5L115.4 164.5L116.4 158.2L117.4 148.4L118.4 138.4L119.4 128.4L120.4 118.4L121.4 108.4L122.4 98.4L123.4 89.2L124.4 82.1L125.4 76.3L126.4 71.6L127.4 67.6L128.4 64.8L129.4 62.9L130.4 61.5L131.4 60.6L132.4 59.9L133.4 59.4L134.4 59.2L135.4 59.2L136.4 59.5L137.4 60.2L138.4 61.5L139.4 63.0L140.4 64.6L141.4 66.1L142.4 67.5L143.4 68.9L144.4 70.2L145.4 71.1L146.4 71.7L147.4 71.8L148.4 71.7L149.4 71.5L150.4 71.2L151.4 70.8L152.4 70.5L153.4 70.2L154.4 70.3L155.4 70.5L156.4 70.9L157.4 71.4L158.4 72.0L159.4 72.6L160.4 73.6L161.4 74.7L162.4 75.5L163.4 75.9L164.4 75.7L165.4 75.4L166.4 74.9L167.4 74.4L168.4 73.9L169.4 73.4L170.4 73.0L171.4 73.1L172.4 73.7L173.4 74.4L174.4 75.5L175.4 77.1L176.4 79.2L177.4 82.0L178.4 85.5L179.4 89.8L180.4 94.4L181.4 99.4L182.4 104.6L183.4 109.9L184.4 115.4L185.4 121.1L186.4 127.1L187.4 133.6L188.4 140.3L189.4 147.0L190.4 153.6L191.4 160.3L192.4 167.0L193.4 173.6L194.4 180.3L195.4 187.0L196.4 193.8L197.4 201.2L198.4 208.8L199.4 218.2L200.4 227.1L201.4 233.1L202.4 239.1L203.4 245.1L204.4 251.1L205.4 257.1L206.4 263.1L207.4 269.1L208.4 275.1L209.4 281.0L210.4 286.4L211.4 291.5L212.4 296.6L213.4 301.3L214.4 305.7L215.4 309.7L216.4 312.5L217.4 314.2L218.4 314.1L219.4 310.6L220.4 303.6L221.4 295.9L222.4 288.0L223.4 279.7L224.4 270.6L225.4 261.2L226.4 252.8L227.4 244.6L228.4 233.4L229.4 212.6L230.4 188.1L231.4 167.7L232.4 155.2L233.4 143.2L234.4 130.7L235.4 118.4L236.4 107.3L237.4 97.2L238.4 88.4L239.4 81.2L240.4 74.3L241.4 66.8L242.4 59.5L243.4 53.3L244.4 48.5L245.4 45.3L246.4 43.5L247.4 42.2L248.4 41.4L249.4 41.3L250.4 41.6L251.4 42.2L252.4 43.3L253.4 44.8L254.4 46.5L255.4 48.9L256.4 53.8L257.4 61.7L258.4 70.1L259.4 79.4L260.4 89.4L261.4 99.4L262.4 109.4L263.4 118.2L264.4 126.9L265.4 135.6L266.4 142.9L267.4 150.1L268.4 160.0L269.4 170.0L270.4 179.7L271.4 189.9L272.4 201.6L273.4 214.0L274.4 226.2L275.4 238.6L276.4 250.1L277.4 260.1L278.4 269.9L279.4 279.9L280.4 289.9L281.4 299.9L282.4 310.8L283.4 323.7L284.4 334.3L285.4 343.6L286.4 351.6L287.4 356.8L288.4 357.7L289.4 355.1L290.4 350.3L291.4 344.7L292.4 338.2L293.4 330.8L294.4 321.7L295.4 311.7L296.4 301.7L297.4 291.7L298.4 280.8L299.4 262.5L300.4 239.2L301.4 215.4L302.4 195.5L303.4 181.9L304.4 170.2L305.4 159.7L306.4 149.9L307.4 141.9L308.4 135.7L309.4 130.7L310.4 127.0L311.4 124.4L312.4 122.6L313.4 121.6L314.4 121.4L315.4 122.0L316.4 123.2L317.4 125.2L318.4 127.6L319.4 130.5L320.4 134.1L321.4 138.1L322.4 142.3L323.4 146.4L324.4 150.3L325.4 153.6L326.4 156.7L327.4 160.4L328.4 165.3L329.4 170.4L330.4 175.1L331.4 179.7L332.4 184.4L333.4 189.5L334.4 195.0L335.4 200.8L336.4 206.8L337.4 212.8L338.4 218.9L339.4 224.9L340.4 231.0L341.4 237.3L342.4 244.9L343.4 255.1L344.4 266.6L345.4 278.1L346.4 289.7L347.4 301.2L348.4 312.7L349.4 324.3L350.4 335.2L351.4 345.7L352.4 356.6L353.4 368.3L354.4 379.8L355.4 390.1L356.4 399.1L357.4 406.8L358.4 413.3L359.4 418.6L360.4 422.7L361.4 426.2L362.4 429.2L363.4 432.1L364.4 434.9L365.4 436.6L366.4 436.4L367.4 434.6L368.4 431.9L369.4 428.9L370.4 426.0L371.4 422.9L372.4 419.8L373.4 416.7L374.4 413.5L375.4 410.3L376.4 407.1L377.4 403.7L378.4 400.2L379.4 396.4L380.4 392.4L381.4 388.1L382.4 383.6L383.4 378.5L384.4 373.0L385.4 367.7L386.4 362.7L387.4 358.0L388.4 353.7L389.4 350.0L390.4 346.8L391.4 344.0L392.4 341.3L393.4 338.8L394.4 336.4L395.4 334.2L396.4 332.3L397.4 330.4L398.4 328.3L399.4 326.2L400.4 324.0L401.4 321.5L402.4 318.5L403.4 315.2L404.4 311.9L405.4 308.5L406.4 305.3L407.4 302.0L408.4 298.4L409.4 294.5L410.4 290.4L411.4 286.4L412.4 282.4L413.4 278.4L414.4 274.4L415.4 270.4L416.4 266.4L417.4 261.7L418.4 255.0L419.4 247.9L420.4 240.9L421.4 233.7L422.4 226.1L423.4 218.4L424.4 210.7L425.4 203.0L426.4 195.3L427.4 187.9L428.4 181.4L429.4 175.1L430.4 169.0L431.4 163.1L432.4 157.5L433.4 152.5L434.4 148.3L435.4 144.9L436.4 142.1L437.4 139.9L438.4 138.0L439.4 136.4L440.4 135.5L441.4 135.2L442.4 135.4L443.4 135.8L444.4 136.7L445.4 138.2L446.4 140.9L447.4 145.2L448.4 151.1L449.4 158.2L450.4 166.0L451.4 175.8L452.4 185.8L453.4 195.8L454.4 205.8L455.4 215.8L456.4 225.8L457.4 237.7L458.4 251.8L459.4 264.6L460.4 276.6L461.4 286.3L462.4 293.1L463.4 299.8L464.4 306.4L465.4 313.1L466.4 319.8L467.4 326.5L468.4 333.7L469.4 341.7L470.4 350.0L471.4 358.4L472.4 366.7L473.4 375.0L474.4 383.4L475.4 391.2L476.4 398.7L477.4 407.0L478.4 417.3L479.4 427.6L480.4 435.9L481.4 440.4L482.4 443.1L483.4 445.5L484.4 447.8L485.4 450.2L486.4 452.6L487.4 455.1L488.4 457.5L489.4 459.8L490.4 462.1L491.4 464.1L492.4 465.9L493.4 467.5L494.4 469.0L495.4 470.3L496.4 471.6L497.4 472.8L498.4 473.9L499.4 474.9L500.4 475.9L501.4 476.9L502.4 477.8L503.4 478.6L504.4 479.4L505.4 480.1L506.4 480.7L507.4 481.3L508.4 481.7L509.4 482.0L510.4 482.2L511.4 482.2L512.4 482.2L513.4 482.1L514.4 481.9L515.4 481.7L516.4 481.5L517.4 481.2L518.4 481.0L519.4 480.7L520.4 480.3L521.4 480.0L522.4 479.6L523.4 479.1L524.4 478.6L525.4 477.9L526.4 477.0L527.4 475.8L528.4 474.5L529.4 473.0L530.4 471.4L531.4 469.9L532.4 468.2L533.4 466.5L534.4 464.9L535.4 463.7L536.4 462.9L537.4 462.1L538.4 461.8L539.4 461.6L540.4 461.2L541.4 457.1L542.4 446.6L543.4 437.5L544.4 428.7L545.4 419.8L546.4 410.7L547.4 401.7L548.4 393.3L549.4 385.8L550.4 378.2L551.4 370.2L552.4 362.2L553.4 354.4L554.4 346.8L555.4 339.5L556.4 333.1L557.4 327.3L558.4 322.1L559.4 317.4L560.4 313.3L561.4 309.6L562.4 306.0L563.4 302.7L564.4 299.6L565.4 296.8L566.4 293.9L567.4 290.6L568.4 287.1L569.4 283.6L570.4 280.1L571.4 276.5L572.4 272.8L573.4 269.2L574.4 265.6L575.4 262.1L576.4 258.4L577.4 254.3L578.4 249.0L579.4 241.6L580.4 233.4L581.4 225.4L582.4 217.3L583.4 209.4L584.4 201.9L585.4 194.7L586.4 187.3L587.4 178.9L588.4 170.5L589.4 163.4L590.4 157.4L591.4 152.2L592.4 147.7L593.4 144.0L594.4 141.1L595.4 139.3L596.4 139.0L597.4 139.8L598.4 141.4L599.4 143.4L600.4 145.5L601.4 148.3L602.4 151.6L603.4 155.0L604.4 158.3L605.4 161.6L606.4 165.0L607.4 168.3L608.4 171.1L609.4 173.6L610.4 176.0L611.4 178.1L612.4 180.0L613.4 181.5L614.4 182.7L615.4 183.7L616.4 184.3L617.4 184.8L618.4 185.1L619.4 185.4L620.4 185.4L621.4 185.4L622.4 185.2L623.4 184.9L624.4 184.5L625.4 183.9L626.4 183.1L627.4 182.3L628.4 181.4L629.4 180.7L630.4 180.1L631.4 179.7L632.4 179.4L633.4 179.4L634.4 180.3L635.4 182.2L636.4 184.7L637.4 187.7L638.4 191.1L639.4 194.7L640.4 198.5L641.4 202.1L642.4 205.5L643.4 208.8L644.4 212.0L645.4 214.8L646.4 217.3L647.4 219.6L648.4 221.2L649.4 222.1L650.4 222.4L651.4 221.0L652.4 217.9L653.4 213.2L654.4 207.4L655.4 200.5L656.4 193.9L657.4 189.0L658.4 185.2L659.4 181.1L660.4 175.4L661.4 167.1L662.4 159.6L663.4 153.1L664.4 147.3L665.4 142.4L666.4 138.2L667.4 134.5L668.4 131.3L669.4 128.4L670.4 126.1L671.4 124.4L672.4 123.1L673.4 122.3L674.4 121.9L675.4 121.8L676.4 122.1L677.4 122.9L678.4 124.1L679.4 125.8L680.4 128.4L681.4 131.8L682.4 136.1L683.4 141.3L684.4 147.1L685.4 153.5L686.4 160.4L687.4 167.8L688.4 176.4L689.4 185.6L690.4 194.8L691.4 203.9L692.4 213.1L693.4 222.0L694.4 230.2L695.4 238.8L696.4 248.1L697.4 257.4L698.4 266.5L699.4 275.4L700.4 284.3L701.4 292.8L702.4 299.0L703.4 303.5L704.4 308.0L705.4 310.7L706.4 308.6L707.4 304.2L708.4 299.6L709.4 294.6L710.4 289.1L711.4 282.0L712.4 273.2L713.4 264.8L714.4 256.8L715.4 248.8L716.4 240.8L717.4 232.9L718.4 225.9L719.4 219.3L720.4 213.2L721.4 208.0L722.4 208.2L723.4 209.7L724.4 210.8L725.4 211.9L726.4 212.8L727.4 213.5L728.4 214.1L729.4 214.8L730.4 215.4L731.4 216.1L732.4 216.7L733.4 217.2L734.4 217.7L735.4 217.8L736.4 217.5L737.4 216.9L738.4 216.3L739.4 215.6L740.4 214.7L741.4 213.8L741.4 247.4L740.4 247.5L739.4 247.4L738.4 247.2L737.4 246.7L736.4 246.1L735.4 245.4L734.4 244.7L733.4 244.0L732.4 243.3L731.4 242.7L730.4 242.2L729.4 241.7L728.4 241.3L727.4 241.4L726.4 242.7L725.4 245.7L724.4 251.3L723.4 258.5L722.4 266.4L721.4 275.2L720.4 285.9L719.4 293.9L718.4 298.1L717.4 300.2L716.4 301.2L715.4 309.7L714.4 318.4L713.4 327.1L712.4 335.2L711.4 343.2L710.4 351.2L709.4 358.1L708.4 363.2L707.4 365.4L706.4 363.7L705.4 360.1L704.4 355.6L703.4 350.6L702.4 345.6L701.4 340.6L700.4 335.6L699.4 331.1L698.4 327.0L697.4 322.7L696.4 318.3L695.4 313.9L694.4 309.5L693.4 305.1L692.4 300.8L691.4 297.8L690.4 295.0L689.4 289.3L688.4 282.0L687.4 274.7L686.4 267.3L685.4 260.0L684.4 252.7L683.4 245.4L682.4 238.6L681.4 232.2L680.4 225.9L679.4 219.9L678.4 214.1L677.4 208.4L676.4 203.0L675.4 198.0L674.4 193.7L673.4 189.9L672.4 186.7L671.4 184.0L670.4 182.0L669.4 180.9L668.4 180.7L667.4 181.5L666.4 183.2L665.4 185.5L664.4 188.5L663.4 192.7L662.4 197.6L661.4 203.3L660.4 209.3L659.4 215.6L658.4 222.1L657.4 228.9L656.4 236.9L655.4 245.2L654.4 253.5L653.4 261.9L652.4 270.2L651.4 278.3L650.4 286.3L649.4 294.3L648.4 302.3L647.4 308.9L646.4 314.0L645.4 317.5L644.4 318.3L643.4 316.3L642.4 313.0L641.4 308.4L640.4 303.5L639.4 298.4L638.4 293.1L637.4 287.8L636.4 282.4L635.4 277.1L634.4 271.8L633.4 266.4L632.4 261.1L631.4 255.8L630.4 250.5L629.4 245.7L628.4 241.2L627.4 236.9L626.4 232.9L625.4 229.0L624.4 225.4L623.4 222.0L622.4 218.9L621.4 215.8L620.4 213.0L619.4 210.6L618.4 209.0L617.4 207.8L616.4 206.6L615.4 205.4L614.4 204.2L613.4 203.0L612.4 201.8L611.4 200.6L610.4 199.4L609.4 198.2L608.4 197.1L607.4 196.4L606.4 196.0L605.4 195.8L604.4 195.8L603.4 196.0L602.4 196.3L601.4 196.8L600.4 197.5L599.4 198.5L598.4 199.9L597.4 201.8L596.4 204.3L595.4 207.4L594.4 210.8L593.4 214.6L592.4 218.9L591.4 223.5L590.4 228.3L589.4 233.4L588.4 239.2L587.4 245.3L586.4 251.2L585.4 256.8L584.4 261.5L583.4 265.5L582.4 269.2L581.4 272.7L580.4 276.1L579.4 279.4L578.4 282.7L577.4 286.0L576.4 289.2L575.4 292.3L574.4 295.2L573.4 298.0L572.4 300.7L571.4 303.4L570.4 306.1L569.4 308.6L568.4 311.3L567.4 314.2L566.4 317.8L565.4 321.9L564.4 325.9L563.4 330.0L562.4 335.0L561.4 341.6L560.4 348.2L559.4 354.9L558.4 361.6L557.4 368.3L556.4 376.0L555.4 384.6L554.4 395.0L553.4 404.3L552.4 411.0L551.4 416.9L550.4 424.0L549.4 433.5L548.4 443.5L547.4 453.5L546.4 463.5L545.4 472.2L544.4 477.0L543.4 479.7L542.4 482.1L541.4 484.7L540.4 487.1L539.4 489.1L538.4 490.5L537.4 491.9L536.4 493.1L535.4 494.3L534.4 495.3L533.4 496.4L532.4 497.4L531.4 498.4L530.4 499.3L529.4 500.2L528.4 501.1L527.4 501.9L526.4 502.6L525.4 503.2L524.4 503.8L523.4 504.3L522.4 504.8L521.4 505.3L520.4 505.7L519.4 506.2L518.4 506.6L517.4 507.0L516.4 507.4L515.4 507.8L514.4 508.2L513.4 508.5L512.4 508.8L511.4 509.1L510.4 509.4L509.4 509.6L508.4 509.8L507.4 509.8L506.4 509.7L505.4 509.4L504.4 509.0L503.4 508.5L502.4 507.9L501.4 507.1L500.4 506.2L499.4 505.2L498.4 504.2L497.4 503.0L496.4 501.6L495.4 500.1L494.4 498.3L493.4 496.3L492.4 494.0L491.4 491.3L490.4 488.2L489.4 484.9L488.4 481.4L487.4 477.8L486.4 474.0L485.4 470.1L484.4 466.2L483.4 462.0L482.4 457.6L481.4 453.1L480.4 448.6L479.4 444.1L478.4 439.5L477.4 434.9L476.4 430.0L475.4 422.9L474.4 416.3L473.4 412.1L472.4 409.2L471.4 405.6L470.4 399.4L469.4 391.9L468.4 383.9L467.4 375.6L466.4 367.2L465.4 358.9L464.4 350.6L463.4 342.2L462.4 334.2L461.4 326.9L460.4 320.2L459.4 313.5L458.4 306.9L457.4 300.2L456.4 293.5L455.4 286.8L454.4 276.7L453.4 263.2L452.4 246.9L451.4 228.9L450.4 217.0L449.4 207.2L448.4 198.7L447.4 192.1L446.4 186.7L445.4 182.3L444.4 179.4L443.4 177.9L442.4 177.5L441.4 177.8L440.4 178.5L439.4 179.9L438.4 181.6L437.4 183.5L436.4 185.7L435.4 188.1L434.4 190.7L433.4 194.0L432.4 198.6L431.4 205.0L430.4 212.7L429.4 221.1L428.4 229.5L427.4 237.2L426.4 244.3L425.4 250.8L424.4 256.1L423.4 260.7L422.4 265.6L421.4 271.7L420.4 278.5L419.4 285.0L418.4 291.1L417.4 297.1L416.4 302.9L415.4 308.5L414.4 313.7L413.4 318.3L412.4 321.6L411.4 324.3L410.4 328.0L409.4 333.2L408.4 338.5L407.4 343.8L406.4 349.2L405.4 354.5L404.4 359.8L403.4 364.6L402.4 368.5L401.4 371.7L400.4 374.7L399.4 377.4L398.4 379.6L397.4 381.3L396.4 382.8L395.4 384.3L394.4 385.8L393.4 387.3L392.4 388.8L391.4 390.3L390.4 391.8L389.4 393.5L388.4 395.8L387.4 398.5L386.4 401.6L385.4 404.8L384.4 408.2L383.4 411.9L382.4 415.7L381.4 419.7L380.4 423.8L379.4 428.5L378.4 433.3L377.4 437.5L376.4 439.6L375.4 441.0L374.4 443.0L373.4 447.2L372.4 454.1L371.4 461.1L370.4 468.1L369.4 475.1L368.4 481.3L367.4 486.0L366.4 488.3L365.4 487.8L364.4 485.3L363.4 481.1L362.4 475.8L361.4 469.5L360.4 462.5L359.4 455.1L358.4 446.9L357.4 439.5L356.4 434.0L355.4 429.6L354.4 426.1L353.4 422.7L352.4 419.0L351.4 414.4L350.4 408.4L349.4 400.5L348.4 390.9L347.4 379.9L346.4 368.4L345.4 356.8L344.4 345.3L343.4 333.8L342.4 322.2L341.4 311.4L340.4 300.9L339.4 290.0L338.4 278.2L337.4 266.7L336.4 256.1L335.4 246.2L334.4 237.0L333.4 228.6L332.4 221.1L331.4 214.3L330.4 208.3L329.4 202.7L328.4 197.4L327.4 192.4L326.4 188.2L325.4 185.1L324.4 182.7L323.4 181.0L322.4 180.2L321.4 180.4L320.4 181.7L319.4 183.9L318.4 186.8L317.4 190.5L316.4 195.1L315.4 200.3L314.4 205.9L313.4 211.1L312.4 216.2L311.4 224.8L310.4 238.6L309.4 254.5L308.4 271.1L307.4 286.8L306.4 301.8L305.4 316.8L304.4 331.8L303.4 346.8L302.4 360.9L301.4 374.0L300.4 386.5L299.4 398.5L298.4 409.4L297.4 418.7L296.4 427.5L295.4 430.7L294.4 428.5L293.4 424.7L292.4 420.5L291.4 416.3L290.4 412.8L289.4 409.8L288.4 406.7L287.4 403.3L286.4 399.6L285.4 395.3L284.4 390.1L283.4 383.3L282.4 375.4L281.4 366.9L280.4 358.2L279.4 349.5L278.4 341.4L277.4 334.0L276.4 325.7L275.4 315.7L274.4 305.7L273.4 295.7L272.4 285.7L271.4 275.7L270.4 265.7L269.4 255.7L268.4 245.7L267.4 235.7L266.4 224.4L265.4 204.6L264.4 193.2L263.4 183.7L262.4 175.4L261.4 167.1L260.4 158.1L259.4 148.9L258.4 141.8L257.4 134.8L256.4 127.8L255.4 120.8L254.4 114.4L253.4 108.7L252.4 103.4L251.4 99.0L250.4 96.2L249.4 94.4L248.4 93.2L247.4 93.2L246.4 95.0L245.4 98.0L244.4 102.1L243.4 108.8L242.4 118.6L241.4 131.0L240.4 143.3L239.4 155.3L238.4 167.3L237.4 179.3L236.4 191.3L235.4 203.3L234.4 219.5L233.4 240.0L232.4 250.0L231.4 260.0L230.4 270.0L229.4 280.0L228.4 290.0L227.4 300.0L226.4 310.0L225.4 320.0L224.4 329.5L223.4 337.2L222.4 344.7L221.4 353.2L220.4 362.0L219.4 370.6L218.4 378.2L217.4 384.8L216.4 390.8L215.4 396.9L214.4 403.6L213.4 411.5L212.4 420.8L211.4 430.2L210.4 438.3L209.4 445.7L208.4 454.3L207.4 464.3L206.4 474.3L205.4 484.3L204.4 494.3L203.4 504.2L202.4 513.7L201.4 522.5L200.4 530.6L199.4 538.5L198.4 546.1L197.4 552.6L196.4 553.2L195.4 547.1L194.4 539.6L193.4 531.3L192.4 523.0L191.4 514.4L190.4 505.6L189.4 496.4L188.4 486.4L187.4 476.4L186.4 466.4L185.4 456.4L184.4 446.4L183.4 436.4L182.4 426.4L181.4 416.4L180.4 406.4L179.4 396.4L178.4 386.4L177.4 376.4L176.4 366.4L175.4 356.4L174.4 346.4L173.4 334.1L172.4 317.8L171.4 301.3L170.4 288.4L169.4 278.5L168.4 268.5L167.4 257.6L166.4 246.6L165.4 235.9L164.4 225.4L163.4 215.5L162.4 205.1L161.4 194.2L160.4 185.5L159.4 177.7L158.4 170.2L157.4 162.7L156.4 155.2L155.4 147.9L154.4 141.1L153.4 135.1L152.4 129.4L151.4 124.3L150.4 120.2L149.4 116.8L148.4 114.0L147.4 112.5L146.4 112.3L145.4 113.2L144.4 115.3L143.4 118.6L142.4 123.3L141.4 128.8L140.4 134.7L139.4 141.0L138.4 147.7L137.4 155.1L136.4 162.4L135.4 169.6L134.4 177.0L133.4 184.6L132.4 192.9L131.4 205.0L130.4 217.6L129.4 230.1L128.4 242.6L127.4 255.1L126.4 267.6L125.4 280.1L124.4 292.4L123.4 302.2L122.4 308.9L121.4 313.8L120.4 317.9L119.4 322.0L118.4 323.7L117.4 325.2L116.4 330.5L115.4 339.2L114.4 347.8L113.4 356.1L112.4 363.9L111.4 371.5L110.4 378.9L109.4 385.5L108.4 390.4L107.4 393.5L106.4 393.3L105.4 390.7L104.4 387.2L103.4 382.5L102.4 376.8L101.4 370.8L100.4 364.8L99.4 358.9L98.4 353.4L97.4 351.0L96.4 352.3L95.4 355.2L94.4 357.5L93.4 358.5L92.4 354.2L91.4 348.9L90.4 343.6L89.4 338.2L88.4 333.0L87.4 327.8L86.4 322.7L85.4 317.9L84.4 314.9L83.4 313.7L82.4 313.0L81.4 312.6L80.4 312.2L79.4 311.9L78.4 311.9L77.4 312.3L76.4 312.7L75.4 313.2L74.4 313.7L73.4 314.3Z" fill="none" stroke="#9c2020" stroke-width="1.15" stroke-linejoin="round"/>
<path d="M73.4 293.6L74.4 294.6L75.4 295.7L76.4 296.9L77.4 298.1L78.4 299.4L79.4 300.9L80.4 302.5L81.4 304.4L82.4 306.4L83.4 308.5L84.4 310.5L85.4 312.7L86.4 314.9L87.4 317.3L88.4 319.6L89.4 321.9L90.4 324.3L91.4 326.7L92.4 329.1L93.4 330.9L94.4 331.7L95.4 330.9L96.4 329.1L97.4 327.0L98.4 325.1L99.4 323.2L100.4 322.0L101.4 321.6L102.4 321.4L103.4 321.2L104.4 321.0L105.4 320.7L106.4 319.4L107.4 316.6L108.4 311.7L109.4 306.1L110.4 300.3L111.4 294.0L112.4 286.8L113.4 279.3L114.4 271.8L115.4 264.4L116.4 257.0L117.4 249.6L118.4 241.6L119.4 233.5L120.4 225.6L121.4 218.0L122.4 210.3L123.4 201.3L124.4 190.6L125.4 179.4L126.4 168.5L127.4 159.0L128.4 151.3L129.4 145.0L130.4 139.6L131.4 134.3L132.4 129.3L133.4 124.7L134.4 120.4L135.4 116.6L136.4 113.1L137.4 110.0L138.4 107.0L139.4 104.2L140.4 101.7L141.4 99.4L142.4 97.5L143.4 95.8L144.4 94.3L145.4 93.1L146.4 92.5L147.4 92.5L148.4 93.2L149.4 94.4L150.4 95.8L151.4 97.4L152.4 99.3L153.4 101.4L154.4 103.7L155.4 106.2L156.4 109.0L157.4 111.9L158.4 115.1L159.4 118.6L160.4 122.2L161.4 126.0L162.4 129.9L163.4 133.9L164.4 138.0L165.4 142.0L166.4 146.3L167.4 150.8L168.4 156.0L169.4 162.2L170.4 169.1L171.4 176.7L172.4 184.5L173.4 192.3L174.4 200.2L175.4 208.1L176.4 216.0L177.4 223.9L178.4 231.9L179.4 239.9L180.4 247.9L181.4 255.9L182.4 263.9L183.4 271.9L184.4 279.9L185.4 287.9L186.4 295.9L187.4 303.9L188.4 311.9L189.4 319.9L190.4 328.3L191.4 337.0L192.4 345.6L193.4 353.9L194.4 362.2L195.4 370.3L196.4 378.1L197.4 383.3L198.4 385.9L199.4 387.4L200.4 387.8L201.4 387.4L202.4 386.9L203.4 386.1L204.4 385.0L205.4 383.8L206.4 382.5L207.4 380.9L208.4 378.9L209.4 376.6L210.4 374.1L211.4 371.4L212.4 368.3L213.4 364.7L214.4 360.6L215.4 355.9L216.4 350.6L217.4 344.9L218.4 338.8L219.4 332.5L220.4 325.9L221.4 318.7L222.4 311.1L223.4 303.0L224.4 294.4L225.4 285.2L226.4 275.8L227.4 266.1L228.4 256.0L229.4 245.4L230.4 233.2L231.4 217.7L232.4 196.8L233.4 175.2L234.4 157.8L235.4 145.7L236.4 133.7L237.4 121.2L238.4 109.0L239.4 98.0L240.4 89.9L241.4 85.5L242.4 82.5L243.4 80.0L244.4 77.8L245.4 76.0L246.4 74.3L247.4 72.8L248.4 71.5L249.4 70.7L250.4 70.9L251.4 71.9L252.4 73.8L253.4 76.9L254.4 81.4L255.4 86.6L256.4 92.7L257.4 99.4L258.4 106.9L259.4 114.9L260.4 122.9L261.4 130.9L262.4 138.9L263.4 146.9L264.4 155.0L265.4 164.1L266.4 175.2L267.4 190.1L268.4 206.5L269.4 221.9L270.4 234.3L271.4 245.3L272.4 255.4L273.4 265.4L274.4 275.4L275.4 285.4L276.4 295.4L277.4 305.4L278.4 315.4L279.4 325.4L280.4 335.4L281.4 345.3L282.4 353.1L283.4 359.7L284.4 366.2L285.4 371.7L286.4 375.9L287.4 379.0L288.4 381.3L289.4 383.0L290.4 384.2L291.4 384.7L292.4 384.5L293.4 383.2L294.4 381.0L295.4 376.9L296.4 371.0L297.4 363.5L298.4 353.3L299.4 341.7L300.4 329.4L301.4 311.8L302.4 276.2L303.4 235.4L304.4 205.5L305.4 193.3L306.4 185.6L307.4 179.8L308.4 174.2L309.4 169.6L310.4 165.7L311.4 162.4L312.4 159.8L313.4 157.9L314.4 156.3L315.4 155.1L316.4 154.3L317.4 153.8L318.4 153.6L319.4 153.7L320.4 154.3L321.4 155.2L322.4 156.5L323.4 158.3L324.4 160.8L325.4 164.0L326.4 167.6L327.4 171.8L328.4 176.3L329.4 180.9L330.4 185.8L331.4 190.9L332.4 196.2L333.4 201.8L334.4 207.8L335.4 214.6L336.4 221.8L337.4 229.3L338.4 237.3L339.4 246.3L340.4 256.9L341.4 268.4L342.4 280.0L343.4 291.5L344.4 303.0L345.4 314.6L346.4 324.8L347.4 334.1L348.4 344.8L349.4 357.4L350.4 370.0L351.4 381.8L352.4 393.3L353.4 404.4L354.4 414.7L355.4 424.2L356.4 432.9L357.4 440.2L358.4 446.3L359.4 451.5L360.4 455.9L361.4 459.4L362.4 462.0L363.4 463.8L364.4 464.9L365.4 465.1L366.4 464.6L367.4 463.1L368.4 460.3L369.4 456.6L370.4 452.6L371.4 448.2L372.4 443.6L373.4 439.1L374.4 434.5L375.4 430.0L376.4 425.4L377.4 420.8L378.4 416.1L379.4 411.5L380.4 406.8L381.4 402.1L382.4 397.5L383.4 392.8L384.4 388.5L385.4 384.9L386.4 381.7L387.4 378.6L388.4 375.5L389.4 372.3L390.4 369.4L391.4 366.8L392.4 364.3L393.4 361.8L394.4 359.3L395.4 356.8L396.4 354.4L397.4 351.9L398.4 349.4L399.4 346.6L400.4 343.6L401.4 340.5L402.4 337.4L403.4 334.4L404.4 331.4L405.4 328.4L406.4 325.4L407.4 322.2L408.4 318.7L409.4 315.0L410.4 311.3L411.4 307.5L412.4 303.5L413.4 299.3L414.4 295.0L415.4 290.4L416.4 285.6L417.4 280.7L418.4 275.7L419.4 269.9L420.4 263.2L421.4 256.3L422.4 249.4L423.4 242.8L424.4 236.2L425.4 229.3L426.4 221.1L427.4 212.5L428.4 204.6L429.4 196.9L430.4 189.5L431.4 182.6L432.4 175.8L433.4 169.4L434.4 163.8L435.4 159.5L436.4 156.6L437.4 154.9L438.4 153.9L439.4 153.0L440.4 152.5L441.4 152.3L442.4 152.3L443.4 153.0L444.4 154.5L445.4 157.2L446.4 162.0L447.4 168.3L448.4 176.0L449.4 184.7L450.4 194.2L451.4 204.2L452.4 214.2L453.4 224.2L454.4 234.9L455.4 251.1L456.4 265.5L457.4 278.5L458.4 287.9L459.4 294.6L460.4 301.3L461.4 307.9L462.4 314.6L463.4 321.3L464.4 328.0L465.4 335.4L466.4 343.5L467.4 351.9L468.4 360.2L469.4 368.5L470.4 376.9L471.4 385.2L472.4 393.1L473.4 400.5L474.4 406.3L475.4 409.7L476.4 412.7L477.4 417.2L478.4 423.9L479.4 431.2L480.4 436.8L481.4 441.4L482.4 445.9L483.4 450.1L484.4 454.2L485.4 458.3L486.4 462.3L487.4 466.2L488.4 469.8L489.4 473.1L490.4 476.1L491.4 479.0L492.4 481.6L493.4 483.9L494.4 485.9L495.4 487.7L496.4 489.0L497.4 490.1L498.4 491.1L499.4 492.0L500.4 492.7L501.4 493.3L502.4 493.8L503.4 494.3L504.4 494.7L505.4 495.1L506.4 495.4L507.4 495.5L508.4 495.5L509.4 495.5L510.4 495.4L511.4 495.3L512.4 495.2L513.4 495.1L514.4 494.9L515.4 494.7L516.4 494.6L517.4 494.4L518.4 494.2L519.4 494.0L520.4 493.7L521.4 493.5L522.4 493.2L523.4 492.9L524.4 492.6L525.4 492.2L526.4 491.8L527.4 491.4L528.4 490.8L529.4 490.2L530.4 489.5L531.4 488.8L532.4 488.0L533.4 487.1L534.4 486.0L535.4 484.9L536.4 483.8L537.4 482.3L538.4 480.5L539.4 478.5L540.4 476.2L541.4 472.5L542.4 467.8L543.4 461.6L544.4 453.3L545.4 443.1L546.4 433.6L547.4 425.1L548.4 417.5L549.4 410.6L550.4 403.7L551.4 396.2L552.4 388.6L553.4 380.7L554.4 372.7L555.4 364.7L556.4 357.0L557.4 349.4L558.4 342.3L559.4 336.0L560.4 330.1L561.4 324.6L562.4 319.7L563.4 315.6L564.4 311.9L565.4 308.4L566.4 305.0L567.4 301.8L568.4 298.6L569.4 295.4L570.4 292.0L571.4 288.5L572.4 284.9L573.4 281.4L574.4 278.3L575.4 275.3L576.4 271.3L577.4 265.5L578.4 259.0L579.4 252.2L580.4 245.3L581.4 238.5L582.4 231.8L583.4 225.1L584.4 218.5L585.4 212.1L586.4 206.2L587.4 200.5L588.4 195.5L589.4 191.0L590.4 186.9L591.4 183.2L592.4 180.1L593.4 177.7L594.4 175.9L595.4 174.4L596.4 173.3L597.4 172.3L598.4 171.5L599.4 171.2L600.4 171.3L601.4 171.8L602.4 172.7L603.4 174.1L604.4 175.8L605.4 177.5L606.4 179.3L607.4 181.2L608.4 183.2L609.4 185.3L610.4 187.3L611.4 189.1L612.4 190.7L613.4 192.3L614.4 193.8L615.4 195.2L616.4 196.5L617.4 197.7L618.4 198.9L619.4 200.0L620.4 201.2L621.4 202.3L622.4 203.5L623.4 204.8L624.4 206.2L625.4 207.6L626.4 209.1L627.4 210.6L628.4 212.5L629.4 214.8L630.4 217.4L631.4 220.3L632.4 223.5L633.4 227.1L634.4 230.9L635.4 234.8L636.4 239.0L637.4 243.5L638.4 248.3L639.4 252.9L640.4 256.8L641.4 260.0L642.4 262.6L643.4 264.6L644.4 266.1L645.4 267.2L646.4 267.8L647.4 267.7L648.4 266.8L649.4 264.9L650.4 262.1L651.4 257.8L652.4 252.3L653.4 246.1L654.4 239.5L655.4 232.2L656.4 224.2L657.4 216.2L658.4 208.2L659.4 200.2L660.4 192.2L661.4 184.3L662.4 177.1L663.4 170.9L664.4 165.9L665.4 162.2L666.4 159.3L667.4 157.0L668.4 155.4L669.4 154.5L670.4 153.9L671.4 153.7L672.4 154.0L673.4 154.7L674.4 156.0L675.4 157.8L676.4 160.2L677.4 163.1L678.4 166.5L679.4 170.3L680.4 174.4L681.4 178.7L682.4 183.5L683.4 188.9L684.4 194.7L685.4 200.9L686.4 207.6L687.4 214.2L688.4 220.9L689.4 227.5L690.4 234.1L691.4 240.9L692.4 248.0L693.4 255.4L694.4 262.8L695.4 270.2L696.4 277.5L697.4 284.8L698.4 292.3L699.4 299.7L700.4 306.4L701.4 310.8L702.4 316.2L703.4 323.4L704.4 330.2L705.4 334.9L706.4 336.2L707.4 335.4L708.4 332.8L709.4 328.1L710.4 322.0L711.4 315.0L712.4 306.9L713.4 297.6L714.4 285.5L715.4 272.9L716.4 263.3L717.4 255.2L718.4 248.2L719.4 242.8L720.4 239.0L721.4 236.3L722.4 234.7L723.4 233.3L724.4 232.3L725.4 231.7L726.4 231.1L727.4 230.6L728.4 230.3L729.4 230.2L730.4 230.1L731.4 230.0L732.4 229.9L733.4 229.9L734.4 229.9L735.4 229.9L736.4 229.9L737.4 229.9L738.4 229.9L739.4 230.0L740.4 230.1L741.4 230.2L742.4 230.3L742.7 230.3" fill="none" stroke="#ff0000" stroke-width="6.2" stroke-linecap="round" stroke-linejoin="round"/>
<circle cx="146.4" cy="90.9" r="7.9" fill="#0000ff" stroke="#000" stroke-width="1"/>
<circle cx="238.9" cy="105.0" r="7.9" fill="#0000ff" stroke="#000" stroke-width="1"/>
<circle cx="249.0" cy="68.6" r="7.9" fill="#0000ff" stroke="#000" stroke-width="1"/>
<circle cx="243.7" cy="83.3" r="7.9" fill="#0000ff" stroke="#000" stroke-width="1"/>
<circle cx="264.1" cy="144.2" r="7.9" fill="#0000ff" stroke="#000" stroke-width="1"/>
<circle cx="268.2" cy="189.9" r="7.9" fill="#0000ff" stroke="#000" stroke-width="1"/>
<circle cx="267.7" cy="182.1" r="7.9" fill="#0000ff" stroke="#000" stroke-width="1"/>
<circle cx="323.0" cy="141.6" r="7.9" fill="#0000ff" stroke="#000" stroke-width="1"/>
<circle cx="333.1" cy="190.9" r="7.9" fill="#0000ff" stroke="#000" stroke-width="1"/>
<circle cx="335.1" cy="221.7" r="7.9" fill="#0000ff" stroke="#000" stroke-width="1"/>
<circle cx="83.0" cy="305.8" r="7.9" fill="#0000ff" stroke="#000" stroke-width="1"/>
<circle cx="219.4" cy="355.8" r="7.9" fill="#0000ff" stroke="#000" stroke-width="1"/>
<circle cx="277.5" cy="329.5" r="7.9" fill="#0000ff" stroke="#000" stroke-width="1"/>
<circle cx="282.1" cy="370.0" r="7.9" fill="#0000ff" stroke="#000" stroke-width="1"/>
<circle cx="288.1" cy="404.1" r="7.9" fill="#0000ff" stroke="#000" stroke-width="1"/>
<circle cx="355.6" cy="431.1" r="7.9" fill="#0000ff" stroke="#000" stroke-width="1"/>
<circle cx="373.5" cy="443.2" r="7.9" fill="#0000ff" stroke="#000" stroke-width="1"/>
<circle cx="379.9" cy="424.0" r="7.9" fill="#0000ff" stroke="#000" stroke-width="1"/>
<circle cx="385.4" cy="393.2" r="7.9" fill="#0000ff" stroke="#000" stroke-width="1"/>
<circle cx="384.4" cy="397.2" r="7.9" fill="#0000ff" stroke="#000" stroke-width="1"/>
<circle cx="413.0" cy="317.9" r="7.9" fill="#0000ff" stroke="#000" stroke-width="1"/>
<circle cx="423.5" cy="268.2" r="7.9" fill="#0000ff" stroke="#000" stroke-width="1"/>
<circle cx="425.3" cy="251.3" r="7.9" fill="#0000ff" stroke="#000" stroke-width="1"/>
<circle cx="440.4" cy="128.8" r="7.9" fill="#0000ff" stroke="#000" stroke-width="1"/>
<circle cx="446.5" cy="101.7" r="7.9" fill="#0000ff" stroke="#000" stroke-width="1"/>
<circle cx="462.2" cy="237.4" r="7.9" fill="#0000ff" stroke="#000" stroke-width="1"/>
<circle cx="616.8" cy="196.5" r="7.9" fill="#0000ff" stroke="#000" stroke-width="1"/>
<circle cx="658.5" cy="212.1" r="7.9" fill="#0000ff" stroke="#000" stroke-width="1"/>
<circle cx="738.6" cy="238.7" r="7.9" fill="#0000ff" stroke="#000" stroke-width="1"/>
<circle cx="729.2" cy="223.0" r="7.9" fill="#0000ff" stroke="#000" stroke-width="1"/>
<circle cx="476.3" cy="421.5" r="7.9" fill="#0000ff" stroke="#000" stroke-width="1"/>
<circle cx="478.3" cy="433.6" r="7.9" fill="#0000ff" stroke="#000" stroke-width="1"/>
<circle cx="496.5" cy="484.7" r="7.9" fill="#0000ff" stroke="#000" stroke-width="1"/>
<circle cx="525.1" cy="484.7" r="7.9" fill="#0000ff" stroke="#000" stroke-width="1"/>
<circle cx="515.5" cy="484.7" r="7.9" fill="#0000ff" stroke="#000" stroke-width="1"/>
<circle cx="544.0" cy="482.9" r="7.9" fill="#0000ff" stroke="#000" stroke-width="1"/>
<circle cx="554.6" cy="368.7" r="7.9" fill="#0000ff" stroke="#000" stroke-width="1"/>
<circle cx="568.3" cy="303.2" r="7.9" fill="#0000ff" stroke="#000" stroke-width="1"/>
<circle cx="700.2" cy="325.0" r="7.9" fill="#0000ff" stroke="#000" stroke-width="1"/>
<rect x="47.5" y="14.5" width="720" height="549" fill="none" stroke="#3a3a3a" stroke-width="1"/>
<line x1="71.80" y1="563.5" x2="71.80" y2="571" stroke="#3a3a3a" stroke-width="1"/>
<text x="72.50" y="590.1" class="ax" text-anchor="middle">0</text>
<line x1="239.15" y1="563.5" x2="239.15" y2="571" stroke="#3a3a3a" stroke-width="1"/>
<text x="239.85" y="590.1" class="ax" text-anchor="middle">100</text>
<line x1="406.50" y1="563.5" x2="406.50" y2="571" stroke="#3a3a3a" stroke-width="1"/>
<text x="407.20" y="590.1" class="ax" text-anchor="middle">200</text>
<line x1="573.85" y1="563.5" x2="573.85" y2="571" stroke="#3a3a3a" stroke-width="1"/>
<text x="574.55" y="590.1" class="ax" text-anchor="middle">300</text>
<line x1="741.20" y1="563.5" x2="741.20" y2="571" stroke="#3a3a3a" stroke-width="1"/>
<text x="741.90" y="590.1" class="ax" text-anchor="middle">400</text>
<line x1="39.8" y1="527.40" x2="47.5" y2="527.40" stroke="#3a3a3a" stroke-width="1"/>
<text transform="translate(30.3,526.80) rotate(-90)" class="ax" text-anchor="middle">-1.5</text>
<line x1="39.8" y1="447.90" x2="47.5" y2="447.90" stroke="#3a3a3a" stroke-width="1"/>
<text transform="translate(30.3,447.30) rotate(-90)" class="ax" text-anchor="middle">-1.0</text>
<line x1="39.8" y1="368.40" x2="47.5" y2="368.40" stroke="#3a3a3a" stroke-width="1"/>
<text transform="translate(30.3,367.80) rotate(-90)" class="ax" text-anchor="middle">-0.5</text>
<line x1="39.8" y1="288.90" x2="47.5" y2="288.90" stroke="#3a3a3a" stroke-width="1"/>
<text transform="translate(30.3,288.30) rotate(-90)" class="ax" text-anchor="middle">0.0</text>
<line x1="39.8" y1="209.40" x2="47.5" y2="209.40" stroke="#3a3a3a" stroke-width="1"/>
<text transform="translate(30.3,208.80) rotate(-90)" class="ax" text-anchor="middle">0.5</text>
<line x1="39.8" y1="129.90" x2="47.5" y2="129.90" stroke="#3a3a3a" stroke-width="1"/>
<text transform="translate(30.3,129.30) rotate(-90)" class="ax" text-anchor="middle">1.0</text>
<line x1="39.8" y1="50.40" x2="47.5" y2="50.40" stroke="#3a3a3a" stroke-width="1"/>
<text transform="translate(30.3,49.80) rotate(-90)" class="ax" text-anchor="middle">1.5</text>
<text x="118.8" y="50.5" class="big" text-anchor="end" fill="#4d4d4d">(e)</text>
<text x="760.5" y="67.3" class="big" text-anchor="end" fill="#4d4d4d">= 0.5</text>
<text x="760.5" y="118.3" class="big" text-anchor="end" fill="#4d4d4d">= 0.1</text>
<text x="624.5" y="64.6" class="sym" fill="#4d4d4d">ε</text>
<path d="M624.22 97.85 L623.94 95.79 L624.48 93.42 L625.74 91.75 L627.63 90.99 L629.37 91.12 L630.79 92.00 L631.90 93.58 L632.85 95.79 L634.27 99.58 L635.85 103.69 L637.43 107.48 L638.37 108.43 L639.32 107.16 L640.74 104.01 L641.85 100.53 L642.32 97.69 L642.42 95.16 L642.64 93.27 L643.43 91.84 L644.69 91.05 L646.11 90.90 L646.90 91.37 L647.06 92.32 L646.27 94.21 L644.69 97.69 L642.80 101.48 L640.90 105.58 L639.01 109.69 L637.58 112.85 L636.48 114.27 L635.53 112.53 L634.27 109.06 L632.85 105.27 L631.42 101.48 L630.16 98.00 L629.21 95.48 L628.42 93.90 L627.63 93.11 L626.53 93.01 L625.42 93.90 L624.85 95.48 L624.79 97.06Z" fill="#4d4d4d" stroke="#4d4d4d" stroke-width="0.3" stroke-linejoin="round"/>
<text x="645.6" y="39.4" class="sup" fill="#4d4d4d">2</text>
<text transform="translate(624,491.9) scale(1,1.045)" class="gk" fill="#808080">Gauss</text>
</g>
<g transform="translate(800,1200)">
<rect x="155.47" y="14.5" width="167.35" height="549" fill="#fffaf9"/>
<rect x="406.50" y="14.5" width="167.35" height="549" fill="#fffaf9"/>
<line x1="155.47" y1="14.5" x2="155.47" y2="563.5" stroke="#e09862" stroke-width="1.15"/>
<line x1="322.82" y1="14.5" x2="322.82" y2="563.5" stroke="#e09862" stroke-width="1.15"/>
<line x1="406.50" y1="14.5" x2="406.50" y2="563.5" stroke="#e09862" stroke-width="1.15"/>
<line x1="573.85" y1="14.5" x2="573.85" y2="563.5" stroke="#e09862" stroke-width="1.15"/>
<clipPath id="cp5"><path d="M73.4 272.3L74.4 275.6L75.4 278.8L76.4 282.0L77.4 285.1L78.4 288.1L79.4 290.9L80.4 293.3L81.4 295.2L82.4 296.8L83.4 298.1L84.4 299.2L85.4 299.6L86.4 299.8L87.4 300.0L88.4 300.2L89.4 300.4L90.4 300.6L91.4 300.8L92.4 301.0L93.4 301.5L94.4 303.0L95.4 303.2L96.4 301.3L97.4 297.9L98.4 292.2L99.4 285.7L100.4 279.0L101.4 272.3L102.4 265.7L103.4 259.0L104.4 252.8L105.4 246.8L106.4 239.6L107.4 230.2L108.4 219.8L109.4 209.8L110.4 200.4L111.4 191.2L112.4 182.4L113.4 174.0L114.4 168.5L115.4 164.5L116.4 158.2L117.4 148.4L118.4 138.4L119.4 128.4L120.4 118.4L121.4 108.4L122.4 98.4L123.4 89.2L124.4 82.1L125.4 76.3L126.4 71.6L127.4 67.6L128.4 64.8L129.4 62.9L130.4 61.5L131.4 60.6L132.4 59.9L133.4 59.4L134.4 59.2L135.4 59.2L136.4 59.5L137.4 60.2L138.4 61.5L139.4 63.0L140.4 64.6L141.4 66.1L142.4 67.5L143.4 68.9L144.4 70.2L145.4 71.1L146.4 71.7L147.4 71.8L148.4 71.7L149.4 71.5L150.4 71.2L151.4 70.8L152.4 70.5L153.4 70.2L154.4 70.3L155.4 70.5L156.4 70.9L157.4 71.4L158.4 72.0L159.4 72.6L160.4 73.6L161.4 74.7L162.4 75.5L163.4 75.9L164.4 75.7L165.4 75.4L166.4 74.9L167.4 74.4L168.4 73.9L169.4 73.4L170.4 73.0L171.4 73.1L172.4 73.7L173.4 74.4L174.4 75.5L175.4 77.1L176.4 79.2L177.4 82.0L178.4 85.5L179.4 89.8L180.4 94.4L181.4 99.4L182.4 104.6L183.4 109.9L184.4 115.4L185.4 121.1L186.4 127.1L187.4 133.6L188.4 140.3L189.4 147.0L190.4 153.6L191.4 160.3L192.4 167.0L193.4 173.6L194.4 180.3L195.4 187.0L196.4 193.8L197.4 201.2L198.4 208.8L199.4 218.2L200.4 227.1L201.4 233.1L202.4 239.1L203.4 245.1L204.4 251.1L205.4 257.1L206.4 263.1L207.4 269.1L208.4 275.1L209.4 281.0L210.4 286.4L211.4 291.5L212.4 296.6L213.4 301.3L214.4 305.7L215.4 309.7L216.4 312.5L217.4 314.2L218.4 314.1L219.4 310.6L220.4 303.6L221.4 295.9L222.4 288.0L223.4 279.7L224.4 270.6L225.4 261.2L226.4 252.8L227.4 244.6L228.4 233.4L229.4 212.6L230.4 188.1L231.4 167.7L232.4 155.2L233.4 143.2L234.4 130.7L235.4 118.4L236.4 107.3L237.4 97.2L238.4 88.4L239.4 81.2L240.4 74.3L241.4 66.8L242.4 59.5L243.4 53.3L244.4 48.5L245.4 45.3L246.4 43.5L247.4 42.2L248.4 41.4L249.4 41.3L250.4 41.6L251.4 42.2L252.4 43.3L253.4 44.8L254.4 46.5L255.4 48.9L256.4 53.8L257.4 61.7L258.4 70.1L259.4 79.4L260.4 89.4L261.4 99.4L262.4 109.4L263.4 118.2L264.4 126.9L265.4 135.6L266.4 142.9L267.4 150.1L268.4 160.0L269.4 170.0L270.4 179.7L271.4 189.9L272.4 201.6L273.4 214.0L274.4 226.2L275.4 238.6L276.4 250.1L277.4 260.1L278.4 269.9L279.4 279.9L280.4 289.9L281.4 299.9L282.4 310.8L283.4 323.7L284.4 334.3L285.4 343.6L286.4 351.6L287.4 356.8L288.4 357.7L289.4 355.1L290.4 350.3L291.4 344.7L292.4 338.2L293.4 330.8L294.4 321.7L295.4 311.7L296.4 301.7L297.4 291.7L298.4 280.8L299.4 262.5L300.4 239.2L301.4 215.4L302.4 195.5L303.4 181.9L304.4 170.2L305.4 159.7L306.4 149.9L307.4 141.9L308.4 135.7L309.4 130.7L310.4 127.0L311.4 124.4L312.4 122.6L313.4 121.6L314.4 121.4L315.4 122.0L316.4 123.2L317.4 125.2L318.4 127.6L319.4 130.5L320.4 134.1L321.4 138.1L322.4 142.3L323.4 146.4L324.4 150.3L325.4 153.6L326.4 156.7L327.4 160.4L328.4 165.3L329.4 170.4L330.4 175.1L331.4 179.7L332.4 184.4L333.4 189.5L334.4 195.0L335.4 200.8L336.4 206.8L337.4 212.8L338.4 218.7L339.4 224.0L340.4 229.7L341.4 236.9L342.4 246.1L343.4 256.3L344.4 266.6L345.4 276.7L346.4 286.8L347.4 296.8L348.4 306.9L349.4 316.9L350.4 326.9L351.4 336.9L352.4 346.9L353.4 356.9L354.4 366.9L355.4 376.3L356.4 385.1L357.4 393.1L358.4 400.3L359.4 406.9L360.4 412.7L361.4 417.7L362.4 422.0L363.4 425.9L364.4 429.3L365.4 431.8L366.4 432.7L367.4 432.1L368.4 430.6L369.4 428.1L370.4 425.5L371.4 422.8L372.4 420.1L373.4 417.5L374.4 414.8L375.4 411.9L376.4 408.0L377.4 403.5L378.4 398.8L379.4 394.2L380.4 389.5L381.4 384.8L382.4 380.2L383.4 375.5L384.4 370.8L385.4 366.2L386.4 361.4L387.4 355.3L388.4 348.8L389.4 343.3L390.4 338.4L391.4 333.9L392.4 329.8L393.4 326.0L394.4 322.4L395.4 319.0L396.4 315.8L397.4 312.9L398.4 310.6L399.4 308.3L400.4 305.1L401.4 299.2L402.4 291.9L403.4 285.7L404.4 282.4L405.4 280.5L406.4 279.0L407.4 277.9L408.4 277.1L409.4 276.1L410.4 274.4L411.4 272.1L412.4 269.5L413.4 266.5L414.4 262.9L415.4 259.6L416.4 258.9L417.4 259.6L418.4 256.4L419.4 250.4L420.4 244.4L421.4 238.4L422.4 232.5L423.4 226.5L424.4 220.2L425.4 213.5L426.4 206.7L427.4 200.1L428.4 193.4L429.4 186.7L430.4 180.1L431.4 173.4L432.4 166.7L433.4 160.3L434.4 154.3L435.4 148.7L436.4 144.0L437.4 140.6L438.4 138.3L439.4 136.7L440.4 135.8L441.4 135.5L442.4 135.5L443.4 135.7L444.4 135.9L445.4 136.2L446.4 138.1L447.4 143.1L448.4 155.6L449.4 171.4L450.4 187.5L451.4 200.9L452.4 212.4L453.4 223.7L454.4 234.9L455.4 245.7L456.4 254.4L457.4 261.6L458.4 266.9L459.4 269.9L460.4 270.0L461.4 271.8L462.4 279.4L463.4 290.2L464.4 301.5L465.4 312.7L466.4 324.2L467.4 339.3L468.4 349.5L469.4 359.5L470.4 369.5L471.4 379.5L472.4 387.8L473.4 392.9L474.4 395.4L475.4 397.2L476.4 398.9L477.4 400.3L478.4 401.5L479.4 402.8L480.4 404.7L481.4 407.2L482.4 410.1L483.4 413.5L484.4 416.8L485.4 420.1L486.4 423.5L487.4 426.8L488.4 430.1L489.4 433.5L490.4 436.8L491.4 440.1L492.4 443.1L493.4 445.7L494.4 447.8L495.4 449.2L496.4 449.9L497.4 450.0L498.4 449.7L499.4 449.2L500.4 449.0L501.4 449.3L502.4 449.8L503.4 450.6L504.4 451.8L505.4 453.3L506.4 454.8L507.4 456.3L508.4 457.8L509.4 459.3L510.4 460.8L511.4 462.3L512.4 463.7L513.4 464.8L514.4 465.4L515.4 465.9L516.4 466.3L517.4 466.5L518.4 466.7L519.4 466.9L520.4 467.5L521.4 468.3L522.4 469.1L523.4 469.9L524.4 470.5L525.4 471.0L526.4 470.8L527.4 470.1L528.4 469.1L529.4 467.9L530.4 466.7L531.4 465.4L532.4 464.2L533.4 462.9L534.4 461.7L535.4 460.7L536.4 459.8L537.4 459.1L538.4 459.1L539.4 459.4L540.4 459.5L541.4 458.8L542.4 454.0L543.4 442.9L544.4 430.1L545.4 418.6L546.4 408.3L547.4 399.5L548.4 391.5L549.4 384.1L550.4 377.1L551.4 370.5L552.4 364.5L553.4 359.0L554.4 354.0L555.4 349.3L556.4 344.7L557.4 340.0L558.4 335.3L559.4 330.7L560.4 326.0L561.4 321.3L562.4 316.7L563.4 312.1L564.4 308.0L565.4 304.2L566.4 300.6L567.4 297.2L568.4 293.8L569.4 290.2L570.4 286.3L571.4 282.3L572.4 278.3L573.4 274.2L574.4 270.3L575.4 266.3L576.4 261.9L577.4 256.6L578.4 249.6L579.4 241.6L580.4 233.4L581.4 225.4L582.4 217.3L583.4 209.4L584.4 201.9L585.4 194.7L586.4 187.3L587.4 178.9L588.4 170.5L589.4 163.4L590.4 157.4L591.4 152.2L592.4 147.7L593.4 144.0L594.4 141.1L595.4 139.3L596.4 139.0L597.4 139.8L598.4 141.4L599.4 143.4L600.4 145.5L601.4 148.3L602.4 151.6L603.4 155.0L604.4 158.3L605.4 161.6L606.4 165.0L607.4 168.3L608.4 171.1L609.4 173.6L610.4 176.0L611.4 178.1L612.4 180.0L613.4 181.5L614.4 182.7L615.4 183.7L616.4 184.3L617.4 184.8L618.4 185.1L619.4 185.4L620.4 185.4L621.4 185.4L622.4 185.2L623.4 184.9L624.4 184.5L625.4 183.9L626.4 183.1L627.4 182.3L628.4 181.4L629.4 180.7L630.4 180.1L631.4 179.7L632.4 179.4L633.4 179.4L634.4 180.3L635.4 182.2L636.4 184.7L637.4 187.7L638.4 191.1L639.4 194.7L640.4 198.5L641.4 202.1L642.4 205.5L643.4 208.8L644.4 212.0L645.4 214.8L646.4 217.3L647.4 219.6L648.4 221.2L649.4 222.1L650.4 222.4L651.4 221.0L652.4 217.9L653.4 213.2L654.4 207.4L655.4 200.5L656.4 193.9L657.4 189.0L658.4 185.2L659.4 181.1L660.4 175.4L661.4 167.1L662.4 159.6L663.4 153.1L664.4 147.3L665.4 142.4L666.4 138.2L667.4 134.5L668.4 131.3L669.4 128.4L670.4 126.1L671.4 124.4L672.4 123.1L673.4 122.3L674.4 121.9L675.4 121.8L676.4 122.1L677.4 122.9L678.4 124.1L679.4 125.8L680.4 128.4L681.4 131.8L682.4 136.1L683.4 141.3L684.4 147.1L685.4 153.5L686.4 160.4L687.4 167.8L688.4 176.4L689.4 185.6L690.4 194.8L691.4 203.9L692.4 213.1L693.4 222.0L694.4 230.2L695.4 238.8L696.4 248.1L697.4 257.4L698.4 266.5L699.4 275.4L700.4 284.3L701.4 292.8L702.4 299.0L703.4 303.5L704.4 308.0L705.4 310.7L706.4 308.6L707.4 304.2L708.4 299.6L709.4 294.6L710.4 289.1L711.4 282.0L712.4 273.2L713.4 264.8L714.4 256.8L715.4 248.8L716.4 240.8L717.4 232.9L718.4 225.9L719.4 219.3L720.4 213.2L721.4 208.0L722.4 208.2L723.4 209.7L724.4 210.8L725.4 211.9L726.4 212.8L727.4 213.5L728.4 214.1L729.4 214.8L730.4 215.4L731.4 216.1L732.4 216.7L733.4 217.2L734.4 217.7L735.4 217.8L736.4 217.5L737.4 216.9L738.4 216.3L739.4 215.6L740.4 214.7L741.4 213.8L741.4 247.4L740.4 247.5L739.4 247.4L738.4 247.2L737.4 246.7L736.4 246.1L735.4 245.4L734.4 244.7L733.4 244.0L732.4 243.3L731.4 242.7L730.4 242.2L729.4 241.7L728.4 241.3L727.4 241.4L726.4 242.7L725.4 245.7L724.4 251.3L723.4 258.5L722.4 266.4L721.4 275.2L720.4 285.9L719.4 293.9L718.4 298.1L717.4 300.2L716.4 301.2L715.4 309.7L714.4 318.4L713.4 327.1L712.4 335.2L711.4 343.2L710.4 351.2L709.4 358.1L708.4 363.2L707.4 365.4L706.4 363.7L705.4 360.1L704.4 355.6L703.4 350.6L702.4 345.6L701.4 340.6L700.4 335.6L699.4 331.1L698.4 327.0L697.4 322.7L696.4 318.3L695.4 313.9L694.4 309.5L693.4 305.1L692.4 300.8L691.4 297.8L690.4 295.0L689.4 289.3L688.4 282.0L687.4 274.7L686.4 267.3L685.4 260.0L684.4 252.7L683.4 245.4L682.4 238.6L681.4 232.2L680.4 225.9L679.4 219.9L678.4 214.1L677.4 208.4L676.4 203.0L675.4 198.0L674.4 193.7L673.4 189.9L672.4 186.7L671.4 184.0L670.4 182.0L669.4 180.9L668.4 180.7L667.4 181.5L666.4 183.2L665.4 185.5L664.4 188.5L663.4 192.7L662.4 197.6L661.4 203.3L660.4 209.3L659.4 215.6L658.4 222.1L657.4 228.9L656.4 236.9L655.4 245.2L654.4 253.5L653.4 261.9L652.4 270.2L651.4 278.3L650.4 286.3L649.4 294.3L648.4 302.3L647.4 308.9L646.4 314.0L645.4 317.5L644.4 318.3L643.4 316.3L642.4 313.0L641.4 308.4L640.4 303.5L639.4 298.4L638.4 293.1L637.4 287.8L636.4 282.4L635.4 277.1L634.4 271.8L633.4 266.4L632.4 261.1L631.4 255.8L630.4 250.5L629.4 245.7L628.4 241.2L627.4 236.9L626.4 232.9L625.4 229.0L624.4 225.4L623.4 222.0L622.4 218.9L621.4 215.8L620.4 213.0L619.4 210.6L618.4 209.0L617.4 207.8L616.4 206.6L615.4 205.4L614.4 204.2L613.4 203.0L612.4 201.8L611.4 200.6L610.4 199.4L609.4 198.2L608.4 197.1L607.4 196.4L606.4 196.0L605.4 195.8L604.4 195.8L603.4 196.0L602.4 196.3L601.4 196.8L600.4 197.5L599.4 198.5L598.4 199.9L597.4 201.8L596.4 204.3L595.4 207.4L594.4 210.8L593.4 214.7L592.4 218.8L591.4 223.3L590.4 228.2L589.4 233.9L588.4 240.8L587.4 247.4L586.4 252.7L585.4 257.1L584.4 261.7L583.4 267.0L582.4 272.3L581.4 277.7L580.4 283.0L579.4 288.3L578.4 293.7L577.4 297.4L576.4 299.0L575.4 299.9L574.4 301.7L573.4 303.9L572.4 306.2L571.4 308.4L570.4 310.8L569.4 313.3L568.4 316.0L567.4 319.0L566.4 322.4L565.4 326.2L564.4 330.6L563.4 335.2L562.4 339.9L561.4 344.6L560.4 349.2L559.4 353.9L558.4 358.6L557.4 363.8L556.4 369.4L555.4 374.9L554.4 380.5L553.4 386.4L552.4 393.5L551.4 402.5L550.4 413.3L549.4 424.3L548.4 435.2L547.4 446.1L546.4 456.9L545.4 466.9L544.4 476.2L543.4 483.6L542.4 488.6L541.4 491.5L540.4 493.9L539.4 495.8L538.4 497.6L537.4 499.2L536.4 500.7L535.4 501.9L534.4 502.9L533.4 503.7L532.4 504.3L531.4 504.7L530.4 505.0L529.4 505.0L528.4 504.8L527.4 504.5L526.4 504.3L525.4 504.0L524.4 503.9L523.4 503.8L522.4 503.6L521.4 503.3L520.4 502.8L519.4 502.4L518.4 502.0L517.4 501.8L516.4 501.8L515.4 502.2L514.4 502.8L513.4 503.4L512.4 504.1L511.4 504.8L510.4 505.4L509.4 505.9L508.4 506.3L507.4 506.6L506.4 506.8L505.4 506.9L504.4 506.9L503.4 506.8L502.4 506.6L501.4 506.2L500.4 505.8L499.4 505.2L498.4 504.7L497.4 504.0L496.4 503.4L495.4 502.7L494.4 501.9L493.4 501.1L492.4 500.3L491.4 499.4L490.4 498.5L489.4 497.3L488.4 495.8L487.4 494.2L486.4 492.5L485.4 490.2L484.4 487.3L483.4 483.7L482.4 479.4L481.4 474.7L480.4 469.6L479.4 463.8L478.4 458.7L477.4 454.6L476.4 450.4L475.4 446.2L474.4 442.1L473.4 437.9L472.4 433.3L471.4 428.5L470.4 422.6L469.4 414.6L468.4 405.2L467.4 394.2L466.4 381.7L465.4 369.1L464.4 356.5L463.4 344.2L462.4 333.0L461.4 327.3L460.4 330.7L459.4 337.1L458.4 341.7L457.4 343.8L456.4 341.4L455.4 336.3L454.4 329.9L453.4 322.5L452.4 313.7L451.4 300.7L450.4 283.4L449.4 264.0L448.4 243.1L447.4 222.6L446.4 204.7L445.4 196.7L444.4 194.2L443.4 193.5L442.4 192.7L441.4 192.4L440.4 193.3L439.4 195.5L438.4 199.3L437.4 203.3L436.4 207.2L435.4 211.1L434.4 215.3L433.4 220.4L432.4 225.9L431.4 231.3L430.4 236.7L429.4 242.0L428.4 247.3L427.4 252.1L426.4 256.5L425.4 261.0L424.4 264.9L423.4 268.5L422.4 272.3L421.4 276.9L420.4 283.6L419.4 292.3L418.4 299.5L417.4 306.4L416.4 313.3L415.4 319.9L414.4 325.5L413.4 329.2L412.4 332.2L411.4 335.2L410.4 338.2L409.4 341.2L408.4 344.2L407.4 347.2L406.4 350.2L405.4 353.2L404.4 356.2L403.4 359.2L402.4 362.2L401.4 365.2L400.4 368.0L399.4 370.7L398.4 373.2L397.4 375.6L396.4 377.8L395.4 380.0L394.4 382.1L393.4 384.2L392.4 386.1L391.4 388.1L390.4 390.2L389.4 392.5L388.4 395.0L387.4 398.0L386.4 401.5L385.4 405.5L384.4 409.5L383.4 413.5L382.4 417.5L381.4 421.5L380.4 425.5L379.4 429.5L378.4 433.5L377.4 437.5L376.4 441.4L375.4 444.9L374.4 448.2L373.4 452.0L372.4 457.5L371.4 464.3L370.4 471.9L369.4 478.8L368.4 484.5L367.4 488.9L366.4 490.5L365.4 489.2L364.4 485.8L363.4 481.0L362.4 475.7L361.4 470.1L360.4 463.4L359.4 455.3L358.4 447.5L357.4 440.2L356.4 432.9L355.4 425.5L354.4 418.0L353.4 410.0L352.4 400.3L351.4 389.9L350.4 380.5L349.4 371.3L348.4 362.1L347.4 352.8L346.4 343.6L345.4 333.9L344.4 323.7L343.4 314.7L342.4 309.2L341.4 305.0L340.4 299.5L339.4 290.3L338.4 278.2L337.4 266.7L336.4 256.8L335.4 247.0L334.4 237.6L333.4 228.9L332.4 221.1L331.4 214.3L330.4 208.3L329.4 202.7L328.4 197.4L327.4 192.4L326.4 188.2L325.4 185.1L324.4 182.7L323.4 181.0L322.4 180.2L321.4 180.4L320.4 181.7L319.4 183.9L318.4 186.8L317.4 190.5L316.4 195.1L315.4 200.3L314.4 205.9L313.4 211.1L312.4 216.2L311.4 224.8L310.4 238.6L309.4 254.5L308.4 271.1L307.4 286.8L306.4 301.8L305.4 316.8L304.4 331.8L303.4 346.8L302.4 360.9L301.4 374.0L300.4 386.5L299.4 398.5L298.4 409.4L297.4 418.7L296.4 427.5L295.4 430.7L294.4 428.5L293.4 424.7L292.4 420.5L291.4 416.3L290.4 412.8L289.4 409.8L288.4 406.7L287.4 403.3L286.4 399.6L285.4 395.3L284.4 390.1L283.4 383.3L282.4 375.4L281.4 366.9L280.4 358.2L279.4 349.5L278.4 341.4L277.4 334.0L276.4 325.7L275.4 315.7L274.4 305.7L273.4 295.7L272.4 285.7L271.4 275.7L270.4 265.7L269.4 255.7L268.4 245.7L267.4 235.7L266.4 224.4L265.4 204.6L264.4 193.2L263.4 183.7L262.4 175.4L261.4 167.1L260.4 158.1L259.4 148.9L258.4 141.8L257.4 134.8L256.4 127.8L255.4 120.8L254.4 114.4L253.4 108.7L252.4 103.4L251.4 99.0L250.4 96.2L249.4 94.4L248.4 93.2L247.4 93.2L246.4 95.0L245.4 98.0L244.4 102.1L243.4 108.8L242.4 118.6L241.4 131.0L240.4 143.3L239.4 155.3L238.4 167.3L237.4 179.3L236.4 191.3L235.4 203.3L234.4 219.5L233.4 240.0L232.4 250.0L231.4 260.0L230.4 270.0L229.4 280.0L228.4 290.0L227.4 300.0L226.4 310.0L225.4 320.0L224.4 329.5L223.4 337.2L222.4 344.7L221.4 353.2L220.4 362.0L219.4 370.6L218.4 378.2L217.4 384.8L216.4 390.8L215.4 396.9L214.4 403.6L213.4 411.5L212.4 420.8L211.4 430.2L210.4 438.3L209.4 445.7L208.4 454.3L207.4 464.3L206.4 474.3L205.4 484.3L204.4 494.3L203.4 504.2L202.4 513.7L201.4 522.5L200.4 530.6L199.4 538.5L198.4 546.1L197.4 552.6L196.4 553.2L195.4 547.1L194.4 539.6L193.4 531.3L192.4 523.0L191.4 514.4L190.4 505.6L189.4 496.4L188.4 486.4L187.4 476.4L186.4 466.4L185.4 456.4L184.4 446.4L183.4 436.4L182.4 426.4L181.4 416.4L180.4 406.4L179.4 396.4L178.4 386.4L177.4 376.4L176.4 366.4L175.4 356.4L174.4 346.4L173.4 334.1L172.4 317.8L171.4 301.3L170.4 288.4L169.4 278.5L168.4 268.5L167.4 257.6L166.4 246.6L165.4 235.9L164.4 225.4L163.4 215.5L162.4 205.1L161.4 194.2L160.4 185.5L159.4 177.7L158.4 170.2L157.4 162.7L156.4 155.2L155.4 147.9L154.4 141.1L153.4 135.1L152.4 129.4L151.4 124.3L150.4 120.2L149.4 116.8L148.4 114.0L147.4 112.5L146.4 112.3L145.4 113.2L144.4 115.3L143.4 118.6L142.4 123.3L141.4 128.8L140.4 134.7L139.4 141.0L138.4 147.7L137.4 155.1L136.4 162.4L135.4 169.6L134.4 177.0L133.4 184.6L132.4 192.9L131.4 205.0L130.4 217.6L129.4 230.1L128.4 242.6L127.4 255.1L126.4 267.6L125.4 280.1L124.4 292.4L123.4 302.2L122.4 308.9L121.4 313.8L120.4 317.9L119.4 322.0L118.4 323.7L117.4 325.2L116.4 330.5L115.4 339.2L114.4 347.8L113.4 356.1L112.4 363.9L111.4 371.5L110.4 378.9L109.4 385.5L108.4 390.4L107.4 393.5L106.4 393.3L105.4 390.7L104.4 387.2L103.4 382.5L102.4 376.8L101.4 370.8L100.4 364.8L99.4 358.9L98.4 353.4L97.4 351.0L96.4 352.3L95.4 355.2L94.4 357.5L93.4 358.5L92.4 354.2L91.4 348.9L90.4 343.6L89.4 338.2L88.4 333.0L87.4 327.8L86.4 322.7L85.4 317.9L84.4 314.9L83.4 313.7L82.4 313.0L81.4 312.6L80.4 312.2L79.4 311.9L78.4 311.9L77.4 312.3L76.4 312.7L75.4 313.2L74.4 313.7L73.4 314.3Z"/></clipPath>
<use href="#hl" clip-path="url(#cp5)"/>
<path d="M73.4 272.3L74.4 275.6L75.4 278.8L76.4 282.0L77.4 285.1L78.4 288.1L79.4 290.9L80.4 293.3L81.4 295.2L82.4 296.8L83.4 298.1L84.4 299.2L85.4 299.6L86.4 299.8L87.4 300.0L88.4 300.2L89.4 300.4L90.4 300.6L91.4 300.8L92.4 301.0L93.4 301.5L94.4 303.0L95.4 303.2L96.4 301.3L97.4 297.9L98.4 292.2L99.4 285.7L100.4 279.0L101.4 272.3L102.4 265.7L103.4 259.0L104.4 252.8L105.4 246.8L106.4 239.6L107.4 230.2L108.4 219.8L109.4 209.8L110.4 200.4L111.4 191.2L112.4 182.4L113.4 174.0L114.4 168.5L115.4 164.5L116.4 158.2L117.4 148.4L118.4 138.4L119.4 128.4L120.4 118.4L121.4 108.4L122.4 98.4L123.4 89.2L124.4 82.1L125.4 76.3L126.4 71.6L127.4 67.6L128.4 64.8L129.4 62.9L130.4 61.5L131.4 60.6L132.4 59.9L133.4 59.4L134.4 59.2L135.4 59.2L136.4 59.5L137.4 60.2L138.4 61.5L139.4 63.0L140.4 64.6L141.4 66.1L142.4 67.5L143.4 68.9L144.4 70.2L145.4 71.1L146.4 71.7L147.4 71.8L148.4 71.7L149.4 71.5L150.4 71.2L151.4 70.8L152.4 70.5L153.4 70.2L154.4 70.3L155.4 70.5L156.4 70.9L157.4 71.4L158.4 72.0L159.4 72.6L160.4 73.6L161.4 74.7L162.4 75.5L163.4 75.9L164.4 75.7L165.4 75.4L166.4 74.9L167.4 74.4L168.4 73.9L169.4 73.4L170.4 73.0L171.4 73.1L172.4 73.7L173.4 74.4L174.4 75.5L175.4 77.1L176.4 79.2L177.4 82.0L178.4 85.5L179.4 89.8L180.4 94.4L181.4 99.4L182.4 104.6L183.4 109.9L184.4 115.4L185.4 121.1L186.4 127.1L187.4 133.6L188.4 140.3L189.4 147.0L190.4 153.6L191.4 160.3L192.4 167.0L193.4 173.6L194.4 180.3L195.4 187.0L196.4 193.8L197.4 201.2L198.4 208.8L199.4 218.2L200.4 227.1L201.4 233.1L202.4 239.1L203.4 245.1L204.4 251.1L205.4 257.1L206.4 263.1L207.4 269.1L208.4 275.1L209.4 281.0L210.4 286.4L211.4 291.5L212.4 296.6L213.4 301.3L214.4 305.7L215.4 309.7L216.4 312.5L217.4 314.2L218.4 314.1L219.4 310.6L220.4 303.6L221.4 295.9L222.4 288.0L223.4 279.7L224.4 270.6L225.4 261.2L226.4 252.8L227.4 244.6L228.4 233.4L229.4 212.6L230.4 188.1L231.4 167.7L232.4 155.2L233.4 143.2L234.4 130.7L235.4 118.4L236.4 107.3L237.4 97.2L238.4 88.4L239.4 81.2L240.4 74.3L241.4 66.8L242.4 59.5L243.4 53.3L244.4 48.5L245.4 45.3L246.4 43.5L247.4 42.2L248.4 41.4L249.4 41.3L250.4 41.6L251.4 42.2L252.4 43.3L253.4 44.8L254.4 46.5L255.4 48.9L256.4 53.8L257.4 61.7L258.4 70.1L259.4 79.4L260.4 89.4L261.4 99.4L262.4 109.4L263.4 118.2L264.4 126.9L265.4 135.6L266.4 142.9L267.4 150.1L268.4 160.0L269.4 170.0L270.4 179.7L271.4 189.9L272.4 201.6L273.4 214.0L274.4 226.2L275.4 238.6L276.4 250.1L277.4 260.1L278.4 269.9L279.4 279.9L280.4 289.9L281.4 299.9L282.4 310.8L283.4 323.7L284.4 334.3L285.4 343.6L286.4 351.6L287.4 356.8L288.4 357.7L289.4 355.1L290.4 350.3L291.4 344.7L292.4 338.2L293.4 330.8L294.4 321.7L295.4 311.7L296.4 301.7L297.4 291.7L298.4 280.8L299.4 262.5L300.4 239.2L301.4 215.4L302.4 195.5L303.4 181.9L304.4 170.2L305.4 159.7L306.4 149.9L307.4 141.9L308.4 135.7L309.4 130.7L310.4 127.0L311.4 124.4L312.4 122.6L313.4 121.6L314.4 121.4L315.4 122.0L316.4 123.2L317.4 125.2L318.4 127.6L319.4 130.5L320.4 134.1L321.4 138.1L322.4 142.3L323.4 146.4L324.4 150.3L325.4 153.6L326.4 156.7L327.4 160.4L328.4 165.3L329.4 170.4L330.4 175.1L331.4 179.7L332.4 184.4L333.4 189.5L334.4 195.0L335.4 200.8L336.4 206.8L337.4 212.8L338.4 218.7L339.4 224.0L340.4 229.7L341.4 236.9L342.4 246.1L343.4 256.3L344.4 266.6L345.4 276.7L346.4 286.8L347.4 296.8L348.4 306.9L349.4 316.9L350.4 326.9L351.4 336.9L352.4 346.9L353.4 356.9L354.4 366.9L355.4 376.3L356.4 385.1L357.4 393.1L358.4 400.3L359.4 406.9L360.4 412.7L361.4 417.7L362.4 422.0L363.4 425.9L364.4 429.3L365.4 431.8L366.4 432.7L367.4 432.1L368.4 430.6L369.4 428.1L370.4 425.5L371.4 422.8L372.4 420.1L373.4 417.5L374.4 414.8L375.4 411.9L376.4 408.0L377.4 403.5L378.4 398.8L379.4 394.2L380.4 389.5L381.4 384.8L382.4 380.2L383.4 375.5L384.4 370.8L385.4 366.2L386.4 361.4L387.4 355.3L388.4 348.8L389.4 343.3L390.4 338.4L391.4 333.9L392.4 329.8L393.4 326.0L394.4 322.4L395.4 319.0L396.4 315.8L397.4 312.9L398.4 310.6L399.4 308.3L400.4 305.1L401.4 299.2L402.4 291.9L403.4 285.7L404.4 282.4L405.4 280.5L406.4 279.0L407.4 277.9L408.4 277.1L409.4 276.1L410.4 274.4L411.4 272.1L412.4 269.5L413.4 266.5L414.4 262.9L415.4 259.6L416.4 258.9L417.4 259.6L418.4 256.4L419.4 250.4L420.4 244.4L421.4 238.4L422.4 232.5L423.4 226.5L424.4 220.2L425.4 213.5L426.4 206.7L427.4 200.1L428.4 193.4L429.4 186.7L430.4 180.1L431.4 173.4L432.4 166.7L433.4 160.3L434.4 154.3L435.4 148.7L436.4 144.0L437.4 140.6L438.4 138.3L439.4 136.7L440.4 135.8L441.4 135.5L442.4 135.5L443.4 135.7L444.4 135.9L445.4 136.2L446.4 138.1L447.4 143.1L448.4 155.6L449.4 171.4L450.4 187.5L451.4 200.9L452.4 212.4L453.4 223.7L454.4 234.9L455.4 245.7L456.4 254.4L457.4 261.6L458.4 266.9L459.4 269.9L460.4 270.0L461.4 271.8L462.4 279.4L463.4 290.2L464.4 301.5L465.4 312.7L466.4 324.2L467.4 339.3L468.4 349.5L469.4 359.5L470.4 369.5L471.4 379.5L472.4 387.8L473.4 392.9L474.4 395.4L475.4 397.2L476.4 398.9L477.4 400.3L478.4 401.5L479.4 402.8L480.4 404.7L481.4 407.2L482.4 410.1L483.4 413.5L484.4 416.8L485.4 420.1L486.4 423.5L487.4 426.8L488.4 430.1L489.4 433.5L490.4 436.8L491.4 440.1L492.4 443.1L493.4 445.7L494.4 447.8L495.4 449.2L496.4 449.9L497.4 450.0L498.4 449.7L499.4 449.2L500.4 449.0L501.4 449.3L502.4 449.8L503.4 450.6L504.4 451.8L505.4 453.3L506.4 454.8L507.4 456.3L508.4 457.8L509.4 459.3L510.4 460.8L511.4 462.3L512.4 463.7L513.4 464.8L514.4 465.4L515.4 465.9L516.4 466.3L517.4 466.5L518.4 466.7L519.4 466.9L520.4 467.5L521.4 468.3L522.4 469.1L523.4 469.9L524.4 470.5L525.4 471.0L526.4 470.8L527.4 470.1L528.4 469.1L529.4 467.9L530.4 466.7L531.4 465.4L532.4 464.2L533.4 462.9L534.4 461.7L535.4 460.7L536.4 459.8L537.4 459.1L538.4 459.1L539.4 459.4L540.4 459.5L541.4 458.8L542.4 454.0L543.4 442.9L544.4 430.1L545.4 418.6L546.4 408.3L547.4 399.5L548.4 391.5L549.4 384.1L550.4 377.1L551.4 370.5L552.4 364.5L553.4 359.0L554.4 354.0L555.4 349.3L556.4 344.7L557.4 340.0L558.4 335.3L559.4 330.7L560.4 326.0L561.4 321.3L562.4 316.7L563.4 312.1L564.4 308.0L565.4 304.2L566.4 300.6L567.4 297.2L568.4 293.8L569.4 290.2L570.4 286.3L571.4 282.3L572.4 278.3L573.4 274.2L574.4 270.3L575.4 266.3L576.4 261.9L577.4 256.6L578.4 249.6L579.4 241.6L580.4 233.4L581.4 225.4L582.4 217.3L583.4 209.4L584.4 201.9L585.4 194.7L586.4 187.3L587.4 178.9L588.4 170.5L589.4 163.4L590.4 157.4L591.4 152.2L592.4 147.7L593.4 144.0L594.4 141.1L595.4 139.3L596.4 139.0L597.4 139.8L598.4 141.4L599.4 143.4L600.4 145.5L601.4 148.3L602.4 151.6L603.4 155.0L604.4 158.3L605.4 161.6L606.4 165.0L607.4 168.3L608.4 171.1L609.4 173.6L610.4 176.0L611.4 178.1L612.4 180.0L613.4 181.5L614.4 182.7L615.4 183.7L616.4 184.3L617.4 184.8L618.4 185.1L619.4 185.4L620.4 185.4L621.4 185.4L622.4 185.2L623.4 184.9L624.4 184.5L625.4 183.9L626.4 183.1L627.4 182.3L628.4 181.4L629.4 180.7L630.4 180.1L631.4 179.7L632.4 179.4L633.4 179.4L634.4 180.3L635.4 182.2L636.4 184.7L637.4 187.7L638.4 191.1L639.4 194.7L640.4 198.5L641.4 202.1L642.4 205.5L643.4 208.8L644.4 212.0L645.4 214.8L646.4 217.3L647.4 219.6L648.4 221.2L649.4 222.1L650.4 222.4L651.4 221.0L652.4 217.9L653.4 213.2L654.4 207.4L655.4 200.5L656.4 193.9L657.4 189.0L658.4 185.2L659.4 181.1L660.4 175.4L661.4 167.1L662.4 159.6L663.4 153.1L664.4 147.3L665.4 142.4L666.4 138.2L667.4 134.5L668.4 131.3L669.4 128.4L670.4 126.1L671.4 124.4L672.4 123.1L673.4 122.3L674.4 121.9L675.4 121.8L676.4 122.1L677.4 122.9L678.4 124.1L679.4 125.8L680.4 128.4L681.4 131.8L682.4 136.1L683.4 141.3L684.4 147.1L685.4 153.5L686.4 160.4L687.4 167.8L688.4 176.4L689.4 185.6L690.4 194.8L691.4 203.9L692.4 213.1L693.4 222.0L694.4 230.2L695.4 238.8L696.4 248.1L697.4 257.4L698.4 266.5L699.4 275.4L700.4 284.3L701.4 292.8L702.4 299.0L703.4 303.5L704.4 308.0L705.4 310.7L706.4 308.6L707.4 304.2L708.4 299.6L709.4 294.6L710.4 289.1L711.4 282.0L712.4 273.2L713.4 264.8L714.4 256.8L715.4 248.8L716.4 240.8L717.4 232.9L718.4 225.9L719.4 219.3L720.4 213.2L721.4 208.0L722.4 208.2L723.4 209.7L724.4 210.8L725.4 211.9L726.4 212.8L727.4 213.5L728.4 214.1L729.4 214.8L730.4 215.4L731.4 216.1L732.4 216.7L733.4 217.2L734.4 217.7L735.4 217.8L736.4 217.5L737.4 216.9L738.4 216.3L739.4 215.6L740.4 214.7L741.4 213.8L741.4 247.4L740.4 247.5L739.4 247.4L738.4 247.2L737.4 246.7L736.4 246.1L735.4 245.4L734.4 244.7L733.4 244.0L732.4 243.3L731.4 242.7L730.4 242.2L729.4 241.7L728.4 241.3L727.4 241.4L726.4 242.7L725.4 245.7L724.4 251.3L723.4 258.5L722.4 266.4L721.4 275.2L720.4 285.9L719.4 293.9L718.4 298.1L717.4 300.2L716.4 301.2L715.4 309.7L714.4 318.4L713.4 327.1L712.4 335.2L711.4 343.2L710.4 351.2L709.4 358.1L708.4 363.2L707.4 365.4L706.4 363.7L705.4 360.1L704.4 355.6L703.4 350.6L702.4 345.6L701.4 340.6L700.4 335.6L699.4 331.1L698.4 327.0L697.4 322.7L696.4 318.3L695.4 313.9L694.4 309.5L693.4 305.1L692.4 300.8L691.4 297.8L690.4 295.0L689.4 289.3L688.4 282.0L687.4 274.7L686.4 267.3L685.4 260.0L684.4 252.7L683.4 245.4L682.4 238.6L681.4 232.2L680.4 225.9L679.4 219.9L678.4 214.1L677.4 208.4L676.4 203.0L675.4 198.0L674.4 193.7L673.4 189.9L672.4 186.7L671.4 184.0L670.4 182.0L669.4 180.9L668.4 180.7L667.4 181.5L666.4 183.2L665.4 185.5L664.4 188.5L663.4 192.7L662.4 197.6L661.4 203.3L660.4 209.3L659.4 215.6L658.4 222.1L657.4 228.9L656.4 236.9L655.4 245.2L654.4 253.5L653.4 261.9L652.4 270.2L651.4 278.3L650.4 286.3L649.4 294.3L648.4 302.3L647.4 308.9L646.4 314.0L645.4 317.5L644.4 318.3L643.4 316.3L642.4 313.0L641.4 308.4L640.4 303.5L639.4 298.4L638.4 293.1L637.4 287.8L636.4 282.4L635.4 277.1L634.4 271.8L633.4 266.4L632.4 261.1L631.4 255.8L630.4 250.5L629.4 245.7L628.4 241.2L627.4 236.9L626.4 232.9L625.4 229.0L624.4 225.4L623.4 222.0L622.4 218.9L621.4 215.8L620.4 213.0L619.4 210.6L618.4 209.0L617.4 207.8L616.4 206.6L615.4 205.4L614.4 204.2L613.4 203.0L612.4 201.8L611.4 200.6L610.4 199.4L609.4 198.2L608.4 197.1L607.4 196.4L606.4 196.0L605.4 195.8L604.4 195.8L603.4 196.0L602.4 196.3L601.4 196.8L600.4 197.5L599.4 198.5L598.4 199.9L597.4 201.8L596.4 204.3L595.4 207.4L594.4 210.8L593.4 214.7L592.4 218.8L591.4 223.3L590.4 228.2L589.4 233.9L588.4 240.8L587.4 247.4L586.4 252.7L585.4 257.1L584.4 261.7L583.4 267.0L582.4 272.3L581.4 277.7L580.4 283.0L579.4 288.3L578.4 293.7L577.4 297.4L576.4 299.0L575.4 299.9L574.4 301.7L573.4 303.9L572.4 306.2L571.4 308.4L570.4 310.8L569.4 313.3L568.4 316.0L567.4 319.0L566.4 322.4L565.4 326.2L564.4 330.6L563.4 335.2L562.4 339.9L561.4 344.6L560.4 349.2L559.4 353.9L558.4 358.6L557.4 363.8L556.4 369.4L555.4 374.9L554.4 380.5L553.4 386.4L552.4 393.5L551.4 402.5L550.4 413.3L549.4 424.3L548.4 435.2L547.4 446.1L546.4 456.9L545.4 466.9L544.4 476.2L543.4 483.6L542.4 488.6L541.4 491.5L540.4 493.9L539.4 495.8L538.4 497.6L537.4 499.2L536.4 500.7L535.4 501.9L534.4 502.9L533.4 503.7L532.4 504.3L531.4 504.7L530.4 505.0L529.4 505.0L528.4 504.8L527.4 504.5L526.4 504.3L525.4 504.0L524.4 503.9L523.4 503.8L522.4 503.6L521.4 503.3L520.4 502.8L519.4 502.4L518.4 502.0L517.4 501.8L516.4 501.8L515.4 502.2L514.4 502.8L513.4 503.4L512.4 504.1L511.4 504.8L510.4 505.4L509.4 505.9L508.4 506.3L507.4 506.6L506.4 506.8L505.4 506.9L504.4 506.9L503.4 506.8L502.4 506.6L501.4 506.2L500.4 505.8L499.4 505.2L498.4 504.7L497.4 504.0L496.4 503.4L495.4 502.7L494.4 501.9L493.4 501.1L492.4 500.3L491.4 499.4L490.4 498.5L489.4 497.3L488.4 495.8L487.4 494.2L486.4 492.5L485.4 490.2L484.4 487.3L483.4 483.7L482.4 479.4L481.4 474.7L480.4 469.6L479.4 463.8L478.4 458.7L477.4 454.6L476.4 450.4L475.4 446.2L474.4 442.1L473.4 437.9L472.4 433.3L471.4 428.5L470.4 422.6L469.4 414.6L468.4 405.2L467.4 394.2L466.4 381.7L465.4 369.1L464.4 356.5L463.4 344.2L462.4 333.0L461.4 327.3L460.4 330.7L459.4 337.1L458.4 341.7L457.4 343.8L456.4 341.4L455.4 336.3L454.4 329.9L453.4 322.5L452.4 313.7L451.4 300.7L450.4 283.4L449.4 264.0L448.4 243.1L447.4 222.6L446.4 204.7L445.4 196.7L444.4 194.2L443.4 193.5L442.4 192.7L441.4 192.4L440.4 193.3L439.4 195.5L438.4 199.3L437.4 203.3L436.4 207.2L435.4 211.1L434.4 215.3L433.4 220.4L432.4 225.9L431.4 231.3L430.4 236.7L429.4 242.0L428.4 247.3L427.4 252.1L426.4 256.5L425.4 261.0L424.4 264.9L423.4 268.5L422.4 272.3L421.4 276.9L420.4 283.6L419.4 292.3L418.4 299.5L417.4 306.4L416.4 313.3L415.4 319.9L414.4 325.5L413.4 329.2L412.4 332.2L411.4 335.2L410.4 338.2L409.4 341.2L408.4 344.2L407.4 347.2L406.4 350.2L405.4 353.2L404.4 356.2L403.4 359.2L402.4 362.2L401.4 365.2L400.4 368.0L399.4 370.7L398.4 373.2L397.4 375.6L396.4 377.8L395.4 380.0L394.4 382.1L393.4 384.2L392.4 386.1L391.4 388.1L390.4 390.2L389.4 392.5L388.4 395.0L387.4 398.0L386.4 401.5L385.4 405.5L384.4 409.5L383.4 413.5L382.4 417.5L381.4 421.5L380.4 425.5L379.4 429.5L378.4 433.5L377.4 437.5L376.4 441.4L375.4 444.9L374.4 448.2L373.4 452.0L372.4 457.5L371.4 464.3L370.4 471.9L369.4 478.8L368.4 484.5L367.4 488.9L366.4 490.5L365.4 489.2L364.4 485.8L363.4 481.0L362.4 475.7L361.4 470.1L360.4 463.4L359.4 455.3L358.4 447.5L357.4 440.2L356.4 432.9L355.4 425.5L354.4 418.0L353.4 410.0L352.4 400.3L351.4 389.9L350.4 380.5L349.4 371.3L348.4 362.1L347.4 352.8L346.4 343.6L345.4 333.9L344.4 323.7L343.4 314.7L342.4 309.2L341.4 305.0L340.4 299.5L339.4 290.3L338.4 278.2L337.4 266.7L336.4 256.8L335.4 247.0L334.4 237.6L333.4 228.9L332.4 221.1L331.4 214.3L330.4 208.3L329.4 202.7L328.4 197.4L327.4 192.4L326.4 188.2L325.4 185.1L324.4 182.7L323.4 181.0L322.4 180.2L321.4 180.4L320.4 181.7L319.4 183.9L318.4 186.8L317.4 190.5L316.4 195.1L315.4 200.3L314.4 205.9L313.4 211.1L312.4 216.2L311.4 224.8L310.4 238.6L309.4 254.5L308.4 271.1L307.4 286.8L306.4 301.8L305.4 316.8L304.4 331.8L303.4 346.8L302.4 360.9L301.4 374.0L300.4 386.5L299.4 398.5L298.4 409.4L297.4 418.7L296.4 427.5L295.4 430.7L294.4 428.5L293.4 424.7L292.4 420.5L291.4 416.3L290.4 412.8L289.4 409.8L288.4 406.7L287.4 403.3L286.4 399.6L285.4 395.3L284.4 390.1L283.4 383.3L282.4 375.4L281.4 366.9L280.4 358.2L279.4 349.5L278.4 341.4L277.4 334.0L276.4 325.7L275.4 315.7L274.4 305.7L273.4 295.7L272.4 285.7L271.4 275.7L270.4 265.7L269.4 255.7L268.4 245.7L267.4 235.7L266.4 224.4L265.4 204.6L264.4 193.2L263.4 183.7L262.4 175.4L261.4 167.1L260.4 158.1L259.4 148.9L258.4 141.8L257.4 134.8L256.4 127.8L255.4 120.8L254.4 114.4L253.4 108.7L252.4 103.4L251.4 99.0L250.4 96.2L249.4 94.4L248.4 93.2L247.4 93.2L246.4 95.0L245.4 98.0L244.4 102.1L243.4 108.8L242.4 118.6L241.4 131.0L240.4 143.3L239.4 155.3L238.4 167.3L237.4 179.3L236.4 191.3L235.4 203.3L234.4 219.5L233.4 240.0L232.4 250.0L231.4 260.0L230.4 270.0L229.4 280.0L228.4 290.0L227.4 300.0L226.4 310.0L225.4 320.0L224.4 329.5L223.4 337.2L222.4 344.7L221.4 353.2L220.4 362.0L219.4 370.6L218.4 378.2L217.4 384.8L216.4 390.8L215.4 396.9L214.4 403.6L213.4 411.5L212.4 420.8L211.4 430.2L210.4 438.3L209.4 445.7L208.4 454.3L207.4 464.3L206.4 474.3L205.4 484.3L204.4 494.3L203.4 504.2L202.4 513.7L201.4 522.5L200.4 530.6L199.4 538.5L198.4 546.1L197.4 552.6L196.4 553.2L195.4 547.1L194.4 539.6L193.4 531.3L192.4 523.0L191.4 514.4L190.4 505.6L189.4 496.4L188.4 486.4L187.4 476.4L186.4 466.4L185.4 456.4L184.4 446.4L183.4 436.4L182.4 426.4L181.4 416.4L180.4 406.4L179.4 396.4L178.4 386.4L177.4 376.4L176.4 366.4L175.4 356.4L174.4 346.4L173.4 334.1L172.4 317.8L171.4 301.3L170.4 288.4L169.4 278.5L168.4 268.5L167.4 257.6L166.4 246.6L165.4 235.9L164.4 225.4L163.4 215.5L162.4 205.1L161.4 194.2L160.4 185.5L159.4 177.7L158.4 170.2L157.4 162.7L156.4 155.2L155.4 147.9L154.4 141.1L153.4 135.1L152.4 129.4L151.4 124.3L150.4 120.2L149.4 116.8L148.4 114.0L147.4 112.5L146.4 112.3L145.4 113.2L144.4 115.3L143.4 118.6L142.4 123.3L141.4 128.8L140.4 134.7L139.4 141.0L138.4 147.7L137.4 155.1L136.4 162.4L135.4 169.6L134.4 177.0L133.4 184.6L132.4 192.9L131.4 205.0L130.4 217.6L129.4 230.1L128.4 242.6L127.4 255.1L126.4 267.6L125.4 280.1L124.4 292.4L123.4 302.2L122.4 308.9L121.4 313.8L120.4 317.9L119.4 322.0L118.4 323.7L117.4 325.2L116.4 330.5L115.4 339.2L114.4 347.8L113.4 356.1L112.4 363.9L111.4 371.5L110.4 378.9L109.4 385.5L108.4 390.4L107.4 393.5L106.4 393.3L105.4 390.7L104.4 387.2L103.4 382.5L102.4 376.8L101.4 370.8L100.4 364.8L99.4 358.9L98.4 353.4L97.4 351.0L96.4 352.3L95.4 355.2L94.4 357.5L93.4 358.5L92.4 354.2L91.4 348.9L90.4 343.6L89.4 338.2L88.4 333.0L87.4 327.8L86.4 322.7L85.4 317.9L84.4 314.9L83.4 313.7L82.4 313.0L81.4 312.6L80.4 312.2L79.4 311.9L78.4 311.9L77.4 312.3L76.4 312.7L75.4 313.2L74.4 313.7L73.4 314.3Z" fill="none" stroke="#9c2020" stroke-width="1.15" stroke-linejoin="round"/>
<path d="M73.4 293.6L74.4 294.6L75.4 295.7L76.4 296.9L77.4 298.1L78.4 299.4L79.4 300.9L80.4 302.5L81.4 304.4L82.4 306.4L83.4 308.5L84.4 310.5L85.4 312.7L86.4 314.9L87.4 317.3L88.4 319.6L89.4 321.9L90.4 324.3L91.4 326.7L92.4 329.1L93.4 330.9L94.4 331.7L95.4 330.9L96.4 329.1L97.4 327.0L98.4 325.1L99.4 323.2L100.4 322.0L101.4 321.6L102.4 321.4L103.4 321.2L104.4 321.0L105.4 320.7L106.4 319.4L107.4 316.6L108.4 311.7L109.4 306.1L110.4 300.3L111.4 294.0L112.4 286.8L113.4 279.3L114.4 271.8L115.4 264.4L116.4 257.0L117.4 249.6L118.4 241.6L119.4 233.5L120.4 225.6L121.4 218.0L122.4 210.3L123.4 201.3L124.4 190.6L125.4 179.4L126.4 168.5L127.4 159.0L128.4 151.3L129.4 145.0L130.4 139.6L131.4 134.3L132.4 129.3L133.4 124.7L134.4 120.4L135.4 116.6L136.4 113.1L137.4 110.0L138.4 107.0L139.4 104.2L140.4 101.7L141.4 99.4L142.4 97.5L143.4 95.8L144.4 94.3L145.4 93.1L146.4 92.5L147.4 92.5L148.4 93.2L149.4 94.4L150.4 95.8L151.4 97.4L152.4 99.3L153.4 101.4L154.4 103.7L155.4 106.2L156.4 109.0L157.4 111.9L158.4 115.1L159.4 118.6L160.4 122.2L161.4 126.0L162.4 129.9L163.4 133.9L164.4 138.0L165.4 142.0L166.4 146.3L167.4 150.8L168.4 156.0L169.4 162.2L170.4 169.1L171.4 176.7L172.4 184.5L173.4 192.3L174.4 200.2L175.4 208.1L176.4 216.0L177.4 223.9L178.4 231.9L179.4 239.9L180.4 247.9L181.4 255.9L182.4 263.9L183.4 271.9L184.4 279.9L185.4 287.9L186.4 295.9L187.4 303.9L188.4 311.9L189.4 319.9L190.4 328.3L191.4 337.0L192.4 345.6L193.4 353.9L194.4 362.2L195.4 370.3L196.4 378.1L197.4 383.3L198.4 385.9L199.4 387.4L200.4 387.8L201.4 387.4L202.4 386.9L203.4 386.1L204.4 385.0L205.4 383.8L206.4 382.5L207.4 380.9L208.4 378.9L209.4 376.6L210.4 374.1L211.4 371.4L212.4 368.3L213.4 364.7L214.4 360.6L215.4 355.9L216.4 350.6L217.4 344.9L218.4 338.8L219.4 332.5L220.4 325.9L221.4 318.7L222.4 311.1L223.4 303.0L224.4 294.4L225.4 285.2L226.4 275.8L227.4 266.1L228.4 256.0L229.4 245.4L230.4 233.2L231.4 217.7L232.4 196.8L233.4 175.2L234.4 157.8L235.4 145.7L236.4 133.7L237.4 121.2L238.4 109.0L239.4 98.0L240.4 89.9L241.4 85.5L242.4 82.5L243.4 80.0L244.4 77.8L245.4 76.0L246.4 74.3L247.4 72.8L248.4 71.5L249.4 70.7L250.4 70.9L251.4 71.9L252.4 73.8L253.4 76.9L254.4 81.4L255.4 86.6L256.4 92.7L257.4 99.4L258.4 106.9L259.4 114.9L260.4 122.9L261.4 130.9L262.4 138.9L263.4 146.9L264.4 155.0L265.4 164.1L266.4 175.2L267.4 190.1L268.4 206.5L269.4 221.9L270.4 234.3L271.4 245.3L272.4 255.4L273.4 265.4L274.4 275.4L275.4 285.4L276.4 295.4L277.4 305.4L278.4 315.4L279.4 325.4L280.4 335.4L281.4 345.3L282.4 353.1L283.4 359.7L284.4 366.2L285.4 371.7L286.4 375.9L287.4 379.0L288.4 381.3L289.4 383.0L290.4 384.2L291.4 384.7L292.4 384.5L293.4 383.2L294.4 381.0L295.4 376.9L296.4 371.0L297.4 363.5L298.4 353.3L299.4 341.7L300.4 329.4L301.4 311.8L302.4 276.2L303.4 235.4L304.4 205.5L305.4 193.3L306.4 185.6L307.4 179.8L308.4 174.2L309.4 169.6L310.4 165.7L311.4 162.4L312.4 159.8L313.4 157.9L314.4 156.3L315.4 155.1L316.4 154.3L317.4 153.8L318.4 153.6L319.4 153.7L320.4 154.3L321.4 155.2L322.4 156.5L323.4 158.3L324.4 160.8L325.4 164.0L326.4 167.6L327.4 171.8L328.4 176.3L329.4 180.9L330.4 185.8L331.4 190.9L332.4 196.2L333.4 201.8L334.4 207.8L335.4 214.6L336.4 221.8L337.4 229.7L338.4 238.2L339.4 247.3L340.4 257.0L341.4 268.3L342.4 280.5L343.4 290.2L344.4 298.2L345.4 305.7L346.4 313.8L347.4 323.4L348.4 333.4L349.4 343.5L350.4 353.6L351.4 363.5L352.4 372.9L353.4 382.0L354.4 391.2L355.4 400.4L356.4 409.7L357.4 418.2L358.4 425.7L359.4 433.2L360.4 440.4L361.4 446.9L362.4 452.3L363.4 456.2L364.4 459.2L365.4 461.6L366.4 462.9L367.4 463.0L368.4 461.7L369.4 457.9L370.4 453.4L371.4 448.7L372.4 444.0L373.4 439.3L374.4 434.6L375.4 429.8L376.4 424.9L377.4 419.9L378.4 414.7L379.4 409.5L380.4 404.1L381.4 398.8L382.4 393.6L383.4 388.6L384.4 383.7L385.4 378.9L386.4 374.5L387.4 370.6L388.4 367.2L389.4 364.0L390.4 361.0L391.4 358.1L392.4 355.4L393.4 352.6L394.4 349.9L395.4 347.1L396.4 344.4L397.4 341.6L398.4 338.9L399.4 336.1L400.4 333.4L401.4 330.6L402.4 327.9L403.4 325.1L404.4 322.4L405.4 319.6L406.4 316.9L407.4 314.2L408.4 311.6L409.4 309.2L410.4 306.8L411.4 304.1L412.4 301.1L413.4 297.9L414.4 294.2L415.4 290.0L416.4 285.4L417.4 280.7L418.4 275.9L419.4 271.1L420.4 266.3L421.4 261.7L422.4 257.6L423.4 252.9L424.4 246.6L425.4 239.9L426.4 233.3L427.4 226.6L428.4 219.9L429.4 213.3L430.4 206.6L431.4 199.9L432.4 193.3L433.4 186.9L434.4 180.9L435.4 175.2L436.4 170.0L437.4 165.7L438.4 162.4L439.4 160.3L440.4 159.2L441.4 158.8L442.4 158.9L443.4 159.8L444.4 161.5L445.4 163.6L446.4 168.0L447.4 178.6L448.4 193.5L449.4 209.3L450.4 225.6L451.4 240.5L452.4 253.3L453.4 264.8L454.4 275.6L455.4 285.8L456.4 294.8L457.4 300.8L458.4 303.7L459.4 304.3L460.4 304.4L461.4 305.7L462.4 310.3L463.4 321.4L464.4 333.8L465.4 346.3L466.4 357.8L467.4 367.6L468.4 375.5L469.4 382.4L470.4 388.5L471.4 394.6L472.4 401.3L473.4 408.6L474.4 415.7L475.4 422.4L476.4 428.6L477.4 433.6L478.4 437.2L479.4 440.2L480.4 443.0L481.4 445.7L482.4 448.3L483.4 450.8L484.4 453.4L485.4 455.9L486.4 458.3L487.4 460.5L488.4 462.6L489.4 464.5L490.4 466.3L491.4 468.0L492.4 469.5L493.4 470.9L494.4 472.2L495.4 473.4L496.4 474.5L497.4 475.3L498.4 475.9L499.4 476.3L500.4 476.6L501.4 477.0L502.4 477.4L503.4 477.9L504.4 478.4L505.4 478.9L506.4 479.4L507.4 479.9L508.4 480.4L509.4 480.9L510.4 481.4L511.4 481.8L512.4 482.2L513.4 482.6L514.4 482.9L515.4 483.2L516.4 483.6L517.4 483.9L518.4 484.2L519.4 484.5L520.4 484.7L521.4 485.0L522.4 485.3L523.4 485.6L524.4 485.8L525.4 486.0L526.4 486.1L527.4 486.3L528.4 486.4L529.4 486.5L530.4 486.6L531.4 486.6L532.4 486.5L533.4 486.1L534.4 485.7L535.4 485.3L536.4 484.7L537.4 483.9L538.4 482.8L539.4 481.5L540.4 479.5L541.4 476.2L542.4 472.1L543.4 465.5L544.4 454.2L545.4 441.8L546.4 432.0L547.4 421.6L548.4 409.3L549.4 397.2L550.4 386.7L551.4 377.5L552.4 370.5L553.4 364.7L554.4 359.6L555.4 354.9L556.4 350.2L557.4 345.5L558.4 340.9L559.4 336.2L560.4 331.5L561.4 327.0L562.4 322.8L563.4 318.6L564.4 314.4L565.4 310.5L566.4 306.7L567.4 303.3L568.4 300.1L569.4 297.3L570.4 294.7L571.4 291.9L572.4 288.7L573.4 285.0L574.4 281.2L575.4 277.2L576.4 273.2L577.4 269.0L578.4 264.4L579.4 259.3L580.4 252.5L581.4 244.1L582.4 234.9L583.4 226.0L584.4 218.5L585.4 212.0L586.4 206.0L587.4 200.6L588.4 195.6L589.4 191.1L590.4 186.9L591.4 183.2L592.4 180.1L593.4 177.7L594.4 175.9L595.4 174.4L596.4 173.3L597.4 172.3L598.4 171.5L599.4 171.2L600.4 171.3L601.4 171.8L602.4 172.7L603.4 174.1L604.4 175.8L605.4 177.5L606.4 179.3L607.4 181.2L608.4 183.2L609.4 185.3L610.4 187.3L611.4 189.1L612.4 190.7L613.4 192.3L614.4 193.8L615.4 195.2L616.4 196.5L617.4 197.7L618.4 198.9L619.4 200.0L620.4 201.2L621.4 202.3L622.4 203.5L623.4 204.8L624.4 206.2L625.4 207.6L626.4 209.1L627.4 210.6L628.4 212.5L629.4 214.8L630.4 217.4L631.4 220.3L632.4 223.5L633.4 227.1L634.4 230.9L635.4 234.8L636.4 239.0L637.4 243.5L638.4 248.3L639.4 252.9L640.4 256.8L641.4 260.0L642.4 262.6L643.4 264.6L644.4 266.1L645.4 267.2L646.4 267.8L647.4 267.7L648.4 266.8L649.4 264.9L650.4 262.1L651.4 257.8L652.4 252.3L653.4 246.1L654.4 239.5L655.4 232.2L656.4 224.2L657.4 216.2L658.4 208.2L659.4 200.2L660.4 192.2L661.4 184.3L662.4 177.1L663.4 170.9L664.4 165.9L665.4 162.2L666.4 159.3L667.4 157.0L668.4 155.4L669.4 154.5L670.4 153.9L671.4 153.7L672.4 154.0L673.4 154.7L674.4 156.0L675.4 157.8L676.4 160.2L677.4 163.1L678.4 166.5L679.4 170.3L680.4 174.4L681.4 178.7L682.4 183.5L683.4 188.9L684.4 194.7L685.4 200.9L686.4 207.6L687.4 214.2L688.4 220.9L689.4 227.5L690.4 234.1L691.4 240.9L692.4 248.0L693.4 255.4L694.4 262.8L695.4 270.2L696.4 277.5L697.4 284.8L698.4 292.3L699.4 299.7L700.4 306.4L701.4 310.8L702.4 316.2L703.4 323.4L704.4 330.2L705.4 334.9L706.4 336.2L707.4 335.4L708.4 332.8L709.4 328.1L710.4 322.0L711.4 315.0L712.4 306.9L713.4 297.6L714.4 285.5L715.4 272.9L716.4 263.3L717.4 255.2L718.4 248.2L719.4 242.8L720.4 239.0L721.4 236.3L722.4 234.7L723.4 233.3L724.4 232.3L725.4 231.7L726.4 231.1L727.4 230.6L728.4 230.3L729.4 230.2L730.4 230.1L731.4 230.0L732.4 229.9L733.4 229.9L734.4 229.9L735.4 229.9L736.4 229.9L737.4 229.9L738.4 229.9L739.4 230.0L740.4 230.1L741.4 230.2L742.4 230.3L742.7 230.3" fill="none" stroke="#ff0000" stroke-width="6.2" stroke-linecap="round" stroke-linejoin="round"/>
<circle cx="146.4" cy="90.9" r="7.9" fill="#0000ff" stroke="#000" stroke-width="1"/>
<circle cx="238.9" cy="105.0" r="7.9" fill="#0000ff" stroke="#000" stroke-width="1"/>
<circle cx="249.0" cy="68.6" r="7.9" fill="#0000ff" stroke="#000" stroke-width="1"/>
<circle cx="243.7" cy="83.3" r="7.9" fill="#0000ff" stroke="#000" stroke-width="1"/>
<circle cx="264.1" cy="144.2" r="7.9" fill="#0000ff" stroke="#000" stroke-width="1"/>
<circle cx="268.2" cy="189.9" r="7.9" fill="#0000ff" stroke="#000" stroke-width="1"/>
<circle cx="267.7" cy="182.1" r="7.9" fill="#0000ff" stroke="#000" stroke-width="1"/>
<circle cx="323.0" cy="141.6" r="7.9" fill="#0000ff" stroke="#000" stroke-width="1"/>
<circle cx="333.1" cy="190.9" r="7.9" fill="#0000ff" stroke="#000" stroke-width="1"/>
<circle cx="335.1" cy="221.7" r="7.9" fill="#0000ff" stroke="#000" stroke-width="1"/>
<circle cx="83.0" cy="305.8" r="7.9" fill="#0000ff" stroke="#000" stroke-width="1"/>
<circle cx="219.4" cy="355.8" r="7.9" fill="#0000ff" stroke="#000" stroke-width="1"/>
<circle cx="277.5" cy="329.5" r="7.9" fill="#0000ff" stroke="#000" stroke-width="1"/>
<circle cx="282.1" cy="370.0" r="7.9" fill="#0000ff" stroke="#000" stroke-width="1"/>
<circle cx="288.1" cy="404.1" r="7.9" fill="#0000ff" stroke="#000" stroke-width="1"/>
<circle cx="355.6" cy="431.1" r="7.9" fill="#0000ff" stroke="#000" stroke-width="1"/>
<circle cx="373.5" cy="443.2" r="7.9" fill="#0000ff" stroke="#000" stroke-width="1"/>
<circle cx="379.9" cy="424.0" r="7.9" fill="#0000ff" stroke="#000" stroke-width="1"/>
<circle cx="385.4" cy="393.2" r="7.9" fill="#0000ff" stroke="#000" stroke-width="1"/>
<circle cx="384.4" cy="397.2" r="7.9" fill="#0000ff" stroke="#000" stroke-width="1"/>
<circle cx="413.0" cy="317.9" r="7.9" fill="#0000ff" stroke="#000" stroke-width="1"/>
<circle cx="423.5" cy="268.2" r="7.9" fill="#0000ff" stroke="#000" stroke-width="1"/>
<circle cx="425.3" cy="251.3" r="7.9" fill="#0000ff" stroke="#000" stroke-width="1"/>
<circle cx="440.4" cy="128.8" r="7.9" fill="#0000ff" stroke="#000" stroke-width="1"/>
<circle cx="446.5" cy="101.7" r="7.9" fill="#0000ff" stroke="#000" stroke-width="1"/>
<circle cx="462.2" cy="237.4" r="7.9" fill="#0000ff" stroke="#000" stroke-width="1"/>
<circle cx="616.8" cy="196.5" r="7.9" fill="#0000ff" stroke="#000" stroke-width="1"/>
<circle cx="658.5" cy="212.1" r="7.9" fill="#0000ff" stroke="#000" stroke-width="1"/>
<circle cx="738.6" cy="238.7" r="7.9" fill="#0000ff" stroke="#000" stroke-width="1"/>
<circle cx="729.2" cy="223.0" r="7.9" fill="#0000ff" stroke="#000" stroke-width="1"/>
<circle cx="476.3" cy="421.5" r="7.9" fill="#0000ff" stroke="#000" stroke-width="1"/>
<circle cx="478.3" cy="433.6" r="7.9" fill="#0000ff" stroke="#000" stroke-width="1"/>
<circle cx="496.5" cy="484.7" r="7.9" fill="#0000ff" stroke="#000" stroke-width="1"/>
<circle cx="525.1" cy="484.7" r="7.9" fill="#0000ff" stroke="#000" stroke-width="1"/>
<circle cx="515.5" cy="484.7" r="7.9" fill="#0000ff" stroke="#000" stroke-width="1"/>
<circle cx="544.0" cy="482.9" r="7.9" fill="#0000ff" stroke="#000" stroke-width="1"/>
<circle cx="554.6" cy="368.7" r="7.9" fill="#0000ff" stroke="#000" stroke-width="1"/>
<circle cx="568.3" cy="303.2" r="7.9" fill="#0000ff" stroke="#000" stroke-width="1"/>
<circle cx="700.2" cy="325.0" r="7.9" fill="#0000ff" stroke="#000" stroke-width="1"/>
<rect x="47.5" y="14.5" width="720" height="549" fill="none" stroke="#3a3a3a" stroke-width="1"/>
<line x1="71.80" y1="563.5" x2="71.80" y2="571" stroke="#3a3a3a" stroke-width="1"/>
<text x="72.50" y="590.1" class="ax" text-anchor="middle">0</text>
<line x1="239.15" y1="563.5" x2="239.15" y2="571" stroke="#3a3a3a" stroke-width="1"/>
<text x="239.85" y="590.1" class="ax" text-anchor="middle">100</text>
<line x1="406.50" y1="563.5" x2="406.50" y2="571" stroke="#3a3a3a" stroke-width="1"/>
<text x="407.20" y="590.1" class="ax" text-anchor="middle">200</text>
<line x1="573.85" y1="563.5" x2="573.85" y2="571" stroke="#3a3a3a" stroke-width="1"/>
<text x="574.55" y="590.1" class="ax" text-anchor="middle">300</text>
<line x1="741.20" y1="563.5" x2="741.20" y2="571" stroke="#3a3a3a" stroke-width="1"/>
<text x="741.90" y="590.1" class="ax" text-anchor="middle">400</text>
<line x1="39.8" y1="527.40" x2="47.5" y2="527.40" stroke="#3a3a3a" stroke-width="1"/>
<text transform="translate(30.3,526.80) rotate(-90)" class="ax" text-anchor="middle">-1.5</text>
<line x1="39.8" y1="447.90" x2="47.5" y2="447.90" stroke="#3a3a3a" stroke-width="1"/>
<text transform="translate(30.3,447.30) rotate(-90)" class="ax" text-anchor="middle">-1.0</text>
<line x1="39.8" y1="368.40" x2="47.5" y2="368.40" stroke="#3a3a3a" stroke-width="1"/>
<text transform="translate(30.3,367.80) rotate(-90)" class="ax" text-anchor="middle">-0.5</text>
<line x1="39.8" y1="288.90" x2="47.5" y2="288.90" stroke="#3a3a3a" stroke-width="1"/>
<text transform="translate(30.3,288.30) rotate(-90)" class="ax" text-anchor="middle">0.0</text>
<line x1="39.8" y1="209.40" x2="47.5" y2="209.40" stroke="#3a3a3a" stroke-width="1"/>
<text transform="translate(30.3,208.80) rotate(-90)" class="ax" text-anchor="middle">0.5</text>
<line x1="39.8" y1="129.90" x2="47.5" y2="129.90" stroke="#3a3a3a" stroke-width="1"/>
<text transform="translate(30.3,129.30) rotate(-90)" class="ax" text-anchor="middle">1.0</text>
<line x1="39.8" y1="50.40" x2="47.5" y2="50.40" stroke="#3a3a3a" stroke-width="1"/>
<text transform="translate(30.3,49.80) rotate(-90)" class="ax" text-anchor="middle">1.5</text>
<text x="118.8" y="50.5" class="big" text-anchor="end" fill="#4d4d4d">(f)</text>
<text x="760.5" y="67.3" class="big" text-anchor="end" fill="#4d4d4d">= 0.5</text>
<text x="760.5" y="118.3" class="big" text-anchor="end" fill="#4d4d4d">= 0.1</text>
<text x="624.5" y="64.6" class="sym" fill="#4d4d4d">ε</text>
<path d="M624.22 97.85 L623.94 95.79 L624.48 93.42 L625.74 91.75 L627.63 90.99 L629.37 91.12 L630.79 92.00 L631.90 93.58 L632.85 95.79 L634.27 99.58 L635.85 103.69 L637.43 107.48 L638.37 108.43 L639.32 107.16 L640.74 104.01 L641.85 100.53 L642.32 97.69 L642.42 95.16 L642.64 93.27 L643.43 91.84 L644.69 91.05 L646.11 90.90 L646.90 91.37 L647.06 92.32 L646.27 94.21 L644.69 97.69 L642.80 101.48 L640.90 105.58 L639.01 109.69 L637.58 112.85 L636.48 114.27 L635.53 112.53 L634.27 109.06 L632.85 105.27 L631.42 101.48 L630.16 98.00 L629.21 95.48 L628.42 93.90 L627.63 93.11 L626.53 93.01 L625.42 93.90 L624.85 95.48 L624.79 97.06Z" fill="#4d4d4d" stroke="#4d4d4d" stroke-width="0.3" stroke-linejoin="round"/>
<text x="645.6" y="39.4" class="sup" fill="#4d4d4d">2</text>
<text transform="translate(624,491.9) scale(1,1.045)" class="gk" fill="#808080">Exp</text>
</g>
</svg>
</body></html>
